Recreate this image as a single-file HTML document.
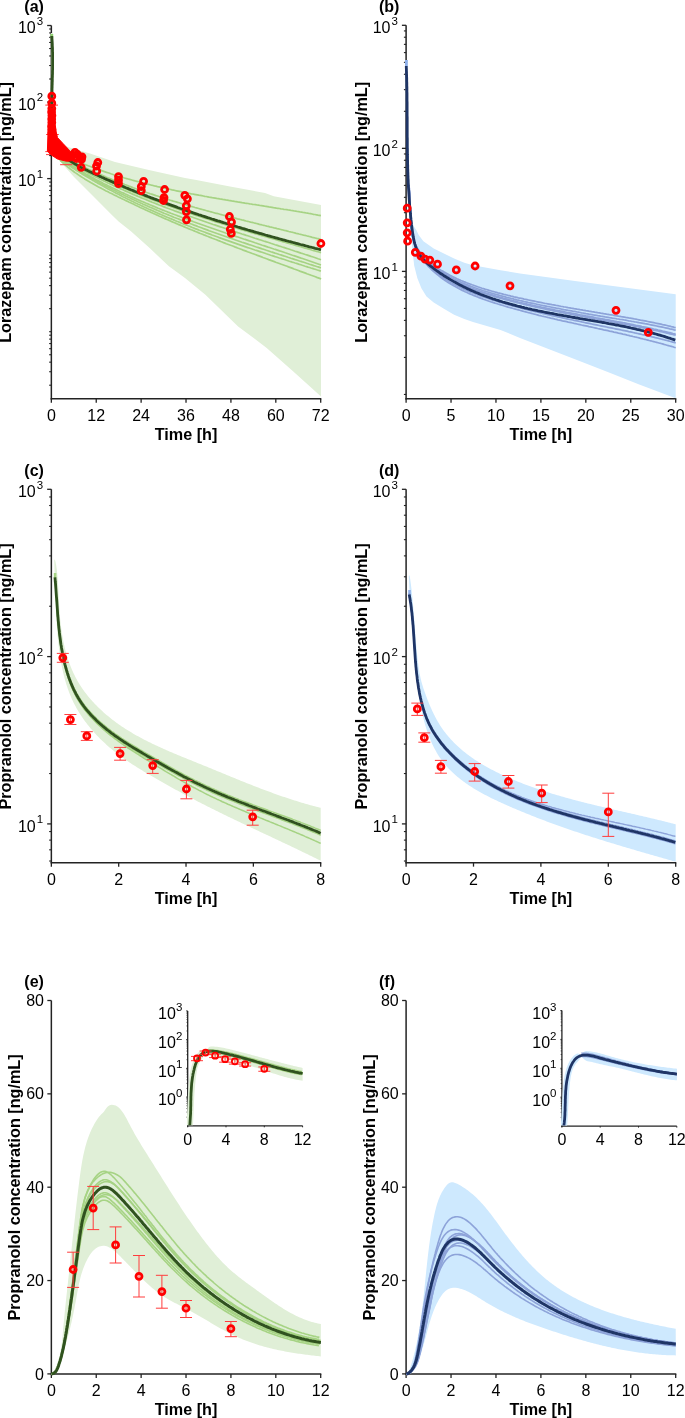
<!DOCTYPE html>
<html><head><meta charset="utf-8"><style>
html,body{margin:0;padding:0;background:#fff;}
svg{display:block;will-change:transform;}
text{font-family:"Liberation Sans", sans-serif;fill:#000;}
</style></head><body>
<svg width="685" height="1418" viewBox="0 0 685 1418">
<rect width="685" height="1418" fill="#fff"/>
<line x1="51.35" y1="25.50" x2="51.35" y2="399.50" stroke="#232323" stroke-width="1.5"/>
<line x1="50.65" y1="398.85" x2="321.30" y2="398.85" stroke="#232323" stroke-width="1.5"/>
<line x1="49.15" y1="385.21" x2="51.35" y2="385.21" stroke="#232323" stroke-width="1.1"/>
<line x1="49.15" y1="371.73" x2="51.35" y2="371.73" stroke="#232323" stroke-width="1.1"/>
<line x1="49.15" y1="362.16" x2="51.35" y2="362.16" stroke="#232323" stroke-width="1.1"/>
<line x1="49.15" y1="354.74" x2="51.35" y2="354.74" stroke="#232323" stroke-width="1.1"/>
<line x1="49.15" y1="348.68" x2="51.35" y2="348.68" stroke="#232323" stroke-width="1.1"/>
<line x1="49.15" y1="343.56" x2="51.35" y2="343.56" stroke="#232323" stroke-width="1.1"/>
<line x1="49.15" y1="339.12" x2="51.35" y2="339.12" stroke="#232323" stroke-width="1.1"/>
<line x1="49.15" y1="335.20" x2="51.35" y2="335.20" stroke="#232323" stroke-width="1.1"/>
<line x1="49.15" y1="331.70" x2="51.35" y2="331.70" stroke="#232323" stroke-width="1.1"/>
<line x1="49.15" y1="308.66" x2="51.35" y2="308.66" stroke="#232323" stroke-width="1.1"/>
<line x1="49.15" y1="295.18" x2="51.35" y2="295.18" stroke="#232323" stroke-width="1.1"/>
<line x1="49.15" y1="285.61" x2="51.35" y2="285.61" stroke="#232323" stroke-width="1.1"/>
<line x1="49.15" y1="278.19" x2="51.35" y2="278.19" stroke="#232323" stroke-width="1.1"/>
<line x1="49.15" y1="272.13" x2="51.35" y2="272.13" stroke="#232323" stroke-width="1.1"/>
<line x1="49.15" y1="267.01" x2="51.35" y2="267.01" stroke="#232323" stroke-width="1.1"/>
<line x1="49.15" y1="262.57" x2="51.35" y2="262.57" stroke="#232323" stroke-width="1.1"/>
<line x1="49.15" y1="258.65" x2="51.35" y2="258.65" stroke="#232323" stroke-width="1.1"/>
<line x1="49.15" y1="255.15" x2="51.35" y2="255.15" stroke="#232323" stroke-width="1.1"/>
<line x1="49.15" y1="232.11" x2="51.35" y2="232.11" stroke="#232323" stroke-width="1.1"/>
<line x1="49.15" y1="218.63" x2="51.35" y2="218.63" stroke="#232323" stroke-width="1.1"/>
<line x1="49.15" y1="209.06" x2="51.35" y2="209.06" stroke="#232323" stroke-width="1.1"/>
<line x1="49.15" y1="201.64" x2="51.35" y2="201.64" stroke="#232323" stroke-width="1.1"/>
<line x1="49.15" y1="195.58" x2="51.35" y2="195.58" stroke="#232323" stroke-width="1.1"/>
<line x1="49.15" y1="190.46" x2="51.35" y2="190.46" stroke="#232323" stroke-width="1.1"/>
<line x1="49.15" y1="186.02" x2="51.35" y2="186.02" stroke="#232323" stroke-width="1.1"/>
<line x1="49.15" y1="182.10" x2="51.35" y2="182.10" stroke="#232323" stroke-width="1.1"/>
<line x1="49.15" y1="155.56" x2="51.35" y2="155.56" stroke="#232323" stroke-width="1.1"/>
<line x1="49.15" y1="142.08" x2="51.35" y2="142.08" stroke="#232323" stroke-width="1.1"/>
<line x1="49.15" y1="132.51" x2="51.35" y2="132.51" stroke="#232323" stroke-width="1.1"/>
<line x1="49.15" y1="125.09" x2="51.35" y2="125.09" stroke="#232323" stroke-width="1.1"/>
<line x1="49.15" y1="119.03" x2="51.35" y2="119.03" stroke="#232323" stroke-width="1.1"/>
<line x1="49.15" y1="113.91" x2="51.35" y2="113.91" stroke="#232323" stroke-width="1.1"/>
<line x1="49.15" y1="109.47" x2="51.35" y2="109.47" stroke="#232323" stroke-width="1.1"/>
<line x1="49.15" y1="105.55" x2="51.35" y2="105.55" stroke="#232323" stroke-width="1.1"/>
<line x1="49.15" y1="79.01" x2="51.35" y2="79.01" stroke="#232323" stroke-width="1.1"/>
<line x1="49.15" y1="65.53" x2="51.35" y2="65.53" stroke="#232323" stroke-width="1.1"/>
<line x1="49.15" y1="55.96" x2="51.35" y2="55.96" stroke="#232323" stroke-width="1.1"/>
<line x1="49.15" y1="48.54" x2="51.35" y2="48.54" stroke="#232323" stroke-width="1.1"/>
<line x1="49.15" y1="42.48" x2="51.35" y2="42.48" stroke="#232323" stroke-width="1.1"/>
<line x1="49.15" y1="37.36" x2="51.35" y2="37.36" stroke="#232323" stroke-width="1.1"/>
<line x1="49.15" y1="32.92" x2="51.35" y2="32.92" stroke="#232323" stroke-width="1.1"/>
<line x1="49.15" y1="29.00" x2="51.35" y2="29.00" stroke="#232323" stroke-width="1.1"/>
<line x1="47.15" y1="178.60" x2="51.35" y2="178.60" stroke="#232323" stroke-width="1.3"/>
<text x="43.15" y="186.20" font-size="16" text-anchor="end">10<tspan font-size="11.5" dx="1" dy="-8.2">1</tspan></text>
<line x1="47.15" y1="102.05" x2="51.35" y2="102.05" stroke="#232323" stroke-width="1.3"/>
<text x="43.15" y="109.65" font-size="16" text-anchor="end">10<tspan font-size="11.5" dx="1" dy="-8.2">2</tspan></text>
<line x1="47.15" y1="25.50" x2="51.35" y2="25.50" stroke="#232323" stroke-width="1.3"/>
<text x="43.15" y="33.10" font-size="16" text-anchor="end">10<tspan font-size="11.5" dx="1" dy="-8.2">3</tspan></text>
<line x1="51.35" y1="398.85" x2="51.35" y2="402.85" stroke="#232323" stroke-width="1.3"/>
<text x="51.35" y="421.05" font-size="16" text-anchor="middle">0</text>
<line x1="96.24" y1="398.85" x2="96.24" y2="402.85" stroke="#232323" stroke-width="1.3"/>
<text x="96.24" y="421.05" font-size="16" text-anchor="middle">12</text>
<line x1="141.13" y1="398.85" x2="141.13" y2="402.85" stroke="#232323" stroke-width="1.3"/>
<text x="141.13" y="421.05" font-size="16" text-anchor="middle">24</text>
<line x1="186.02" y1="398.85" x2="186.02" y2="402.85" stroke="#232323" stroke-width="1.3"/>
<text x="186.02" y="421.05" font-size="16" text-anchor="middle">36</text>
<line x1="230.92" y1="398.85" x2="230.92" y2="402.85" stroke="#232323" stroke-width="1.3"/>
<text x="230.92" y="421.05" font-size="16" text-anchor="middle">48</text>
<line x1="275.81" y1="398.85" x2="275.81" y2="402.85" stroke="#232323" stroke-width="1.3"/>
<text x="275.81" y="421.05" font-size="16" text-anchor="middle">60</text>
<line x1="320.70" y1="398.85" x2="320.70" y2="402.85" stroke="#232323" stroke-width="1.3"/>
<text x="320.70" y="421.05" font-size="16" text-anchor="middle">72</text>
<line x1="406.10" y1="25.30" x2="406.10" y2="399.50" stroke="#232323" stroke-width="1.5"/>
<line x1="405.40" y1="398.85" x2="676.30" y2="398.85" stroke="#232323" stroke-width="1.5"/>
<line x1="403.90" y1="394.45" x2="406.10" y2="394.45" stroke="#232323" stroke-width="1.1"/>
<line x1="403.90" y1="357.41" x2="406.10" y2="357.41" stroke="#232323" stroke-width="1.1"/>
<line x1="403.90" y1="335.74" x2="406.10" y2="335.74" stroke="#232323" stroke-width="1.1"/>
<line x1="403.90" y1="320.37" x2="406.10" y2="320.37" stroke="#232323" stroke-width="1.1"/>
<line x1="403.90" y1="308.44" x2="406.10" y2="308.44" stroke="#232323" stroke-width="1.1"/>
<line x1="403.90" y1="298.70" x2="406.10" y2="298.70" stroke="#232323" stroke-width="1.1"/>
<line x1="403.90" y1="290.46" x2="406.10" y2="290.46" stroke="#232323" stroke-width="1.1"/>
<line x1="403.90" y1="283.32" x2="406.10" y2="283.32" stroke="#232323" stroke-width="1.1"/>
<line x1="403.90" y1="277.03" x2="406.10" y2="277.03" stroke="#232323" stroke-width="1.1"/>
<line x1="403.90" y1="234.36" x2="406.10" y2="234.36" stroke="#232323" stroke-width="1.1"/>
<line x1="403.90" y1="212.69" x2="406.10" y2="212.69" stroke="#232323" stroke-width="1.1"/>
<line x1="403.90" y1="197.32" x2="406.10" y2="197.32" stroke="#232323" stroke-width="1.1"/>
<line x1="403.90" y1="185.39" x2="406.10" y2="185.39" stroke="#232323" stroke-width="1.1"/>
<line x1="403.90" y1="175.65" x2="406.10" y2="175.65" stroke="#232323" stroke-width="1.1"/>
<line x1="403.90" y1="167.41" x2="406.10" y2="167.41" stroke="#232323" stroke-width="1.1"/>
<line x1="403.90" y1="160.27" x2="406.10" y2="160.27" stroke="#232323" stroke-width="1.1"/>
<line x1="403.90" y1="153.98" x2="406.10" y2="153.98" stroke="#232323" stroke-width="1.1"/>
<line x1="403.90" y1="111.31" x2="406.10" y2="111.31" stroke="#232323" stroke-width="1.1"/>
<line x1="403.90" y1="89.64" x2="406.10" y2="89.64" stroke="#232323" stroke-width="1.1"/>
<line x1="403.90" y1="74.27" x2="406.10" y2="74.27" stroke="#232323" stroke-width="1.1"/>
<line x1="403.90" y1="62.34" x2="406.10" y2="62.34" stroke="#232323" stroke-width="1.1"/>
<line x1="403.90" y1="52.60" x2="406.10" y2="52.60" stroke="#232323" stroke-width="1.1"/>
<line x1="403.90" y1="44.36" x2="406.10" y2="44.36" stroke="#232323" stroke-width="1.1"/>
<line x1="403.90" y1="37.22" x2="406.10" y2="37.22" stroke="#232323" stroke-width="1.1"/>
<line x1="403.90" y1="30.93" x2="406.10" y2="30.93" stroke="#232323" stroke-width="1.1"/>
<line x1="401.90" y1="271.40" x2="406.10" y2="271.40" stroke="#232323" stroke-width="1.3"/>
<text x="397.90" y="279.00" font-size="16" text-anchor="end">10<tspan font-size="11.5" dx="1" dy="-8.2">1</tspan></text>
<line x1="401.90" y1="148.35" x2="406.10" y2="148.35" stroke="#232323" stroke-width="1.3"/>
<text x="397.90" y="155.95" font-size="16" text-anchor="end">10<tspan font-size="11.5" dx="1" dy="-8.2">2</tspan></text>
<line x1="401.90" y1="25.30" x2="406.10" y2="25.30" stroke="#232323" stroke-width="1.3"/>
<text x="397.90" y="32.90" font-size="16" text-anchor="end">10<tspan font-size="11.5" dx="1" dy="-8.2">3</tspan></text>
<line x1="406.10" y1="398.85" x2="406.10" y2="402.85" stroke="#232323" stroke-width="1.3"/>
<text x="406.10" y="421.05" font-size="16" text-anchor="middle">0</text>
<line x1="451.03" y1="398.85" x2="451.03" y2="402.85" stroke="#232323" stroke-width="1.3"/>
<text x="451.03" y="421.05" font-size="16" text-anchor="middle">5</text>
<line x1="495.97" y1="398.85" x2="495.97" y2="402.85" stroke="#232323" stroke-width="1.3"/>
<text x="495.97" y="421.05" font-size="16" text-anchor="middle">10</text>
<line x1="540.90" y1="398.85" x2="540.90" y2="402.85" stroke="#232323" stroke-width="1.3"/>
<text x="540.90" y="421.05" font-size="16" text-anchor="middle">15</text>
<line x1="585.83" y1="398.85" x2="585.83" y2="402.85" stroke="#232323" stroke-width="1.3"/>
<text x="585.83" y="421.05" font-size="16" text-anchor="middle">20</text>
<line x1="630.77" y1="398.85" x2="630.77" y2="402.85" stroke="#232323" stroke-width="1.3"/>
<text x="630.77" y="421.05" font-size="16" text-anchor="middle">25</text>
<line x1="675.70" y1="398.85" x2="675.70" y2="402.85" stroke="#232323" stroke-width="1.3"/>
<text x="675.70" y="421.05" font-size="16" text-anchor="middle">30</text>
<line x1="51.35" y1="489.30" x2="51.35" y2="863.30" stroke="#232323" stroke-width="1.5"/>
<line x1="50.65" y1="862.65" x2="321.30" y2="862.65" stroke="#232323" stroke-width="1.5"/>
<line x1="49.15" y1="861.02" x2="51.35" y2="861.02" stroke="#232323" stroke-width="1.1"/>
<line x1="49.15" y1="849.82" x2="51.35" y2="849.82" stroke="#232323" stroke-width="1.1"/>
<line x1="49.15" y1="840.11" x2="51.35" y2="840.11" stroke="#232323" stroke-width="1.1"/>
<line x1="49.15" y1="831.56" x2="51.35" y2="831.56" stroke="#232323" stroke-width="1.1"/>
<line x1="49.15" y1="773.54" x2="51.35" y2="773.54" stroke="#232323" stroke-width="1.1"/>
<line x1="49.15" y1="744.08" x2="51.35" y2="744.08" stroke="#232323" stroke-width="1.1"/>
<line x1="49.15" y1="723.18" x2="51.35" y2="723.18" stroke="#232323" stroke-width="1.1"/>
<line x1="49.15" y1="706.96" x2="51.35" y2="706.96" stroke="#232323" stroke-width="1.1"/>
<line x1="49.15" y1="693.72" x2="51.35" y2="693.72" stroke="#232323" stroke-width="1.1"/>
<line x1="49.15" y1="682.52" x2="51.35" y2="682.52" stroke="#232323" stroke-width="1.1"/>
<line x1="49.15" y1="672.81" x2="51.35" y2="672.81" stroke="#232323" stroke-width="1.1"/>
<line x1="49.15" y1="664.26" x2="51.35" y2="664.26" stroke="#232323" stroke-width="1.1"/>
<line x1="49.15" y1="606.24" x2="51.35" y2="606.24" stroke="#232323" stroke-width="1.1"/>
<line x1="49.15" y1="576.78" x2="51.35" y2="576.78" stroke="#232323" stroke-width="1.1"/>
<line x1="49.15" y1="555.88" x2="51.35" y2="555.88" stroke="#232323" stroke-width="1.1"/>
<line x1="49.15" y1="539.66" x2="51.35" y2="539.66" stroke="#232323" stroke-width="1.1"/>
<line x1="49.15" y1="526.42" x2="51.35" y2="526.42" stroke="#232323" stroke-width="1.1"/>
<line x1="49.15" y1="515.22" x2="51.35" y2="515.22" stroke="#232323" stroke-width="1.1"/>
<line x1="49.15" y1="505.51" x2="51.35" y2="505.51" stroke="#232323" stroke-width="1.1"/>
<line x1="49.15" y1="496.96" x2="51.35" y2="496.96" stroke="#232323" stroke-width="1.1"/>
<line x1="47.15" y1="823.90" x2="51.35" y2="823.90" stroke="#232323" stroke-width="1.3"/>
<text x="43.15" y="831.50" font-size="16" text-anchor="end">10<tspan font-size="11.5" dx="1" dy="-8.2">1</tspan></text>
<line x1="47.15" y1="656.60" x2="51.35" y2="656.60" stroke="#232323" stroke-width="1.3"/>
<text x="43.15" y="664.20" font-size="16" text-anchor="end">10<tspan font-size="11.5" dx="1" dy="-8.2">2</tspan></text>
<line x1="47.15" y1="489.30" x2="51.35" y2="489.30" stroke="#232323" stroke-width="1.3"/>
<text x="43.15" y="496.90" font-size="16" text-anchor="end">10<tspan font-size="11.5" dx="1" dy="-8.2">3</tspan></text>
<line x1="51.35" y1="862.65" x2="51.35" y2="866.65" stroke="#232323" stroke-width="1.3"/>
<text x="51.35" y="884.85" font-size="16" text-anchor="middle">0</text>
<line x1="118.69" y1="862.65" x2="118.69" y2="866.65" stroke="#232323" stroke-width="1.3"/>
<text x="118.69" y="884.85" font-size="16" text-anchor="middle">2</text>
<line x1="186.02" y1="862.65" x2="186.02" y2="866.65" stroke="#232323" stroke-width="1.3"/>
<text x="186.02" y="884.85" font-size="16" text-anchor="middle">4</text>
<line x1="253.36" y1="862.65" x2="253.36" y2="866.65" stroke="#232323" stroke-width="1.3"/>
<text x="253.36" y="884.85" font-size="16" text-anchor="middle">6</text>
<line x1="320.70" y1="862.65" x2="320.70" y2="866.65" stroke="#232323" stroke-width="1.3"/>
<text x="320.70" y="884.85" font-size="16" text-anchor="middle">8</text>
<line x1="406.10" y1="489.30" x2="406.10" y2="863.30" stroke="#232323" stroke-width="1.5"/>
<line x1="405.40" y1="862.65" x2="676.30" y2="862.65" stroke="#232323" stroke-width="1.5"/>
<line x1="403.90" y1="861.02" x2="406.10" y2="861.02" stroke="#232323" stroke-width="1.1"/>
<line x1="403.90" y1="849.82" x2="406.10" y2="849.82" stroke="#232323" stroke-width="1.1"/>
<line x1="403.90" y1="840.11" x2="406.10" y2="840.11" stroke="#232323" stroke-width="1.1"/>
<line x1="403.90" y1="831.56" x2="406.10" y2="831.56" stroke="#232323" stroke-width="1.1"/>
<line x1="403.90" y1="773.54" x2="406.10" y2="773.54" stroke="#232323" stroke-width="1.1"/>
<line x1="403.90" y1="744.08" x2="406.10" y2="744.08" stroke="#232323" stroke-width="1.1"/>
<line x1="403.90" y1="723.18" x2="406.10" y2="723.18" stroke="#232323" stroke-width="1.1"/>
<line x1="403.90" y1="706.96" x2="406.10" y2="706.96" stroke="#232323" stroke-width="1.1"/>
<line x1="403.90" y1="693.72" x2="406.10" y2="693.72" stroke="#232323" stroke-width="1.1"/>
<line x1="403.90" y1="682.52" x2="406.10" y2="682.52" stroke="#232323" stroke-width="1.1"/>
<line x1="403.90" y1="672.81" x2="406.10" y2="672.81" stroke="#232323" stroke-width="1.1"/>
<line x1="403.90" y1="664.26" x2="406.10" y2="664.26" stroke="#232323" stroke-width="1.1"/>
<line x1="403.90" y1="606.24" x2="406.10" y2="606.24" stroke="#232323" stroke-width="1.1"/>
<line x1="403.90" y1="576.78" x2="406.10" y2="576.78" stroke="#232323" stroke-width="1.1"/>
<line x1="403.90" y1="555.88" x2="406.10" y2="555.88" stroke="#232323" stroke-width="1.1"/>
<line x1="403.90" y1="539.66" x2="406.10" y2="539.66" stroke="#232323" stroke-width="1.1"/>
<line x1="403.90" y1="526.42" x2="406.10" y2="526.42" stroke="#232323" stroke-width="1.1"/>
<line x1="403.90" y1="515.22" x2="406.10" y2="515.22" stroke="#232323" stroke-width="1.1"/>
<line x1="403.90" y1="505.51" x2="406.10" y2="505.51" stroke="#232323" stroke-width="1.1"/>
<line x1="403.90" y1="496.96" x2="406.10" y2="496.96" stroke="#232323" stroke-width="1.1"/>
<line x1="401.90" y1="823.90" x2="406.10" y2="823.90" stroke="#232323" stroke-width="1.3"/>
<text x="397.90" y="831.50" font-size="16" text-anchor="end">10<tspan font-size="11.5" dx="1" dy="-8.2">1</tspan></text>
<line x1="401.90" y1="656.60" x2="406.10" y2="656.60" stroke="#232323" stroke-width="1.3"/>
<text x="397.90" y="664.20" font-size="16" text-anchor="end">10<tspan font-size="11.5" dx="1" dy="-8.2">2</tspan></text>
<line x1="401.90" y1="489.30" x2="406.10" y2="489.30" stroke="#232323" stroke-width="1.3"/>
<text x="397.90" y="496.90" font-size="16" text-anchor="end">10<tspan font-size="11.5" dx="1" dy="-8.2">3</tspan></text>
<line x1="406.10" y1="862.65" x2="406.10" y2="866.65" stroke="#232323" stroke-width="1.3"/>
<text x="406.10" y="884.85" font-size="16" text-anchor="middle">0</text>
<line x1="473.50" y1="862.65" x2="473.50" y2="866.65" stroke="#232323" stroke-width="1.3"/>
<text x="473.50" y="884.85" font-size="16" text-anchor="middle">2</text>
<line x1="540.90" y1="862.65" x2="540.90" y2="866.65" stroke="#232323" stroke-width="1.3"/>
<text x="540.90" y="884.85" font-size="16" text-anchor="middle">4</text>
<line x1="608.30" y1="862.65" x2="608.30" y2="866.65" stroke="#232323" stroke-width="1.3"/>
<text x="608.30" y="884.85" font-size="16" text-anchor="middle">6</text>
<line x1="675.70" y1="862.65" x2="675.70" y2="866.65" stroke="#232323" stroke-width="1.3"/>
<text x="675.70" y="884.85" font-size="16" text-anchor="middle">8</text>
<line x1="51.35" y1="1000.50" x2="51.35" y2="1374.55" stroke="#232323" stroke-width="1.5"/>
<line x1="50.65" y1="1373.90" x2="321.30" y2="1373.90" stroke="#232323" stroke-width="1.5"/>
<line x1="47.35" y1="1373.90" x2="51.35" y2="1373.90" stroke="#232323" stroke-width="1.3"/>
<text x="43.95" y="1379.50" font-size="16" text-anchor="end">0</text>
<line x1="47.35" y1="1280.55" x2="51.35" y2="1280.55" stroke="#232323" stroke-width="1.3"/>
<text x="43.95" y="1286.15" font-size="16" text-anchor="end">20</text>
<line x1="47.35" y1="1187.20" x2="51.35" y2="1187.20" stroke="#232323" stroke-width="1.3"/>
<text x="43.95" y="1192.80" font-size="16" text-anchor="end">40</text>
<line x1="47.35" y1="1093.85" x2="51.35" y2="1093.85" stroke="#232323" stroke-width="1.3"/>
<text x="43.95" y="1099.45" font-size="16" text-anchor="end">60</text>
<line x1="47.35" y1="1000.50" x2="51.35" y2="1000.50" stroke="#232323" stroke-width="1.3"/>
<text x="43.95" y="1006.10" font-size="16" text-anchor="end">80</text>
<line x1="51.35" y1="1373.90" x2="51.35" y2="1377.90" stroke="#232323" stroke-width="1.3"/>
<text x="51.35" y="1396.10" font-size="16" text-anchor="middle">0</text>
<line x1="96.24" y1="1373.90" x2="96.24" y2="1377.90" stroke="#232323" stroke-width="1.3"/>
<text x="96.24" y="1396.10" font-size="16" text-anchor="middle">2</text>
<line x1="141.13" y1="1373.90" x2="141.13" y2="1377.90" stroke="#232323" stroke-width="1.3"/>
<text x="141.13" y="1396.10" font-size="16" text-anchor="middle">4</text>
<line x1="186.02" y1="1373.90" x2="186.02" y2="1377.90" stroke="#232323" stroke-width="1.3"/>
<text x="186.02" y="1396.10" font-size="16" text-anchor="middle">6</text>
<line x1="230.92" y1="1373.90" x2="230.92" y2="1377.90" stroke="#232323" stroke-width="1.3"/>
<text x="230.92" y="1396.10" font-size="16" text-anchor="middle">8</text>
<line x1="275.81" y1="1373.90" x2="275.81" y2="1377.90" stroke="#232323" stroke-width="1.3"/>
<text x="275.81" y="1396.10" font-size="16" text-anchor="middle">10</text>
<line x1="320.70" y1="1373.90" x2="320.70" y2="1377.90" stroke="#232323" stroke-width="1.3"/>
<text x="320.70" y="1396.10" font-size="16" text-anchor="middle">12</text>
<line x1="406.10" y1="1000.50" x2="406.10" y2="1374.55" stroke="#232323" stroke-width="1.5"/>
<line x1="405.40" y1="1373.90" x2="676.30" y2="1373.90" stroke="#232323" stroke-width="1.5"/>
<line x1="402.10" y1="1373.90" x2="406.10" y2="1373.90" stroke="#232323" stroke-width="1.3"/>
<text x="398.70" y="1379.50" font-size="16" text-anchor="end">0</text>
<line x1="402.10" y1="1280.55" x2="406.10" y2="1280.55" stroke="#232323" stroke-width="1.3"/>
<text x="398.70" y="1286.15" font-size="16" text-anchor="end">20</text>
<line x1="402.10" y1="1187.20" x2="406.10" y2="1187.20" stroke="#232323" stroke-width="1.3"/>
<text x="398.70" y="1192.80" font-size="16" text-anchor="end">40</text>
<line x1="402.10" y1="1093.85" x2="406.10" y2="1093.85" stroke="#232323" stroke-width="1.3"/>
<text x="398.70" y="1099.45" font-size="16" text-anchor="end">60</text>
<line x1="402.10" y1="1000.50" x2="406.10" y2="1000.50" stroke="#232323" stroke-width="1.3"/>
<text x="398.70" y="1006.10" font-size="16" text-anchor="end">80</text>
<line x1="406.10" y1="1373.90" x2="406.10" y2="1377.90" stroke="#232323" stroke-width="1.3"/>
<text x="406.10" y="1396.10" font-size="16" text-anchor="middle">0</text>
<line x1="451.03" y1="1373.90" x2="451.03" y2="1377.90" stroke="#232323" stroke-width="1.3"/>
<text x="451.03" y="1396.10" font-size="16" text-anchor="middle">2</text>
<line x1="495.97" y1="1373.90" x2="495.97" y2="1377.90" stroke="#232323" stroke-width="1.3"/>
<text x="495.97" y="1396.10" font-size="16" text-anchor="middle">4</text>
<line x1="540.90" y1="1373.90" x2="540.90" y2="1377.90" stroke="#232323" stroke-width="1.3"/>
<text x="540.90" y="1396.10" font-size="16" text-anchor="middle">6</text>
<line x1="585.83" y1="1373.90" x2="585.83" y2="1377.90" stroke="#232323" stroke-width="1.3"/>
<text x="585.83" y="1396.10" font-size="16" text-anchor="middle">8</text>
<line x1="630.77" y1="1373.90" x2="630.77" y2="1377.90" stroke="#232323" stroke-width="1.3"/>
<text x="630.77" y="1396.10" font-size="16" text-anchor="middle">10</text>
<line x1="675.70" y1="1373.90" x2="675.70" y2="1377.90" stroke="#232323" stroke-width="1.3"/>
<text x="675.70" y="1396.10" font-size="16" text-anchor="middle">12</text>
<path d="M51.00,33.00 L52.60,33.00 L52.90,60.00 L53.30,100.00 L54.50,125.00 L57.00,138.00 L62.00,145.00 L70.30,147.70 L90.00,153.50 L115.00,162.00 L150.00,170.20 L185.00,178.00 L195.00,179.70 L230.00,186.50 L265.00,193.00 L273.80,196.30 L321.00,205.10 L321.00,396.50 L293.30,371.40 L266.70,347.90 L238.10,326.40 L205.40,294.70 L185.00,278.00 L168.90,266.30 L149.90,248.30 L130.90,231.20 L118.60,221.50 L111.90,215.00 L93.00,196.10 L74.00,177.10 L60.70,161.90 L55.00,155.00 L52.50,148.00 L51.30,130.00 Z" fill="#e0efd7"/>
<path d="M57.7,152.6 59.0,153.3 60.4,154.0 61.8,154.6 63.1,155.2 64.5,155.9 65.9,156.5 67.3,157.1 68.6,157.7 70.0,158.3 71.4,158.9 72.8,159.5 74.2,160.1 75.6,160.7 77.0,161.3 78.4,161.9 79.8,162.5 81.2,163.0 82.6,163.6 84.0,164.1 85.4,164.7 86.8,165.2 88.2,165.8 89.6,166.3 91.0,166.8 92.4,167.4 93.8,167.9 95.2,168.4 96.6,168.9 98.1,169.4 99.5,169.9 100.9,170.4 102.3,170.9 103.7,171.4 105.2,171.9 106.6,172.4 108.0,172.8 109.5,173.3 110.9,173.8 112.3,174.2 113.7,174.7 115.2,175.1 116.6,175.6 118.1,176.0 119.5,176.5 120.9,176.9 122.4,177.3 123.8,177.8 125.3,178.2 126.7,178.6 128.2,179.0 129.6,179.4 131.1,179.8 132.5,180.2 134.0,180.6 135.4,181.0 136.9,181.4 138.3,181.8 139.8,182.2 141.2,182.6 142.7,183.0 144.2,183.3 145.6,183.7 147.1,184.1 148.6,184.4 150.0,184.8 151.5,185.2 153.0,185.5 154.4,185.9 155.9,186.2 157.4,186.6 158.8,186.9 160.3,187.2 161.8,187.6 163.2,187.9 164.7,188.2 166.2,188.6 167.7,188.9 169.1,189.2 170.6,189.5 172.1,189.9 173.6,190.2 175.1,190.5 176.5,190.8 178.0,191.1 179.5,191.4 181.0,191.7 182.5,192.0 183.9,192.3 185.4,192.6 186.9,192.9 188.4,193.2 189.9,193.5 191.4,193.8 192.9,194.0 194.3,194.3 195.8,194.6 197.3,194.9 198.8,195.2 200.3,195.4 201.8,195.7 203.3,196.0 204.8,196.3 206.3,196.5 207.7,196.8 209.2,197.1 210.7,197.3 212.2,197.6 213.7,197.8 215.2,198.1 216.7,198.4 218.2,198.6 219.7,198.9 221.2,199.1 222.7,199.4 224.2,199.6 225.7,199.9 227.2,200.1 228.7,200.4 230.1,200.6 231.6,200.9 233.1,201.1 234.6,201.4 236.1,201.6 237.6,201.9 239.1,202.1 240.6,202.3 242.1,202.6 243.6,202.8 245.1,203.1 246.6,203.3 248.1,203.5 249.6,203.8 251.1,204.0 252.6,204.3 254.1,204.5 255.6,204.7 257.1,205.0 258.5,205.2 260.0,205.5 261.5,205.7 263.0,205.9 264.5,206.2 266.0,206.4 267.5,206.6 269.0,206.9 270.5,207.1 272.0,207.3 273.5,207.6 275.0,207.8 276.5,208.1 277.9,208.3 279.4,208.5 280.9,208.8 282.4,209.0 283.9,209.3 285.4,209.5 286.9,209.7 288.4,210.0 289.9,210.2 291.3,210.5 292.8,210.7 294.3,211.0 295.8,211.2 297.3,211.5 298.8,211.7 300.2,212.0 301.7,212.2 303.2,212.5 304.7,212.7 306.2,213.0 307.6,213.2 309.1,213.5 310.6,213.7 312.1,214.0 313.5,214.3 315.0,214.5 316.5,214.8 318.0,215.1 319.4,215.3 320.9,215.6" fill="none" stroke="#a6d384" stroke-width="1.7"/>
<path d="M60.0,154.9 61.3,155.6 62.7,156.3 64.0,157.0 65.4,157.8 66.7,158.5 68.0,159.2 69.4,159.9 70.7,160.6 72.1,161.3 73.5,162.0 74.8,162.6 76.2,163.3 77.5,164.0 78.9,164.7 80.3,165.3 81.6,166.0 83.0,166.6 84.4,167.3 85.7,167.9 87.1,168.6 88.5,169.2 89.8,169.9 91.2,170.5 92.6,171.1 94.0,171.7 95.4,172.4 96.7,173.0 98.1,173.6 99.5,174.2 100.9,174.8 102.3,175.4 103.7,176.0 105.1,176.6 106.4,177.2 107.8,177.8 109.2,178.3 110.6,178.9 112.0,179.5 113.4,180.1 114.8,180.6 116.2,181.2 117.6,181.7 119.0,182.3 120.4,182.8 121.9,183.4 123.3,183.9 124.7,184.5 126.1,185.0 127.5,185.5 128.9,186.1 130.3,186.6 131.7,187.1 133.2,187.7 134.6,188.2 136.0,188.7 137.4,189.2 138.8,189.7 140.3,190.2 141.7,190.7 143.1,191.2 144.5,191.7 146.0,192.2 147.4,192.7 148.8,193.2 150.2,193.7 151.7,194.1 153.1,194.6 154.5,195.1 156.0,195.6 157.4,196.0 158.8,196.5 160.3,197.0 161.7,197.4 163.1,197.9 164.6,198.4 166.0,198.8 167.5,199.3 168.9,199.7 170.4,200.2 171.8,200.6 173.2,201.1 174.7,201.5 176.1,201.9 177.6,202.4 179.0,202.8 180.5,203.2 181.9,203.7 183.4,204.1 184.8,204.5 186.3,205.0 187.7,205.4 189.2,205.8 190.6,206.2 192.1,206.6 193.5,207.0 195.0,207.5 196.5,207.9 197.9,208.3 199.4,208.7 200.8,209.1 202.3,209.5 203.7,209.9 205.2,210.3 206.7,210.7 208.1,211.1 209.6,211.5 211.0,211.9 212.5,212.3 214.0,212.7 215.4,213.1 216.9,213.4 218.4,213.8 219.8,214.2 221.3,214.6 222.7,215.0 224.2,215.4 225.7,215.8 227.1,216.1 228.6,216.5 230.1,216.9 231.5,217.3 233.0,217.6 234.5,218.0 235.9,218.4 237.4,218.8 238.9,219.1 240.3,219.5 241.8,219.9 243.3,220.2 244.7,220.6 246.2,221.0 247.7,221.3 249.2,221.7 250.6,222.1 252.1,222.4 253.6,222.8 255.0,223.2 256.5,223.5 258.0,223.9 259.4,224.3 260.9,224.6 262.4,225.0 263.8,225.3 265.3,225.7 266.8,226.1 268.3,226.4 269.7,226.8 271.2,227.1 272.7,227.5 274.1,227.9 275.6,228.2 277.1,228.6 278.5,228.9 280.0,229.3 281.5,229.7 282.9,230.0 284.4,230.4 285.9,230.7 287.4,231.1 288.8,231.5 290.3,231.8 291.8,232.2 293.2,232.5 294.7,232.9 296.2,233.3 297.6,233.6 299.1,234.0 300.6,234.3 302.0,234.7 303.5,235.1 305.0,235.4 306.4,235.8 307.9,236.2 309.3,236.5 310.8,236.9 312.3,237.3 313.7,237.6 315.2,238.0 316.7,238.4 318.1,238.7 319.6,239.1 321.0,239.5" fill="none" stroke="#a6d384" stroke-width="1.7"/>
<path d="M60.0,156.0 61.3,156.7 62.6,157.5 63.9,158.2 65.2,159.0 66.5,159.7 67.9,160.5 69.2,161.2 70.5,162.0 71.8,162.7 73.2,163.4 74.5,164.2 75.8,164.9 77.1,165.6 78.5,166.3 79.8,167.0 81.2,167.7 82.5,168.4 83.8,169.1 85.2,169.8 86.5,170.5 87.9,171.2 89.2,171.9 90.6,172.6 91.9,173.3 93.3,173.9 94.6,174.6 96.0,175.3 97.3,175.9 98.7,176.6 100.0,177.3 101.4,177.9 102.7,178.6 104.1,179.2 105.5,179.8 106.8,180.5 108.2,181.1 109.6,181.8 110.9,182.4 112.3,183.0 113.7,183.6 115.1,184.3 116.4,184.9 117.8,185.5 119.2,186.1 120.6,186.7 122.0,187.3 123.3,187.9 124.7,188.5 126.1,189.1 127.5,189.7 128.9,190.3 130.3,190.9 131.7,191.4 133.0,192.0 134.4,192.6 135.8,193.2 137.2,193.7 138.6,194.3 140.0,194.9 141.4,195.4 142.8,196.0 144.2,196.6 145.6,197.1 147.0,197.7 148.4,198.2 149.8,198.8 151.2,199.3 152.6,199.9 154.0,200.4 155.4,200.9 156.9,201.5 158.3,202.0 159.7,202.5 161.1,203.1 162.5,203.6 163.9,204.1 165.3,204.6 166.7,205.1 168.2,205.7 169.6,206.2 171.0,206.7 172.4,207.2 173.8,207.7 175.3,208.2 176.7,208.7 178.1,209.2 179.5,209.7 180.9,210.2 182.4,210.7 183.8,211.2 185.2,211.7 186.7,212.2 188.1,212.7 189.5,213.2 190.9,213.6 192.4,214.1 193.8,214.6 195.2,215.1 196.7,215.6 198.1,216.0 199.5,216.5 201.0,217.0 202.4,217.4 203.8,217.9 205.3,218.4 206.7,218.8 208.1,219.3 209.6,219.8 211.0,220.2 212.5,220.7 213.9,221.1 215.3,221.6 216.8,222.1 218.2,222.5 219.7,223.0 221.1,223.4 222.5,223.9 224.0,224.3 225.4,224.7 226.9,225.2 228.3,225.6 229.8,226.1 231.2,226.5 232.6,227.0 234.1,227.4 235.5,227.8 237.0,228.3 238.4,228.7 239.9,229.1 241.3,229.6 242.8,230.0 244.2,230.4 245.7,230.9 247.1,231.3 248.6,231.7 250.0,232.2 251.5,232.6 252.9,233.0 254.4,233.4 255.8,233.9 257.3,234.3 258.7,234.7 260.2,235.1 261.6,235.6 263.1,236.0 264.5,236.4 266.0,236.8 267.4,237.3 268.9,237.7 270.3,238.1 271.8,238.5 273.2,238.9 274.7,239.3 276.1,239.8 277.6,240.2 279.0,240.6 280.5,241.0 281.9,241.4 283.4,241.9 284.8,242.3 286.3,242.7 287.7,243.1 289.2,243.5 290.6,243.9 292.1,244.3 293.5,244.8 295.0,245.2 296.4,245.6 297.9,246.0 299.3,246.4 300.8,246.8 302.2,247.3 303.7,247.7 305.1,248.1 306.6,248.5 308.0,248.9 309.5,249.3 310.9,249.7 312.3,250.2 313.8,250.6 315.2,251.0 316.7,251.4 318.1,251.8 319.6,252.2 321.0,252.7" fill="none" stroke="#a6d384" stroke-width="1.7"/>
<path d="M59.9,157.1 61.2,157.9 62.5,158.6 63.8,159.4 65.1,160.2 66.4,161.0 67.7,161.7 69.1,162.5 70.4,163.3 71.7,164.0 73.0,164.8 74.3,165.5 75.6,166.2 77.0,167.0 78.3,167.7 79.6,168.4 81.0,169.2 82.3,169.9 83.6,170.6 85.0,171.3 86.3,172.0 87.6,172.7 89.0,173.4 90.3,174.1 91.6,174.8 93.0,175.5 94.3,176.2 95.7,176.9 97.0,177.6 98.4,178.2 99.7,178.9 101.1,179.6 102.4,180.3 103.8,180.9 105.2,181.6 106.5,182.2 107.9,182.9 109.2,183.5 110.6,184.2 112.0,184.8 113.3,185.5 114.7,186.1 116.1,186.7 117.5,187.4 118.8,188.0 120.2,188.6 121.6,189.2 123.0,189.8 124.3,190.5 125.7,191.1 127.1,191.7 128.5,192.3 129.9,192.9 131.2,193.5 132.6,194.1 134.0,194.7 135.4,195.3 136.8,195.9 138.2,196.5 139.6,197.0 141.0,197.6 142.4,198.2 143.8,198.8 145.2,199.3 146.6,199.9 148.0,200.5 149.4,201.1 150.8,201.6 152.2,202.2 153.6,202.7 155.0,203.3 156.4,203.9 157.8,204.4 159.2,205.0 160.6,205.5 162.0,206.0 163.4,206.6 164.8,207.1 166.2,207.7 167.6,208.2 169.1,208.7 170.5,209.3 171.9,209.8 173.3,210.3 174.7,210.9 176.1,211.4 177.6,211.9 179.0,212.4 180.4,212.9 181.8,213.5 183.2,214.0 184.7,214.5 186.1,215.0 187.5,215.5 188.9,216.0 190.4,216.5 191.8,217.0 193.2,217.5 194.6,218.0 196.1,218.5 197.5,219.0 198.9,219.5 200.3,220.0 201.8,220.5 203.2,221.0 204.6,221.5 206.1,222.0 207.5,222.5 208.9,223.0 210.4,223.5 211.8,224.0 213.2,224.5 214.7,224.9 216.1,225.4 217.5,225.9 219.0,226.4 220.4,226.9 221.8,227.3 223.3,227.8 224.7,228.3 226.2,228.8 227.6,229.3 229.0,229.7 230.5,230.2 231.9,230.7 233.3,231.2 234.8,231.6 236.2,232.1 237.7,232.6 239.1,233.0 240.5,233.5 242.0,234.0 243.4,234.4 244.9,234.9 246.3,235.4 247.7,235.8 249.2,236.3 250.6,236.8 252.1,237.2 253.5,237.7 254.9,238.2 256.4,238.6 257.8,239.1 259.3,239.6 260.7,240.0 262.1,240.5 263.6,241.0 265.0,241.4 266.5,241.9 267.9,242.3 269.3,242.8 270.8,243.3 272.2,243.7 273.7,244.2 275.1,244.7 276.5,245.1 278.0,245.6 279.4,246.1 280.9,246.5 282.3,247.0 283.7,247.4 285.2,247.9 286.6,248.4 288.0,248.8 289.5,249.3 290.9,249.8 292.4,250.2 293.8,250.7 295.2,251.2 296.7,251.6 298.1,252.1 299.5,252.6 301.0,253.1 302.4,253.5 303.8,254.0 305.3,254.5 306.7,254.9 308.1,255.4 309.6,255.9 311.0,256.4 312.4,256.8 313.9,257.3 315.3,257.8 316.7,258.3 318.1,258.8 319.6,259.2 321.0,259.7" fill="none" stroke="#a6d384" stroke-width="1.7"/>
<path d="M59.9,158.1 61.1,159.0 62.4,159.8 63.7,160.6 65.0,161.4 66.3,162.2 67.6,163.0 68.9,163.8 70.1,164.6 71.4,165.4 72.7,166.2 74.0,167.0 75.3,167.8 76.6,168.6 78.0,169.3 79.3,170.1 80.6,170.9 81.9,171.6 83.2,172.4 84.5,173.1 85.8,173.9 87.2,174.6 88.5,175.3 89.8,176.1 91.1,176.8 92.5,177.5 93.8,178.2 95.1,179.0 96.4,179.7 97.8,180.4 99.1,181.1 100.5,181.8 101.8,182.5 103.1,183.2 104.5,183.9 105.8,184.5 107.2,185.2 108.5,185.9 109.9,186.6 111.2,187.3 112.6,187.9 113.9,188.6 115.3,189.2 116.7,189.9 118.0,190.6 119.4,191.2 120.8,191.9 122.1,192.5 123.5,193.1 124.9,193.8 126.2,194.4 127.6,195.0 129.0,195.7 130.4,196.3 131.7,196.9 133.1,197.5 134.5,198.1 135.9,198.8 137.2,199.4 138.6,200.0 140.0,200.6 141.4,201.2 142.8,201.8 144.2,202.4 145.6,203.0 147.0,203.5 148.4,204.1 149.7,204.7 151.1,205.3 152.5,205.9 153.9,206.4 155.3,207.0 156.7,207.6 158.1,208.2 159.5,208.7 160.9,209.3 162.3,209.9 163.7,210.4 165.2,211.0 166.6,211.5 168.0,212.1 169.4,212.6 170.8,213.2 172.2,213.7 173.6,214.3 175.0,214.8 176.4,215.3 177.9,215.9 179.3,216.4 180.7,216.9 182.1,217.5 183.5,218.0 184.9,218.5 186.4,219.1 187.8,219.6 189.2,220.1 190.6,220.6 192.0,221.1 193.5,221.7 194.9,222.2 196.3,222.7 197.7,223.2 199.2,223.7 200.6,224.2 202.0,224.7 203.5,225.2 204.9,225.7 206.3,226.2 207.7,226.7 209.2,227.2 210.6,227.7 212.0,228.2 213.5,228.7 214.9,229.2 216.3,229.7 217.8,230.2 219.2,230.7 220.6,231.2 222.1,231.7 223.5,232.2 224.9,232.7 226.4,233.2 227.8,233.6 229.2,234.1 230.7,234.6 232.1,235.1 233.6,235.6 235.0,236.1 236.4,236.6 237.9,237.0 239.3,237.5 240.7,238.0 242.2,238.5 243.6,239.0 245.1,239.4 246.5,239.9 247.9,240.4 249.4,240.9 250.8,241.3 252.2,241.8 253.7,242.3 255.1,242.8 256.6,243.2 258.0,243.7 259.4,244.2 260.9,244.7 262.3,245.2 263.8,245.6 265.2,246.1 266.6,246.6 268.1,247.1 269.5,247.5 270.9,248.0 272.4,248.5 273.8,249.0 275.3,249.4 276.7,249.9 278.1,250.4 279.6,250.9 281.0,251.3 282.4,251.8 283.9,252.3 285.3,252.8 286.7,253.2 288.2,253.7 289.6,254.2 291.0,254.7 292.5,255.2 293.9,255.6 295.3,256.1 296.8,256.6 298.2,257.1 299.6,257.6 301.1,258.1 302.5,258.5 303.9,259.0 305.3,259.5 306.8,260.0 308.2,260.5 309.6,261.0 311.1,261.5 312.5,262.0 313.9,262.5 315.3,263.0 316.8,263.5 318.2,264.0 319.6,264.5 321.0,265.0" fill="none" stroke="#a6d384" stroke-width="1.7"/>
<path d="M59.8,158.8 61.0,159.7 62.3,160.5 63.6,161.3 64.9,162.1 66.1,163.0 67.4,163.8 68.7,164.6 70.0,165.4 71.2,166.2 72.5,167.0 73.8,167.8 75.1,168.6 76.4,169.4 77.7,170.1 79.0,170.9 80.3,171.7 81.6,172.5 82.9,173.2 84.2,174.0 85.5,174.7 86.8,175.5 88.1,176.3 89.4,177.0 90.7,177.7 92.0,178.5 93.3,179.2 94.7,180.0 96.0,180.7 97.3,181.4 98.6,182.1 99.9,182.9 101.3,183.6 102.6,184.3 103.9,185.0 105.3,185.7 106.6,186.4 107.9,187.1 109.3,187.8 110.6,188.5 112.0,189.2 113.3,189.9 114.6,190.5 116.0,191.2 117.3,191.9 118.7,192.6 120.0,193.2 121.4,193.9 122.7,194.6 124.1,195.2 125.5,195.9 126.8,196.5 128.2,197.2 129.5,197.8 130.9,198.5 132.3,199.1 133.6,199.8 135.0,200.4 136.4,201.0 137.7,201.7 139.1,202.3 140.5,202.9 141.9,203.6 143.2,204.2 144.6,204.8 146.0,205.4 147.4,206.0 148.7,206.6 150.1,207.2 151.5,207.8 152.9,208.4 154.3,209.0 155.7,209.6 157.1,210.2 158.4,210.8 159.8,211.4 161.2,212.0 162.6,212.6 164.0,213.2 165.4,213.7 166.8,214.3 168.2,214.9 169.6,215.5 171.0,216.0 172.4,216.6 173.8,217.2 175.2,217.7 176.6,218.3 178.0,218.8 179.4,219.4 180.8,220.0 182.2,220.5 183.6,221.1 185.1,221.6 186.5,222.2 187.9,222.7 189.3,223.2 190.7,223.8 192.1,224.3 193.5,224.9 194.9,225.4 196.4,225.9 197.8,226.5 199.2,227.0 200.6,227.5 202.0,228.0 203.5,228.6 204.9,229.1 206.3,229.6 207.7,230.1 209.1,230.7 210.6,231.2 212.0,231.7 213.4,232.2 214.8,232.7 216.3,233.2 217.7,233.7 219.1,234.2 220.5,234.7 222.0,235.2 223.4,235.7 224.8,236.2 226.3,236.7 227.7,237.2 229.1,237.7 230.6,238.2 232.0,238.7 233.4,239.2 234.8,239.7 236.3,240.2 237.7,240.7 239.1,241.2 240.6,241.7 242.0,242.2 243.4,242.6 244.9,243.1 246.3,243.6 247.8,244.1 249.2,244.6 250.6,245.0 252.1,245.5 253.5,246.0 254.9,246.5 256.4,247.0 257.8,247.4 259.2,247.9 260.7,248.4 262.1,248.9 263.5,249.3 265.0,249.8 266.4,250.3 267.9,250.7 269.3,251.2 270.7,251.7 272.2,252.1 273.6,252.6 275.0,253.1 276.5,253.5 277.9,254.0 279.4,254.5 280.8,254.9 282.2,255.4 283.7,255.9 285.1,256.3 286.5,256.8 288.0,257.3 289.4,257.7 290.8,258.2 292.3,258.6 293.7,259.1 295.2,259.6 296.6,260.0 298.0,260.5 299.5,261.0 300.9,261.4 302.3,261.9 303.8,262.3 305.2,262.8 306.6,263.3 308.1,263.7 309.5,264.2 310.9,264.6 312.4,265.1 313.8,265.6 315.2,266.0 316.6,266.5 318.1,266.9 319.5,267.4 320.9,267.9" fill="none" stroke="#a6d384" stroke-width="1.7"/>
<path d="M59.7,159.4 61.0,160.2 62.2,161.1 63.5,161.9 64.7,162.8 66.0,163.6 67.3,164.5 68.5,165.3 69.8,166.1 71.0,166.9 72.3,167.8 73.6,168.6 74.9,169.4 76.1,170.2 77.4,171.0 78.7,171.8 80.0,172.6 81.2,173.4 82.5,174.2 83.8,175.0 85.1,175.7 86.4,176.5 87.7,177.3 89.0,178.1 90.3,178.8 91.6,179.6 92.9,180.4 94.2,181.1 95.5,181.9 96.8,182.6 98.1,183.4 99.4,184.1 100.7,184.8 102.0,185.6 103.4,186.3 104.7,187.0 106.0,187.8 107.3,188.5 108.6,189.2 110.0,189.9 111.3,190.6 112.6,191.3 114.0,192.0 115.3,192.7 116.6,193.4 118.0,194.1 119.3,194.8 120.6,195.5 122.0,196.2 123.3,196.9 124.7,197.6 126.0,198.2 127.4,198.9 128.7,199.6 130.1,200.2 131.4,200.9 132.8,201.6 134.1,202.2 135.5,202.9 136.8,203.5 138.2,204.2 139.6,204.8 140.9,205.5 142.3,206.1 143.7,206.8 145.0,207.4 146.4,208.0 147.8,208.7 149.1,209.3 150.5,209.9 151.9,210.5 153.3,211.1 154.6,211.8 156.0,212.4 157.4,213.0 158.8,213.6 160.2,214.2 161.5,214.8 162.9,215.4 164.3,216.0 165.7,216.6 167.1,217.2 168.5,217.8 169.9,218.4 171.3,218.9 172.7,219.5 174.1,220.1 175.4,220.7 176.8,221.3 178.2,221.8 179.6,222.4 181.0,223.0 182.4,223.5 183.8,224.1 185.2,224.7 186.7,225.2 188.1,225.8 189.5,226.3 190.9,226.9 192.3,227.5 193.7,228.0 195.1,228.6 196.5,229.1 197.9,229.6 199.3,230.2 200.7,230.7 202.2,231.3 203.6,231.8 205.0,232.3 206.4,232.9 207.8,233.4 209.2,233.9 210.7,234.4 212.1,235.0 213.5,235.5 214.9,236.0 216.3,236.5 217.8,237.0 219.2,237.6 220.6,238.1 222.0,238.6 223.5,239.1 224.9,239.6 226.3,240.1 227.7,240.6 229.2,241.1 230.6,241.6 232.0,242.1 233.4,242.6 234.9,243.1 236.3,243.6 237.7,244.1 239.2,244.6 240.6,245.1 242.0,245.6 243.5,246.1 244.9,246.6 246.3,247.1 247.7,247.6 249.2,248.0 250.6,248.5 252.0,249.0 253.5,249.5 254.9,250.0 256.4,250.4 257.8,250.9 259.2,251.4 260.7,251.9 262.1,252.3 263.5,252.8 265.0,253.3 266.4,253.8 267.8,254.2 269.3,254.7 270.7,255.2 272.1,255.6 273.6,256.1 275.0,256.6 276.4,257.0 277.9,257.5 279.3,258.0 280.8,258.4 282.2,258.9 283.6,259.3 285.1,259.8 286.5,260.3 287.9,260.7 289.4,261.2 290.8,261.6 292.2,262.1 293.7,262.5 295.1,263.0 296.6,263.4 298.0,263.9 299.4,264.4 300.9,264.8 302.3,265.3 303.7,265.7 305.2,266.2 306.6,266.6 308.0,267.1 309.5,267.5 310.9,268.0 312.3,268.4 313.8,268.9 315.2,269.3 316.6,269.8 318.1,270.2 319.5,270.6 320.9,271.1" fill="none" stroke="#a6d384" stroke-width="1.7"/>
<path d="M59.9,160.1 61.0,161.2 62.2,162.2 63.3,163.2 64.4,164.2 65.6,165.2 66.8,166.2 67.9,167.1 69.1,168.0 70.3,169.0 71.5,169.9 72.7,170.8 73.9,171.7 75.1,172.6 76.4,173.4 77.6,174.3 78.8,175.1 80.1,176.0 81.3,176.8 82.6,177.6 83.9,178.4 85.1,179.2 86.4,180.0 87.7,180.8 89.0,181.5 90.3,182.3 91.6,183.1 92.9,183.8 94.2,184.5 95.5,185.3 96.8,186.0 98.1,186.7 99.5,187.4 100.8,188.1 102.1,188.8 103.5,189.5 104.8,190.2 106.1,190.9 107.5,191.6 108.8,192.3 110.2,193.0 111.5,193.6 112.9,194.3 114.2,195.0 115.6,195.6 117.0,196.3 118.3,197.0 119.7,197.6 121.0,198.3 122.4,198.9 123.8,199.6 125.1,200.2 126.5,200.9 127.9,201.5 129.2,202.2 130.6,202.8 132.0,203.5 133.3,204.1 134.7,204.8 136.1,205.4 137.4,206.1 138.8,206.7 140.2,207.4 141.5,208.0 142.9,208.6 144.3,209.3 145.6,209.9 147.0,210.6 148.4,211.2 149.8,211.8 151.1,212.4 152.5,213.1 153.9,213.7 155.3,214.3 156.6,214.9 158.0,215.5 159.4,216.2 160.8,216.8 162.2,217.4 163.5,218.0 164.9,218.6 166.3,219.2 167.7,219.8 169.1,220.4 170.5,221.0 171.8,221.6 173.2,222.2 174.6,222.8 176.0,223.4 177.4,224.0 178.8,224.6 180.2,225.1 181.6,225.7 183.0,226.3 184.3,226.9 185.7,227.5 187.1,228.0 188.5,228.6 189.9,229.2 191.3,229.8 192.7,230.3 194.1,230.9 195.5,231.5 196.9,232.0 198.3,232.6 199.7,233.2 201.1,233.7 202.5,234.3 203.9,234.9 205.3,235.4 206.7,236.0 208.1,236.5 209.5,237.1 210.9,237.6 212.3,238.2 213.7,238.7 215.1,239.3 216.5,239.8 217.9,240.4 219.3,240.9 220.7,241.5 222.1,242.0 223.5,242.6 224.9,243.1 226.3,243.7 227.7,244.2 229.1,244.7 230.6,245.3 232.0,245.8 233.4,246.3 234.8,246.9 236.2,247.4 237.6,248.0 239.0,248.5 240.4,249.0 241.8,249.5 243.2,250.1 244.6,250.6 246.1,251.1 247.5,251.7 248.9,252.2 250.3,252.7 251.7,253.3 253.1,253.8 254.5,254.3 255.9,254.8 257.4,255.4 258.8,255.9 260.2,256.4 261.6,256.9 263.0,257.5 264.4,258.0 265.8,258.5 267.2,259.0 268.7,259.6 270.1,260.1 271.5,260.6 272.9,261.1 274.3,261.6 275.7,262.2 277.2,262.7 278.6,263.2 280.0,263.7 281.4,264.3 282.8,264.8 284.2,265.3 285.6,265.8 287.1,266.3 288.5,266.9 289.9,267.4 291.3,267.9 292.7,268.4 294.1,269.0 295.6,269.5 297.0,270.0 298.4,270.5 299.8,271.1 301.2,271.6 302.7,272.1 304.1,272.6 305.5,273.1 306.9,273.7 308.3,274.2 309.7,274.7 311.2,275.3 312.6,275.8 314.0,276.3 315.4,276.8 316.8,277.4 318.2,277.9 319.7,278.4 321.1,279.0" fill="none" stroke="#a6d384" stroke-width="1.7"/>
<path d="M51.8,34 V38" stroke="#8fd070" stroke-width="2.8"/>
<path d="M51.8,36.0 51.9,37.6 52.0,39.1 52.1,40.7 52.2,42.2 52.3,43.7 52.3,45.3 52.4,46.8 52.5,48.3 52.5,49.9 52.5,51.4 52.6,52.9 52.6,54.4 52.6,55.9 52.6,57.5 52.6,59.0 52.6,60.5 52.6,62.0 52.6,63.5 52.6,65.0 52.6,66.5 52.6,68.0 52.6,69.5 52.5,71.0 52.5,72.4 52.5,73.9 52.4,75.4 52.4,76.9 52.3,78.4 52.3,79.9 52.3,81.4 52.2,82.9 52.2,84.4 52.1,85.9 52.1,87.4 52.0,88.9 52.0,90.3 52.0,91.8 51.9,93.3 51.9,94.8 51.8,96.3 51.8,97.8 51.8,99.3 51.7,100.8 51.7,102.3 51.7,103.9 51.6,105.4 51.6,106.9 51.6,108.4 51.6,109.9 51.6,111.4 51.6,113.0 51.6,114.5 51.6,116.0 51.6,117.6 51.6,119.1 51.7,120.7 51.7,122.2 51.7,123.8 51.8,125.3 51.9,126.9 51.9,128.4 52.0,130.0 52.1,131.6 52.3,133.1 52.4,134.6 52.6,136.2 52.9,137.7 53.1,139.1 53.5,140.6 53.9,142.0 54.3,143.4 54.8,144.8 55.4,146.1 56.0,147.4 56.7,148.6 57.5,149.8 58.4,150.9 59.3,152.0 60.3,153.1 61.3,154.1 62.4,155.1 63.5,156.0 64.7,157.0 65.9,157.9 67.1,158.8 68.3,159.6 69.5,160.5 70.8,161.3 72.0,162.1 73.3,162.9 74.6,163.7 75.9,164.4 77.2,165.2 78.5,165.9 79.8,166.7 81.1,167.4 82.5,168.1 83.8,168.8 85.2,169.5 86.6,170.1 87.9,170.8 89.3,171.5 90.7,172.1 92.0,172.8 93.4,173.4 94.8,174.0 96.2,174.7 97.6,175.3 99.0,176.0 100.4,176.6 101.7,177.2 103.1,177.8 104.5,178.5 105.9,179.1 107.3,179.7 108.7,180.3 110.1,180.9 111.5,181.5 112.9,182.1 114.3,182.7 115.6,183.3 117.0,183.9 118.4,184.5 119.8,185.1 121.2,185.7 122.6,186.3 124.0,186.9 125.4,187.5 126.8,188.0 128.2,188.6 129.6,189.2 131.0,189.8 132.4,190.3 133.8,190.9 135.2,191.5 136.6,192.0 138.0,192.6 139.4,193.2 140.9,193.7 142.3,194.3 143.7,194.8 145.1,195.4 146.5,195.9 147.9,196.5 149.3,197.0 150.7,197.6 152.1,198.1 153.5,198.6 154.9,199.2 156.4,199.7 157.8,200.2 159.2,200.8 160.6,201.3 162.0,201.8 163.4,202.3 164.8,202.9 166.3,203.4 167.7,203.9 169.1,204.4 170.5,204.9 171.9,205.4 173.4,205.9 174.8,206.4 176.2,206.9 177.6,207.5 179.0,208.0 180.5,208.5 181.9,208.9 183.3,209.4 184.7,209.9 186.2,210.4 187.6,210.9 189.0,211.4 190.4,211.9 191.9,212.4 193.3,212.9 194.7,213.3 196.2,213.8 197.6,214.3 199.0,214.8 200.5,215.2 201.9,215.7 203.3,216.2 204.8,216.6 206.2,217.1 207.6,217.6 209.1,218.0 210.5,218.5 211.9,219.0 213.4,219.4 214.8,219.9 216.2,220.3 217.7,220.8 219.1,221.2 220.6,221.7 222.0,222.1 223.4,222.6 224.9,223.0 226.3,223.5 227.8,223.9 229.2,224.4 230.6,224.8 232.1,225.2 233.5,225.7 235.0,226.1 236.4,226.5 237.9,227.0 239.3,227.4 240.8,227.8 242.2,228.3 243.6,228.7 245.1,229.1 246.5,229.5 248.0,230.0 249.4,230.4 250.9,230.8 252.3,231.2 253.8,231.7 255.2,232.1 256.7,232.5 258.1,232.9 259.6,233.3 261.1,233.7 262.5,234.1 264.0,234.5 265.4,235.0 266.9,235.4 268.3,235.8 269.8,236.2 271.2,236.6 272.7,237.0 274.2,237.4 275.6,237.8 277.1,238.2 278.5,238.6 280.0,239.0 281.4,239.4 282.9,239.8 284.4,240.2 285.8,240.6 287.3,241.0 288.8,241.4 290.2,241.7 291.7,242.1 293.1,242.5 294.6,242.9 296.1,243.3 297.5,243.7 299.0,244.1 300.5,244.5 301.9,244.8 303.4,245.2 304.9,245.6 306.3,246.0 307.8,246.4 309.3,246.8 310.7,247.1 312.2,247.5 313.7,247.9 315.1,248.3 316.6,248.6 318.1,249.0 319.6,249.4 321.0,249.8" fill="none" stroke="#30521f" stroke-width="2.8"/>
<path d="M45.30,105.10 H58.00" stroke="#ff3c3c" stroke-width="1.0" fill="none"/>
<path d="M46.10,134.50 H58.80" stroke="#ff3c3c" stroke-width="1.0" fill="none"/>
<path d="M45.30,151.60 H52.00" stroke="#ff3c3c" stroke-width="1.0" fill="none"/>
<path d="M46.00,154.60 H50.00" stroke="#ff3c3c" stroke-width="1.0" fill="none"/>
<path d="M60.10,164.70 H72.40" stroke="#ff3c3c" stroke-width="1.0" fill="none"/>
<path d="M48.20,126.00 L55.40,126.00 L56.20,132.00 L57.50,137.60 L63.00,143.50 L68.90,149.80 L71.00,153.00 L73.30,160.50 L66.30,161.20 L57.50,159.00 L50.50,154.50 L47.40,151.00 Z" fill="#ff0000" stroke="#ff0000" stroke-width="1" stroke-linejoin="round"/>
<circle cx="51.80" cy="96.20" r="3.0" fill="none" stroke="#ff0000" stroke-width="2.8"/>
<circle cx="51.80" cy="103.20" r="3.0" fill="none" stroke="#ff0000" stroke-width="2.8"/>
<circle cx="51.80" cy="108.50" r="3.0" fill="none" stroke="#ff0000" stroke-width="2.8"/>
<circle cx="51.60" cy="112.00" r="3.0" fill="none" stroke="#ff0000" stroke-width="2.8"/>
<circle cx="51.90" cy="115.50" r="3.0" fill="none" stroke="#ff0000" stroke-width="2.8"/>
<circle cx="51.70" cy="119.00" r="3.0" fill="none" stroke="#ff0000" stroke-width="2.8"/>
<circle cx="51.80" cy="122.50" r="3.0" fill="none" stroke="#ff0000" stroke-width="2.8"/>
<circle cx="51.60" cy="126.00" r="3.0" fill="none" stroke="#ff0000" stroke-width="2.8"/>
<circle cx="51.90" cy="129.50" r="3.0" fill="none" stroke="#ff0000" stroke-width="2.8"/>
<circle cx="51.80" cy="133.00" r="3.0" fill="none" stroke="#ff0000" stroke-width="2.8"/>
<circle cx="75.00" cy="152.40" r="3.0" fill="none" stroke="#ff0000" stroke-width="2.8"/>
<circle cx="82.00" cy="156.80" r="3.0" fill="none" stroke="#ff0000" stroke-width="2.8"/>
<circle cx="81.20" cy="167.30" r="3.0" fill="none" stroke="#ff0000" stroke-width="2.8"/>
<circle cx="75.00" cy="157.50" r="3.0" fill="none" stroke="#ff0000" stroke-width="2.8"/>
<circle cx="68.00" cy="157.00" r="3.0" fill="none" stroke="#ff0000" stroke-width="2.8"/>
<circle cx="77.50" cy="154.50" r="3.0" fill="none" stroke="#ff0000" stroke-width="2.8"/>
<circle cx="79.50" cy="157.50" r="3.0" fill="none" stroke="#ff0000" stroke-width="2.8"/>
<circle cx="76.50" cy="158.50" r="3.0" fill="none" stroke="#ff0000" stroke-width="2.8"/>
<circle cx="72.50" cy="155.00" r="3.0" fill="none" stroke="#ff0000" stroke-width="2.8"/>
<circle cx="81.50" cy="159.50" r="3.0" fill="none" stroke="#ff0000" stroke-width="2.8"/>
<circle cx="97.80" cy="162.50" r="3.0" fill="none" stroke="#ff0000" stroke-width="2.8"/>
<circle cx="96.70" cy="171.20" r="3.0" fill="none" stroke="#ff0000" stroke-width="2.8"/>
<circle cx="96.50" cy="166.00" r="3.0" fill="none" stroke="#ff0000" stroke-width="2.8"/>
<circle cx="118.50" cy="176.60" r="3.0" fill="none" stroke="#ff0000" stroke-width="2.8"/>
<circle cx="118.50" cy="180.10" r="3.0" fill="none" stroke="#ff0000" stroke-width="2.8"/>
<circle cx="118.50" cy="183.60" r="3.0" fill="none" stroke="#ff0000" stroke-width="2.8"/>
<circle cx="143.60" cy="181.30" r="3.0" fill="none" stroke="#ff0000" stroke-width="2.8"/>
<circle cx="141.30" cy="186.50" r="3.0" fill="none" stroke="#ff0000" stroke-width="2.8"/>
<circle cx="141.30" cy="190.60" r="3.0" fill="none" stroke="#ff0000" stroke-width="2.8"/>
<circle cx="164.60" cy="189.50" r="3.0" fill="none" stroke="#ff0000" stroke-width="2.8"/>
<circle cx="164.00" cy="197.60" r="3.0" fill="none" stroke="#ff0000" stroke-width="2.8"/>
<circle cx="163.50" cy="200.50" r="3.0" fill="none" stroke="#ff0000" stroke-width="2.8"/>
<circle cx="184.80" cy="195.30" r="3.0" fill="none" stroke="#ff0000" stroke-width="2.8"/>
<circle cx="187.40" cy="198.80" r="3.0" fill="none" stroke="#ff0000" stroke-width="2.8"/>
<circle cx="186.30" cy="205.80" r="3.0" fill="none" stroke="#ff0000" stroke-width="2.8"/>
<circle cx="186.30" cy="211.60" r="3.0" fill="none" stroke="#ff0000" stroke-width="2.8"/>
<circle cx="186.50" cy="219.80" r="3.0" fill="none" stroke="#ff0000" stroke-width="2.8"/>
<circle cx="229.40" cy="216.50" r="3.0" fill="none" stroke="#ff0000" stroke-width="2.8"/>
<circle cx="231.50" cy="222.10" r="3.0" fill="none" stroke="#ff0000" stroke-width="2.8"/>
<circle cx="230.30" cy="229.30" r="3.0" fill="none" stroke="#ff0000" stroke-width="2.8"/>
<circle cx="231.30" cy="233.40" r="3.0" fill="none" stroke="#ff0000" stroke-width="2.8"/>
<circle cx="320.90" cy="243.50" r="3.0" fill="none" stroke="#ff0000" stroke-width="2.8"/>
<path d="M405.40,60.00 L407.50,60.00 L407.80,100.00 L408.20,140.00 L409.30,180.00 L410.50,200.00 L411.70,217.60 L413.50,226.00 L416.30,230.00 L418.70,235.10 L423.40,241.20 L433.70,248.40 L443.90,253.50 L454.10,258.60 L464.30,262.70 L473.00,265.30 L500.50,270.20 L520.00,273.40 L575.00,281.00 L630.00,288.20 L675.70,294.30 L675.70,398.20 L639.20,384.50 L607.10,371.70 L575.00,359.20 L520.00,338.00 L500.50,329.90 L473.00,322.00 L464.30,318.90 L454.10,314.80 L443.90,308.70 L433.70,302.60 L426.50,296.40 L421.40,288.20 L417.30,278.00 L414.20,265.80 L412.70,252.50 L411.00,235.00 L409.20,210.00 L407.30,170.00 L406.00,120.00 L405.40,60.00 Z" fill="#cee9fe"/>
<path d="M409.0,185.0 409.1,186.5 409.2,188.0 409.2,189.5 409.3,190.9 409.4,192.4 409.5,193.9 409.5,195.4 409.6,196.9 409.7,198.4 409.8,199.9 409.8,201.4 409.9,202.9 410.0,204.4 410.1,205.9 410.1,207.5 410.2,209.0 410.3,210.5 410.4,212.0 410.4,213.6 410.5,215.1 410.6,216.7 410.7,218.2 410.8,219.7 410.9,221.3 411.0,222.8 411.1,224.3 411.2,225.8 411.4,227.3 411.6,228.8 411.8,230.3 412.0,231.8 412.2,233.2 412.5,234.7 412.8,236.1 413.2,237.5 413.5,238.9 413.9,240.2 414.4,241.5 414.8,242.8 415.3,244.1 415.9,245.4 416.5,246.6 417.1,247.8 417.8,248.9 418.5,250.1 419.3,251.2 420.1,252.3 420.9,253.3 421.7,254.4 422.6,255.4 423.5,256.3 424.5,257.3 425.4,258.3 426.4,259.3 427.5,260.2 428.5,261.2 429.6,262.1 430.7,263.0 431.8,263.9 432.9,264.8 434.1,265.7 435.2,266.5 436.4,267.3 437.6,268.1 438.9,268.9 440.1,269.6 441.3,270.4 442.6,271.1 443.8,271.8 445.1,272.5 446.4,273.3 447.7,274.0 449.0,274.7 450.3,275.4 451.6,276.1 452.9,276.7 454.2,277.4 455.6,278.0 456.9,278.7 458.3,279.3 459.6,279.9 461.0,280.5 462.3,281.0 463.7,281.6 465.1,282.1 466.5,282.7 467.9,283.2 469.3,283.7 470.7,284.2 472.1,284.8 473.5,285.3 474.9,285.8 476.3,286.3 477.7,286.8 479.1,287.2 480.6,287.7 482.0,288.2 483.4,288.6 484.9,289.1 486.3,289.5 487.7,289.9 489.2,290.4 490.6,290.8 492.1,291.2 493.5,291.6 495.0,292.0 496.4,292.4 497.9,292.8 499.3,293.1 500.8,293.5 502.2,293.9 503.7,294.3 505.2,294.6 506.6,295.0 508.1,295.4 509.5,295.7 511.0,296.1 512.5,296.4 513.9,296.8 515.4,297.1 516.8,297.4 518.3,297.8 519.8,298.1 521.2,298.4 522.7,298.7 524.1,299.1 525.6,299.4 527.1,299.7 528.5,300.0 530.0,300.3 531.5,300.6 532.9,300.9 534.4,301.2 535.9,301.5 537.3,301.8 538.8,302.1 540.3,302.4 541.7,302.7 543.2,303.0 544.7,303.3 546.1,303.5 547.6,303.8 549.1,304.1 550.6,304.4 552.0,304.7 553.5,304.9 555.0,305.2 556.4,305.5 557.9,305.7 559.4,306.0 560.9,306.3 562.3,306.5 563.8,306.8 565.3,307.0 566.7,307.3 568.2,307.6 569.7,307.8 571.2,308.1 572.6,308.3 574.1,308.6 575.6,308.8 577.1,309.1 578.5,309.3 580.0,309.6 581.5,309.8 583.0,310.1 584.4,310.3 585.9,310.6 587.4,310.8 588.9,311.1 590.3,311.3 591.8,311.6 593.3,311.8 594.8,312.1 596.2,312.3 597.7,312.6 599.2,312.8 600.7,313.1 602.1,313.3 603.6,313.6 605.1,313.8 606.6,314.1 608.0,314.3 609.5,314.6 611.0,314.8 612.5,315.0 613.9,315.3 615.4,315.6 616.9,315.8 618.4,316.1 619.8,316.3 621.3,316.6 622.8,316.8 624.3,317.1 625.7,317.4 627.2,317.6 628.7,317.9 630.2,318.1 631.6,318.4 633.1,318.7 634.6,319.0 636.0,319.2 637.5,319.5 639.0,319.8 640.5,320.1 641.9,320.3 643.4,320.6 644.9,320.9 646.3,321.2 647.8,321.5 649.3,321.8 650.8,322.1 652.2,322.4 653.7,322.7 655.2,323.0 656.6,323.3 658.1,323.6 659.6,323.9 661.0,324.2 662.5,324.6 664.0,324.9 665.4,325.2 666.9,325.5 668.4,325.9 669.8,326.2 671.3,326.6 672.8,326.9 674.2,327.3 675.7,327.6" fill="none" stroke="#8da3d9" stroke-width="1.7"/>
<path d="M409.0,185.0 409.1,186.5 409.2,188.0 409.2,189.5 409.3,191.0 409.4,192.5 409.5,194.0 409.5,195.4 409.6,196.9 409.7,198.4 409.8,200.0 409.8,201.5 409.9,203.0 410.0,204.5 410.1,206.0 410.1,207.5 410.2,209.1 410.3,210.6 410.4,212.1 410.4,213.7 410.5,215.2 410.6,216.7 410.7,218.3 410.8,219.8 410.9,221.4 411.0,222.9 411.1,224.4 411.2,226.0 411.4,227.5 411.6,229.0 411.8,230.5 412.0,232.0 412.2,233.4 412.5,234.9 412.8,236.3 413.2,237.7 413.5,239.1 413.9,240.5 414.4,241.9 414.8,243.2 415.3,244.5 415.9,245.8 416.5,247.0 417.1,248.3 417.8,249.5 418.5,250.6 419.3,251.8 420.1,252.9 420.9,254.0 421.7,255.1 422.6,256.2 423.5,257.2 424.5,258.2 425.4,259.2 426.4,260.2 427.5,261.2 428.5,262.2 429.6,263.2 430.7,264.1 431.8,265.1 432.9,266.0 434.1,266.9 435.2,267.7 436.4,268.6 437.6,269.4 438.9,270.2 440.1,271.0 441.3,271.8 442.6,272.6 443.8,273.3 445.1,274.1 446.4,274.8 447.7,275.6 449.0,276.3 450.3,277.0 451.6,277.7 452.9,278.4 454.2,279.1 455.6,279.7 456.9,280.4 458.3,281.0 459.6,281.6 461.0,282.2 462.3,282.8 463.7,283.4 465.1,284.0 466.5,284.6 467.9,285.1 469.3,285.6 470.7,286.2 472.1,286.7 473.5,287.2 474.9,287.8 476.3,288.3 477.7,288.8 479.1,289.2 480.6,289.7 482.0,290.2 483.4,290.7 484.9,291.1 486.3,291.6 487.7,292.0 489.2,292.4 490.6,292.9 492.1,293.3 493.5,293.7 495.0,294.1 496.4,294.5 497.9,294.9 499.3,295.3 500.8,295.7 502.2,296.1 503.7,296.5 505.2,296.9 506.6,297.3 508.1,297.6 509.5,298.0 511.0,298.4 512.5,298.7 513.9,299.1 515.4,299.4 516.8,299.8 518.3,300.1 519.8,300.5 521.2,300.8 522.7,301.1 524.1,301.5 525.6,301.8 527.1,302.1 528.5,302.5 530.0,302.8 531.5,303.1 532.9,303.4 534.4,303.7 535.9,304.0 537.3,304.4 538.8,304.7 540.3,305.0 541.7,305.3 543.2,305.6 544.7,305.9 546.1,306.2 547.6,306.5 549.1,306.7 550.6,307.0 552.0,307.3 553.5,307.6 555.0,307.9 556.4,308.2 557.9,308.4 559.4,308.7 560.9,309.0 562.3,309.3 563.8,309.6 565.3,309.8 566.7,310.1 568.2,310.4 569.7,310.6 571.2,310.9 572.6,311.2 574.1,311.4 575.6,311.7 577.1,312.0 578.5,312.2 580.0,312.5 581.5,312.8 583.0,313.0 584.4,313.3 585.9,313.6 587.4,313.8 588.9,314.1 590.3,314.3 591.8,314.6 593.3,314.9 594.8,315.1 596.2,315.4 597.7,315.7 599.2,315.9 600.7,316.2 602.1,316.4 603.6,316.6 605.1,316.9 606.6,317.1 608.0,317.3 609.5,317.6 611.0,317.8 612.5,318.1 613.9,318.3 615.4,318.5 616.9,318.8 618.4,319.0 619.8,319.3 621.3,319.5 622.8,319.7 624.3,320.0 625.7,320.2 627.2,320.5 628.7,320.8 630.2,321.0 631.6,321.3 633.1,321.5 634.6,321.8 636.0,322.0 637.5,322.3 639.0,322.6 640.5,322.8 641.9,323.1 643.4,323.4 644.9,323.7 646.3,323.9 647.8,324.2 649.3,324.5 650.8,324.8 652.2,325.1 653.7,325.4 655.2,325.7 656.6,326.0 658.1,326.3 659.6,326.6 661.0,326.9 662.5,327.2 664.0,327.5 665.4,327.8 666.9,328.1 668.4,328.4 669.8,328.8 671.3,329.1 672.8,329.4 674.2,329.8 675.7,330.1" fill="none" stroke="#8da3d9" stroke-width="1.7"/>
<path d="M409.0,185.0 409.1,186.5 409.2,188.0 409.2,189.5 409.3,191.0 409.4,192.5 409.5,194.0 409.5,195.5 409.6,197.0 409.7,198.5 409.8,200.0 409.8,201.5 409.9,203.0 410.0,204.5 410.1,206.1 410.1,207.6 410.2,209.1 410.3,210.6 410.4,212.2 410.4,213.7 410.5,215.3 410.6,216.8 410.7,218.4 410.8,219.9 410.9,221.5 411.0,223.0 411.1,224.5 411.2,226.1 411.4,227.6 411.6,229.1 411.8,230.6 412.0,232.1 412.2,233.6 412.5,235.0 412.8,236.5 413.2,237.9 413.5,239.3 413.9,240.7 414.4,242.1 414.8,243.4 415.3,244.8 415.9,246.1 416.5,247.4 417.1,248.6 417.8,249.9 418.5,251.1 419.3,252.2 420.1,253.4 420.9,254.6 421.7,255.7 422.6,256.8 423.5,257.8 424.5,258.9 425.4,259.9 426.4,261.0 427.5,262.0 428.5,263.0 429.6,264.0 430.7,265.0 431.8,265.9 432.9,266.9 434.1,267.8 435.2,268.7 436.4,269.6 437.6,270.4 438.9,271.3 440.1,272.1 441.3,272.9 442.6,273.7 443.8,274.5 445.1,275.3 446.4,276.0 447.7,276.8 449.0,277.5 450.3,278.3 451.6,279.0 452.9,279.7 454.2,280.4 455.6,281.1 456.9,281.7 458.3,282.4 459.6,283.0 461.0,283.6 462.3,284.2 463.7,284.8 465.1,285.4 466.5,286.0 467.9,286.6 469.3,287.1 470.7,287.7 472.1,288.2 473.5,288.7 474.9,289.3 476.3,289.8 477.7,290.3 479.1,290.8 480.6,291.3 482.0,291.8 483.4,292.2 484.9,292.7 486.3,293.2 487.7,293.6 489.2,294.1 490.6,294.5 492.1,294.9 493.5,295.4 495.0,295.8 496.4,296.2 497.9,296.6 499.3,297.0 500.8,297.4 502.2,297.8 503.7,298.2 505.2,298.6 506.6,299.0 508.1,299.4 509.5,299.8 511.0,300.1 512.5,300.5 513.9,300.9 515.4,301.2 516.8,301.6 518.3,302.0 519.8,302.3 521.2,302.7 522.7,303.0 524.1,303.3 525.6,303.7 527.1,304.0 528.5,304.4 530.0,304.7 531.5,305.0 532.9,305.4 534.4,305.7 535.9,306.0 537.3,306.3 538.8,306.6 540.3,306.9 541.7,307.3 543.2,307.6 544.7,307.9 546.1,308.2 547.6,308.5 549.1,308.8 550.6,309.1 552.0,309.4 553.5,309.7 555.0,310.0 556.4,310.3 557.9,310.6 559.4,310.8 560.9,311.1 562.3,311.4 563.8,311.7 565.3,312.0 566.7,312.3 568.2,312.5 569.7,312.8 571.2,313.1 572.6,313.4 574.1,313.7 575.6,313.9 577.1,314.2 578.5,314.5 580.0,314.8 581.5,315.0 583.0,315.3 584.4,315.6 585.9,315.9 587.4,316.1 588.9,316.4 590.3,316.7 591.8,316.9 593.3,317.2 594.8,317.5 596.2,317.8 597.7,318.0 599.2,318.3 600.7,318.6 602.1,318.8 603.6,319.1 605.1,319.4 606.6,319.6 608.0,319.9 609.5,320.2 611.0,320.5 612.5,320.7 613.9,321.0 615.4,321.3 616.9,321.6 618.4,321.8 619.8,322.1 621.3,322.4 622.8,322.7 624.3,322.9 625.7,323.2 627.2,323.5 628.7,323.8 630.2,324.1 631.6,324.4 633.1,324.7 634.6,325.0 636.0,325.3 637.5,325.5 639.0,325.8 640.5,326.1 641.9,326.5 643.4,326.8 644.9,327.1 646.3,327.4 647.8,327.7 649.3,328.0 650.8,328.3 652.2,328.6 653.7,329.0 655.2,329.3 656.6,329.6 658.1,330.0 659.6,330.3 661.0,330.6 662.5,331.0 664.0,331.3 665.4,331.7 666.9,332.0 668.4,332.4 669.8,332.7 671.3,333.1 672.8,333.5 674.2,333.8 675.7,334.2" fill="none" stroke="#8da3d9" stroke-width="1.7"/>
<path d="M409.0,185.0 409.1,186.5 409.2,188.0 409.2,189.5 409.3,191.0 409.4,192.5 409.5,194.0 409.5,195.5 409.6,197.0 409.7,198.5 409.8,200.0 409.8,201.5 409.9,203.0 410.0,204.6 410.1,206.1 410.1,207.6 410.2,209.1 410.3,210.7 410.4,212.2 410.4,213.8 410.5,215.3 410.6,216.9 410.7,218.4 410.8,220.0 410.9,221.5 411.0,223.0 411.1,224.6 411.2,226.1 411.4,227.6 411.6,229.2 411.8,230.7 412.0,232.2 412.2,233.6 412.5,235.1 412.8,236.6 413.2,238.0 413.5,239.4 413.9,240.8 414.4,242.2 414.8,243.6 415.3,244.9 415.9,246.3 416.5,247.5 417.1,248.8 417.8,250.1 418.5,251.3 419.3,252.5 420.1,253.7 420.9,254.8 421.7,256.0 422.6,257.1 423.5,258.2 424.5,259.3 425.4,260.3 426.4,261.4 427.5,262.4 428.5,263.5 429.6,264.5 430.7,265.5 431.8,266.4 432.9,267.4 434.1,268.3 435.2,269.2 436.4,270.1 437.6,271.0 438.9,271.9 440.1,272.7 441.3,273.5 442.6,274.3 443.8,275.1 445.1,275.9 446.4,276.7 447.7,277.5 449.0,278.2 450.3,279.0 451.6,279.7 452.9,280.4 454.2,281.1 455.6,281.8 456.9,282.4 458.3,283.1 459.6,283.7 461.0,284.4 462.3,285.0 463.7,285.6 465.1,286.2 466.5,286.8 467.9,287.4 469.3,287.9 470.7,288.5 472.1,289.0 473.5,289.6 474.9,290.1 476.3,290.6 477.7,291.1 479.1,291.6 480.6,292.1 482.0,292.6 483.4,293.1 484.9,293.6 486.3,294.0 487.7,294.5 489.2,294.9 490.6,295.4 492.1,295.8 493.5,296.3 495.0,296.7 496.4,297.1 497.9,297.5 499.3,297.9 500.8,298.4 502.2,298.8 503.7,299.2 505.2,299.6 506.6,299.9 508.1,300.3 509.5,300.7 511.0,301.1 512.5,301.5 513.9,301.8 515.4,302.2 516.8,302.6 518.3,302.9 519.8,303.3 521.2,303.7 522.7,304.0 524.1,304.4 525.6,304.7 527.1,305.1 528.5,305.4 530.0,305.7 531.5,306.1 532.9,306.4 534.4,306.7 535.9,307.1 537.3,307.4 538.8,307.7 540.3,308.0 541.7,308.3 543.2,308.7 544.7,309.0 546.1,309.3 547.6,309.6 549.1,309.9 550.6,310.2 552.0,310.5 553.5,310.8 555.0,311.1 556.4,311.4 557.9,311.7 559.4,312.0 560.9,312.3 562.3,312.6 563.8,312.9 565.3,313.2 566.7,313.4 568.2,313.7 569.7,314.0 571.2,314.3 572.6,314.6 574.1,314.9 575.6,315.1 577.1,315.4 578.5,315.7 580.0,316.0 581.5,316.3 583.0,316.5 584.4,316.8 585.9,317.1 587.4,317.4 588.9,317.7 590.3,317.9 591.8,318.2 593.3,318.5 594.8,318.8 596.2,319.0 597.7,319.3 599.2,319.6 600.7,319.9 602.1,320.1 603.6,320.4 605.1,320.7 606.6,320.9 608.0,321.2 609.5,321.5 611.0,321.7 612.5,322.0 613.9,322.2 615.4,322.5 616.9,322.8 618.4,323.1 619.8,323.3 621.3,323.6 622.8,323.9 624.3,324.1 625.7,324.4 627.2,324.7 628.7,325.0 630.2,325.3 631.6,325.5 633.1,325.8 634.6,326.1 636.0,326.4 637.5,326.7 639.0,327.0 640.5,327.3 641.9,327.6 643.4,327.9 644.9,328.2 646.3,328.5 647.8,328.8 649.3,329.1 650.8,329.4 652.2,329.7 653.7,330.1 655.2,330.4 656.6,330.7 658.1,331.0 659.6,331.4 661.0,331.7 662.5,332.0 664.0,332.4 665.4,332.7 666.9,333.1 668.4,333.4 669.8,333.8 671.3,334.1 672.8,334.5 674.2,334.8 675.7,335.2" fill="none" stroke="#8da3d9" stroke-width="1.7"/>
<path d="M409.0,185.0 409.1,186.5 409.2,188.0 409.2,189.5 409.3,191.0 409.4,192.5 409.5,194.0 409.5,195.5 409.6,197.1 409.7,198.6 409.8,200.1 409.8,201.6 409.9,203.1 410.0,204.7 410.1,206.2 410.1,207.7 410.2,209.3 410.3,210.8 410.4,212.4 410.4,213.9 410.5,215.5 410.6,217.0 410.7,218.6 410.8,220.2 410.9,221.7 411.0,223.3 411.1,224.8 411.2,226.4 411.4,227.9 411.6,229.4 411.8,231.0 412.0,232.5 412.2,234.0 412.5,235.5 412.8,237.0 413.2,238.5 413.5,239.9 413.9,241.4 414.4,242.8 414.8,244.2 415.3,245.6 415.9,247.0 416.5,248.4 417.1,249.7 417.8,251.0 418.5,252.3 419.3,253.6 420.1,254.9 420.9,256.2 421.7,257.4 422.6,258.6 423.5,259.8 424.5,261.0 425.4,262.1 426.4,263.3 427.5,264.4 428.5,265.4 429.6,266.5 430.7,267.6 431.8,268.6 432.9,269.6 434.1,270.6 435.2,271.6 436.4,272.6 437.6,273.5 438.9,274.4 440.1,275.4 441.3,276.3 442.6,277.1 443.8,278.0 445.1,278.9 446.4,279.7 447.7,280.5 449.0,281.3 450.3,282.1 451.6,282.8 452.9,283.6 454.2,284.3 455.6,285.0 456.9,285.7 458.3,286.4 459.6,287.1 461.0,287.8 462.3,288.4 463.7,289.1 465.1,289.7 466.5,290.3 467.9,291.0 469.3,291.6 470.7,292.1 472.1,292.7 473.5,293.3 474.9,293.8 476.3,294.4 477.7,294.9 479.1,295.5 480.6,296.0 482.0,296.5 483.4,297.0 484.9,297.5 486.3,298.0 487.7,298.5 489.2,298.9 490.6,299.4 492.1,299.9 493.5,300.3 495.0,300.8 496.4,301.2 497.9,301.7 499.3,302.1 500.8,302.5 502.2,303.0 503.7,303.4 505.2,303.8 506.6,304.2 508.1,304.6 509.5,305.1 511.0,305.5 512.5,305.9 513.9,306.3 515.4,306.7 516.8,307.0 518.3,307.4 519.8,307.8 521.2,308.2 522.7,308.6 524.1,309.0 525.6,309.3 527.1,309.7 528.5,310.1 530.0,310.4 531.5,310.8 532.9,311.1 534.4,311.5 535.9,311.8 537.3,312.2 538.8,312.5 540.3,312.9 541.7,313.2 543.2,313.6 544.7,313.9 546.1,314.2 547.6,314.6 549.1,314.9 550.6,315.2 552.0,315.6 553.5,315.9 555.0,316.2 556.4,316.5 557.9,316.9 559.4,317.2 560.9,317.5 562.3,317.8 563.8,318.1 565.3,318.5 566.7,318.8 568.2,319.1 569.7,319.4 571.2,319.7 572.6,320.0 574.1,320.3 575.6,320.6 577.1,320.9 578.5,321.2 580.0,321.5 581.5,321.8 583.0,322.2 584.4,322.5 585.9,322.8 587.4,323.1 588.9,323.4 590.3,323.7 591.8,324.0 593.3,324.3 594.8,324.6 596.2,324.9 597.7,325.2 599.2,325.5 600.7,325.8 602.1,326.1 603.6,326.4 605.1,326.7 606.6,327.0 608.0,327.3 609.5,327.6 611.0,327.9 612.5,328.2 613.9,328.5 615.4,328.8 616.9,329.1 618.4,329.4 619.8,329.7 621.3,330.0 622.8,330.3 624.3,330.6 625.7,330.9 627.2,331.2 628.7,331.6 630.2,331.9 631.6,332.2 633.1,332.5 634.6,332.8 636.0,333.2 637.5,333.5 639.0,333.8 640.5,334.1 641.9,334.5 643.4,334.8 644.9,335.2 646.3,335.5 647.8,335.8 649.3,336.2 650.8,336.5 652.2,336.9 653.7,337.2 655.2,337.6 656.6,337.9 658.1,338.3 659.6,338.7 661.0,339.0 662.5,339.4 664.0,339.8 665.4,340.2 666.9,340.5 668.4,340.9 669.8,341.3 671.3,341.7 672.8,342.1 674.2,342.5 675.7,342.9" fill="none" stroke="#8da3d9" stroke-width="1.7"/>
<path d="M409.0,185.0 409.1,186.5 409.2,188.0 409.2,189.5 409.3,191.0 409.4,192.6 409.5,194.1 409.5,195.6 409.6,197.1 409.7,198.6 409.8,200.1 409.8,201.7 409.9,203.2 410.0,204.7 410.1,206.3 410.1,207.8 410.2,209.4 410.3,210.9 410.4,212.5 410.4,214.0 410.5,215.6 410.6,217.1 410.7,218.7 410.8,220.3 410.9,221.8 411.0,223.4 411.1,224.9 411.2,226.5 411.4,228.1 411.6,229.6 411.8,231.1 412.0,232.7 412.2,234.2 412.5,235.7 412.8,237.2 413.2,238.7 413.5,240.2 413.9,241.7 414.4,243.1 414.8,244.6 415.3,246.0 415.9,247.4 416.5,248.8 417.1,250.2 417.8,251.6 418.5,252.9 419.3,254.3 420.1,255.6 420.9,256.9 421.7,258.2 422.6,259.4 423.5,260.7 424.5,261.9 425.4,263.1 426.4,264.3 427.5,265.4 428.5,266.6 429.6,267.7 430.7,268.7 431.8,269.8 432.9,270.9 434.1,271.9 435.2,272.9 436.4,273.9 437.6,274.9 438.9,275.9 440.1,276.9 441.3,277.8 442.6,278.7 443.8,279.6 445.1,280.5 446.4,281.4 447.7,282.2 449.0,283.0 450.3,283.8 451.6,284.6 452.9,285.3 454.2,286.1 455.6,286.8 456.9,287.6 458.3,288.3 459.6,289.0 461.0,289.7 462.3,290.4 463.7,291.0 465.1,291.7 466.5,292.3 467.9,293.0 469.3,293.6 470.7,294.2 472.1,294.8 473.5,295.4 474.9,295.9 476.3,296.5 477.7,297.0 479.1,297.6 480.6,298.1 482.0,298.6 483.4,299.2 484.9,299.7 486.3,300.2 487.7,300.7 489.2,301.2 490.6,301.7 492.1,302.1 493.5,302.6 495.0,303.1 496.4,303.5 497.9,304.0 499.3,304.4 500.8,304.9 502.2,305.3 503.7,305.8 505.2,306.2 506.6,306.6 508.1,307.1 509.5,307.5 511.0,307.9 512.5,308.3 513.9,308.7 515.4,309.1 516.8,309.5 518.3,309.9 519.8,310.3 521.2,310.7 522.7,311.1 524.1,311.5 525.6,311.9 527.1,312.3 528.5,312.7 530.0,313.0 531.5,313.4 532.9,313.8 534.4,314.2 535.9,314.5 537.3,314.9 538.8,315.3 540.3,315.6 541.7,316.0 543.2,316.3 544.7,316.7 546.1,317.0 547.6,317.4 549.1,317.7 550.6,318.1 552.0,318.4 553.5,318.7 555.0,319.1 556.4,319.4 557.9,319.8 559.4,320.1 560.9,320.4 562.3,320.8 563.8,321.1 565.3,321.4 566.7,321.7 568.2,322.1 569.7,322.4 571.2,322.7 572.6,323.0 574.1,323.4 575.6,323.7 577.1,324.0 578.5,324.3 580.0,324.6 581.5,325.0 583.0,325.3 584.4,325.6 585.9,325.9 587.4,326.2 588.9,326.6 590.3,326.9 591.8,327.2 593.3,327.5 594.8,327.8 596.2,328.1 597.7,328.5 599.2,328.8 600.7,329.1 602.1,329.4 603.6,329.8 605.1,330.1 606.6,330.4 608.0,330.7 609.5,331.1 611.0,331.4 612.5,331.7 613.9,332.1 615.4,332.4 616.9,332.7 618.4,333.1 619.8,333.4 621.3,333.7 622.8,334.1 624.3,334.4 625.7,334.7 627.2,335.1 628.7,335.4 630.2,335.8 631.6,336.1 633.1,336.5 634.6,336.8 636.0,337.2 637.5,337.5 639.0,337.9 640.5,338.3 641.9,338.6 643.4,339.0 644.9,339.3 646.3,339.7 647.8,340.1 649.3,340.5 650.8,340.8 652.2,341.2 653.7,341.6 655.2,342.0 656.6,342.4 658.1,342.8 659.6,343.2 661.0,343.5 662.5,343.9 664.0,344.4 665.4,344.8 666.9,345.2 668.4,345.6 669.8,346.0 671.3,346.4 672.8,346.8 674.2,347.3 675.7,347.7" fill="none" stroke="#8da3d9" stroke-width="1.7"/>
<path d="M406.4,60 V66" stroke="#8fb0ea" stroke-width="2.8"/>
<path d="M406.3,66.0 406.3,67.5 406.4,69.0 406.4,70.5 406.5,72.0 406.5,73.6 406.6,75.1 406.6,76.6 406.7,78.1 406.7,79.6 406.7,81.1 406.8,82.6 406.8,84.1 406.8,85.6 406.9,87.1 406.9,88.6 406.9,90.1 406.9,91.6 407.0,93.1 407.0,94.6 407.0,96.1 407.0,97.7 407.0,99.2 407.0,100.7 407.1,102.2 407.1,103.7 407.1,105.2 407.1,106.7 407.1,108.2 407.1,109.7 407.1,111.2 407.1,112.7 407.1,114.2 407.1,115.7 407.2,117.2 407.2,118.7 407.2,120.2 407.2,121.7 407.2,123.2 407.2,124.7 407.2,126.3 407.2,127.8 407.2,129.3 407.2,130.8 407.2,132.3 407.2,133.8 407.2,135.3 407.2,136.8 407.3,138.3 407.3,139.8 407.3,141.3 407.3,142.8 407.3,144.3 407.3,145.8 407.3,147.3 407.4,148.8 407.4,150.3 407.4,151.8 407.4,153.4 407.4,154.9 407.5,156.4 407.5,157.9 407.5,159.4 407.6,160.9 407.6,162.4 407.6,163.9 407.7,165.4 407.7,166.9 407.7,168.4 407.8,169.9 407.8,171.4 407.9,173.0 407.9,174.5 408.0,176.0 408.0,177.5 408.1,179.0 408.2,180.5 408.2,182.0 408.3,183.5 408.4,185.0 408.4,186.5 408.5,188.1 408.6,189.6 408.7,191.1 408.8,192.6 408.9,194.1 409.0,195.6 409.1,197.1 409.2,198.6 409.3,200.2 409.4,201.7 409.5,203.2 409.6,204.7 409.7,206.2 409.9,207.7 410.0,209.3 410.1,210.8 410.3,212.3 410.4,213.8 410.6,215.3 410.7,216.8 410.9,218.4 411.0,219.9 411.2,221.4 411.4,222.9 411.5,224.4 411.7,226.0 411.9,227.5 412.1,229.0 412.3,230.5 412.5,232.0 412.7,233.6 413.0,235.1 413.2,236.6 413.5,238.1 413.8,239.6 414.1,241.0 414.4,242.5 414.8,243.9 415.3,245.4 415.7,246.8 416.2,248.1 416.8,249.5 417.4,250.8 418.0,252.1 418.8,253.3 419.5,254.6 420.4,255.8 421.2,256.9 422.2,258.1 423.1,259.2 424.2,260.3 425.2,261.3 426.3,262.4 427.4,263.4 428.5,264.4 429.7,265.3 430.9,266.3 432.1,267.2 433.3,268.2 434.5,269.1 435.7,270.0 436.9,270.9 438.2,271.7 439.4,272.6 440.6,273.5 441.9,274.3 443.2,275.1 444.4,276.0 445.7,276.8 446.9,277.6 448.2,278.3 449.5,279.1 450.8,279.9 452.1,280.6 453.4,281.4 454.7,282.1 456.0,282.8 457.3,283.5 458.6,284.2 459.9,284.9 461.2,285.6 462.6,286.3 463.9,286.9 465.2,287.6 466.6,288.2 467.9,288.9 469.3,289.5 470.6,290.1 472.0,290.7 473.4,291.3 474.7,291.9 476.1,292.5 477.5,293.0 478.9,293.6 480.2,294.2 481.6,294.7 483.0,295.2 484.4,295.8 485.8,296.3 487.2,296.8 488.6,297.3 490.0,297.8 491.4,298.3 492.9,298.8 494.3,299.2 495.7,299.7 497.1,300.2 498.6,300.6 500.0,301.1 501.4,301.5 502.9,302.0 504.3,302.4 505.7,302.8 507.2,303.2 508.6,303.6 510.1,304.0 511.5,304.4 513.0,304.8 514.5,305.2 515.9,305.6 517.4,306.0 518.8,306.3 520.3,306.7 521.8,307.1 523.3,307.4 524.7,307.8 526.2,308.1 527.7,308.5 529.2,308.8 530.6,309.1 532.1,309.5 533.6,309.8 535.1,310.1 536.6,310.4 538.1,310.8 539.6,311.1 541.1,311.4 542.6,311.7 544.1,312.0 545.6,312.3 547.1,312.6 548.6,312.9 550.1,313.2 551.6,313.4 553.1,313.7 554.6,314.0 556.1,314.3 557.6,314.6 559.1,314.8 560.6,315.1 562.1,315.4 563.6,315.7 565.1,315.9 566.6,316.2 568.1,316.5 569.6,316.7 571.1,317.0 572.6,317.3 574.2,317.5 575.7,317.8 577.2,318.0 578.7,318.3 580.2,318.6 581.7,318.8 583.2,319.1 584.7,319.3 586.2,319.6 587.7,319.9 589.2,320.1 590.8,320.4 592.3,320.6 593.8,320.9 595.3,321.2 596.8,321.4 598.3,321.7 599.8,321.9 601.3,322.2 602.8,322.5 604.3,322.7 605.8,323.0 607.3,323.3 608.8,323.6 610.3,323.8 611.8,324.1 613.3,324.4 614.7,324.7 616.2,325.0 617.7,325.2 619.2,325.5 620.7,325.8 622.2,326.1 623.7,326.4 625.1,326.7 626.6,327.0 628.1,327.3 629.6,327.6 631.0,328.0 632.5,328.3 634.0,328.6 635.4,328.9 636.9,329.3 638.3,329.6 639.8,329.9 641.3,330.3 642.7,330.6 644.2,331.0 645.6,331.3 647.1,331.7 648.5,332.1 649.9,332.4 651.4,332.8 652.8,333.2 654.2,333.6 655.7,334.0 657.1,334.4 658.5,334.8 659.9,335.2 661.3,335.6 662.7,336.0 664.1,336.4 665.5,336.9 666.9,337.3 668.3,337.8 669.7,338.2 671.1,338.7 672.5,339.2 673.9,339.6 675.3,340.1" fill="none" stroke="#1f3566" stroke-width="2.8"/>
<circle cx="407.20" cy="208.20" r="3.0" fill="none" stroke="#ff0000" stroke-width="2.8"/>
<circle cx="407.20" cy="222.80" r="3.0" fill="none" stroke="#ff0000" stroke-width="2.8"/>
<circle cx="407.20" cy="232.80" r="3.0" fill="none" stroke="#ff0000" stroke-width="2.8"/>
<circle cx="407.60" cy="241.20" r="3.0" fill="none" stroke="#ff0000" stroke-width="2.8"/>
<circle cx="415.30" cy="252.30" r="3.0" fill="none" stroke="#ff0000" stroke-width="2.8"/>
<circle cx="420.90" cy="256.10" r="3.0" fill="none" stroke="#ff0000" stroke-width="2.8"/>
<circle cx="425.00" cy="259.10" r="3.0" fill="none" stroke="#ff0000" stroke-width="2.8"/>
<circle cx="429.80" cy="260.10" r="3.0" fill="none" stroke="#ff0000" stroke-width="2.8"/>
<circle cx="437.50" cy="264.20" r="3.0" fill="none" stroke="#ff0000" stroke-width="2.8"/>
<circle cx="456.30" cy="269.90" r="3.0" fill="none" stroke="#ff0000" stroke-width="2.8"/>
<circle cx="475.10" cy="266.00" r="3.0" fill="none" stroke="#ff0000" stroke-width="2.8"/>
<circle cx="510.00" cy="285.80" r="3.0" fill="none" stroke="#ff0000" stroke-width="2.8"/>
<circle cx="616.00" cy="310.30" r="3.0" fill="none" stroke="#ff0000" stroke-width="2.8"/>
<circle cx="648.30" cy="332.40" r="3.0" fill="none" stroke="#ff0000" stroke-width="2.8"/>
<path d="M54.90,559.43 L55.23,560.72 L55.54,562.05 L55.82,563.42 L56.08,564.80 L56.32,566.22 L56.53,567.65 L56.73,569.11 L56.92,570.58 L57.08,572.06 L57.24,573.56 L57.38,575.07 L57.51,576.58 L57.63,578.10 L57.74,579.62 L57.85,581.14 L57.95,582.65 L58.05,584.17 L58.14,585.68 L58.22,587.19 L58.31,588.70 L58.39,590.21 L58.47,591.72 L58.54,593.23 L58.62,594.73 L58.70,596.24 L58.77,597.74 L58.85,599.25 L58.92,600.75 L59.00,602.25 L59.08,603.76 L59.17,605.26 L59.25,606.76 L59.34,608.26 L59.44,609.76 L59.54,611.26 L59.65,612.77 L59.76,614.27 L59.88,615.77 L60.01,617.28 L60.14,618.78 L60.29,620.28 L60.44,621.79 L60.60,623.30 L60.78,624.80 L60.96,626.31 L61.15,627.81 L61.35,629.32 L61.56,630.82 L61.79,632.33 L62.02,633.83 L62.27,635.33 L62.53,636.83 L62.80,638.33 L63.08,639.82 L63.37,641.31 L63.68,642.80 L64.00,644.29 L64.33,645.77 L64.67,647.25 L65.03,648.72 L65.41,650.19 L65.79,651.65 L66.19,653.11 L66.61,654.57 L67.04,656.02 L67.48,657.46 L67.94,658.90 L68.41,660.33 L68.90,661.76 L69.41,663.18 L69.93,664.59 L70.47,665.99 L71.02,667.39 L71.59,668.78 L72.18,670.16 L72.78,671.53 L73.41,672.90 L74.05,674.25 L74.70,675.60 L75.38,676.93 L76.07,678.26 L76.79,679.58 L77.52,680.88 L78.27,682.18 L79.04,683.46 L79.82,684.74 L80.63,686.00 L81.45,687.26 L82.29,688.50 L83.15,689.73 L84.03,690.95 L84.92,692.16 L85.82,693.36 L86.75,694.55 L87.68,695.73 L88.64,696.90 L89.60,698.06 L90.59,699.21 L91.58,700.34 L92.59,701.47 L93.62,702.59 L94.65,703.69 L95.70,704.78 L96.77,705.87 L97.84,706.94 L98.93,708.00 L100.02,709.05 L101.13,710.09 L102.25,711.12 L103.38,712.14 L104.53,713.15 L105.68,714.15 L106.84,715.13 L108.01,716.11 L109.19,717.08 L110.37,718.03 L111.57,718.97 L112.77,719.91 L113.98,720.83 L115.20,721.74 L116.43,722.64 L117.66,723.53 L118.90,724.41 L120.14,725.27 L121.39,726.13 L122.65,726.97 L123.91,727.81 L125.18,728.63 L126.45,729.45 L127.73,730.25 L129.01,731.05 L130.30,731.83 L131.59,732.61 L132.89,733.38 L134.19,734.14 L135.49,734.89 L136.81,735.63 L138.12,736.36 L139.44,737.08 L140.76,737.80 L142.09,738.51 L143.42,739.21 L144.76,739.90 L146.10,740.59 L147.44,741.27 L148.78,741.95 L150.13,742.61 L151.49,743.27 L152.84,743.93 L154.20,744.58 L155.56,745.22 L156.93,745.86 L158.29,746.49 L159.66,747.12 L161.04,747.74 L162.41,748.36 L163.79,748.97 L165.17,749.58 L166.55,750.18 L167.93,750.79 L169.32,751.38 L170.71,751.98 L172.10,752.57 L173.49,753.16 L174.88,753.74 L176.28,754.32 L177.67,754.90 L179.07,755.48 L180.46,756.06 L181.86,756.63 L183.26,757.20 L184.66,757.77 L186.06,758.34 L187.46,758.91 L188.87,759.48 L190.27,760.05 L191.67,760.61 L193.07,761.18 L194.48,761.75 L195.88,762.31 L197.28,762.88 L198.68,763.45 L200.09,764.01 L201.49,764.58 L202.89,765.15 L204.29,765.73 L205.69,766.30 L207.09,766.87 L208.49,767.44 L209.89,768.02 L211.29,768.59 L212.68,769.17 L214.08,769.74 L215.48,770.32 L216.88,770.90 L218.28,771.47 L219.67,772.05 L221.07,772.62 L222.47,773.20 L223.87,773.78 L225.26,774.35 L226.66,774.93 L228.06,775.50 L229.46,776.07 L230.86,776.65 L232.25,777.22 L233.65,777.79 L235.05,778.36 L236.45,778.93 L237.85,779.50 L239.25,780.07 L240.65,780.63 L242.05,781.20 L243.45,781.76 L244.85,782.33 L246.26,782.89 L247.66,783.44 L249.06,784.00 L250.47,784.56 L251.87,785.11 L253.28,785.66 L254.68,786.21 L256.09,786.76 L257.50,787.30 L258.90,787.85 L260.31,788.39 L261.72,788.92 L263.13,789.46 L264.55,789.99 L265.96,790.52 L267.37,791.05 L268.79,791.57 L270.20,792.09 L271.62,792.61 L273.04,793.13 L274.46,793.64 L275.88,794.15 L277.30,794.65 L278.73,795.15 L280.15,795.65 L281.58,796.14 L283.00,796.63 L284.43,797.12 L285.86,797.60 L287.29,798.08 L288.73,798.56 L290.16,799.03 L291.60,799.49 L293.04,799.95 L294.47,800.41 L295.92,800.86 L297.36,801.31 L298.80,801.76 L300.25,802.19 L301.70,802.63 L303.15,803.06 L304.60,803.48 L306.05,803.90 L307.51,804.31 L308.97,804.72 L310.43,805.13 L311.89,805.52 L313.35,805.92 L314.82,806.30 L316.29,806.68 L317.76,807.06 L319.23,807.43 L320.70,807.79 L320.71,860.79 L319.36,860.11 L318.01,859.44 L316.66,858.77 L315.31,858.10 L313.96,857.43 L312.60,856.77 L311.25,856.10 L309.90,855.44 L308.54,854.77 L307.18,854.11 L305.83,853.45 L304.47,852.80 L303.11,852.14 L301.76,851.48 L300.40,850.83 L299.04,850.17 L297.68,849.52 L296.32,848.87 L294.96,848.22 L293.60,847.57 L292.24,846.92 L290.88,846.27 L289.52,845.62 L288.16,844.98 L286.79,844.33 L285.43,843.68 L284.07,843.04 L282.71,842.39 L281.34,841.75 L279.98,841.11 L278.62,840.46 L277.25,839.82 L275.89,839.18 L274.52,838.54 L273.16,837.90 L271.80,837.25 L270.43,836.61 L269.07,835.97 L267.71,835.33 L266.34,834.69 L264.98,834.05 L263.61,833.41 L262.25,832.77 L260.89,832.13 L259.52,831.49 L258.16,830.85 L256.80,830.21 L255.43,829.56 L254.07,828.92 L252.71,828.28 L251.35,827.64 L249.98,826.99 L248.62,826.35 L247.26,825.71 L245.90,825.06 L244.54,824.42 L243.18,823.77 L241.82,823.13 L240.46,822.48 L239.10,821.83 L237.74,821.19 L236.38,820.54 L235.02,819.89 L233.67,819.24 L232.31,818.59 L230.95,817.93 L229.60,817.28 L228.24,816.63 L226.89,815.97 L225.54,815.31 L224.18,814.66 L222.83,814.00 L221.48,813.34 L220.13,812.67 L218.78,812.01 L217.43,811.35 L216.08,810.68 L214.73,810.02 L213.39,809.35 L212.04,808.68 L210.69,808.01 L209.35,807.33 L208.01,806.66 L206.66,805.98 L205.32,805.30 L203.98,804.62 L202.64,803.94 L201.30,803.26 L199.97,802.57 L198.63,801.89 L197.29,801.20 L195.96,800.50 L194.63,799.81 L193.29,799.12 L191.96,798.42 L190.63,797.72 L189.30,797.02 L187.97,796.32 L186.65,795.61 L185.32,794.91 L183.99,794.20 L182.67,793.49 L181.34,792.77 L180.02,792.06 L178.70,791.34 L177.38,790.62 L176.06,789.90 L174.74,789.18 L173.42,788.45 L172.10,787.72 L170.78,786.99 L169.47,786.26 L168.15,785.53 L166.84,784.79 L165.52,784.05 L164.21,783.31 L162.90,782.57 L161.58,781.82 L160.27,781.07 L158.96,780.32 L157.65,779.57 L156.34,778.82 L155.04,778.06 L153.73,777.30 L152.42,776.54 L151.12,775.77 L149.81,775.01 L148.50,774.24 L147.20,773.47 L145.90,772.69 L144.60,771.92 L143.30,771.13 L142.00,770.35 L140.70,769.56 L139.41,768.77 L138.12,767.97 L136.83,767.16 L135.55,766.35 L134.27,765.54 L132.99,764.72 L131.72,763.89 L130.45,763.06 L129.19,762.22 L127.93,761.37 L126.68,760.51 L125.43,759.65 L124.19,758.78 L122.95,757.90 L121.72,757.01 L120.50,756.12 L119.28,755.21 L118.07,754.30 L116.87,753.37 L115.67,752.44 L114.48,751.49 L113.30,750.54 L112.13,749.58 L110.96,748.61 L109.81,747.63 L108.66,746.64 L107.52,745.64 L106.39,744.63 L105.27,743.62 L104.16,742.59 L103.05,741.56 L101.96,740.51 L100.88,739.46 L99.81,738.40 L98.75,737.33 L97.70,736.25 L96.66,735.16 L95.63,734.06 L94.61,732.95 L93.61,731.84 L92.61,730.71 L91.63,729.58 L90.66,728.43 L89.71,727.28 L88.76,726.12 L87.83,724.95 L86.91,723.77 L86.01,722.59 L85.12,721.39 L84.24,720.19 L83.38,718.97 L82.53,717.75 L81.69,716.52 L80.87,715.28 L80.06,714.03 L79.27,712.77 L78.50,711.51 L77.74,710.23 L76.99,708.95 L76.26,707.66 L75.55,706.36 L74.85,705.05 L74.17,703.73 L73.51,702.41 L72.86,701.07 L72.23,699.73 L71.62,698.38 L71.03,697.02 L70.45,695.65 L69.88,694.27 L69.34,692.89 L68.81,691.50 L68.29,690.10 L67.79,688.70 L67.31,687.28 L66.84,685.87 L66.38,684.44 L65.94,683.01 L65.51,681.57 L65.09,680.13 L64.69,678.68 L64.30,677.23 L63.93,675.77 L63.56,674.31 L63.21,672.84 L62.87,671.36 L62.55,669.89 L62.23,668.40 L61.92,666.92 L61.63,665.43 L61.35,663.93 L61.07,662.44 L60.81,660.94 L60.56,659.43 L60.31,657.93 L60.08,656.42 L59.85,654.91 L59.63,653.40 L59.42,651.88 L59.22,650.37 L59.03,648.85 L58.84,647.33 L58.67,645.81 L58.49,644.29 L58.33,642.76 L58.17,641.24 L58.02,639.72 L57.88,638.19 L57.74,636.67 L57.60,635.15 L57.47,633.62 L57.35,632.10 L57.23,630.58 L57.11,629.06 L57.00,627.54 L56.89,626.03 L56.79,624.51 L56.68,623.00 L56.59,621.48 L56.49,619.97 L56.40,618.46 L56.31,616.96 L56.22,615.45 L56.14,613.95 L56.06,612.44 L55.98,610.94 L55.91,609.44 L55.83,607.94 L55.76,606.44 L55.69,604.94 L55.63,603.45 L55.56,601.95 L55.50,600.45 L55.44,598.96 L55.38,597.47 L55.32,595.97 L55.27,594.48 L55.21,592.99 L55.16,591.50 L55.11,590.00 L55.06,588.51 L55.01,587.02 L54.96,585.53 L54.92,584.04 L54.87,582.55 L54.83,581.05 L54.78,579.56 L54.74,578.07 L54.69,576.58 L54.65,575.08 L54.61,573.59 L54.57,572.10 L54.53,570.60 L54.49,569.11 L54.44,567.61 L54.40,566.11 L54.36,564.61 L54.32,563.12 L54.28,561.62 L54.24,560.11 Z" fill="#e0efd7"/>
<path d="M55.1,573 V578" stroke="#a6d384" stroke-width="2.6"/>
<path d="M54.9,579.6 55.1,581.1 55.2,582.5 55.3,584.0 55.5,585.5 55.6,586.9 55.7,588.4 55.8,589.9 55.9,591.4 56.0,592.8 56.1,594.3 56.2,595.8 56.3,597.3 56.4,598.8 56.6,600.3 56.7,601.8 56.8,603.3 56.9,604.7 57.0,606.2 57.1,607.7 57.2,609.2 57.3,610.7 57.4,612.2 57.5,613.7 57.6,615.2 57.7,616.7 57.8,618.2 58.0,619.8 58.1,621.3 58.2,622.8 58.4,624.3 58.5,625.8 58.6,627.3 58.8,628.8 58.9,630.3 59.1,631.8 59.3,633.3 59.4,634.9 59.6,636.4 59.8,637.9 60.0,639.4 60.2,640.9 60.4,642.4 60.6,643.9 60.8,645.5 61.0,647.0 61.3,648.5 61.5,650.0 61.8,651.5 62.1,653.0 62.3,654.5 62.6,656.0 62.9,657.5 63.2,659.0 63.5,660.5 63.9,662.0 64.2,663.5 64.6,665.0 64.9,666.5 65.3,668.0 65.7,669.4 66.1,670.9 66.5,672.4 67.0,673.8 67.4,675.3 67.9,676.7 68.3,678.1 68.8,679.6 69.3,681.0 69.9,682.4 70.4,683.8 70.9,685.2 71.5,686.6 72.1,688.0 72.7,689.3 73.3,690.7 73.9,692.0 74.6,693.4 75.3,694.7 75.9,696.0 76.6,697.3 77.4,698.6 78.1,699.9 78.9,701.1 79.7,702.4 80.5,703.6 81.3,704.9 82.1,706.1 83.0,707.3 83.8,708.5 84.7,709.7 85.6,710.8 86.6,712.0 87.5,713.1 88.5,714.2 89.5,715.4 90.4,716.5 91.5,717.6 92.5,718.7 93.5,719.8 94.6,720.9 95.6,722.0 96.7,723.1 97.8,724.2 98.9,725.2 100.0,726.3 101.1,727.3 102.3,728.3 103.4,729.4 104.6,730.4 105.8,731.4 106.9,732.4 108.1,733.3 109.3,734.3 110.5,735.3 111.7,736.2 113.0,737.2 114.2,738.1 115.4,739.1 116.7,740.0 117.9,740.9 119.2,741.8 120.4,742.7 121.7,743.6 123.0,744.5 124.2,745.4 125.5,746.2 126.8,747.1 128.1,748.0 129.4,748.8 130.7,749.7 132.0,750.5 133.3,751.4 134.6,752.2 135.9,753.0 137.2,753.9 138.5,754.7 139.8,755.5 141.1,756.3 142.4,757.1 143.7,758.0 145.0,758.8 146.3,759.6 147.7,760.4 149.0,761.2 150.3,762.0 151.6,762.8 152.9,763.6 154.2,764.4 155.5,765.2 156.8,766.0 158.2,766.8 159.5,767.6 160.8,768.4 162.1,769.2 163.4,770.0 164.7,770.8 166.0,771.6 167.3,772.3 168.6,773.1 169.9,773.9 171.3,774.7 172.6,775.5 173.9,776.2 175.2,777.0 176.5,777.8 177.8,778.6 179.1,779.3 180.5,780.1 181.8,780.8 183.1,781.6 184.4,782.3 185.8,783.1 187.1,783.8 188.4,784.6 189.7,785.3 191.1,786.0 192.4,786.8 193.7,787.5 195.1,788.2 196.4,788.9 197.8,789.6 199.1,790.3 200.5,791.0 201.8,791.7 203.2,792.4 204.5,793.1 205.9,793.8 207.2,794.5 208.6,795.1 210.0,795.8 211.3,796.5 212.7,797.1 214.1,797.8 215.4,798.4 216.8,799.1 218.2,799.7 219.6,800.4 221.0,801.0 222.3,801.7 223.7,802.3 225.1,802.9 226.5,803.5 227.9,804.2 229.3,804.8 230.7,805.4 232.1,806.0 233.5,806.6 234.9,807.2 236.3,807.8 237.7,808.4 239.1,809.0 240.5,809.6 241.9,810.2 243.3,810.8 244.7,811.4 246.1,812.0 247.5,812.6 248.9,813.2 250.3,813.8 251.7,814.4 253.2,814.9 254.6,815.5 256.0,816.1 257.4,816.7 258.8,817.3 260.2,817.9 261.6,818.4 263.1,819.0 264.5,819.6 265.9,820.2 267.3,820.7 268.7,821.3 270.1,821.9 271.6,822.5 273.0,823.0 274.4,823.6 275.8,824.2 277.2,824.8 278.6,825.4 280.0,825.9 281.5,826.5 282.9,827.1 284.3,827.7 285.7,828.3 287.1,828.8 288.5,829.4 289.9,830.0 291.4,830.6 292.8,831.2 294.2,831.8 295.6,832.4 297.0,833.0 298.4,833.5 299.8,834.1 301.2,834.7 302.6,835.3 304.0,835.9 305.4,836.6 306.8,837.2 308.2,837.8 309.6,838.4 311.0,839.0 312.4,839.6 313.8,840.2 315.2,840.9 316.6,841.5 318.0,842.1 319.3,842.8 320.7,843.4" fill="none" stroke="#a6d384" stroke-width="1.5"/>
<path d="M54.9,575.4 55.1,576.9 55.2,578.3 55.3,579.8 55.5,581.3 55.6,582.7 55.7,584.2 55.8,585.7 55.9,587.2 56.0,588.6 56.1,590.1 56.2,591.6 56.3,593.1 56.4,594.6 56.6,596.1 56.7,597.6 56.8,599.1 56.9,600.5 57.0,602.0 57.1,603.5 57.2,605.0 57.3,606.5 57.4,608.0 57.5,609.5 57.6,611.0 57.7,612.5 57.8,614.0 58.0,615.6 58.1,617.1 58.2,618.6 58.4,620.1 58.5,621.6 58.6,623.1 58.8,624.6 58.9,626.1 59.1,627.6 59.3,629.1 59.4,630.7 59.6,632.2 59.8,633.7 60.0,635.2 60.2,636.7 60.4,638.2 60.6,639.7 60.8,641.3 61.0,642.8 61.3,644.3 61.5,645.8 61.8,647.3 62.1,648.8 62.3,650.3 62.6,651.8 62.9,653.3 63.2,654.8 63.5,656.3 63.9,657.8 64.2,659.3 64.6,660.8 64.9,662.3 65.3,663.8 65.7,665.2 66.1,666.7 66.5,668.2 67.0,669.6 67.4,671.1 67.9,672.5 68.3,673.9 68.8,675.4 69.3,676.8 69.9,678.2 70.4,679.6 70.9,681.0 71.5,682.4 72.1,683.8 72.7,685.1 73.3,686.5 73.9,687.8 74.6,689.2 75.3,690.5 75.9,691.8 76.6,693.1 77.4,694.4 78.1,695.7 78.9,696.9 79.7,698.2 80.5,699.4 81.3,700.7 82.1,701.9 83.0,703.1 83.8,704.3 84.7,705.5 85.6,706.6 86.6,707.8 87.5,708.9 88.5,710.0 89.5,711.2 90.4,712.3 91.5,713.4 92.5,714.4 93.5,715.5 94.6,716.6 95.6,717.6 96.7,718.7 97.8,719.7 98.9,720.7 100.0,721.7 101.1,722.7 102.3,723.7 103.4,724.7 104.6,725.7 105.8,726.6 106.9,727.6 108.1,728.5 109.3,729.4 110.5,730.4 111.7,731.3 113.0,732.2 114.2,733.1 115.4,734.0 116.7,734.9 117.9,735.7 119.2,736.6 120.4,737.4 121.7,738.3 123.0,739.1 124.2,740.0 125.5,740.8 126.8,741.6 128.1,742.4 129.4,743.3 130.7,744.1 132.0,744.9 133.3,745.7 134.6,746.4 135.9,747.2 137.2,748.0 138.5,748.8 139.8,749.6 141.1,750.3 142.4,751.1 143.7,751.9 145.0,752.6 146.3,753.4 147.7,754.2 149.0,754.9 150.3,755.7 151.6,756.5 152.9,757.2 154.2,758.0 155.5,758.7 156.8,759.5 158.2,760.2 159.5,761.0 160.8,761.7 162.1,762.5 163.4,763.2 164.7,764.0 166.0,764.7 167.3,765.5 168.6,766.2 169.9,766.9 171.3,767.7 172.6,768.4 173.9,769.1 175.2,769.9 176.5,770.6 177.8,771.3 179.1,772.0 180.5,772.7 181.8,773.4 183.1,774.2 184.4,774.9 185.8,775.6 187.1,776.3 188.4,776.9 189.7,777.6 191.1,778.3 192.4,779.0 193.7,779.7 195.1,780.4 196.4,781.0 197.8,781.7 199.1,782.3 200.5,783.0 201.8,783.6 203.2,784.3 204.5,784.9 205.9,785.6 207.2,786.2 208.6,786.8 210.0,787.4 211.3,788.1 212.7,788.7 214.1,789.3 215.4,789.9 216.8,790.5 218.2,791.1 219.6,791.7 221.0,792.3 222.3,792.9 223.7,793.4 225.1,794.0 226.5,794.6 227.9,795.2 229.3,795.7 230.7,796.3 232.1,796.8 233.5,797.4 234.9,797.9 236.3,798.5 237.7,799.0 239.1,799.6 240.5,800.1 241.9,800.6 243.3,801.2 244.7,801.7 246.1,802.2 247.5,802.8 248.9,803.3 250.3,803.8 251.7,804.3 253.2,804.9 254.6,805.4 256.0,805.9 257.4,806.4 258.8,806.9 260.2,807.5 261.6,808.0 263.1,808.5 264.5,809.0 265.9,809.5 267.3,810.0 268.7,810.6 270.1,811.1 271.6,811.6 273.0,812.1 274.4,812.6 275.8,813.1 277.2,813.6 278.6,814.2 280.0,814.7 281.5,815.2 282.9,815.7 284.3,816.2 285.7,816.8 287.1,817.3 288.5,817.8 289.9,818.3 291.4,818.8 292.8,819.4 294.2,819.9 295.6,820.4 297.0,821.0 298.4,821.5 299.8,822.0 301.2,822.6 302.6,823.1 304.0,823.6 305.4,824.2 306.8,824.7 308.2,825.3 309.6,825.8 311.0,826.4 312.4,827.0 313.8,827.5 315.2,828.1 316.6,828.6 318.0,829.2 319.3,829.8 320.7,830.4" fill="none" stroke="#a6d384" stroke-width="1.5"/>
<path d="M54.9,579.4 55.1,580.9 55.2,582.3 55.3,583.8 55.5,585.3 55.6,586.7 55.7,588.2 55.8,589.7 55.9,591.2 56.0,592.6 56.1,594.1 56.2,595.6 56.3,597.1 56.4,598.6 56.6,600.1 56.7,601.6 56.8,603.1 56.9,604.5 57.0,606.0 57.1,607.5 57.2,609.0 57.3,610.5 57.4,612.0 57.5,613.5 57.6,615.0 57.7,616.5 57.8,618.0 58.0,619.6 58.1,621.1 58.2,622.6 58.4,624.1 58.5,625.6 58.6,627.1 58.8,628.6 58.9,630.1 59.1,631.6 59.3,633.1 59.4,634.7 59.6,636.2 59.8,637.7 60.0,639.2 60.2,640.7 60.4,642.2 60.6,643.7 60.8,645.3 61.0,646.8 61.3,648.3 61.5,649.8 61.8,651.3 62.1,652.8 62.3,654.3 62.6,655.8 62.9,657.3 63.2,658.8 63.5,660.3 63.9,661.8 64.2,663.3 64.6,664.8 64.9,666.3 65.3,667.8 65.7,669.2 66.1,670.7 66.5,672.2 67.0,673.6 67.4,675.1 67.9,676.5 68.3,677.9 68.8,679.4 69.3,680.8 69.9,682.2 70.4,683.6 70.9,685.0 71.5,686.4 72.1,687.8 72.7,689.1 73.3,690.5 73.9,691.8 74.6,693.2 75.3,694.5 75.9,695.8 76.6,697.1 77.4,698.4 78.1,699.7 78.9,700.9 79.7,702.2 80.5,703.4 81.3,704.7 82.1,705.9 83.0,707.1 83.8,708.3 84.7,709.5 85.6,710.6 86.6,711.8 87.5,712.9 88.5,714.0 89.5,715.2 90.4,716.3 91.5,717.4 92.5,718.4 93.5,719.5 94.6,720.6 95.6,721.6 96.7,722.7 97.8,723.7 98.9,724.7 100.0,725.7 101.1,726.7 102.3,727.7 103.4,728.7 104.6,729.7 105.8,730.6 106.9,731.6 108.1,732.5 109.3,733.4 110.5,734.4 111.7,735.3 113.0,736.2 114.2,737.1 115.4,738.0 116.7,738.9 117.9,739.7 119.2,740.6 120.4,741.4 121.7,742.3 123.0,743.1 124.2,744.0 125.5,744.8 126.8,745.6 128.1,746.4 129.4,747.3 130.7,748.1 132.0,748.9 133.3,749.7 134.6,750.4 135.9,751.2 137.2,752.0 138.5,752.8 139.8,753.6 141.1,754.3 142.4,755.1 143.7,755.9 145.0,756.6 146.3,757.4 147.7,758.2 149.0,758.9 150.3,759.7 151.6,760.5 152.9,761.2 154.2,762.0 155.5,762.7 156.8,763.5 158.2,764.2 159.5,765.0 160.8,765.7 162.1,766.5 163.4,767.2 164.7,768.0 166.0,768.7 167.3,769.5 168.6,770.2 169.9,770.9 171.3,771.7 172.6,772.4 173.9,773.1 175.2,773.9 176.5,774.6 177.8,775.3 179.1,776.0 180.5,776.7 181.8,777.4 183.1,778.2 184.4,778.9 185.8,779.6 187.1,780.3 188.4,780.9 189.7,781.6 191.1,782.3 192.4,783.0 193.7,783.7 195.1,784.4 196.4,785.0 197.8,785.7 199.1,786.3 200.5,787.0 201.8,787.6 203.2,788.3 204.5,788.9 205.9,789.6 207.2,790.2 208.6,790.8 210.0,791.4 211.3,792.1 212.7,792.7 214.1,793.3 215.4,793.9 216.8,794.5 218.2,795.1 219.6,795.7 221.0,796.3 222.3,796.9 223.7,797.4 225.1,798.0 226.5,798.6 227.9,799.2 229.3,799.7 230.7,800.3 232.1,800.9 233.5,801.4 234.9,802.0 236.3,802.5 237.7,803.1 239.1,803.7 240.5,804.2 241.9,804.8 243.3,805.3 244.7,805.8 246.1,806.4 247.5,806.9 248.9,807.5 250.3,808.0 251.7,808.5 253.2,809.1 254.6,809.6 256.0,810.1 257.4,810.7 258.8,811.2 260.2,811.7 261.6,812.3 263.1,812.8 264.5,813.3 265.9,813.8 267.3,814.4 268.7,814.9 270.1,815.4 271.6,816.0 273.0,816.5 274.4,817.0 275.8,817.5 277.2,818.1 278.6,818.6 280.0,819.1 281.5,819.7 282.9,820.2 284.3,820.7 285.7,821.2 287.1,821.8 288.5,822.3 289.9,822.9 291.4,823.4 292.8,823.9 294.2,824.5 295.6,825.0 297.0,825.6 298.4,826.1 299.8,826.6 301.2,827.2 302.6,827.7 304.0,828.3 305.4,828.9 306.8,829.4 308.2,830.0 309.6,830.5 311.0,831.1 312.4,831.7 313.8,832.3 315.2,832.8 316.6,833.4 318.0,834.0 319.3,834.6 320.7,835.2" fill="none" stroke="#a6d384" stroke-width="1.5"/>
<path d="M54.9,577.4 55.1,578.9 55.2,580.3 55.3,581.8 55.5,583.3 55.6,584.7 55.7,586.2 55.8,587.7 55.9,589.2 56.0,590.6 56.1,592.1 56.2,593.6 56.3,595.1 56.4,596.6 56.6,598.1 56.7,599.6 56.8,601.1 56.9,602.5 57.0,604.0 57.1,605.5 57.2,607.0 57.3,608.5 57.4,610.0 57.5,611.5 57.6,613.0 57.7,614.5 57.8,616.0 58.0,617.6 58.1,619.1 58.2,620.6 58.4,622.1 58.5,623.6 58.6,625.1 58.8,626.6 58.9,628.1 59.1,629.6 59.3,631.1 59.4,632.7 59.6,634.2 59.8,635.7 60.0,637.2 60.2,638.7 60.4,640.2 60.6,641.7 60.8,643.3 61.0,644.8 61.3,646.3 61.5,647.8 61.8,649.3 62.1,650.8 62.3,652.3 62.6,653.8 62.9,655.3 63.2,656.8 63.5,658.3 63.9,659.8 64.2,661.3 64.6,662.8 64.9,664.3 65.3,665.8 65.7,667.2 66.1,668.7 66.5,670.2 67.0,671.6 67.4,673.1 67.9,674.5 68.3,675.9 68.8,677.4 69.3,678.8 69.9,680.2 70.4,681.6 70.9,683.0 71.5,684.4 72.1,685.8 72.7,687.1 73.3,688.5 73.9,689.8 74.6,691.2 75.3,692.5 75.9,693.8 76.6,695.1 77.4,696.4 78.1,697.7 78.9,698.9 79.7,700.2 80.5,701.4 81.3,702.7 82.1,703.9 83.0,705.1 83.8,706.3 84.7,707.5 85.6,708.6 86.6,709.8 87.5,710.9 88.5,712.0 89.5,713.2 90.4,714.3 91.5,715.4 92.5,716.4 93.5,717.5 94.6,718.6 95.6,719.6 96.7,720.7 97.8,721.7 98.9,722.7 100.0,723.7 101.1,724.7 102.3,725.7 103.4,726.7 104.6,727.7 105.8,728.6 106.9,729.6 108.1,730.5 109.3,731.4 110.5,732.4 111.7,733.3 113.0,734.2 114.2,735.1 115.4,736.0 116.7,736.9 117.9,737.7 119.2,738.6 120.4,739.4 121.7,740.3 123.0,741.1 124.2,742.0 125.5,742.8 126.8,743.6 128.1,744.4 129.4,745.3 130.7,746.1 132.0,746.9 133.3,747.7 134.6,748.4 135.9,749.2 137.2,750.0 138.5,750.8 139.8,751.6 141.1,752.3 142.4,753.1 143.7,753.9 145.0,754.6 146.3,755.4 147.7,756.2 149.0,756.9 150.3,757.7 151.6,758.5 152.9,759.2 154.2,760.0 155.5,760.7 156.8,761.5 158.2,762.2 159.5,763.0 160.8,763.7 162.1,764.5 163.4,765.2 164.7,766.0 166.0,766.7 167.3,767.5 168.6,768.2 169.9,768.9 171.3,769.7 172.6,770.4 173.9,771.1 175.2,771.9 176.5,772.6 177.8,773.3 179.1,774.0 180.5,774.7 181.8,775.4 183.1,776.2 184.4,776.9 185.8,777.6 187.1,778.3 188.4,778.9 189.7,779.6 191.1,780.3 192.4,781.0 193.7,781.7 195.1,782.4 196.4,783.0 197.8,783.7 199.1,784.3 200.5,785.0 201.8,785.6 203.2,786.3 204.5,786.9 205.9,787.6 207.2,788.2 208.6,788.8 210.0,789.4 211.3,790.1 212.7,790.7 214.1,791.3 215.4,791.9 216.8,792.5 218.2,793.1 219.6,793.7 221.0,794.3 222.3,794.9 223.7,795.4 225.1,796.0 226.5,796.6 227.9,797.2 229.3,797.7 230.7,798.3 232.1,798.9 233.5,799.4 234.9,800.0 236.3,800.5 237.7,801.1 239.1,801.7 240.5,802.2 241.9,802.8 243.3,803.3 244.7,803.8 246.1,804.4 247.5,804.9 248.9,805.5 250.3,806.0 251.7,806.5 253.2,807.1 254.6,807.6 256.0,808.1 257.4,808.7 258.8,809.2 260.2,809.7 261.6,810.3 263.1,810.8 264.5,811.3 265.9,811.8 267.3,812.4 268.7,812.9 270.1,813.4 271.6,814.0 273.0,814.5 274.4,815.0 275.8,815.5 277.2,816.1 278.6,816.6 280.0,817.1 281.5,817.7 282.9,818.2 284.3,818.7 285.7,819.2 287.1,819.8 288.5,820.3 289.9,820.9 291.4,821.4 292.8,821.9 294.2,822.5 295.6,823.0 297.0,823.6 298.4,824.1 299.8,824.6 301.2,825.2 302.6,825.7 304.0,826.3 305.4,826.9 306.8,827.4 308.2,828.0 309.6,828.5 311.0,829.1 312.4,829.7 313.8,830.3 315.2,830.8 316.6,831.4 318.0,832.0 319.3,832.6 320.7,833.2" fill="none" stroke="#30521f" stroke-width="2.8"/>
<path d="M62.80,653.40 V662.30 M56.80,653.40 H68.80 M56.80,662.30 H68.80" stroke="#ff3c3c" stroke-width="1.0" fill="none"/>
<circle cx="62.80" cy="657.80" r="3.0" fill="none" stroke="#ff0000" stroke-width="2.8"/>
<path d="M70.40,714.50 V724.50 M64.40,714.50 H76.40 M64.40,724.50 H76.40" stroke="#ff3c3c" stroke-width="1.0" fill="none"/>
<circle cx="70.40" cy="719.60" r="3.0" fill="none" stroke="#ff0000" stroke-width="2.8"/>
<path d="M86.80,731.70 V740.40 M80.80,731.70 H92.80 M80.80,740.40 H92.80" stroke="#ff3c3c" stroke-width="1.0" fill="none"/>
<circle cx="86.80" cy="735.90" r="3.0" fill="none" stroke="#ff0000" stroke-width="2.8"/>
<path d="M120.10,747.40 V760.20 M114.10,747.40 H126.10 M114.10,760.20 H126.10" stroke="#ff3c3c" stroke-width="1.0" fill="none"/>
<circle cx="120.10" cy="753.60" r="3.0" fill="none" stroke="#ff0000" stroke-width="2.8"/>
<path d="M152.70,759.70 V773.40 M146.70,759.70 H158.70 M146.70,773.40 H158.70" stroke="#ff3c3c" stroke-width="1.0" fill="none"/>
<circle cx="152.70" cy="765.60" r="3.0" fill="none" stroke="#ff0000" stroke-width="2.8"/>
<path d="M186.40,780.40 V798.80 M180.40,780.40 H192.40 M180.40,798.80 H192.40" stroke="#ff3c3c" stroke-width="1.0" fill="none"/>
<circle cx="186.40" cy="789.00" r="3.0" fill="none" stroke="#ff0000" stroke-width="2.8"/>
<path d="M252.70,810.20 V825.20 M246.70,810.20 H258.70 M246.70,825.20 H258.70" stroke="#ff3c3c" stroke-width="1.0" fill="none"/>
<circle cx="252.70" cy="816.80" r="3.0" fill="none" stroke="#ff0000" stroke-width="2.8"/>
<path d="M409.61,575.34 L409.83,576.74 L410.04,578.15 L410.25,579.56 L410.45,580.98 L410.64,582.41 L410.83,583.84 L411.01,585.27 L411.19,586.72 L411.37,588.16 L411.54,589.61 L411.70,591.07 L411.86,592.53 L412.02,594.00 L412.17,595.47 L412.31,596.94 L412.46,598.42 L412.60,599.90 L412.74,601.39 L412.87,602.88 L413.00,604.37 L413.13,605.86 L413.26,607.36 L413.38,608.86 L413.51,610.37 L413.63,611.87 L413.75,613.38 L413.86,614.89 L413.98,616.40 L414.10,617.91 L414.21,619.43 L414.33,620.94 L414.44,622.46 L414.55,623.98 L414.67,625.49 L414.78,627.01 L414.90,628.53 L415.01,630.05 L415.13,631.57 L415.24,633.09 L415.36,634.61 L415.48,636.13 L415.60,637.64 L415.73,639.16 L415.85,640.68 L415.98,642.19 L416.11,643.70 L416.24,645.22 L416.37,646.72 L416.51,648.23 L416.65,649.74 L416.80,651.24 L416.95,652.74 L417.10,654.24 L417.26,655.74 L417.42,657.23 L417.58,658.72 L417.75,660.20 L417.93,661.68 L418.11,663.16 L418.30,664.64 L418.49,666.11 L418.70,667.57 L418.91,669.03 L419.14,670.49 L419.38,671.94 L419.64,673.39 L419.90,674.83 L420.19,676.26 L420.49,677.69 L420.81,679.11 L421.15,680.52 L421.51,681.93 L421.89,683.33 L422.30,684.72 L422.72,686.11 L423.17,687.49 L423.63,688.88 L424.10,690.26 L424.59,691.66 L425.08,693.06 L425.58,694.47 L426.10,695.88 L426.62,697.29 L427.16,698.71 L427.70,700.13 L428.26,701.55 L428.83,702.97 L429.42,704.38 L430.01,705.80 L430.62,707.21 L431.24,708.62 L431.87,710.03 L432.52,711.43 L433.18,712.82 L433.86,714.21 L434.55,715.58 L435.25,716.95 L435.98,718.31 L436.71,719.65 L437.46,720.99 L438.23,722.31 L439.02,723.62 L439.82,724.91 L440.64,726.18 L441.48,727.44 L442.33,728.69 L443.20,729.92 L444.08,731.13 L444.99,732.33 L445.90,733.51 L446.84,734.68 L447.79,735.83 L448.75,736.97 L449.73,738.09 L450.72,739.20 L451.73,740.29 L452.75,741.37 L453.78,742.44 L454.83,743.49 L455.89,744.53 L456.97,745.55 L458.06,746.56 L459.16,747.56 L460.27,748.55 L461.39,749.52 L462.53,750.48 L463.67,751.43 L464.83,752.36 L466.00,753.28 L467.18,754.19 L468.37,755.09 L469.57,755.98 L470.78,756.86 L472.00,757.72 L473.23,758.57 L474.47,759.41 L475.72,760.24 L476.98,761.06 L478.24,761.87 L479.51,762.67 L480.79,763.46 L482.08,764.24 L483.38,765.01 L484.68,765.77 L485.99,766.52 L487.30,767.26 L488.63,767.99 L489.95,768.71 L491.29,769.42 L492.63,770.12 L493.97,770.82 L495.32,771.50 L496.68,772.18 L498.04,772.85 L499.40,773.51 L500.77,774.16 L502.14,774.81 L503.52,775.45 L504.89,776.08 L506.28,776.70 L507.66,777.32 L509.05,777.92 L510.44,778.53 L511.83,779.12 L513.22,779.71 L514.61,780.29 L516.01,780.87 L517.41,781.44 L518.81,782.01 L520.21,782.56 L521.62,783.11 L523.02,783.66 L524.43,784.20 L525.84,784.73 L527.25,785.26 L528.66,785.78 L530.08,786.30 L531.50,786.81 L532.91,787.32 L534.33,787.82 L535.75,788.32 L537.18,788.81 L538.60,789.29 L540.03,789.77 L541.46,790.25 L542.88,790.72 L544.31,791.19 L545.75,791.65 L547.18,792.10 L548.61,792.56 L550.05,793.01 L551.49,793.45 L552.93,793.89 L554.37,794.32 L555.81,794.76 L557.25,795.18 L558.69,795.61 L560.14,796.03 L561.58,796.44 L563.03,796.86 L564.48,797.26 L565.92,797.67 L567.37,798.07 L568.83,798.47 L570.28,798.87 L571.73,799.26 L573.18,799.65 L574.64,800.04 L576.09,800.42 L577.55,800.80 L579.01,801.18 L580.47,801.55 L581.92,801.93 L583.38,802.30 L584.84,802.67 L586.30,803.03 L587.77,803.39 L589.23,803.76 L590.69,804.12 L592.15,804.47 L593.62,804.83 L595.08,805.18 L596.55,805.53 L598.01,805.89 L599.48,806.23 L600.94,806.58 L602.41,806.93 L603.88,807.27 L605.35,807.62 L606.81,807.96 L608.28,808.30 L609.75,808.64 L611.22,808.98 L612.69,809.32 L614.16,809.66 L615.63,810.00 L617.09,810.33 L618.56,810.67 L620.03,811.01 L621.50,811.34 L622.97,811.68 L624.44,812.01 L625.91,812.35 L627.38,812.68 L628.85,813.02 L630.32,813.36 L631.79,813.69 L633.26,814.03 L634.73,814.37 L636.20,814.70 L637.67,815.04 L639.14,815.38 L640.60,815.72 L642.07,816.06 L643.54,816.40 L645.01,816.75 L646.47,817.09 L647.94,817.43 L649.41,817.78 L650.87,818.13 L652.34,818.48 L653.80,818.83 L655.27,819.18 L656.73,819.53 L658.19,819.89 L659.66,820.25 L661.12,820.61 L662.58,820.97 L664.04,821.33 L665.50,821.70 L666.96,822.07 L668.42,822.44 L669.87,822.81 L671.33,823.19 L672.79,823.57 L674.24,823.95 L675.70,824.33 L675.70,861.76 L674.23,861.34 L672.75,860.92 L671.28,860.50 L669.80,860.09 L668.33,859.67 L666.86,859.25 L665.40,858.83 L663.93,858.41 L662.46,858.00 L661.00,857.58 L659.53,857.16 L658.07,856.74 L656.61,856.33 L655.15,855.91 L653.69,855.49 L652.23,855.07 L650.77,854.66 L649.32,854.24 L647.86,853.82 L646.41,853.40 L644.96,852.98 L643.50,852.56 L642.05,852.14 L640.60,851.72 L639.15,851.30 L637.71,850.88 L636.26,850.46 L634.81,850.04 L633.37,849.62 L631.93,849.19 L630.48,848.77 L629.04,848.35 L627.60,847.92 L626.16,847.50 L624.72,847.07 L623.28,846.64 L621.84,846.21 L620.41,845.78 L618.97,845.35 L617.54,844.92 L616.10,844.49 L614.67,844.06 L613.24,843.62 L611.81,843.19 L610.37,842.75 L608.94,842.32 L607.51,841.88 L606.09,841.44 L604.66,841.00 L603.23,840.55 L601.80,840.11 L600.38,839.67 L598.95,839.22 L597.53,838.77 L596.11,838.32 L594.68,837.87 L593.26,837.42 L591.84,836.96 L590.42,836.51 L589.00,836.05 L587.58,835.59 L586.16,835.13 L584.74,834.67 L583.32,834.20 L581.90,833.74 L580.49,833.27 L579.07,832.80 L577.66,832.33 L576.24,831.85 L574.83,831.38 L573.41,830.90 L572.00,830.42 L570.58,829.94 L569.17,829.45 L567.76,828.96 L566.35,828.48 L564.93,827.98 L563.52,827.49 L562.11,826.99 L560.70,826.50 L559.29,826.00 L557.88,825.49 L556.47,824.99 L555.07,824.48 L553.66,823.97 L552.25,823.46 L550.84,822.94 L549.43,822.42 L548.03,821.90 L546.62,821.38 L545.21,820.85 L543.81,820.32 L542.40,819.79 L540.99,819.25 L539.59,818.71 L538.18,818.17 L536.78,817.63 L535.37,817.08 L533.97,816.53 L532.56,815.98 L531.16,815.42 L529.76,814.86 L528.35,814.30 L526.95,813.74 L525.54,813.17 L524.14,812.60 L522.74,812.02 L521.33,811.44 L519.93,810.86 L518.53,810.27 L517.12,809.68 L515.72,809.09 L514.32,808.49 L512.91,807.89 L511.51,807.29 L510.11,806.68 L508.70,806.07 L507.30,805.46 L505.90,804.84 L504.50,804.22 L503.10,803.59 L501.70,802.96 L500.30,802.32 L498.91,801.68 L497.52,801.03 L496.13,800.37 L494.74,799.71 L493.36,799.05 L491.98,798.38 L490.61,797.70 L489.24,797.01 L487.88,796.32 L486.52,795.62 L485.17,794.91 L483.82,794.19 L482.49,793.47 L481.15,792.74 L479.83,791.99 L478.51,791.24 L477.20,790.49 L475.90,789.72 L474.61,788.94 L473.32,788.15 L472.05,787.36 L470.78,786.55 L469.53,785.73 L468.29,784.90 L467.05,784.06 L465.83,783.21 L464.62,782.35 L463.42,781.48 L462.23,780.59 L461.06,779.69 L459.89,778.78 L458.75,777.86 L457.61,776.93 L456.49,775.98 L455.38,775.02 L454.29,774.04 L453.21,773.05 L452.15,772.05 L451.10,771.03 L450.07,770.00 L449.06,768.96 L448.06,767.90 L447.08,766.82 L446.11,765.73 L445.17,764.62 L444.24,763.50 L443.33,762.36 L442.44,761.21 L441.57,760.03 L440.72,758.85 L439.88,757.64 L439.07,756.42 L438.28,755.18 L437.50,753.93 L436.75,752.66 L436.01,751.37 L435.29,750.07 L434.59,748.76 L433.91,747.43 L433.24,746.09 L432.60,744.74 L431.97,743.38 L431.35,742.00 L430.75,740.62 L430.17,739.22 L429.60,737.81 L429.05,736.40 L428.52,734.97 L427.99,733.54 L427.49,732.09 L427.00,730.64 L426.52,729.18 L426.05,727.72 L425.60,726.25 L425.16,724.77 L424.74,723.29 L424.33,721.80 L423.92,720.31 L423.54,718.81 L423.16,717.31 L422.79,715.81 L422.44,714.31 L422.10,712.80 L421.76,711.29 L421.44,709.78 L421.13,708.27 L420.83,706.76 L420.53,705.25 L420.25,703.73 L419.98,702.22 L419.71,700.71 L419.45,699.20 L419.20,697.69 L418.96,696.18 L418.73,694.67 L418.50,693.16 L418.28,691.65 L418.07,690.14 L417.86,688.63 L417.66,687.12 L417.47,685.61 L417.28,684.10 L417.10,682.59 L416.92,681.08 L416.75,679.57 L416.58,678.06 L416.42,676.55 L416.26,675.05 L416.11,673.54 L415.96,672.03 L415.81,670.53 L415.67,669.02 L415.52,667.52 L415.39,666.01 L415.25,664.51 L415.12,663.00 L414.99,661.50 L414.86,660.00 L414.73,658.50 L414.60,657.00 L414.48,655.50 L414.35,654.00 L414.23,652.50 L414.10,651.00 L413.98,649.51 L413.85,648.01 L413.72,646.51 L413.60,645.02 L413.47,643.53 L413.35,642.03 L413.22,640.54 L413.10,639.05 L412.97,637.56 L412.84,636.06 L412.72,634.57 L412.60,633.08 L412.47,631.59 L412.35,630.10 L412.22,628.61 L412.10,627.12 L411.98,625.63 L411.86,624.14 L411.74,622.64 L411.62,621.15 L411.50,619.66 L411.39,618.17 L411.27,616.68 L411.15,615.18 L411.04,613.69 L410.93,612.19 L410.82,610.70 L410.71,609.20 L410.60,607.71 L410.50,606.21 L410.39,604.71 L410.29,603.21 L410.19,601.71 L410.09,600.21 L409.99,598.71 L409.90,597.20 L409.80,595.70 L409.71,594.19 L409.63,592.68 L409.54,591.17 L409.46,589.66 L409.38,588.15 L409.30,586.63 L409.22,585.12 L409.15,583.60 L409.08,582.08 L409.01,580.56 L408.94,579.03 L408.88,577.51 L408.82,575.98 Z" fill="#cee9fe"/>
<path d="M409.5,590 V595" stroke="#8fb0ea" stroke-width="2.6"/>
<path d="M409.2,594.4 409.5,595.9 409.7,597.4 410.0,598.8 410.2,600.3 410.4,601.8 410.6,603.2 410.9,604.7 411.1,606.2 411.2,607.7 411.4,609.1 411.6,610.6 411.8,612.1 411.9,613.6 412.1,615.1 412.2,616.6 412.4,618.1 412.5,619.6 412.7,621.1 412.8,622.6 412.9,624.1 413.0,625.6 413.2,627.1 413.3,628.6 413.4,630.1 413.5,631.6 413.6,633.1 413.7,634.6 413.8,636.1 413.9,637.6 414.0,639.1 414.1,640.7 414.2,642.2 414.3,643.7 414.4,645.2 414.5,646.7 414.6,648.2 414.7,649.7 414.8,651.3 414.9,652.8 415.0,654.3 415.1,655.8 415.2,657.3 415.3,658.8 415.4,660.4 415.6,661.9 415.7,663.4 415.8,664.9 416.0,666.4 416.1,667.9 416.2,669.5 416.4,671.0 416.5,672.5 416.7,674.0 416.9,675.5 417.1,677.0 417.2,678.5 417.4,680.0 417.6,681.5 417.9,683.0 418.1,684.5 418.3,686.0 418.5,687.5 418.8,689.0 419.0,690.5 419.3,692.0 419.6,693.5 419.9,695.0 420.2,696.5 420.5,697.9 420.8,699.4 421.2,700.9 421.5,702.4 421.9,703.8 422.3,705.3 422.7,706.7 423.1,708.2 423.5,709.6 424.0,711.0 424.4,712.5 424.9,713.9 425.4,715.3 426.0,716.7 426.5,718.1 427.1,719.5 427.7,720.8 428.3,722.2 428.9,723.6 429.6,724.9 430.2,726.2 430.9,727.5 431.7,728.8 432.4,730.1 433.2,731.4 434.0,732.7 434.8,734.0 435.6,735.2 436.4,736.4 437.3,737.7 438.2,738.9 439.1,740.1 440.0,741.3 440.9,742.5 441.9,743.6 442.9,744.8 443.8,746.0 444.8,747.1 445.8,748.2 446.9,749.3 447.9,750.4 448.9,751.5 450.0,752.6 451.1,753.7 452.2,754.7 453.3,755.8 454.4,756.8 455.5,757.8 456.6,758.8 457.7,759.8 458.8,760.8 460.0,761.8 461.1,762.8 462.3,763.7 463.5,764.7 464.6,765.6 465.8,766.5 467.0,767.5 468.2,768.4 469.4,769.2 470.6,770.1 471.8,771.0 473.0,771.9 474.3,772.7 475.5,773.5 476.7,774.4 478.0,775.2 479.2,776.0 480.5,776.8 481.7,777.6 483.0,778.4 484.3,779.1 485.5,779.9 486.8,780.7 488.1,781.4 489.4,782.1 490.7,782.9 492.0,783.6 493.3,784.3 494.7,785.0 496.0,785.7 497.3,786.3 498.6,787.0 500.0,787.7 501.3,788.3 502.7,789.0 504.0,789.6 505.4,790.3 506.7,790.9 508.1,791.5 509.5,792.1 510.8,792.7 512.2,793.3 513.6,793.9 515.0,794.5 516.4,795.1 517.8,795.6 519.2,796.2 520.6,796.7 522.0,797.3 523.4,797.8 524.8,798.4 526.2,798.9 527.6,799.4 529.1,799.9 530.5,800.4 531.9,800.9 533.3,801.4 534.8,801.9 536.2,802.4 537.7,802.9 539.1,803.4 540.6,803.8 542.0,804.3 543.5,804.7 544.9,805.2 546.4,805.6 547.8,806.1 549.3,806.5 550.8,806.9 552.2,807.4 553.7,807.8 555.2,808.2 556.6,808.6 558.1,809.0 559.6,809.4 561.1,809.8 562.5,810.2 564.0,810.6 565.5,811.0 567.0,811.4 568.5,811.8 570.0,812.2 571.4,812.5 572.9,812.9 574.4,813.3 575.9,813.7 577.4,814.0 578.9,814.4 580.4,814.7 581.9,815.1 583.4,815.4 584.9,815.8 586.4,816.1 587.9,816.5 589.4,816.8 590.9,817.2 592.4,817.5 593.9,817.8 595.3,818.2 596.8,818.5 598.3,818.8 599.8,819.1 601.3,819.5 602.8,819.8 604.3,820.1 605.8,820.4 607.3,820.8 608.8,821.1 610.3,821.4 611.8,821.7 613.3,822.0 614.8,822.4 616.3,822.7 617.7,823.0 619.2,823.3 620.7,823.6 622.2,823.9 623.7,824.3 625.2,824.6 626.6,824.9 628.1,825.2 629.6,825.5 631.1,825.8 632.5,826.2 634.0,826.5 635.5,826.8 636.9,827.1 638.4,827.4 639.9,827.8 641.3,828.1 642.8,828.4 644.2,828.7 645.7,829.1 647.1,829.4 648.6,829.7 650.0,830.0 651.5,830.4 652.9,830.7 654.3,831.1 655.8,831.4 657.2,831.7 658.6,832.1 660.0,832.4 661.5,832.8 662.9,833.1 664.3,833.5 665.7,833.8 667.1,834.2 668.5,834.6 669.9,834.9 671.3,835.3 672.7,835.7 674.1,836.0 675.4,836.4" fill="none" stroke="#8da3d9" stroke-width="1.4"/>
<path d="M409.2,595.9 409.5,597.4 409.7,598.9 410.0,600.3 410.2,601.8 410.4,603.3 410.7,604.7 410.9,606.2 411.1,607.7 411.3,609.2 411.4,610.6 411.6,612.1 411.8,613.6 412.0,615.1 412.1,616.6 412.3,618.1 412.4,619.6 412.5,621.1 412.7,622.6 412.8,624.1 412.9,625.6 413.1,627.1 413.2,628.6 413.3,630.1 413.4,631.6 413.5,633.1 413.6,634.7 413.7,636.2 413.8,637.7 413.9,639.2 414.0,640.7 414.1,642.2 414.2,643.8 414.3,645.3 414.4,646.8 414.5,648.3 414.6,649.8 414.7,651.4 414.8,652.9 414.9,654.4 415.0,655.9 415.1,657.4 415.2,659.0 415.3,660.5 415.4,662.0 415.5,663.5 415.7,665.0 415.8,666.6 415.9,668.1 416.1,669.6 416.2,671.1 416.4,672.6 416.5,674.1 416.7,675.6 416.9,677.2 417.1,678.7 417.2,680.2 417.4,681.7 417.6,683.2 417.9,684.7 418.1,686.2 418.3,687.7 418.5,689.2 418.8,690.7 419.1,692.2 419.3,693.7 419.6,695.2 419.9,696.7 420.2,698.1 420.5,699.6 420.9,701.1 421.2,702.6 421.6,704.0 422.0,705.5 422.3,707.0 422.8,708.4 423.2,709.9 423.6,711.3 424.1,712.7 424.5,714.2 425.0,715.6 425.6,717.0 426.1,718.4 426.6,719.8 427.2,721.2 427.8,722.5 428.4,723.9 429.0,725.2 429.7,726.6 430.4,727.9 431.1,729.2 431.8,730.6 432.5,731.9 433.3,733.2 434.1,734.4 434.9,735.7 435.7,737.0 436.5,738.2 437.4,739.4 438.3,740.7 439.2,741.9 440.1,743.1 441.0,744.3 441.9,745.5 442.9,746.6 443.9,747.8 444.8,749.0 445.8,750.1 446.8,751.2 447.9,752.3 448.9,753.4 449.9,754.5 451.0,755.6 452.1,756.7 453.2,757.8 454.2,758.8 455.3,759.9 456.4,760.9 457.6,761.9 458.7,762.9 459.8,763.9 460.9,764.9 462.1,765.9 463.2,766.8 464.4,767.8 465.6,768.7 466.7,769.7 467.9,770.6 469.1,771.5 470.3,772.4 471.5,773.3 472.7,774.2 473.9,775.1 475.1,775.9 476.4,776.8 477.6,777.6 478.8,778.5 480.1,779.3 481.3,780.1 482.6,780.9 483.8,781.7 485.1,782.5 486.4,783.3 487.6,784.1 488.9,784.8 490.2,785.6 491.5,786.3 492.8,787.0 494.1,787.8 495.4,788.5 496.7,789.2 498.1,789.9 499.4,790.6 500.7,791.3 502.1,792.0 503.4,792.6 504.7,793.3 506.1,794.0 507.4,794.6 508.8,795.3 510.2,795.9 511.5,796.5 512.9,797.1 514.3,797.8 515.7,798.4 517.0,799.0 518.4,799.6 519.8,800.1 521.2,800.7 522.6,801.3 524.0,801.9 525.4,802.4 526.8,803.0 528.2,803.5 529.7,804.1 531.1,804.6 532.5,805.1 533.9,805.7 535.4,806.2 536.8,806.7 538.2,807.2 539.7,807.7 541.1,808.2 542.5,808.7 544.0,809.2 545.4,809.7 546.9,810.1 548.3,810.6 549.8,811.1 551.3,811.5 552.7,812.0 554.2,812.5 555.6,812.9 557.1,813.4 558.6,813.8 560.0,814.2 561.5,814.7 563.0,815.1 564.5,815.5 565.9,815.9 567.4,816.4 568.9,816.8 570.4,817.2 571.9,817.6 573.3,818.0 574.8,818.4 576.3,818.8 577.8,819.2 579.3,819.6 580.8,820.0 582.2,820.4 583.7,820.8 585.2,821.2 586.7,821.5 588.2,821.9 589.7,822.3 591.2,822.7 592.7,823.0 594.2,823.4 595.6,823.8 597.1,824.1 598.6,824.5 600.1,824.9 601.6,825.2 603.1,825.6 604.6,826.0 606.1,826.3 607.6,826.7 609.0,827.0 610.5,827.4 612.0,827.7 613.5,828.1 615.0,828.4 616.5,828.8 617.9,829.1 619.4,829.5 620.9,829.8 622.4,830.2 623.9,830.6 625.3,830.9 626.8,831.3 628.3,831.6 629.7,832.0 631.2,832.3 632.7,832.7 634.1,833.0 635.6,833.4 637.1,833.7 638.5,834.1 640.0,834.4 641.4,834.8 642.9,835.2 644.3,835.5 645.8,835.9 647.2,836.2 648.7,836.6 650.1,837.0 651.5,837.3 653.0,837.7 654.4,838.1 655.8,838.4 657.2,838.8 658.7,839.2 660.1,839.6 661.5,840.0 662.9,840.3 664.3,840.7 665.7,841.1 667.1,841.5 668.5,841.9 669.9,842.3 671.3,842.7 672.7,843.1 674.1,843.5 675.4,843.9" fill="none" stroke="#8da3d9" stroke-width="1.4"/>
<path d="M409.2,592.9 409.5,594.4 409.7,595.9 410.0,597.3 410.2,598.8 410.4,600.3 410.7,601.7 410.9,603.2 411.1,604.7 411.3,606.2 411.4,607.6 411.6,609.1 411.8,610.6 412.0,612.1 412.1,613.6 412.3,615.1 412.4,616.6 412.5,618.1 412.7,619.6 412.8,621.1 412.9,622.6 413.1,624.1 413.2,625.6 413.3,627.1 413.4,628.6 413.5,630.1 413.6,631.7 413.7,633.2 413.8,634.7 413.9,636.2 414.0,637.7 414.1,639.2 414.2,640.8 414.3,642.3 414.4,643.8 414.5,645.3 414.6,646.8 414.7,648.4 414.8,649.9 414.9,651.4 415.0,652.9 415.1,654.4 415.2,656.0 415.3,657.5 415.4,659.0 415.5,660.5 415.7,662.0 415.8,663.6 415.9,665.1 416.1,666.6 416.2,668.1 416.4,669.6 416.5,671.1 416.7,672.6 416.9,674.2 417.1,675.7 417.2,677.2 417.4,678.7 417.6,680.2 417.9,681.7 418.1,683.2 418.3,684.7 418.5,686.2 418.8,687.7 419.1,689.2 419.3,690.7 419.6,692.2 419.9,693.7 420.2,695.1 420.5,696.6 420.9,698.1 421.2,699.6 421.6,701.0 422.0,702.5 422.3,704.0 422.8,705.4 423.2,706.9 423.6,708.3 424.1,709.7 424.5,711.2 425.0,712.6 425.6,714.0 426.1,715.4 426.6,716.8 427.2,718.2 427.8,719.5 428.4,720.9 429.0,722.2 429.7,723.6 430.4,724.9 431.1,726.2 431.8,727.6 432.5,728.9 433.3,730.2 434.1,731.4 434.9,732.7 435.7,734.0 436.5,735.2 437.4,736.4 438.3,737.7 439.2,738.9 440.1,740.1 441.0,741.3 441.9,742.5 442.9,743.6 443.9,744.8 444.8,746.0 445.8,747.1 446.8,748.2 447.9,749.3 448.9,750.4 449.9,751.5 451.0,752.6 452.1,753.7 453.2,754.8 454.2,755.8 455.3,756.9 456.4,757.9 457.6,758.9 458.7,759.9 459.8,760.9 460.9,761.9 462.1,762.9 463.2,763.8 464.4,764.8 465.6,765.7 466.7,766.7 467.9,767.6 469.1,768.5 470.3,769.4 471.5,770.3 472.7,771.2 473.9,772.1 475.1,772.9 476.4,773.8 477.6,774.6 478.8,775.5 480.1,776.3 481.3,777.1 482.6,777.9 483.8,778.7 485.1,779.5 486.4,780.3 487.6,781.1 488.9,781.8 490.2,782.6 491.5,783.3 492.8,784.0 494.1,784.8 495.4,785.5 496.7,786.2 498.1,786.9 499.4,787.6 500.7,788.3 502.1,789.0 503.4,789.6 504.7,790.3 506.1,791.0 507.4,791.6 508.8,792.3 510.2,792.9 511.5,793.5 512.9,794.1 514.3,794.8 515.7,795.4 517.0,796.0 518.4,796.6 519.8,797.1 521.2,797.7 522.6,798.3 524.0,798.9 525.4,799.4 526.8,800.0 528.2,800.5 529.7,801.1 531.1,801.6 532.5,802.1 533.9,802.7 535.4,803.2 536.8,803.7 538.2,804.2 539.7,804.7 541.1,805.2 542.5,805.7 544.0,806.2 545.4,806.7 546.9,807.1 548.3,807.6 549.8,808.1 551.3,808.5 552.7,809.0 554.2,809.5 555.6,809.9 557.1,810.4 558.6,810.8 560.0,811.2 561.5,811.7 563.0,812.1 564.5,812.5 565.9,812.9 567.4,813.4 568.9,813.8 570.4,814.2 571.9,814.6 573.3,815.0 574.8,815.4 576.3,815.8 577.8,816.2 579.3,816.6 580.8,817.0 582.2,817.4 583.7,817.8 585.2,818.2 586.7,818.5 588.2,818.9 589.7,819.3 591.2,819.7 592.7,820.0 594.2,820.4 595.6,820.8 597.1,821.1 598.6,821.5 600.1,821.9 601.6,822.2 603.1,822.6 604.6,823.0 606.1,823.3 607.6,823.7 609.0,824.0 610.5,824.4 612.0,824.7 613.5,825.1 615.0,825.4 616.5,825.8 617.9,826.1 619.4,826.5 620.9,826.8 622.4,827.2 623.9,827.6 625.3,827.9 626.8,828.3 628.3,828.6 629.7,829.0 631.2,829.3 632.7,829.7 634.1,830.0 635.6,830.4 637.1,830.7 638.5,831.1 640.0,831.4 641.4,831.8 642.9,832.2 644.3,832.5 645.8,832.9 647.2,833.2 648.7,833.6 650.1,834.0 651.5,834.3 653.0,834.7 654.4,835.1 655.8,835.4 657.2,835.8 658.7,836.2 660.1,836.6 661.5,837.0 662.9,837.3 664.3,837.7 665.7,838.1 667.1,838.5 668.5,838.9 669.9,839.3 671.3,839.7 672.7,840.1 674.1,840.5 675.4,840.9" fill="none" stroke="#8da3d9" stroke-width="1.4"/>
<path d="M409.2,594.4 409.5,595.9 409.7,597.4 410.0,598.8 410.2,600.3 410.4,601.8 410.7,603.2 410.9,604.7 411.1,606.2 411.3,607.7 411.4,609.1 411.6,610.6 411.8,612.1 412.0,613.6 412.1,615.1 412.3,616.6 412.4,618.1 412.5,619.6 412.7,621.1 412.8,622.6 412.9,624.1 413.1,625.6 413.2,627.1 413.3,628.6 413.4,630.1 413.5,631.6 413.6,633.2 413.7,634.7 413.8,636.2 413.9,637.7 414.0,639.2 414.1,640.7 414.2,642.3 414.3,643.8 414.4,645.3 414.5,646.8 414.6,648.3 414.7,649.9 414.8,651.4 414.9,652.9 415.0,654.4 415.1,655.9 415.2,657.5 415.3,659.0 415.4,660.5 415.5,662.0 415.7,663.5 415.8,665.1 415.9,666.6 416.1,668.1 416.2,669.6 416.4,671.1 416.5,672.6 416.7,674.1 416.9,675.7 417.1,677.2 417.2,678.7 417.4,680.2 417.6,681.7 417.9,683.2 418.1,684.7 418.3,686.2 418.5,687.7 418.8,689.2 419.1,690.7 419.3,692.2 419.6,693.7 419.9,695.2 420.2,696.6 420.5,698.1 420.9,699.6 421.2,701.1 421.6,702.5 422.0,704.0 422.3,705.5 422.8,706.9 423.2,708.4 423.6,709.8 424.1,711.2 424.5,712.7 425.0,714.1 425.6,715.5 426.1,716.9 426.6,718.3 427.2,719.7 427.8,721.0 428.4,722.4 429.0,723.7 429.7,725.1 430.4,726.4 431.1,727.7 431.8,729.1 432.5,730.4 433.3,731.7 434.1,732.9 434.9,734.2 435.7,735.5 436.5,736.7 437.4,737.9 438.3,739.2 439.2,740.4 440.1,741.6 441.0,742.8 441.9,744.0 442.9,745.1 443.9,746.3 444.8,747.5 445.8,748.6 446.8,749.7 447.9,750.8 448.9,751.9 449.9,753.0 451.0,754.1 452.1,755.2 453.2,756.3 454.2,757.3 455.3,758.4 456.4,759.4 457.6,760.4 458.7,761.4 459.8,762.4 460.9,763.4 462.1,764.4 463.2,765.3 464.4,766.3 465.6,767.2 466.7,768.2 467.9,769.1 469.1,770.0 470.3,770.9 471.5,771.8 472.7,772.7 473.9,773.6 475.1,774.4 476.4,775.3 477.6,776.1 478.8,777.0 480.1,777.8 481.3,778.6 482.6,779.4 483.8,780.2 485.1,781.0 486.4,781.8 487.6,782.6 488.9,783.3 490.2,784.1 491.5,784.8 492.8,785.5 494.1,786.3 495.4,787.0 496.7,787.7 498.1,788.4 499.4,789.1 500.7,789.8 502.1,790.5 503.4,791.1 504.7,791.8 506.1,792.5 507.4,793.1 508.8,793.8 510.2,794.4 511.5,795.0 512.9,795.6 514.3,796.3 515.7,796.9 517.0,797.5 518.4,798.1 519.8,798.6 521.2,799.2 522.6,799.8 524.0,800.4 525.4,800.9 526.8,801.5 528.2,802.0 529.7,802.6 531.1,803.1 532.5,803.6 533.9,804.2 535.4,804.7 536.8,805.2 538.2,805.7 539.7,806.2 541.1,806.7 542.5,807.2 544.0,807.7 545.4,808.2 546.9,808.6 548.3,809.1 549.8,809.6 551.3,810.0 552.7,810.5 554.2,811.0 555.6,811.4 557.1,811.9 558.6,812.3 560.0,812.7 561.5,813.2 563.0,813.6 564.5,814.0 565.9,814.4 567.4,814.9 568.9,815.3 570.4,815.7 571.9,816.1 573.3,816.5 574.8,816.9 576.3,817.3 577.8,817.7 579.3,818.1 580.8,818.5 582.2,818.9 583.7,819.3 585.2,819.7 586.7,820.0 588.2,820.4 589.7,820.8 591.2,821.2 592.7,821.5 594.2,821.9 595.6,822.3 597.1,822.6 598.6,823.0 600.1,823.4 601.6,823.7 603.1,824.1 604.6,824.5 606.1,824.8 607.6,825.2 609.0,825.5 610.5,825.9 612.0,826.2 613.5,826.6 615.0,826.9 616.5,827.3 617.9,827.6 619.4,828.0 620.9,828.3 622.4,828.7 623.9,829.1 625.3,829.4 626.8,829.8 628.3,830.1 629.7,830.5 631.2,830.8 632.7,831.2 634.1,831.5 635.6,831.9 637.1,832.2 638.5,832.6 640.0,832.9 641.4,833.3 642.9,833.7 644.3,834.0 645.8,834.4 647.2,834.7 648.7,835.1 650.1,835.5 651.5,835.8 653.0,836.2 654.4,836.6 655.8,836.9 657.2,837.3 658.7,837.7 660.1,838.1 661.5,838.5 662.9,838.8 664.3,839.2 665.7,839.6 667.1,840.0 668.5,840.4 669.9,840.8 671.3,841.2 672.7,841.6 674.1,842.0 675.4,842.4" fill="none" stroke="#1f3566" stroke-width="2.8"/>
<path d="M417.30,703.10 V715.40 M411.30,703.10 H423.30 M411.30,715.40 H423.30" stroke="#ff3c3c" stroke-width="1.0" fill="none"/>
<circle cx="417.30" cy="708.90" r="3.0" fill="none" stroke="#ff0000" stroke-width="2.8"/>
<path d="M424.30,732.90 V742.20 M418.30,732.90 H430.30 M418.30,742.20 H430.30" stroke="#ff3c3c" stroke-width="1.0" fill="none"/>
<circle cx="424.30" cy="737.70" r="3.0" fill="none" stroke="#ff0000" stroke-width="2.8"/>
<path d="M440.90,760.40 V773.20 M434.90,760.40 H446.90 M434.90,773.20 H446.90" stroke="#ff3c3c" stroke-width="1.0" fill="none"/>
<circle cx="440.90" cy="766.70" r="3.0" fill="none" stroke="#ff0000" stroke-width="2.8"/>
<path d="M474.70,763.60 V781.10 M468.70,763.60 H480.70 M468.70,781.10 H480.70" stroke="#ff3c3c" stroke-width="1.0" fill="none"/>
<circle cx="474.70" cy="771.50" r="3.0" fill="none" stroke="#ff0000" stroke-width="2.8"/>
<path d="M508.40,775.50 V788.10 M502.40,775.50 H514.40 M502.40,788.10 H514.40" stroke="#ff3c3c" stroke-width="1.0" fill="none"/>
<circle cx="508.40" cy="781.50" r="3.0" fill="none" stroke="#ff0000" stroke-width="2.8"/>
<path d="M541.70,785.00 V802.60 M535.70,785.00 H547.70 M535.70,802.60 H547.70" stroke="#ff3c3c" stroke-width="1.0" fill="none"/>
<circle cx="541.70" cy="793.20" r="3.0" fill="none" stroke="#ff0000" stroke-width="2.8"/>
<path d="M608.30,793.20 V836.40 M602.30,793.20 H614.30 M602.30,836.40 H614.30" stroke="#ff3c3c" stroke-width="1.0" fill="none"/>
<circle cx="608.30" cy="811.90" r="3.0" fill="none" stroke="#ff0000" stroke-width="2.8"/>
<path d="M52.25,1373.78 L53.04,1372.47 L53.79,1371.14 L54.50,1369.80 L55.17,1368.45 L55.79,1367.09 L56.38,1365.72 L56.94,1364.33 L57.45,1362.94 L57.94,1361.53 L58.39,1360.12 L58.81,1358.69 L59.20,1357.26 L59.57,1355.82 L59.91,1354.37 L60.22,1352.91 L60.52,1351.45 L60.79,1349.98 L61.04,1348.50 L61.27,1347.02 L61.49,1345.53 L61.69,1344.04 L61.87,1342.54 L62.05,1341.04 L62.21,1339.54 L62.37,1338.03 L62.51,1336.52 L62.65,1335.01 L62.79,1333.50 L62.92,1331.99 L63.05,1330.47 L63.18,1328.96 L63.31,1327.45 L63.45,1325.93 L63.59,1324.42 L63.72,1322.91 L63.86,1321.40 L64.01,1319.89 L64.15,1318.38 L64.30,1316.87 L64.45,1315.37 L64.60,1313.86 L64.75,1312.35 L64.90,1310.85 L65.05,1309.34 L65.21,1307.84 L65.36,1306.33 L65.52,1304.83 L65.68,1303.32 L65.84,1301.82 L66.00,1300.32 L66.16,1298.82 L66.32,1297.32 L66.49,1295.82 L66.65,1294.32 L66.81,1292.82 L66.98,1291.32 L67.14,1289.82 L67.31,1288.32 L67.47,1286.82 L67.64,1285.32 L67.80,1283.83 L67.96,1282.33 L68.13,1280.83 L68.29,1279.34 L68.46,1277.84 L68.62,1276.35 L68.78,1274.85 L68.95,1273.36 L69.11,1271.86 L69.27,1270.37 L69.43,1268.88 L69.59,1267.38 L69.75,1265.89 L69.91,1264.40 L70.07,1262.91 L70.23,1261.41 L70.39,1259.92 L70.55,1258.43 L70.71,1256.94 L70.86,1255.45 L71.02,1253.96 L71.18,1252.46 L71.34,1250.97 L71.50,1249.48 L71.65,1247.99 L71.81,1246.50 L71.97,1245.01 L72.13,1243.52 L72.29,1242.02 L72.45,1240.53 L72.61,1239.04 L72.76,1237.55 L72.92,1236.06 L73.08,1234.57 L73.24,1233.07 L73.40,1231.58 L73.57,1230.09 L73.73,1228.60 L73.89,1227.11 L74.05,1225.61 L74.21,1224.12 L74.38,1222.63 L74.54,1221.13 L74.71,1219.64 L74.87,1218.14 L75.04,1216.65 L75.21,1215.15 L75.37,1213.66 L75.54,1212.16 L75.71,1210.67 L75.88,1209.17 L76.06,1207.67 L76.23,1206.17 L76.40,1204.68 L76.58,1203.18 L76.75,1201.68 L76.93,1200.18 L77.11,1198.68 L77.29,1197.18 L77.47,1195.67 L77.65,1194.17 L77.83,1192.67 L78.02,1191.17 L78.20,1189.66 L78.39,1188.16 L78.58,1186.65 L78.77,1185.15 L78.96,1183.64 L79.15,1182.13 L79.35,1180.62 L79.54,1179.11 L79.74,1177.60 L79.94,1176.09 L80.15,1174.58 L80.36,1173.07 L80.57,1171.56 L80.79,1170.05 L81.01,1168.55 L81.24,1167.04 L81.48,1165.54 L81.72,1164.04 L81.97,1162.54 L82.23,1161.04 L82.50,1159.55 L82.79,1158.07 L83.08,1156.58 L83.38,1155.10 L83.69,1153.63 L84.02,1152.16 L84.36,1150.69 L84.72,1149.23 L85.09,1147.78 L85.47,1146.34 L85.87,1144.90 L86.29,1143.46 L86.72,1142.04 L87.17,1140.62 L87.64,1139.21 L88.13,1137.81 L88.63,1136.42 L89.16,1135.04 L89.71,1133.66 L90.27,1132.30 L90.87,1130.94 L91.48,1129.60 L92.12,1128.27 L92.78,1126.94 L93.46,1125.63 L94.17,1124.33 L94.90,1123.05 L95.67,1121.77 L96.45,1120.51 L97.27,1119.26 L98.13,1118.04 L99.03,1116.84 L100.00,1115.69 L101.04,1114.59 L102.13,1113.51 L103.20,1112.38 L104.22,1111.14 L105.17,1109.83 L106.10,1108.53 L107.06,1107.31 L108.08,1106.26 L109.20,1105.47 L110.47,1104.99 L111.82,1104.81 L113.18,1104.88 L114.49,1105.16 L115.74,1105.62 L116.93,1106.25 L118.07,1107.04 L119.15,1107.96 L120.19,1109.00 L121.19,1110.15 L122.14,1111.38 L123.05,1112.70 L123.93,1114.07 L124.78,1115.48 L125.60,1116.92 L126.39,1118.36 L127.16,1119.81 L127.90,1121.23 L128.63,1122.63 L129.35,1124.00 L130.06,1125.34 L130.76,1126.67 L131.45,1127.98 L132.15,1129.28 L132.85,1130.56 L133.55,1131.85 L134.26,1133.13 L134.98,1134.41 L135.71,1135.69 L136.45,1136.97 L137.19,1138.25 L137.95,1139.53 L138.71,1140.81 L139.48,1142.09 L140.25,1143.37 L141.03,1144.64 L141.81,1145.92 L142.60,1147.20 L143.39,1148.48 L144.19,1149.75 L144.99,1151.03 L145.79,1152.31 L146.59,1153.59 L147.40,1154.86 L148.21,1156.14 L149.01,1157.42 L149.82,1158.70 L150.63,1159.98 L151.43,1161.26 L152.24,1162.54 L153.04,1163.82 L153.85,1165.10 L154.65,1166.38 L155.45,1167.66 L156.26,1168.94 L157.06,1170.22 L157.86,1171.50 L158.66,1172.78 L159.46,1174.06 L160.26,1175.34 L161.07,1176.62 L161.87,1177.90 L162.67,1179.18 L163.47,1180.46 L164.27,1181.74 L165.08,1183.01 L165.88,1184.29 L166.69,1185.57 L167.49,1186.84 L168.30,1188.12 L169.10,1189.39 L169.91,1190.67 L170.72,1191.94 L171.53,1193.21 L172.34,1194.48 L173.15,1195.75 L173.97,1197.02 L174.78,1198.29 L175.60,1199.56 L176.42,1200.82 L177.24,1202.09 L178.06,1203.35 L178.88,1204.61 L179.71,1205.87 L180.53,1207.13 L181.36,1208.39 L182.19,1209.64 L183.03,1210.89 L183.86,1212.15 L184.70,1213.40 L185.54,1214.64 L186.39,1215.89 L187.23,1217.14 L188.08,1218.38 L188.93,1219.62 L189.79,1220.86 L190.65,1222.09 L191.51,1223.33 L192.37,1224.56 L193.24,1225.79 L194.11,1227.02 L194.98,1228.24 L195.86,1229.46 L196.74,1230.68 L197.62,1231.90 L198.51,1233.12 L199.40,1234.33 L200.30,1235.54 L201.20,1236.74 L202.10,1237.95 L203.01,1239.15 L203.92,1240.35 L204.83,1241.54 L205.75,1242.73 L206.68,1243.92 L207.61,1245.10 L208.55,1246.28 L209.49,1247.46 L210.44,1248.62 L211.39,1249.79 L212.35,1250.95 L213.32,1252.10 L214.29,1253.24 L215.27,1254.38 L216.26,1255.51 L217.26,1256.64 L218.26,1257.75 L219.27,1258.86 L220.29,1259.96 L221.32,1261.05 L222.36,1262.13 L223.41,1263.21 L224.47,1264.27 L225.53,1265.32 L226.61,1266.37 L227.70,1267.40 L228.79,1268.42 L229.90,1269.43 L231.02,1270.43 L232.15,1271.42 L233.29,1272.40 L234.44,1273.37 L235.59,1274.33 L236.76,1275.28 L237.93,1276.22 L239.11,1277.16 L240.30,1278.08 L241.50,1279.01 L242.70,1279.92 L243.90,1280.83 L245.11,1281.73 L246.32,1282.63 L247.54,1283.53 L248.76,1284.42 L249.99,1285.31 L251.21,1286.20 L252.44,1287.09 L253.67,1287.97 L254.90,1288.86 L256.12,1289.74 L257.35,1290.63 L258.58,1291.51 L259.80,1292.40 L261.03,1293.29 L262.25,1294.17 L263.48,1295.06 L264.70,1295.95 L265.93,1296.83 L267.15,1297.71 L268.38,1298.59 L269.61,1299.46 L270.84,1300.33 L272.07,1301.20 L273.31,1302.06 L274.55,1302.91 L275.79,1303.75 L277.04,1304.59 L278.29,1305.42 L279.54,1306.25 L280.80,1307.06 L282.06,1307.86 L283.33,1308.66 L284.61,1309.44 L285.89,1310.21 L287.18,1310.97 L288.47,1311.72 L289.77,1312.45 L291.08,1313.17 L292.40,1313.87 L293.72,1314.56 L295.06,1315.24 L296.40,1315.90 L297.75,1316.54 L299.11,1317.16 L300.48,1317.77 L301.86,1318.35 L303.25,1318.92 L304.65,1319.47 L306.06,1320.00 L307.49,1320.51 L308.92,1320.99 L310.37,1321.45 L311.83,1321.89 L313.30,1322.31 L314.79,1322.70 L316.29,1323.07 L317.81,1323.42 L319.33,1323.73 L320.88,1324.02 L320.79,1356.40 L319.32,1356.25 L317.84,1356.09 L316.36,1355.93 L314.87,1355.76 L313.39,1355.59 L311.90,1355.42 L310.41,1355.24 L308.92,1355.06 L307.43,1354.87 L305.94,1354.68 L304.44,1354.49 L302.95,1354.28 L301.45,1354.08 L299.95,1353.86 L298.45,1353.64 L296.95,1353.42 L295.46,1353.19 L293.96,1352.95 L292.46,1352.71 L290.96,1352.46 L289.46,1352.20 L287.97,1351.94 L286.47,1351.67 L284.98,1351.39 L283.48,1351.10 L281.99,1350.81 L280.50,1350.51 L279.01,1350.20 L277.52,1349.88 L276.04,1349.56 L274.56,1349.23 L273.08,1348.88 L271.60,1348.53 L270.12,1348.17 L268.65,1347.80 L267.18,1347.43 L265.72,1347.04 L264.25,1346.64 L262.79,1346.23 L261.34,1345.82 L259.89,1345.39 L258.44,1344.95 L257.00,1344.50 L255.56,1344.05 L254.13,1343.58 L252.70,1343.10 L251.27,1342.61 L249.86,1342.10 L248.44,1341.59 L247.03,1341.06 L245.63,1340.53 L244.24,1339.98 L242.84,1339.42 L241.46,1338.84 L240.08,1338.26 L238.71,1337.66 L237.35,1337.05 L235.99,1336.42 L234.64,1335.79 L233.29,1335.14 L231.95,1334.48 L230.61,1333.81 L229.28,1333.13 L227.95,1332.45 L226.63,1331.75 L225.31,1331.04 L224.00,1330.33 L222.69,1329.61 L221.38,1328.88 L220.07,1328.15 L218.76,1327.41 L217.46,1326.66 L216.16,1325.92 L214.86,1325.16 L213.56,1324.40 L212.26,1323.64 L210.96,1322.88 L209.66,1322.11 L208.36,1321.34 L207.06,1320.58 L205.76,1319.81 L204.46,1319.04 L203.15,1318.27 L201.84,1317.50 L200.53,1316.73 L199.22,1315.96 L197.90,1315.20 L196.58,1314.44 L195.26,1313.68 L193.93,1312.93 L192.60,1312.18 L191.26,1311.43 L189.92,1310.69 L188.57,1309.96 L187.21,1309.23 L185.85,1308.51 L184.49,1307.80 L183.11,1307.09 L181.74,1306.39 L180.36,1305.70 L178.98,1305.00 L177.60,1304.30 L176.23,1303.60 L174.86,1302.90 L173.50,1302.19 L172.15,1301.47 L170.80,1300.75 L169.48,1300.01 L168.16,1299.26 L166.86,1298.49 L165.58,1297.71 L164.32,1296.92 L163.08,1296.10 L161.85,1295.28 L160.63,1294.43 L159.43,1293.58 L158.24,1292.71 L157.07,1291.82 L155.91,1290.93 L154.76,1290.02 L153.62,1289.09 L152.49,1288.16 L151.37,1287.21 L150.26,1286.25 L149.16,1285.28 L148.06,1284.30 L146.97,1283.31 L145.89,1282.31 L144.81,1281.30 L143.74,1280.27 L142.67,1279.24 L141.61,1278.21 L140.55,1277.16 L139.49,1276.10 L138.43,1275.04 L137.37,1273.97 L136.31,1272.89 L135.25,1271.81 L134.19,1270.72 L133.13,1269.62 L132.07,1268.52 L131.00,1267.41 L129.93,1266.30 L128.85,1265.18 L127.76,1264.06 L126.67,1262.94 L125.58,1261.81 L124.47,1260.68 L123.36,1259.54 L122.24,1258.40 L121.11,1257.26 L119.97,1256.12 L118.81,1254.99 L117.65,1253.86 L116.48,1252.76 L115.30,1251.70 L114.11,1250.69 L112.91,1249.74 L111.70,1248.86 L110.48,1248.07 L109.25,1247.38 L108.02,1246.79 L106.78,1246.33 L105.53,1245.99 L104.28,1245.80 L103.02,1245.77 L101.76,1245.89 L100.51,1246.16 L99.26,1246.57 L98.04,1247.11 L96.84,1247.78 L95.67,1248.56 L94.54,1249.46 L93.46,1250.46 L92.42,1251.56 L91.44,1252.74 L90.51,1253.99 L89.63,1255.31 L88.79,1256.67 L87.99,1258.06 L87.23,1259.47 L86.51,1260.90 L85.83,1262.33 L85.18,1263.76 L84.57,1265.19 L83.99,1266.63 L83.43,1268.07 L82.91,1269.52 L82.41,1270.97 L81.94,1272.42 L81.50,1273.87 L81.07,1275.33 L80.67,1276.79 L80.29,1278.25 L79.92,1279.72 L79.57,1281.18 L79.24,1282.65 L78.92,1284.12 L78.61,1285.60 L78.32,1287.07 L78.03,1288.55 L77.75,1290.03 L77.48,1291.50 L77.21,1292.98 L76.95,1294.47 L76.69,1295.95 L76.43,1297.43 L76.16,1298.91 L75.90,1300.40 L75.63,1301.88 L75.36,1303.37 L75.08,1304.85 L74.80,1306.34 L74.52,1307.82 L74.23,1309.31 L73.93,1310.79 L73.63,1312.28 L73.33,1313.76 L73.02,1315.24 L72.71,1316.72 L72.39,1318.20 L72.07,1319.68 L71.74,1321.16 L71.41,1322.64 L71.07,1324.11 L70.72,1325.59 L70.37,1327.06 L70.01,1328.53 L69.65,1330.00 L69.28,1331.47 L68.91,1332.93 L68.52,1334.39 L68.13,1335.85 L67.74,1337.31 L67.33,1338.77 L66.92,1340.22 L66.51,1341.67 L66.08,1343.11 L65.65,1344.56 L65.21,1345.99 L64.76,1347.43 L64.31,1348.86 L63.85,1350.29 L63.37,1351.72 L62.90,1353.14 L62.41,1354.56 L61.91,1355.97 L61.41,1357.38 L60.89,1358.78 L60.37,1360.18 L59.84,1361.58 L59.30,1362.97 L58.75,1364.36 L58.19,1365.74 L57.62,1367.12 L57.04,1368.49 L56.46,1369.85 L55.86,1371.21 L55.25,1372.57 L54.63,1373.92 Z" fill="#e0efd7"/>
<path d="M51.4,1374.0 53.0,1373.6 54.3,1372.9 55.4,1371.9 56.2,1370.7 56.9,1369.3 57.5,1367.9 58.1,1366.4 58.6,1364.8 59.0,1363.3 59.5,1361.7 60.0,1360.2 60.4,1358.6 60.8,1357.1 61.2,1355.5 61.6,1353.9 61.9,1352.3 62.3,1350.8 62.6,1349.2 63.0,1347.6 63.3,1346.0 63.6,1344.4 63.9,1342.8 64.2,1341.2 64.5,1339.6 64.8,1338.0 65.0,1336.4 65.3,1334.8 65.6,1333.2 65.8,1331.5 66.1,1329.9 66.3,1328.3 66.6,1326.7 66.8,1325.1 67.1,1323.5 67.3,1321.9 67.6,1320.3 67.8,1318.7 68.0,1317.0 68.3,1315.4 68.5,1313.8 68.7,1312.2 69.0,1310.6 69.2,1309.0 69.4,1307.4 69.6,1305.7 69.9,1304.1 70.1,1302.5 70.3,1300.9 70.5,1299.3 70.7,1297.7 70.9,1296.1 71.1,1294.4 71.4,1292.8 71.6,1291.2 71.8,1289.6 72.0,1288.0 72.2,1286.4 72.4,1284.8 72.6,1283.1 72.8,1281.5 73.0,1279.9 73.2,1278.3 73.4,1276.7 73.6,1275.1 73.8,1273.5 74.0,1271.8 74.2,1270.2 74.4,1268.6 74.6,1267.0 74.8,1265.4 75.0,1263.8 75.2,1262.2 75.4,1260.6 75.6,1258.9 75.8,1257.3 76.0,1255.7 76.2,1254.1 76.4,1252.5 76.6,1250.9 76.8,1249.3 77.0,1247.7 77.2,1246.0 77.4,1244.4 77.6,1242.8 77.8,1241.2 78.0,1239.6 78.2,1238.0 78.4,1236.4 78.6,1234.8 78.8,1233.2 79.0,1231.6 79.2,1229.9 79.4,1228.3 79.6,1226.7 79.8,1225.1 80.1,1223.5 80.3,1221.9 80.5,1220.3 80.7,1218.7 81.0,1217.1 81.2,1215.5 81.5,1213.9 81.7,1212.3 82.0,1210.7 82.3,1209.1 82.6,1207.5 83.0,1206.0 83.4,1204.4 83.8,1202.8 84.2,1201.2 84.6,1199.7 85.1,1198.1 85.6,1196.6 86.2,1195.0 86.8,1193.5 87.4,1192.0 88.1,1190.4 88.8,1188.9 89.5,1187.4 90.3,1185.9 91.2,1184.5 92.1,1183.0 93.3,1181.6 94.6,1180.2 95.8,1178.9 97.2,1177.7 98.5,1176.5 99.9,1175.5 101.3,1174.6 102.8,1173.8 104.2,1173.2 105.7,1172.7 107.1,1172.4 108.6,1172.3 110.1,1172.3 111.5,1172.6 113.0,1173.0 114.5,1173.5 115.9,1174.2 117.4,1175.0 118.8,1175.9 120.2,1176.9 121.3,1177.9 122.5,1179.0 123.6,1180.2 124.7,1181.4 125.8,1182.6 126.9,1183.9 128.0,1185.1 129.1,1186.4 130.2,1187.6 131.2,1188.8 132.3,1190.1 133.3,1191.3 134.4,1192.6 135.5,1193.8 136.5,1195.1 137.5,1196.3 138.6,1197.6 139.6,1198.8 140.6,1200.0 141.6,1201.3 142.6,1202.5 143.7,1203.8 144.7,1205.0 145.7,1206.3 146.7,1207.5 147.7,1208.8 148.6,1210.0 149.6,1211.3 150.6,1212.5 151.6,1213.7 152.6,1215.0 153.6,1216.2 154.6,1217.5 155.5,1218.7 156.5,1219.9 157.5,1221.2 158.5,1222.4 159.4,1223.6 160.4,1224.9 161.4,1226.1 162.4,1227.3 163.3,1228.5 164.3,1229.8 165.3,1231.0 166.3,1232.2 167.2,1233.4 168.2,1234.6 169.2,1235.8 170.2,1237.0 171.2,1238.2 172.1,1239.4 173.1,1240.6 174.1,1241.8 175.1,1243.0 176.1,1244.2 177.1,1245.4 178.1,1246.6 179.1,1247.7 180.1,1248.9 181.1,1250.1 182.2,1251.2 183.2,1252.4 184.2,1253.6 185.2,1254.7 186.3,1255.9 187.3,1257.0 188.4,1258.1 189.4,1259.3 190.5,1260.4 191.5,1261.5 192.6,1262.7 193.7,1263.8 194.8,1264.9 195.8,1266.0 196.9,1267.1 198.0,1268.2 199.1,1269.3 200.3,1270.4 201.4,1271.5 202.5,1272.5 203.6,1273.6 204.8,1274.7 205.9,1275.7 207.0,1276.8 208.2,1277.8 209.3,1278.9 210.5,1279.9 211.7,1280.9 212.9,1281.9 214.0,1283.0 215.2,1284.0 216.4,1285.0 217.6,1286.0 218.8,1287.0 220.0,1288.0 221.2,1288.9 222.4,1289.9 223.7,1290.9 224.9,1291.8 226.1,1292.8 227.3,1293.7 228.6,1294.7 229.8,1295.6 231.1,1296.5 232.3,1297.4 233.6,1298.3 234.9,1299.2 236.1,1300.1 237.4,1301.0 238.7,1301.9 240.0,1302.8 241.2,1303.6 242.5,1304.5 243.8,1305.4 245.1,1306.2 246.4,1307.0 247.8,1307.8 249.1,1308.7 250.4,1309.5 251.7,1310.3 253.0,1311.1 254.4,1311.8 255.7,1312.6 257.0,1313.4 258.4,1314.1 259.7,1314.9 261.1,1315.6 262.4,1316.4 263.8,1317.1 265.2,1317.8 266.5,1318.5 267.9,1319.2 269.3,1319.9 270.6,1320.6 272.0,1321.2 273.4,1321.9 274.8,1322.5 276.2,1323.2 277.6,1323.8 279.0,1324.4 280.4,1325.0 281.8,1325.6 283.2,1326.2 284.6,1326.8 286.0,1327.3 287.5,1327.9 288.9,1328.5 290.3,1329.0 291.7,1329.5 293.2,1330.0 294.6,1330.5 296.0,1331.0 297.5,1331.5 298.9,1332.0 300.4,1332.4 301.8,1332.9 303.3,1333.3 304.7,1333.8 306.2,1334.2 307.6,1334.6 309.1,1335.0 310.6,1335.4 312.0,1335.7 313.5,1336.1 315.0,1336.4 316.5,1336.8 317.9,1337.1 319.4,1337.4" fill="none" stroke="#a6d384" stroke-width="1.6"/>
<path d="M51.4,1374.0 53.0,1373.6 54.3,1372.9 55.4,1371.9 56.2,1370.7 56.9,1369.3 57.5,1367.9 58.1,1366.3 58.6,1364.8 59.0,1363.2 59.5,1361.7 60.0,1360.1 60.4,1358.6 60.8,1357.0 61.2,1355.4 61.6,1353.8 61.9,1352.2 62.3,1350.7 62.6,1349.1 63.0,1347.5 63.3,1345.9 63.6,1344.3 63.9,1342.7 64.2,1341.0 64.5,1339.4 64.8,1337.8 65.0,1336.2 65.3,1334.6 65.6,1333.0 65.8,1331.4 66.1,1329.7 66.3,1328.1 66.6,1326.5 66.8,1324.9 67.1,1323.3 67.3,1321.6 67.6,1320.0 67.8,1318.4 68.0,1316.8 68.3,1315.2 68.5,1313.5 68.7,1311.9 69.0,1310.3 69.2,1308.7 69.4,1307.1 69.6,1305.4 69.9,1303.8 70.1,1302.2 70.3,1300.6 70.5,1298.9 70.7,1297.3 70.9,1295.7 71.1,1294.1 71.4,1292.5 71.6,1290.8 71.8,1289.2 72.0,1287.6 72.2,1286.0 72.4,1284.3 72.6,1282.7 72.8,1281.1 73.0,1279.5 73.2,1277.9 73.4,1276.2 73.6,1274.6 73.8,1273.0 74.0,1271.4 74.2,1269.8 74.4,1268.1 74.6,1266.5 74.8,1264.9 75.0,1263.3 75.2,1261.6 75.4,1260.0 75.6,1258.4 75.8,1256.8 76.0,1255.2 76.2,1253.5 76.4,1251.9 76.6,1250.3 76.8,1248.7 77.0,1247.1 77.2,1245.5 77.4,1243.8 77.6,1242.2 77.8,1240.6 78.0,1239.0 78.2,1237.4 78.4,1235.7 78.6,1234.1 78.8,1232.5 79.0,1230.9 79.2,1229.3 79.4,1227.7 79.6,1226.1 79.8,1224.4 80.1,1222.8 80.3,1221.2 80.5,1219.6 80.7,1218.0 81.0,1216.4 81.2,1214.8 81.5,1213.2 81.7,1211.6 82.0,1210.0 82.3,1208.4 82.6,1206.8 83.0,1205.2 83.4,1203.6 83.8,1202.0 84.2,1200.4 84.6,1198.9 85.1,1197.3 85.6,1195.8 86.2,1194.2 86.8,1192.7 87.4,1191.1 88.1,1189.6 88.8,1188.1 89.5,1186.6 90.3,1185.1 91.2,1183.6 92.1,1182.1 92.9,1180.7 93.8,1179.3 94.7,1178.0 95.7,1176.8 96.7,1175.6 97.6,1174.6 98.7,1173.7 99.7,1172.9 100.7,1172.3 101.8,1171.8 102.8,1171.5 103.9,1171.3 104.9,1171.4 106.0,1171.6 107.0,1172.1 108.0,1172.6 109.1,1173.3 110.1,1174.1 111.2,1175.0 112.2,1176.0 113.3,1177.1 114.5,1178.3 115.6,1179.5 116.7,1180.7 117.8,1182.0 118.9,1183.2 120.0,1184.5 121.1,1185.8 122.2,1187.0 123.2,1188.3 124.3,1189.6 125.3,1190.8 126.4,1192.1 127.5,1193.4 128.5,1194.6 129.5,1195.9 130.6,1197.2 131.6,1198.4 132.6,1199.7 133.6,1201.0 134.6,1202.3 135.7,1203.5 136.7,1204.8 137.7,1206.1 138.7,1207.3 139.7,1208.6 140.6,1209.8 141.6,1211.1 142.6,1212.4 143.6,1213.6 144.6,1214.9 145.6,1216.1 146.6,1217.4 147.5,1218.7 148.5,1219.9 149.5,1221.2 150.5,1222.4 151.4,1223.6 152.4,1224.9 153.4,1226.1 154.4,1227.4 155.3,1228.6 156.3,1229.9 157.3,1231.1 158.3,1232.3 159.2,1233.5 160.2,1234.8 161.2,1236.0 162.2,1237.2 163.2,1238.4 164.1,1239.6 165.1,1240.8 166.1,1242.0 167.1,1243.3 168.1,1244.5 169.1,1245.6 170.1,1246.8 171.1,1248.0 172.1,1249.2 173.1,1250.4 174.2,1251.6 175.2,1252.7 176.2,1253.9 177.2,1255.1 178.3,1256.2 179.3,1257.4 180.4,1258.5 181.4,1259.7 182.5,1260.8 183.5,1262.0 184.6,1263.1 185.7,1264.2 186.8,1265.3 187.8,1266.4 188.9,1267.6 190.0,1268.7 191.1,1269.8 192.3,1270.8 193.4,1271.9 194.5,1273.0 195.6,1274.1 196.8,1275.2 197.9,1276.2 199.0,1277.3 200.2,1278.3 201.3,1279.4 202.5,1280.4 203.7,1281.5 204.9,1282.5 206.0,1283.5 207.2,1284.5 208.4,1285.5 209.6,1286.5 210.8,1287.5 212.0,1288.5 213.2,1289.5 214.4,1290.5 215.7,1291.5 216.9,1292.4 218.1,1293.4 219.3,1294.3 220.6,1295.3 221.8,1296.2 223.1,1297.1 224.3,1298.0 225.6,1299.0 226.9,1299.9 228.1,1300.8 229.4,1301.7 230.7,1302.5 232.0,1303.4 233.2,1304.3 234.5,1305.1 235.8,1306.0 237.1,1306.8 238.4,1307.7 239.8,1308.5 241.1,1309.3 242.4,1310.1 243.7,1310.9 245.0,1311.7 246.4,1312.5 247.7,1313.3 249.0,1314.0 250.4,1314.8 251.7,1315.5 253.1,1316.3 254.4,1317.0 255.8,1317.7 257.2,1318.4 258.5,1319.1 259.9,1319.8 261.3,1320.5 262.6,1321.2 264.0,1321.9 265.4,1322.5 266.8,1323.2 268.2,1323.8 269.6,1324.4 271.0,1325.0 272.4,1325.7 273.8,1326.2 275.2,1326.8 276.6,1327.4 278.0,1328.0 279.5,1328.5 280.9,1329.1 282.3,1329.6 283.7,1330.1 285.2,1330.7 286.6,1331.2 288.0,1331.7 289.5,1332.1 290.9,1332.6 292.4,1333.1 293.8,1333.5 295.3,1334.0 296.7,1334.4 298.2,1334.8 299.6,1335.2 301.1,1335.6 302.6,1336.0 304.0,1336.4 305.5,1336.7 307.0,1337.1 308.5,1337.4 309.9,1337.7 311.4,1338.0 312.9,1338.3 314.4,1338.6 315.9,1338.9 317.4,1339.2 318.9,1339.4" fill="none" stroke="#a6d384" stroke-width="1.6"/>
<path d="M51.4,1374.0 53.0,1373.6 54.3,1372.9 55.4,1371.9 56.2,1370.8 56.9,1369.5 57.5,1368.1 58.1,1366.6 58.6,1365.2 59.0,1363.7 59.5,1362.2 60.0,1360.7 60.4,1359.2 60.8,1357.7 61.2,1356.2 61.6,1354.7 61.9,1353.1 62.3,1351.6 62.6,1350.1 63.0,1348.6 63.3,1347.0 63.6,1345.5 63.9,1343.9 64.2,1342.4 64.5,1340.9 64.8,1339.3 65.0,1337.8 65.3,1336.2 65.6,1334.7 65.8,1333.1 66.1,1331.6 66.3,1330.0 66.6,1328.5 66.8,1326.9 67.1,1325.3 67.3,1323.8 67.6,1322.2 67.8,1320.7 68.0,1319.1 68.3,1317.6 68.5,1316.0 68.7,1314.5 69.0,1312.9 69.2,1311.4 69.4,1309.8 69.6,1308.3 69.9,1306.7 70.1,1305.1 70.3,1303.6 70.5,1302.0 70.7,1300.5 70.9,1298.9 71.1,1297.4 71.4,1295.8 71.6,1294.3 71.8,1292.7 72.0,1291.2 72.2,1289.6 72.4,1288.0 72.6,1286.5 72.8,1284.9 73.0,1283.4 73.2,1281.8 73.4,1280.3 73.6,1278.7 73.8,1277.2 74.0,1275.6 74.2,1274.1 74.4,1272.5 74.6,1271.0 74.8,1269.4 75.0,1267.8 75.2,1266.3 75.4,1264.7 75.6,1263.2 75.8,1261.6 76.0,1260.1 76.2,1258.5 76.4,1257.0 76.6,1255.4 76.8,1253.9 77.0,1252.3 77.2,1250.8 77.4,1249.2 77.6,1247.7 77.8,1246.1 78.0,1244.6 78.2,1243.0 78.4,1241.5 78.6,1239.9 78.8,1238.4 79.0,1236.8 79.2,1235.3 79.4,1233.7 79.6,1232.2 79.8,1230.6 80.1,1229.1 80.3,1227.5 80.5,1226.0 80.7,1224.4 81.0,1222.9 81.2,1221.4 81.5,1219.8 81.7,1218.3 82.0,1216.7 82.3,1215.2 82.6,1213.7 83.0,1212.2 83.4,1210.6 83.8,1209.1 84.2,1207.6 84.6,1206.1 85.1,1204.6 85.6,1203.1 86.2,1201.6 86.8,1200.2 87.4,1198.7 88.1,1197.2 88.8,1195.8 89.5,1194.3 90.3,1192.9 91.2,1191.5 92.1,1190.1 93.0,1188.7 94.0,1187.4 95.0,1186.1 96.1,1184.9 97.1,1183.8 98.2,1182.9 99.3,1182.0 100.4,1181.2 101.6,1180.6 102.7,1180.1 103.9,1179.8 105.0,1179.7 106.2,1179.8 107.3,1180.0 108.5,1180.4 109.6,1181.0 110.8,1181.6 111.9,1182.4 113.1,1183.2 114.2,1184.2 115.3,1185.2 116.5,1186.3 117.6,1187.5 118.7,1188.7 119.8,1189.9 120.9,1191.1 122.0,1192.3 123.1,1193.5 124.2,1194.7 125.2,1195.9 126.3,1197.1 127.3,1198.3 128.4,1199.5 129.5,1200.8 130.5,1202.0 131.5,1203.2 132.6,1204.4 133.6,1205.6 134.6,1206.8 135.6,1208.0 136.6,1209.2 137.7,1210.5 138.7,1211.7 139.7,1212.9 140.7,1214.1 141.7,1215.3 142.6,1216.5 143.6,1217.7 144.6,1218.9 145.6,1220.1 146.6,1221.3 147.6,1222.5 148.6,1223.7 149.5,1224.9 150.5,1226.1 151.5,1227.3 152.5,1228.5 153.4,1229.7 154.4,1230.9 155.4,1232.1 156.4,1233.3 157.3,1234.5 158.3,1235.6 159.3,1236.8 160.3,1238.0 161.2,1239.2 162.2,1240.3 163.2,1241.5 164.2,1242.7 165.2,1243.8 166.1,1245.0 167.1,1246.2 168.1,1247.3 169.1,1248.5 170.1,1249.6 171.1,1250.8 172.1,1251.9 173.1,1253.0 174.1,1254.2 175.1,1255.3 176.2,1256.4 177.2,1257.6 178.2,1258.7 179.2,1259.8 180.3,1260.9 181.3,1262.0 182.4,1263.1 183.4,1264.2 184.5,1265.3 185.5,1266.4 186.6,1267.5 187.7,1268.5 188.8,1269.6 189.8,1270.7 190.9,1271.7 192.0,1272.8 193.1,1273.8 194.3,1274.9 195.4,1275.9 196.5,1277.0 197.6,1278.0 198.8,1279.0 199.9,1280.1 201.0,1281.1 202.2,1282.1 203.3,1283.1 204.5,1284.1 205.7,1285.1 206.9,1286.1 208.0,1287.0 209.2,1288.0 210.4,1289.0 211.6,1289.9 212.8,1290.9 214.0,1291.8 215.2,1292.8 216.4,1293.7 217.7,1294.7 218.9,1295.6 220.1,1296.5 221.3,1297.4 222.6,1298.3 223.8,1299.2 225.1,1300.1 226.3,1301.0 227.6,1301.8 228.9,1302.7 230.1,1303.6 231.4,1304.4 232.7,1305.3 234.0,1306.1 235.2,1306.9 236.5,1307.8 237.8,1308.6 239.1,1309.4 240.4,1310.2 241.8,1311.0 243.1,1311.8 244.4,1312.5 245.7,1313.3 247.0,1314.1 248.4,1314.8 249.7,1315.6 251.0,1316.3 252.4,1317.0 253.7,1317.7 255.1,1318.4 256.4,1319.1 257.8,1319.8 259.2,1320.5 260.5,1321.2 261.9,1321.9 263.3,1322.5 264.6,1323.2 266.0,1323.8 267.4,1324.4 268.8,1325.1 270.2,1325.7 271.6,1326.3 273.0,1326.9 274.4,1327.4 275.8,1328.0 277.2,1328.6 278.6,1329.1 280.0,1329.7 281.5,1330.2 282.9,1330.7 284.3,1331.3 285.7,1331.8 287.2,1332.3 288.6,1332.7 290.0,1333.2 291.5,1333.7 292.9,1334.1 294.4,1334.6 295.8,1335.0 297.3,1335.4 298.7,1335.8 300.2,1336.2 301.6,1336.6 303.1,1337.0 304.6,1337.4 306.0,1337.7 307.5,1338.1 309.0,1338.4 310.5,1338.7 311.9,1339.0 313.4,1339.3 314.9,1339.6 316.4,1339.9 317.9,1340.2 319.4,1340.4 320.9,1340.6" fill="none" stroke="#a6d384" stroke-width="1.6"/>
<path d="M51.4,1374.0 53.0,1373.6 54.3,1372.9 55.4,1372.0 56.2,1370.9 56.9,1369.6 57.5,1368.3 58.1,1366.9 58.6,1365.5 59.0,1364.1 59.5,1362.6 60.0,1361.2 60.4,1359.7 60.8,1358.3 61.2,1356.8 61.6,1355.4 61.9,1353.9 62.3,1352.5 62.6,1351.0 63.0,1349.5 63.3,1348.0 63.6,1346.6 63.9,1345.1 64.2,1343.6 64.5,1342.1 64.8,1340.6 65.0,1339.1 65.3,1337.6 65.6,1336.2 65.8,1334.7 66.1,1333.2 66.3,1331.7 66.6,1330.2 66.8,1328.7 67.1,1327.2 67.3,1325.7 67.6,1324.2 67.8,1322.7 68.0,1321.2 68.3,1319.7 68.5,1318.2 68.7,1316.7 69.0,1315.3 69.2,1313.8 69.4,1312.3 69.6,1310.8 69.9,1309.3 70.1,1307.8 70.3,1306.3 70.5,1304.8 70.7,1303.3 70.9,1301.8 71.1,1300.3 71.4,1298.8 71.6,1297.3 71.8,1295.8 72.0,1294.3 72.2,1292.8 72.4,1291.3 72.6,1289.8 72.8,1288.4 73.0,1286.9 73.2,1285.4 73.4,1283.9 73.6,1282.4 73.8,1280.9 74.0,1279.4 74.2,1277.9 74.4,1276.4 74.6,1274.9 74.8,1273.4 75.0,1271.9 75.2,1270.4 75.4,1268.9 75.6,1267.4 75.8,1265.9 76.0,1264.4 76.2,1263.0 76.4,1261.5 76.6,1260.0 76.8,1258.5 77.0,1257.0 77.2,1255.5 77.4,1254.0 77.6,1252.5 77.8,1251.0 78.0,1249.5 78.2,1248.0 78.4,1246.5 78.6,1245.1 78.8,1243.6 79.0,1242.1 79.2,1240.6 79.4,1239.1 79.6,1237.6 79.8,1236.1 80.1,1234.6 80.3,1233.1 80.5,1231.7 80.7,1230.2 81.0,1228.7 81.2,1227.2 81.5,1225.7 81.7,1224.3 82.0,1222.8 82.3,1221.3 82.6,1219.8 83.0,1218.4 83.4,1216.9 83.8,1215.5 84.2,1214.0 84.6,1212.6 85.1,1211.1 85.6,1209.7 86.2,1208.3 86.8,1206.8 87.4,1205.4 88.1,1204.0 88.8,1202.6 89.5,1201.2 90.3,1199.8 91.2,1198.5 92.1,1197.1 93.1,1195.8 94.1,1194.5 95.1,1193.3 96.2,1192.2 97.2,1191.1 98.4,1190.2 99.5,1189.3 100.6,1188.6 101.8,1188.0 103.0,1187.6 104.2,1187.3 105.3,1187.2 106.5,1187.2 107.7,1187.5 108.9,1187.8 110.1,1188.4 111.2,1189.0 112.4,1189.8 113.6,1190.6 114.7,1191.6 115.8,1192.6 117.0,1193.7 118.1,1194.8 119.2,1195.9 120.3,1197.1 121.4,1198.3 122.5,1199.5 123.6,1200.6 124.7,1201.8 125.7,1203.0 126.8,1204.2 127.8,1205.3 128.9,1206.5 130.0,1207.7 131.0,1208.9 132.0,1210.1 133.1,1211.2 134.1,1212.4 135.1,1213.6 136.1,1214.8 137.1,1216.0 138.2,1217.1 139.2,1218.3 140.2,1219.5 141.2,1220.7 142.2,1221.8 143.1,1223.0 144.1,1224.2 145.1,1225.3 146.1,1226.5 147.1,1227.7 148.1,1228.8 149.1,1230.0 150.0,1231.2 151.0,1232.3 152.0,1233.5 153.0,1234.6 153.9,1235.8 154.9,1236.9 155.9,1238.1 156.9,1239.2 157.8,1240.4 158.8,1241.5 159.8,1242.7 160.8,1243.8 161.7,1244.9 162.7,1246.1 163.7,1247.2 164.7,1248.3 165.7,1249.5 166.6,1250.6 167.6,1251.7 168.6,1252.8 169.6,1253.9 170.6,1255.0 171.6,1256.1 172.6,1257.2 173.6,1258.3 174.6,1259.4 175.6,1260.5 176.7,1261.6 177.7,1262.7 178.7,1263.8 179.7,1264.9 180.8,1265.9 181.8,1267.0 182.9,1268.0 183.9,1269.1 185.0,1270.2 186.0,1271.2 187.1,1272.3 188.2,1273.3 189.3,1274.3 190.3,1275.4 191.4,1276.4 192.5,1277.4 193.6,1278.4 194.8,1279.4 195.9,1280.4 197.0,1281.4 198.1,1282.4 199.3,1283.4 200.4,1284.4 201.5,1285.4 202.7,1286.3 203.8,1287.3 205.0,1288.3 206.2,1289.2 207.4,1290.2 208.5,1291.1 209.7,1292.0 210.9,1293.0 212.1,1293.9 213.3,1294.8 214.5,1295.7 215.7,1296.6 216.9,1297.5 218.2,1298.4 219.4,1299.3 220.6,1300.2 221.8,1301.1 223.1,1301.9 224.3,1302.8 225.6,1303.7 226.8,1304.5 228.1,1305.3 229.4,1306.2 230.6,1307.0 231.9,1307.8 233.2,1308.6 234.5,1309.4 235.7,1310.2 237.0,1311.0 238.3,1311.8 239.6,1312.6 240.9,1313.3 242.3,1314.1 243.6,1314.9 244.9,1315.6 246.2,1316.3 247.5,1317.1 248.9,1317.8 250.2,1318.5 251.5,1319.2 252.9,1319.9 254.2,1320.6 255.6,1321.3 256.9,1321.9 258.3,1322.6 259.7,1323.3 261.0,1323.9 262.4,1324.5 263.8,1325.2 265.1,1325.8 266.5,1326.4 267.9,1327.0 269.3,1327.6 270.7,1328.2 272.1,1328.8 273.5,1329.3 274.9,1329.9 276.3,1330.4 277.7,1331.0 279.1,1331.5 280.5,1332.0 282.0,1332.5 283.4,1333.0 284.8,1333.5 286.2,1334.0 287.7,1334.5 289.1,1334.9 290.5,1335.4 292.0,1335.8 293.4,1336.3 294.9,1336.7 296.3,1337.1 297.8,1337.5 299.2,1337.9 300.7,1338.3 302.1,1338.7 303.6,1339.0 305.1,1339.4 306.5,1339.7 308.0,1340.0 309.5,1340.4 311.0,1340.7 312.4,1341.0 313.9,1341.2 315.4,1341.5 316.9,1341.8 318.4,1342.0 319.9,1342.3" fill="none" stroke="#a6d384" stroke-width="1.6"/>
<path d="M51.4,1374.0 53.0,1373.6 54.3,1372.9 55.4,1372.0 56.2,1371.0 56.9,1369.8 57.5,1368.5 58.1,1367.1 58.6,1365.7 59.0,1364.3 59.5,1362.9 60.0,1361.6 60.4,1360.2 60.8,1358.8 61.2,1357.3 61.6,1355.9 61.9,1354.5 62.3,1353.1 62.6,1351.7 63.0,1350.2 63.3,1348.8 63.6,1347.4 63.9,1345.9 64.2,1344.5 64.5,1343.1 64.8,1341.6 65.0,1340.2 65.3,1338.7 65.6,1337.3 65.8,1335.8 66.1,1334.4 66.3,1332.9 66.6,1331.5 66.8,1330.0 67.1,1328.6 67.3,1327.1 67.6,1325.7 67.8,1324.2 68.0,1322.8 68.3,1321.4 68.5,1319.9 68.7,1318.5 69.0,1317.0 69.2,1315.6 69.4,1314.1 69.6,1312.7 69.9,1311.2 70.1,1309.8 70.3,1308.3 70.5,1306.9 70.7,1305.4 70.9,1304.0 71.1,1302.5 71.4,1301.1 71.6,1299.6 71.8,1298.2 72.0,1296.7 72.2,1295.3 72.4,1293.8 72.6,1292.4 72.8,1290.9 73.0,1289.5 73.2,1288.0 73.4,1286.6 73.6,1285.1 73.8,1283.7 74.0,1282.2 74.2,1280.8 74.4,1279.3 74.6,1277.9 74.8,1276.4 75.0,1275.0 75.2,1273.5 75.4,1272.1 75.6,1270.6 75.8,1269.2 76.0,1267.7 76.2,1266.3 76.4,1264.8 76.6,1263.4 76.8,1261.9 77.0,1260.5 77.2,1259.0 77.4,1257.6 77.6,1256.1 77.8,1254.7 78.0,1253.2 78.2,1251.8 78.4,1250.4 78.6,1248.9 78.8,1247.5 79.0,1246.0 79.2,1244.6 79.4,1243.1 79.6,1241.7 79.8,1240.2 80.1,1238.8 80.3,1237.4 80.5,1235.9 80.7,1234.5 81.0,1233.0 81.2,1231.6 81.5,1230.2 81.7,1228.7 82.0,1227.3 82.3,1225.9 82.6,1224.4 83.0,1223.0 83.4,1221.6 83.8,1220.2 84.2,1218.8 84.6,1217.4 85.1,1216.0 85.6,1214.6 86.2,1213.2 86.8,1211.8 87.4,1210.5 88.1,1209.1 88.8,1207.7 89.5,1206.4 90.3,1205.1 91.2,1203.7 92.1,1202.4 93.0,1201.1 93.9,1199.9 94.9,1198.7 95.9,1197.6 96.9,1196.6 97.9,1195.7 99.0,1194.9 100.1,1194.2 101.2,1193.6 102.2,1193.2 103.3,1192.9 104.4,1192.8 105.6,1192.8 106.7,1193.1 107.8,1193.4 108.8,1193.9 109.9,1194.6 111.0,1195.3 112.1,1196.2 113.2,1197.1 114.3,1198.1 115.5,1199.2 116.6,1200.3 117.7,1201.4 118.8,1202.6 119.9,1203.7 121.0,1204.9 122.1,1206.0 123.2,1207.2 124.2,1208.4 125.3,1209.5 126.3,1210.7 127.4,1211.8 128.5,1213.0 129.5,1214.1 130.5,1215.3 131.6,1216.5 132.6,1217.6 133.6,1218.8 134.6,1219.9 135.6,1221.1 136.7,1222.2 137.7,1223.4 138.7,1224.5 139.7,1225.7 140.7,1226.8 141.6,1228.0 142.6,1229.1 143.6,1230.3 144.6,1231.4 145.6,1232.6 146.6,1233.7 147.6,1234.8 148.5,1236.0 149.5,1237.1 150.5,1238.2 151.5,1239.4 152.4,1240.5 153.4,1241.6 154.4,1242.7 155.4,1243.9 156.3,1245.0 157.3,1246.1 158.3,1247.2 159.3,1248.3 160.2,1249.4 161.2,1250.5 162.2,1251.6 163.2,1252.7 164.2,1253.8 165.1,1254.9 166.1,1256.0 167.1,1257.1 168.1,1258.2 169.1,1259.3 170.1,1260.4 171.1,1261.4 172.1,1262.5 173.1,1263.6 174.1,1264.6 175.2,1265.7 176.2,1266.7 177.2,1267.8 178.2,1268.8 179.3,1269.9 180.3,1270.9 181.4,1271.9 182.4,1273.0 183.5,1274.0 184.5,1275.0 185.6,1276.0 186.7,1277.0 187.8,1278.0 188.8,1279.0 189.9,1280.0 191.0,1281.0 192.1,1282.0 193.3,1283.0 194.4,1284.0 195.5,1284.9 196.6,1285.9 197.8,1286.9 198.9,1287.8 200.0,1288.8 201.2,1289.7 202.3,1290.7 203.5,1291.6 204.7,1292.5 205.9,1293.4 207.0,1294.4 208.2,1295.3 209.4,1296.2 210.6,1297.1 211.8,1298.0 213.0,1298.8 214.2,1299.7 215.4,1300.6 216.7,1301.5 217.9,1302.3 219.1,1303.2 220.3,1304.0 221.6,1304.9 222.8,1305.7 224.1,1306.5 225.3,1307.3 226.6,1308.1 227.9,1309.0 229.1,1309.8 230.4,1310.5 231.7,1311.3 233.0,1312.1 234.2,1312.9 235.5,1313.6 236.8,1314.4 238.1,1315.2 239.4,1315.9 240.8,1316.6 242.1,1317.4 243.4,1318.1 244.7,1318.8 246.0,1319.5 247.4,1320.2 248.7,1320.9 250.0,1321.6 251.4,1322.2 252.7,1322.9 254.1,1323.6 255.4,1324.2 256.8,1324.8 258.2,1325.5 259.5,1326.1 260.9,1326.7 262.3,1327.3 263.6,1327.9 265.0,1328.5 266.4,1329.1 267.8,1329.7 269.2,1330.2 270.6,1330.8 272.0,1331.3 273.4,1331.9 274.8,1332.4 276.2,1332.9 277.6,1333.4 279.0,1333.9 280.5,1334.4 281.9,1334.9 283.3,1335.4 284.7,1335.9 286.2,1336.3 287.6,1336.8 289.0,1337.2 290.5,1337.6 291.9,1338.0 293.4,1338.4 294.8,1338.8 296.3,1339.2 297.7,1339.6 299.2,1340.0 300.6,1340.3 302.1,1340.7 303.6,1341.0 305.0,1341.4 306.5,1341.7 308.0,1342.0 309.5,1342.3 310.9,1342.6 312.4,1342.8 313.9,1343.1 315.4,1343.4 316.9,1343.6 318.4,1343.8 319.9,1344.1" fill="none" stroke="#a6d384" stroke-width="1.6"/>
<path d="M51.4,1374.0 53.0,1373.6 54.3,1373.0 55.4,1372.1 56.2,1371.1 56.9,1369.9 57.5,1368.7 58.1,1367.4 58.6,1366.0 59.0,1364.7 59.5,1363.4 60.0,1362.1 60.4,1360.7 60.8,1359.4 61.2,1358.0 61.6,1356.7 61.9,1355.3 62.3,1353.9 62.6,1352.6 63.0,1351.2 63.3,1349.8 63.6,1348.5 63.9,1347.1 64.2,1345.7 64.5,1344.3 64.8,1342.9 65.0,1341.5 65.3,1340.2 65.6,1338.8 65.8,1337.4 66.1,1336.0 66.3,1334.6 66.6,1333.2 66.8,1331.8 67.1,1330.4 67.3,1329.1 67.6,1327.7 67.8,1326.3 68.0,1324.9 68.3,1323.5 68.5,1322.1 68.7,1320.7 69.0,1319.3 69.2,1317.9 69.4,1316.6 69.6,1315.2 69.9,1313.8 70.1,1312.4 70.3,1311.0 70.5,1309.6 70.7,1308.2 70.9,1306.8 71.1,1305.4 71.4,1304.0 71.6,1302.7 71.8,1301.3 72.0,1299.9 72.2,1298.5 72.4,1297.1 72.6,1295.7 72.8,1294.3 73.0,1292.9 73.2,1291.5 73.4,1290.1 73.6,1288.8 73.8,1287.4 74.0,1286.0 74.2,1284.6 74.4,1283.2 74.6,1281.8 74.8,1280.4 75.0,1279.0 75.2,1277.6 75.4,1276.3 75.6,1274.9 75.8,1273.5 76.0,1272.1 76.2,1270.7 76.4,1269.3 76.6,1267.9 76.8,1266.5 77.0,1265.1 77.2,1263.8 77.4,1262.4 77.6,1261.0 77.8,1259.6 78.0,1258.2 78.2,1256.8 78.4,1255.4 78.6,1254.1 78.8,1252.7 79.0,1251.3 79.2,1249.9 79.4,1248.5 79.6,1247.1 79.8,1245.7 80.1,1244.4 80.3,1243.0 80.5,1241.6 80.7,1240.2 81.0,1238.8 81.2,1237.5 81.5,1236.1 81.7,1234.7 82.0,1233.3 82.3,1232.0 82.6,1230.6 83.0,1229.2 83.4,1227.9 83.8,1226.5 84.2,1225.2 84.6,1223.8 85.1,1222.5 85.6,1221.2 86.2,1219.8 86.8,1218.5 87.4,1217.2 88.1,1215.9 88.8,1214.6 89.5,1213.3 90.3,1212.0 91.2,1210.7 92.1,1209.5 92.9,1208.2 93.8,1207.1 94.7,1205.9 95.7,1204.9 96.7,1203.9 97.6,1203.0 98.7,1202.2 99.7,1201.6 100.7,1201.0 101.8,1200.6 102.8,1200.3 103.9,1200.2 104.9,1200.3 106.0,1200.5 107.0,1200.8 108.0,1201.3 109.1,1202.0 110.1,1202.7 111.2,1203.5 112.2,1204.4 113.3,1205.4 114.5,1206.4 115.6,1207.5 116.7,1208.6 117.8,1209.7 118.9,1210.8 120.0,1211.9 121.1,1213.1 122.2,1214.2 123.2,1215.3 124.3,1216.4 125.3,1217.5 126.4,1218.7 127.5,1219.8 128.5,1220.9 129.5,1222.0 130.6,1223.1 131.6,1224.2 132.6,1225.4 133.6,1226.5 134.6,1227.6 135.7,1228.7 136.7,1229.8 137.7,1230.9 138.7,1232.0 139.7,1233.1 140.6,1234.2 141.6,1235.3 142.6,1236.4 143.6,1237.5 144.6,1238.6 145.6,1239.7 146.6,1240.8 147.5,1241.9 148.5,1243.0 149.5,1244.1 150.5,1245.2 151.4,1246.3 152.4,1247.4 153.4,1248.5 154.4,1249.5 155.3,1250.6 156.3,1251.7 157.3,1252.8 158.3,1253.8 159.2,1254.9 160.2,1256.0 161.2,1257.0 162.2,1258.1 163.2,1259.1 164.1,1260.2 165.1,1261.2 166.1,1262.3 167.1,1263.3 168.1,1264.4 169.1,1265.4 170.1,1266.4 171.1,1267.5 172.1,1268.5 173.1,1269.5 174.2,1270.5 175.2,1271.5 176.2,1272.5 177.2,1273.5 178.3,1274.5 179.3,1275.5 180.4,1276.5 181.4,1277.5 182.5,1278.5 183.5,1279.5 184.6,1280.5 185.7,1281.4 186.8,1282.4 187.8,1283.4 188.9,1284.3 190.0,1285.3 191.1,1286.2 192.3,1287.1 193.4,1288.1 194.5,1289.0 195.6,1289.9 196.8,1290.9 197.9,1291.8 199.0,1292.7 200.2,1293.6 201.3,1294.5 202.5,1295.4 203.7,1296.3 204.9,1297.2 206.0,1298.0 207.2,1298.9 208.4,1299.8 209.6,1300.6 210.8,1301.5 212.0,1302.3 213.2,1303.2 214.4,1304.0 215.7,1304.8 216.9,1305.7 218.1,1306.5 219.3,1307.3 220.6,1308.1 221.8,1308.9 223.1,1309.7 224.3,1310.5 225.6,1311.3 226.9,1312.0 228.1,1312.8 229.4,1313.6 230.7,1314.3 232.0,1315.1 233.2,1315.8 234.5,1316.5 235.8,1317.3 237.1,1318.0 238.4,1318.7 239.8,1319.4 241.1,1320.1 242.4,1320.8 243.7,1321.5 245.0,1322.1 246.4,1322.8 247.7,1323.5 249.0,1324.1 250.4,1324.7 251.7,1325.4 253.1,1326.0 254.4,1326.6 255.8,1327.2 257.2,1327.9 258.5,1328.4 259.9,1329.0 261.3,1329.6 262.6,1330.2 264.0,1330.8 265.4,1331.3 266.8,1331.9 268.2,1332.4 269.6,1332.9 271.0,1333.5 272.4,1334.0 273.8,1334.5 275.2,1335.0 276.6,1335.5 278.0,1335.9 279.5,1336.4 280.9,1336.9 282.3,1337.3 283.7,1337.8 285.2,1338.2 286.6,1338.6 288.0,1339.1 289.5,1339.5 290.9,1339.9 292.4,1340.2 293.8,1340.6 295.3,1341.0 296.7,1341.4 298.2,1341.7 299.6,1342.1 301.1,1342.4 302.6,1342.7 304.0,1343.0 305.5,1343.3 307.0,1343.6 308.5,1343.9 309.9,1344.2 311.4,1344.5 312.9,1344.7 314.4,1345.0 315.9,1345.2 317.4,1345.4 318.9,1345.6" fill="none" stroke="#a6d384" stroke-width="1.6"/>
<path d="M51.4,1374.0 53.0,1373.6 54.3,1372.9 55.4,1372.1 56.2,1371.0 56.9,1369.8 57.5,1368.5 58.1,1367.2 58.6,1365.8 59.0,1364.4 59.5,1363.1 60.0,1361.7 60.4,1360.3 60.8,1358.9 61.2,1357.5 61.6,1356.1 61.9,1354.7 62.3,1353.3 62.6,1351.9 63.0,1350.5 63.3,1349.1 63.6,1347.6 63.9,1346.2 64.2,1344.8 64.5,1343.4 64.8,1341.9 65.0,1340.5 65.3,1339.1 65.6,1337.7 65.8,1336.2 66.1,1334.8 66.3,1333.4 66.6,1331.9 66.8,1330.5 67.1,1329.1 67.3,1327.6 67.6,1326.2 67.8,1324.8 68.0,1323.3 68.3,1321.9 68.5,1320.5 68.7,1319.0 69.0,1317.6 69.2,1316.2 69.4,1314.7 69.6,1313.3 69.9,1311.8 70.1,1310.4 70.3,1309.0 70.5,1307.5 70.7,1306.1 70.9,1304.7 71.1,1303.2 71.4,1301.8 71.6,1300.4 71.8,1298.9 72.0,1297.5 72.2,1296.1 72.4,1294.6 72.6,1293.2 72.8,1291.8 73.0,1290.3 73.2,1288.9 73.4,1287.5 73.6,1286.0 73.8,1284.6 74.0,1283.2 74.2,1281.7 74.4,1280.3 74.6,1278.8 74.8,1277.4 75.0,1276.0 75.2,1274.5 75.4,1273.1 75.6,1271.7 75.8,1270.2 76.0,1268.8 76.2,1267.4 76.4,1265.9 76.6,1264.5 76.8,1263.1 77.0,1261.6 77.2,1260.2 77.4,1258.8 77.6,1257.4 77.8,1255.9 78.0,1254.5 78.2,1253.1 78.4,1251.6 78.6,1250.2 78.8,1248.8 79.0,1247.3 79.2,1245.9 79.4,1244.5 79.6,1243.0 79.8,1241.6 80.1,1240.2 80.3,1238.8 80.5,1237.3 80.7,1235.9 81.0,1234.5 81.2,1233.1 81.5,1231.6 81.7,1230.2 82.0,1228.8 82.3,1227.4 82.6,1226.0 83.0,1224.6 83.4,1223.2 83.8,1221.8 84.2,1220.4 84.6,1219.0 85.1,1217.6 85.6,1216.2 86.2,1214.9 86.8,1213.5 87.4,1212.1 88.1,1210.8 88.8,1209.5 89.5,1208.1 90.3,1206.8 91.2,1205.5 92.1,1204.2 93.1,1202.9 94.1,1201.7 95.2,1200.5 96.2,1199.5 97.4,1198.4 98.5,1197.5 99.7,1196.7 100.8,1196.0 102.0,1195.5 103.2,1195.0 104.4,1194.8 105.6,1194.6 106.8,1194.7 108.0,1194.9 109.3,1195.3 110.5,1195.8 111.6,1196.4 112.8,1197.1 114.0,1197.9 115.2,1198.8 116.3,1199.7 117.5,1200.7 118.6,1201.8 119.7,1202.9 120.8,1204.0 121.9,1205.1 123.0,1206.2 124.1,1207.3 125.2,1208.4 126.2,1209.6 127.3,1210.7 128.3,1211.8 129.4,1212.9 130.5,1214.0 131.5,1215.1 132.5,1216.3 133.6,1217.4 134.6,1218.5 135.6,1219.6 136.6,1220.7 137.6,1221.9 138.7,1223.0 139.7,1224.1 140.7,1225.2 141.7,1226.3 142.7,1227.4 143.6,1228.6 144.6,1229.7 145.6,1230.8 146.6,1231.9 147.6,1233.0 148.6,1234.1 149.6,1235.2 150.5,1236.3 151.5,1237.4 152.5,1238.5 153.5,1239.6 154.4,1240.7 155.4,1241.8 156.4,1242.9 157.4,1244.0 158.3,1245.1 159.3,1246.2 160.3,1247.3 161.3,1248.4 162.2,1249.5 163.2,1250.5 164.2,1251.6 165.2,1252.7 166.2,1253.8 167.1,1254.8 168.1,1255.9 169.1,1257.0 170.1,1258.0 171.1,1259.1 172.1,1260.2 173.1,1261.2 174.1,1262.3 175.1,1263.3 176.1,1264.3 177.2,1265.4 178.2,1266.4 179.2,1267.5 180.2,1268.5 181.3,1269.5 182.3,1270.5 183.4,1271.5 184.4,1272.6 185.5,1273.6 186.5,1274.6 187.6,1275.6 188.7,1276.6 189.8,1277.5 190.8,1278.5 191.9,1279.5 193.0,1280.5 194.1,1281.5 195.3,1282.4 196.4,1283.4 197.5,1284.3 198.6,1285.3 199.8,1286.2 200.9,1287.2 202.0,1288.1 203.2,1289.1 204.3,1290.0 205.5,1290.9 206.7,1291.8 207.9,1292.7 209.0,1293.6 210.2,1294.5 211.4,1295.4 212.6,1296.3 213.8,1297.2 215.0,1298.1 216.2,1298.9 217.4,1299.8 218.7,1300.7 219.9,1301.5 221.1,1302.4 222.3,1303.2 223.6,1304.0 224.8,1304.9 226.1,1305.7 227.3,1306.5 228.6,1307.3 229.9,1308.1 231.1,1308.9 232.4,1309.7 233.7,1310.5 235.0,1311.2 236.2,1312.0 237.5,1312.8 238.8,1313.5 240.1,1314.3 241.4,1315.0 242.8,1315.7 244.1,1316.5 245.4,1317.2 246.7,1317.9 248.0,1318.6 249.4,1319.3 250.7,1320.0 252.0,1320.6 253.4,1321.3 254.7,1322.0 256.1,1322.6 257.4,1323.3 258.8,1323.9 260.2,1324.6 261.5,1325.2 262.9,1325.8 264.3,1326.4 265.6,1327.0 267.0,1327.6 268.4,1328.2 269.8,1328.7 271.2,1329.3 272.6,1329.9 274.0,1330.4 275.4,1330.9 276.8,1331.5 278.2,1332.0 279.6,1332.5 281.0,1333.0 282.5,1333.5 283.9,1334.0 285.3,1334.5 286.7,1334.9 288.2,1335.4 289.6,1335.8 291.0,1336.3 292.5,1336.7 293.9,1337.1 295.4,1337.5 296.8,1337.9 298.3,1338.3 299.7,1338.7 301.2,1339.1 302.6,1339.4 304.1,1339.8 305.6,1340.1 307.0,1340.4 308.5,1340.7 310.0,1341.1 311.5,1341.4 312.9,1341.6 314.4,1341.9 315.9,1342.2 317.4,1342.4 318.9,1342.7 320.4,1342.9" fill="none" stroke="#a6d384" stroke-width="1.6"/>
<path d="M51.4,1374.0 53.0,1373.6 54.3,1372.9 55.4,1371.9 56.2,1370.8 56.9,1369.5 57.5,1368.1 58.1,1366.7 58.6,1365.2 59.0,1363.8 59.5,1362.3 60.0,1360.8 60.4,1359.3 60.8,1357.8 61.2,1356.3 61.6,1354.8 61.9,1353.3 62.3,1351.8 62.6,1350.3 63.0,1348.8 63.3,1347.3 63.6,1345.7 63.9,1344.2 64.2,1342.7 64.5,1341.2 64.8,1339.6 65.0,1338.1 65.3,1336.6 65.6,1335.0 65.8,1333.5 66.1,1332.0 66.3,1330.4 66.6,1328.9 66.8,1327.3 67.1,1325.8 67.3,1324.3 67.6,1322.7 67.8,1321.2 68.0,1319.7 68.3,1318.1 68.5,1316.6 68.7,1315.0 69.0,1313.5 69.2,1312.0 69.4,1310.4 69.6,1308.9 69.9,1307.3 70.1,1305.8 70.3,1304.3 70.5,1302.7 70.7,1301.2 70.9,1299.6 71.1,1298.1 71.4,1296.6 71.6,1295.0 71.8,1293.5 72.0,1292.0 72.2,1290.4 72.4,1288.9 72.6,1287.3 72.8,1285.8 73.0,1284.3 73.2,1282.7 73.4,1281.2 73.6,1279.6 73.8,1278.1 74.0,1276.6 74.2,1275.0 74.4,1273.5 74.6,1271.9 74.8,1270.4 75.0,1268.9 75.2,1267.3 75.4,1265.8 75.6,1264.2 75.8,1262.7 76.0,1261.2 76.2,1259.6 76.4,1258.1 76.6,1256.6 76.8,1255.0 77.0,1253.5 77.2,1251.9 77.4,1250.4 77.6,1248.9 77.8,1247.3 78.0,1245.8 78.2,1244.3 78.4,1242.7 78.6,1241.2 78.8,1239.7 79.0,1238.1 79.2,1236.6 79.4,1235.1 79.6,1233.5 79.8,1232.0 80.1,1230.5 80.3,1228.9 80.5,1227.4 80.7,1225.9 81.0,1224.3 81.2,1222.8 81.5,1221.3 81.7,1219.8 82.0,1218.3 82.3,1216.7 82.6,1215.2 83.0,1213.7 83.4,1212.2 83.8,1210.7 84.2,1209.2 84.6,1207.7 85.1,1206.2 85.6,1204.8 86.2,1203.3 86.8,1201.8 87.4,1200.4 88.1,1198.9 88.8,1197.5 89.5,1196.0 90.3,1194.6 91.2,1193.2 92.1,1191.8 93.1,1190.5 94.2,1189.2 95.3,1187.9 96.4,1186.8 97.6,1185.7 98.8,1184.7 100.0,1183.8 101.2,1183.1 102.5,1182.5 103.7,1182.0 105.0,1181.7 106.2,1181.6 107.5,1181.7 108.7,1181.9 110.0,1182.3 111.3,1182.8 112.5,1183.5 113.8,1184.2 115.0,1185.1 116.2,1186.1 117.3,1187.1 118.5,1188.2 119.6,1189.3 120.7,1190.5 121.8,1191.7 122.9,1192.9 124.0,1194.1 125.1,1195.3 126.2,1196.5 127.2,1197.7 128.3,1199.0 129.3,1200.2 130.4,1201.4 131.5,1202.6 132.5,1203.8 133.5,1205.0 134.6,1206.2 135.6,1207.4 136.6,1208.6 137.6,1209.8 138.6,1211.0 139.7,1212.2 140.7,1213.4 141.7,1214.6 142.7,1215.8 143.7,1217.0 144.6,1218.2 145.6,1219.4 146.6,1220.6 147.6,1221.8 148.6,1223.0 149.6,1224.2 150.6,1225.4 151.5,1226.6 152.5,1227.8 153.5,1229.0 154.5,1230.2 155.4,1231.4 156.4,1232.6 157.4,1233.7 158.4,1234.9 159.3,1236.1 160.3,1237.3 161.3,1238.4 162.3,1239.6 163.2,1240.8 164.2,1241.9 165.2,1243.1 166.2,1244.3 167.2,1245.4 168.1,1246.6 169.1,1247.7 170.1,1248.9 171.1,1250.0 172.1,1251.1 173.1,1252.3 174.1,1253.4 175.1,1254.5 176.1,1255.7 177.1,1256.8 178.2,1257.9 179.2,1259.0 180.2,1260.1 181.2,1261.2 182.3,1262.3 183.3,1263.4 184.4,1264.5 185.4,1265.6 186.5,1266.7 187.5,1267.8 188.6,1268.8 189.7,1269.9 190.8,1271.0 191.8,1272.0 192.9,1273.1 194.0,1274.1 195.1,1275.2 196.3,1276.2 197.4,1277.2 198.5,1278.3 199.6,1279.3 200.8,1280.3 201.9,1281.3 203.0,1282.3 204.2,1283.3 205.3,1284.3 206.5,1285.3 207.7,1286.3 208.9,1287.3 210.0,1288.2 211.2,1289.2 212.4,1290.2 213.6,1291.1 214.8,1292.1 216.0,1293.0 217.2,1293.9 218.4,1294.9 219.7,1295.8 220.9,1296.7 222.1,1297.6 223.3,1298.5 224.6,1299.4 225.8,1300.3 227.1,1301.2 228.3,1302.0 229.6,1302.9 230.9,1303.8 232.1,1304.6 233.4,1305.5 234.7,1306.3 236.0,1307.1 237.2,1307.9 238.5,1308.8 239.8,1309.6 241.1,1310.4 242.4,1311.2 243.8,1311.9 245.1,1312.7 246.4,1313.5 247.7,1314.2 249.0,1315.0 250.4,1315.7 251.7,1316.5 253.0,1317.2 254.4,1317.9 255.7,1318.6 257.1,1319.3 258.4,1320.0 259.8,1320.7 261.2,1321.4 262.5,1322.1 263.9,1322.7 265.3,1323.4 266.6,1324.0 268.0,1324.6 269.4,1325.3 270.8,1325.9 272.2,1326.5 273.6,1327.1 275.0,1327.7 276.4,1328.2 277.8,1328.8 279.2,1329.4 280.6,1329.9 282.0,1330.4 283.5,1331.0 284.9,1331.5 286.3,1332.0 287.7,1332.5 289.2,1333.0 290.6,1333.5 292.0,1333.9 293.5,1334.4 294.9,1334.8 296.4,1335.3 297.8,1335.7 299.3,1336.1 300.7,1336.5 302.2,1336.9 303.6,1337.3 305.1,1337.7 306.6,1338.0 308.0,1338.4 309.5,1338.7 311.0,1339.0 312.5,1339.4 313.9,1339.7 315.4,1340.0 316.9,1340.2 318.4,1340.5 319.9,1340.8" fill="none" stroke="#a6d384" stroke-width="1.6"/>
<path d="M51.4,1374.0 53.0,1373.6 54.3,1372.9 55.4,1372.1 56.2,1371.0 56.9,1369.8 57.5,1368.6 58.1,1367.2 58.6,1365.9 59.0,1364.5 59.5,1363.2 60.0,1361.8 60.4,1360.4 60.8,1359.1 61.2,1357.7 61.6,1356.3 61.9,1354.9 62.3,1353.5 62.6,1352.1 63.0,1350.7 63.3,1349.3 63.6,1347.9 63.9,1346.5 64.2,1345.1 64.5,1343.7 64.8,1342.3 65.0,1340.9 65.3,1339.4 65.6,1338.0 65.8,1336.6 66.1,1335.2 66.3,1333.8 66.6,1332.4 66.8,1330.9 67.1,1329.5 67.3,1328.1 67.6,1326.7 67.8,1325.3 68.0,1323.8 68.3,1322.4 68.5,1321.0 68.7,1319.6 69.0,1318.2 69.2,1316.8 69.4,1315.3 69.6,1313.9 69.9,1312.5 70.1,1311.1 70.3,1309.7 70.5,1308.2 70.7,1306.8 70.9,1305.4 71.1,1304.0 71.4,1302.6 71.6,1301.1 71.8,1299.7 72.0,1298.3 72.2,1296.9 72.4,1295.5 72.6,1294.0 72.8,1292.6 73.0,1291.2 73.2,1289.8 73.4,1288.4 73.6,1286.9 73.8,1285.5 74.0,1284.1 74.2,1282.7 74.4,1281.3 74.6,1279.8 74.8,1278.4 75.0,1277.0 75.2,1275.6 75.4,1274.2 75.6,1272.7 75.8,1271.3 76.0,1269.9 76.2,1268.5 76.4,1267.1 76.6,1265.6 76.8,1264.2 77.0,1262.8 77.2,1261.4 77.4,1260.0 77.6,1258.6 77.8,1257.1 78.0,1255.7 78.2,1254.3 78.4,1252.9 78.6,1251.5 78.8,1250.1 79.0,1248.7 79.2,1247.2 79.4,1245.8 79.6,1244.4 79.8,1243.0 80.1,1241.6 80.3,1240.2 80.5,1238.8 80.7,1237.3 81.0,1235.9 81.2,1234.5 81.5,1233.1 81.7,1231.7 82.0,1230.3 82.3,1228.9 82.6,1227.5 83.0,1226.1 83.4,1224.7 83.8,1223.4 84.2,1222.0 84.6,1220.6 85.1,1219.2 85.6,1217.9 86.2,1216.5 86.8,1215.2 87.4,1213.8 88.1,1212.5 88.8,1211.2 89.5,1209.8 90.3,1208.5 91.2,1207.2 92.1,1205.9 92.9,1204.7 93.7,1203.5 94.6,1202.3 95.5,1201.3 96.4,1200.3 97.4,1199.4 98.3,1198.6 99.3,1197.9 100.3,1197.3 101.3,1196.9 102.3,1196.6 103.3,1196.5 104.3,1196.6 105.3,1196.8 106.3,1197.1 107.2,1197.6 108.2,1198.2 109.2,1198.9 110.2,1199.7 111.2,1200.6 112.3,1201.6 113.5,1202.6 114.6,1203.6 115.7,1204.7 116.8,1205.8 117.9,1206.9 119.0,1208.1 120.1,1209.2 121.2,1210.3 122.2,1211.4 123.3,1212.5 124.3,1213.6 125.4,1214.7 126.5,1215.8 127.5,1217.0 128.5,1218.1 129.6,1219.2 130.6,1220.3 131.6,1221.4 132.6,1222.5 133.6,1223.6 134.7,1224.7 135.7,1225.9 136.7,1227.0 137.7,1228.1 138.7,1229.2 139.6,1230.3 140.6,1231.4 141.6,1232.5 142.6,1233.6 143.6,1234.7 144.6,1235.8 145.6,1236.9 146.5,1238.0 147.5,1239.1 148.5,1240.2 149.5,1241.3 150.4,1242.4 151.4,1243.5 152.4,1244.6 153.4,1245.7 154.3,1246.7 155.3,1247.8 156.3,1248.9 157.3,1250.0 158.2,1251.1 159.2,1252.1 160.2,1253.2 161.2,1254.3 162.2,1255.3 163.1,1256.4 164.1,1257.5 165.1,1258.5 166.1,1259.6 167.1,1260.6 168.1,1261.7 169.1,1262.7 170.1,1263.8 171.1,1264.8 172.1,1265.8 173.2,1266.9 174.2,1267.9 175.2,1268.9 176.2,1269.9 177.3,1270.9 178.3,1272.0 179.4,1273.0 180.4,1274.0 181.5,1275.0 182.5,1276.0 183.6,1276.9 184.7,1277.9 185.8,1278.9 186.8,1279.9 187.9,1280.9 189.0,1281.8 190.1,1282.8 191.3,1283.8 192.4,1284.7 193.5,1285.7 194.6,1286.6 195.8,1287.5 196.9,1288.5 198.0,1289.4 199.2,1290.3 200.3,1291.2 201.5,1292.1 202.7,1293.0 203.9,1294.0 205.0,1294.8 206.2,1295.7 207.4,1296.6 208.6,1297.5 209.8,1298.4 211.0,1299.2 212.2,1300.1 213.4,1301.0 214.7,1301.8 215.9,1302.6 217.1,1303.5 218.3,1304.3 219.6,1305.1 220.8,1306.0 222.1,1306.8 223.3,1307.6 224.6,1308.4 225.9,1309.2 227.1,1309.9 228.4,1310.7 229.7,1311.5 231.0,1312.3 232.2,1313.0 233.5,1313.8 234.8,1314.5 236.1,1315.2 237.4,1316.0 238.8,1316.7 240.1,1317.4 241.4,1318.1 242.7,1318.8 244.0,1319.5 245.4,1320.2 246.7,1320.9 248.0,1321.6 249.4,1322.2 250.7,1322.9 252.1,1323.5 253.4,1324.2 254.8,1324.8 256.2,1325.4 257.5,1326.0 258.9,1326.6 260.3,1327.2 261.6,1327.8 263.0,1328.4 264.4,1329.0 265.8,1329.5 267.2,1330.1 268.6,1330.7 270.0,1331.2 271.4,1331.7 272.8,1332.2 274.2,1332.8 275.6,1333.3 277.0,1333.8 278.5,1334.2 279.9,1334.7 281.3,1335.2 282.7,1335.7 284.2,1336.1 285.6,1336.5 287.0,1337.0 288.5,1337.4 289.9,1337.8 291.4,1338.2 292.8,1338.6 294.3,1339.0 295.7,1339.4 297.2,1339.7 298.6,1340.1 300.1,1340.4 301.6,1340.8 303.0,1341.1 304.5,1341.4 306.0,1341.7 307.5,1342.0 308.9,1342.3 310.4,1342.6 311.9,1342.8 313.4,1343.1 314.9,1343.3 316.4,1343.5 317.9,1343.8" fill="none" stroke="#a6d384" stroke-width="1.6"/>
<path d="M51.4,1374.0 53.0,1373.6 54.3,1372.9 55.4,1372.0 56.2,1370.9 56.9,1369.6 57.5,1368.3 58.1,1366.9 58.6,1365.5 59.0,1364.1 59.5,1362.6 60.0,1361.2 60.4,1359.7 60.8,1358.3 61.2,1356.8 61.6,1355.4 61.9,1353.9 62.3,1352.5 62.6,1351.0 63.0,1349.5 63.3,1348.0 63.6,1346.6 63.9,1345.1 64.2,1343.6 64.5,1342.1 64.8,1340.6 65.0,1339.1 65.3,1337.6 65.6,1336.2 65.8,1334.7 66.1,1333.2 66.3,1331.7 66.6,1330.2 66.8,1328.7 67.1,1327.2 67.3,1325.7 67.6,1324.2 67.8,1322.7 68.0,1321.2 68.3,1319.7 68.5,1318.2 68.7,1316.7 69.0,1315.3 69.2,1313.8 69.4,1312.3 69.6,1310.8 69.9,1309.3 70.1,1307.8 70.3,1306.3 70.5,1304.8 70.7,1303.3 70.9,1301.8 71.1,1300.3 71.4,1298.8 71.6,1297.3 71.8,1295.8 72.0,1294.3 72.2,1292.8 72.4,1291.3 72.6,1289.8 72.8,1288.4 73.0,1286.9 73.2,1285.4 73.4,1283.9 73.6,1282.4 73.8,1280.9 74.0,1279.4 74.2,1277.9 74.4,1276.4 74.6,1274.9 74.8,1273.4 75.0,1271.9 75.2,1270.4 75.4,1268.9 75.6,1267.4 75.8,1265.9 76.0,1264.4 76.2,1263.0 76.4,1261.5 76.6,1260.0 76.8,1258.5 77.0,1257.0 77.2,1255.5 77.4,1254.0 77.6,1252.5 77.8,1251.0 78.0,1249.5 78.2,1248.0 78.4,1246.5 78.6,1245.1 78.8,1243.6 79.0,1242.1 79.2,1240.6 79.4,1239.1 79.6,1237.6 79.8,1236.1 80.1,1234.6 80.3,1233.1 80.5,1231.7 80.7,1230.2 81.0,1228.7 81.2,1227.2 81.5,1225.7 81.7,1224.3 82.0,1222.8 82.3,1221.3 82.6,1219.8 83.0,1218.4 83.4,1216.9 83.8,1215.5 84.2,1214.0 84.6,1212.6 85.1,1211.1 85.6,1209.7 86.2,1208.3 86.8,1206.8 87.4,1205.4 88.1,1204.0 88.8,1202.6 89.5,1201.2 90.3,1199.8 91.2,1198.5 92.1,1197.1 93.0,1195.8 94.0,1194.5 95.0,1193.3 96.1,1192.2 97.1,1191.1 98.2,1190.2 99.3,1189.3 100.4,1188.6 101.6,1188.0 102.7,1187.6 103.9,1187.3 105.0,1187.2 106.2,1187.2 107.3,1187.5 108.5,1187.8 109.6,1188.4 110.8,1189.0 111.9,1189.8 113.1,1190.6 114.2,1191.6 115.3,1192.6 116.5,1193.7 117.6,1194.8 118.7,1195.9 119.8,1197.1 120.9,1198.3 122.0,1199.5 123.1,1200.6 124.2,1201.8 125.2,1203.0 126.3,1204.2 127.3,1205.3 128.4,1206.5 129.5,1207.7 130.5,1208.9 131.5,1210.1 132.6,1211.2 133.6,1212.4 134.6,1213.6 135.6,1214.8 136.6,1216.0 137.7,1217.1 138.7,1218.3 139.7,1219.5 140.7,1220.7 141.7,1221.8 142.6,1223.0 143.6,1224.2 144.6,1225.3 145.6,1226.5 146.6,1227.7 147.6,1228.8 148.6,1230.0 149.5,1231.2 150.5,1232.3 151.5,1233.5 152.5,1234.6 153.4,1235.8 154.4,1236.9 155.4,1238.1 156.4,1239.2 157.3,1240.4 158.3,1241.5 159.3,1242.7 160.3,1243.8 161.2,1244.9 162.2,1246.1 163.2,1247.2 164.2,1248.3 165.2,1249.5 166.1,1250.6 167.1,1251.7 168.1,1252.8 169.1,1253.9 170.1,1255.0 171.1,1256.1 172.1,1257.2 173.1,1258.3 174.1,1259.4 175.1,1260.5 176.2,1261.6 177.2,1262.7 178.2,1263.8 179.2,1264.9 180.3,1265.9 181.3,1267.0 182.4,1268.0 183.4,1269.1 184.5,1270.2 185.5,1271.2 186.6,1272.3 187.7,1273.3 188.8,1274.3 189.8,1275.4 190.9,1276.4 192.0,1277.4 193.1,1278.4 194.3,1279.4 195.4,1280.4 196.5,1281.4 197.6,1282.4 198.8,1283.4 199.9,1284.4 201.0,1285.4 202.2,1286.3 203.3,1287.3 204.5,1288.3 205.7,1289.2 206.9,1290.2 208.0,1291.1 209.2,1292.0 210.4,1293.0 211.6,1293.9 212.8,1294.8 214.0,1295.7 215.2,1296.6 216.4,1297.5 217.7,1298.4 218.9,1299.3 220.1,1300.2 221.3,1301.1 222.6,1301.9 223.8,1302.8 225.1,1303.7 226.3,1304.5 227.6,1305.3 228.9,1306.2 230.1,1307.0 231.4,1307.8 232.7,1308.6 234.0,1309.4 235.2,1310.2 236.5,1311.0 237.8,1311.8 239.1,1312.6 240.4,1313.3 241.8,1314.1 243.1,1314.9 244.4,1315.6 245.7,1316.3 247.0,1317.1 248.4,1317.8 249.7,1318.5 251.0,1319.2 252.4,1319.9 253.7,1320.6 255.1,1321.3 256.4,1321.9 257.8,1322.6 259.2,1323.3 260.5,1323.9 261.9,1324.5 263.3,1325.2 264.6,1325.8 266.0,1326.4 267.4,1327.0 268.8,1327.6 270.2,1328.2 271.6,1328.8 273.0,1329.3 274.4,1329.9 275.8,1330.4 277.2,1331.0 278.6,1331.5 280.0,1332.0 281.5,1332.5 282.9,1333.0 284.3,1333.5 285.7,1334.0 287.2,1334.5 288.6,1334.9 290.0,1335.4 291.5,1335.8 292.9,1336.3 294.4,1336.7 295.8,1337.1 297.3,1337.5 298.7,1337.9 300.2,1338.3 301.6,1338.7 303.1,1339.0 304.6,1339.4 306.0,1339.7 307.5,1340.0 309.0,1340.4 310.5,1340.7 311.9,1341.0 313.4,1341.2 314.9,1341.5 316.4,1341.8 317.9,1342.0 319.4,1342.3 320.9,1342.5" fill="none" stroke="#30521f" stroke-width="3"/>
<path d="M73.10,1252.20 V1287.40 M67.10,1252.20 H79.10 M67.10,1287.40 H79.10" stroke="#ff3c3c" stroke-width="1.0" fill="none"/>
<circle cx="73.10" cy="1269.50" r="3.0" fill="none" stroke="#ff0000" stroke-width="2.8"/>
<path d="M93.20,1186.40 V1229.60 M87.20,1186.40 H99.20 M87.20,1229.60 H99.20" stroke="#ff3c3c" stroke-width="1.0" fill="none"/>
<circle cx="93.20" cy="1208.10" r="3.0" fill="none" stroke="#ff0000" stroke-width="2.8"/>
<path d="M115.60,1226.90 V1263.00 M109.60,1226.90 H121.60 M109.60,1263.00 H121.60" stroke="#ff3c3c" stroke-width="1.0" fill="none"/>
<circle cx="115.60" cy="1244.90" r="3.0" fill="none" stroke="#ff0000" stroke-width="2.8"/>
<path d="M139.00,1255.50 V1297.00 M133.00,1255.50 H145.00 M133.00,1297.00 H145.00" stroke="#ff3c3c" stroke-width="1.0" fill="none"/>
<circle cx="139.00" cy="1276.30" r="3.0" fill="none" stroke="#ff0000" stroke-width="2.8"/>
<path d="M161.90,1275.30 V1308.20 M155.90,1275.30 H167.90 M155.90,1308.20 H167.90" stroke="#ff3c3c" stroke-width="1.0" fill="none"/>
<circle cx="161.90" cy="1291.60" r="3.0" fill="none" stroke="#ff0000" stroke-width="2.8"/>
<path d="M186.00,1300.50 V1317.50 M180.00,1300.50 H192.00 M180.00,1317.50 H192.00" stroke="#ff3c3c" stroke-width="1.0" fill="none"/>
<circle cx="186.00" cy="1308.20" r="3.0" fill="none" stroke="#ff0000" stroke-width="2.8"/>
<path d="M230.90,1321.50 V1336.70 M224.90,1321.50 H236.90 M224.90,1336.70 H236.90" stroke="#ff3c3c" stroke-width="1.0" fill="none"/>
<circle cx="230.90" cy="1328.70" r="3.0" fill="none" stroke="#ff0000" stroke-width="2.8"/>
<path d="M408.10,1374.07 L408.60,1372.66 L409.08,1371.25 L409.56,1369.83 L410.02,1368.41 L410.48,1366.99 L410.92,1365.57 L411.36,1364.14 L411.78,1362.71 L412.20,1361.28 L412.61,1359.84 L413.00,1358.41 L413.39,1356.97 L413.77,1355.52 L414.14,1354.08 L414.50,1352.63 L414.86,1351.18 L415.20,1349.73 L415.54,1348.28 L415.87,1346.82 L416.19,1345.36 L416.51,1343.90 L416.81,1342.44 L417.11,1340.98 L417.41,1339.51 L417.69,1338.04 L417.97,1336.57 L418.24,1335.10 L418.51,1333.63 L418.77,1332.15 L419.03,1330.67 L419.27,1329.19 L419.52,1327.71 L419.75,1326.23 L419.99,1324.75 L420.21,1323.26 L420.44,1321.78 L420.65,1320.29 L420.87,1318.80 L421.07,1317.31 L421.28,1315.82 L421.48,1314.33 L421.67,1312.83 L421.87,1311.34 L422.06,1309.84 L422.24,1308.35 L422.42,1306.85 L422.60,1305.35 L422.78,1303.85 L422.95,1302.35 L423.12,1300.85 L423.29,1299.35 L423.46,1297.85 L423.62,1296.34 L423.78,1294.84 L423.94,1293.33 L424.10,1291.83 L424.26,1290.32 L424.42,1288.82 L424.57,1287.31 L424.73,1285.81 L424.88,1284.30 L425.03,1282.79 L425.19,1281.29 L425.34,1279.78 L425.49,1278.27 L425.65,1276.76 L425.80,1275.26 L425.95,1273.75 L426.11,1272.24 L426.26,1270.74 L426.42,1269.23 L426.58,1267.72 L426.74,1266.22 L426.90,1264.71 L427.06,1263.21 L427.23,1261.70 L427.39,1260.20 L427.56,1258.69 L427.73,1257.19 L427.91,1255.68 L428.08,1254.18 L428.26,1252.68 L428.44,1251.18 L428.63,1249.68 L428.82,1248.18 L429.01,1246.68 L429.21,1245.18 L429.41,1243.69 L429.61,1242.19 L429.82,1240.70 L430.03,1239.20 L430.25,1237.71 L430.48,1236.22 L430.70,1234.73 L430.94,1233.24 L431.17,1231.75 L431.42,1230.27 L431.67,1228.78 L431.92,1227.30 L432.18,1225.82 L432.45,1224.34 L432.72,1222.86 L433.00,1221.38 L433.29,1219.91 L433.59,1218.43 L433.89,1216.96 L434.19,1215.49 L434.51,1214.02 L434.83,1212.56 L435.17,1211.10 L435.52,1209.64 L435.89,1208.18 L436.27,1206.73 L436.68,1205.28 L437.11,1203.84 L437.57,1202.41 L438.05,1200.98 L438.57,1199.56 L439.12,1198.15 L439.71,1196.75 L440.34,1195.36 L441.01,1193.97 L441.72,1192.60 L442.48,1191.24 L443.29,1189.89 L444.15,1188.55 L445.07,1187.23 L446.04,1185.96 L447.06,1184.81 L448.15,1183.80 L449.30,1183.01 L450.51,1182.48 L451.78,1182.26 L453.10,1182.34 L454.47,1182.66 L455.85,1183.18 L457.25,1183.83 L458.63,1184.56 L460.00,1185.32 L461.33,1186.10 L462.65,1186.91 L463.94,1187.73 L465.21,1188.58 L466.45,1189.45 L467.68,1190.34 L468.88,1191.25 L470.07,1192.18 L471.23,1193.13 L472.38,1194.09 L473.51,1195.07 L474.62,1196.07 L475.72,1197.09 L476.80,1198.12 L477.86,1199.16 L478.91,1200.22 L479.95,1201.30 L480.97,1202.38 L481.98,1203.48 L482.98,1204.59 L483.96,1205.72 L484.94,1206.85 L485.90,1208.00 L486.85,1209.15 L487.80,1210.31 L488.74,1211.49 L489.67,1212.67 L490.59,1213.85 L491.51,1215.05 L492.42,1216.25 L493.33,1217.46 L494.23,1218.67 L495.13,1219.89 L496.02,1221.11 L496.91,1222.33 L497.80,1223.56 L498.69,1224.79 L499.58,1226.02 L500.47,1227.25 L501.36,1228.49 L502.25,1229.72 L503.15,1230.95 L504.04,1232.18 L504.94,1233.41 L505.85,1234.64 L506.76,1235.87 L507.67,1237.09 L508.58,1238.31 L509.50,1239.53 L510.43,1240.74 L511.35,1241.95 L512.29,1243.16 L513.22,1244.36 L514.17,1245.56 L515.11,1246.76 L516.06,1247.95 L517.02,1249.13 L517.98,1250.31 L518.95,1251.49 L519.93,1252.66 L520.91,1253.82 L521.89,1254.98 L522.88,1256.13 L523.88,1257.27 L524.88,1258.41 L525.89,1259.54 L526.90,1260.66 L527.93,1261.78 L528.95,1262.89 L529.99,1263.99 L531.03,1265.08 L532.08,1266.16 L533.14,1267.24 L534.20,1268.31 L535.27,1269.36 L536.35,1270.41 L537.43,1271.45 L538.53,1272.48 L539.63,1273.49 L540.74,1274.50 L541.85,1275.50 L542.98,1276.48 L544.11,1277.46 L545.26,1278.42 L546.41,1279.38 L547.56,1280.32 L548.73,1281.25 L549.91,1282.16 L551.09,1283.07 L552.29,1283.96 L553.49,1284.84 L554.70,1285.71 L555.92,1286.57 L557.15,1287.41 L558.38,1288.25 L559.62,1289.07 L560.87,1289.88 L562.13,1290.69 L563.40,1291.48 L564.67,1292.26 L565.95,1293.02 L567.23,1293.78 L568.53,1294.53 L569.83,1295.27 L571.13,1296.00 L572.45,1296.71 L573.77,1297.42 L575.09,1298.12 L576.42,1298.81 L577.76,1299.48 L579.11,1300.15 L580.45,1300.81 L581.81,1301.46 L583.17,1302.10 L584.54,1302.73 L585.91,1303.35 L587.28,1303.97 L588.66,1304.57 L590.05,1305.17 L591.44,1305.75 L592.84,1306.33 L594.23,1306.90 L595.64,1307.46 L597.05,1308.02 L598.46,1308.56 L599.87,1309.10 L601.29,1309.63 L602.72,1310.15 L604.15,1310.67 L605.58,1311.18 L607.01,1311.67 L608.45,1312.17 L609.89,1312.65 L611.33,1313.13 L612.77,1313.60 L614.22,1314.07 L615.67,1314.52 L617.13,1314.97 L618.58,1315.42 L620.04,1315.86 L621.50,1316.29 L622.96,1316.71 L624.42,1317.13 L625.89,1317.55 L627.35,1317.95 L628.82,1318.36 L630.29,1318.75 L631.76,1319.14 L633.23,1319.53 L634.70,1319.91 L636.17,1320.28 L637.65,1320.65 L639.12,1321.02 L640.59,1321.38 L642.07,1321.73 L643.54,1322.08 L645.02,1322.43 L646.49,1322.77 L647.96,1323.11 L649.44,1323.44 L650.91,1323.77 L652.38,1324.09 L653.85,1324.41 L655.32,1324.73 L656.79,1325.04 L658.26,1325.35 L659.73,1325.66 L661.19,1325.96 L662.65,1326.26 L664.11,1326.56 L665.57,1326.85 L667.03,1327.14 L668.49,1327.43 L669.94,1327.71 L671.39,1328.00 L672.84,1328.28 L674.29,1328.56 L675.73,1328.83 L675.82,1355.38 L674.31,1355.36 L672.80,1355.33 L671.29,1355.29 L669.77,1355.25 L668.26,1355.19 L666.76,1355.13 L665.25,1355.06 L663.74,1354.98 L662.23,1354.89 L660.73,1354.80 L659.22,1354.70 L657.72,1354.59 L656.21,1354.47 L654.71,1354.34 L653.21,1354.21 L651.70,1354.06 L650.20,1353.91 L648.70,1353.76 L647.20,1353.59 L645.71,1353.42 L644.21,1353.24 L642.71,1353.06 L641.22,1352.87 L639.72,1352.67 L638.23,1352.46 L636.73,1352.25 L635.24,1352.03 L633.75,1351.80 L632.26,1351.57 L630.77,1351.33 L629.28,1351.08 L627.80,1350.83 L626.31,1350.57 L624.83,1350.30 L623.34,1350.03 L621.86,1349.75 L620.38,1349.47 L618.89,1349.18 L617.41,1348.89 L615.93,1348.59 L614.46,1348.28 L612.98,1347.97 L611.50,1347.65 L610.03,1347.33 L608.55,1347.00 L607.08,1346.67 L605.61,1346.33 L604.14,1345.99 L602.67,1345.64 L601.20,1345.29 L599.74,1344.93 L598.27,1344.57 L596.80,1344.20 L595.34,1343.83 L593.88,1343.45 L592.42,1343.07 L590.96,1342.69 L589.50,1342.30 L588.04,1341.90 L586.58,1341.51 L585.13,1341.10 L583.68,1340.70 L582.22,1340.29 L580.77,1339.87 L579.32,1339.46 L577.87,1339.04 L576.42,1338.61 L574.98,1338.18 L573.53,1337.75 L572.09,1337.32 L570.65,1336.88 L569.21,1336.44 L567.77,1335.99 L566.33,1335.55 L564.89,1335.10 L563.46,1334.64 L562.02,1334.19 L560.59,1333.73 L559.16,1333.27 L557.73,1332.80 L556.30,1332.34 L554.87,1331.87 L553.45,1331.40 L552.03,1330.92 L550.60,1330.45 L549.18,1329.97 L547.76,1329.49 L546.34,1329.01 L544.93,1328.52 L543.51,1328.04 L542.10,1327.55 L540.69,1327.06 L539.28,1326.56 L537.87,1326.06 L536.46,1325.56 L535.06,1325.05 L533.65,1324.54 L532.25,1324.03 L530.85,1323.51 L529.45,1322.98 L528.05,1322.45 L526.66,1321.92 L525.27,1321.38 L523.88,1320.83 L522.49,1320.28 L521.10,1319.72 L519.71,1319.15 L518.33,1318.58 L516.95,1318.00 L515.57,1317.41 L514.19,1316.82 L512.81,1316.22 L511.44,1315.61 L510.07,1314.99 L508.70,1314.36 L507.33,1313.73 L505.96,1313.08 L504.60,1312.43 L503.24,1311.77 L501.88,1311.09 L500.52,1310.41 L499.17,1309.72 L497.82,1309.02 L496.47,1308.30 L495.12,1307.58 L493.77,1306.84 L492.43,1306.10 L491.09,1305.34 L489.75,1304.57 L488.41,1303.79 L487.08,1302.99 L485.74,1302.19 L484.42,1301.37 L483.09,1300.54 L481.76,1299.70 L480.44,1298.86 L479.11,1298.01 L477.79,1297.18 L476.46,1296.35 L475.13,1295.54 L473.80,1294.74 L472.47,1293.96 L471.13,1293.21 L469.78,1292.49 L468.43,1291.81 L467.07,1291.16 L465.71,1290.55 L464.34,1290.00 L462.96,1289.49 L461.57,1289.04 L460.17,1288.64 L458.76,1288.31 L457.33,1288.05 L455.90,1287.86 L454.48,1287.77 L453.08,1287.78 L451.71,1287.92 L450.40,1288.21 L449.15,1288.64 L447.95,1289.22 L446.82,1289.92 L445.73,1290.74 L444.70,1291.66 L443.71,1292.67 L442.77,1293.77 L441.88,1294.93 L441.02,1296.16 L440.20,1297.42 L439.41,1298.73 L438.65,1300.05 L437.93,1301.39 L437.23,1302.74 L436.55,1304.10 L435.91,1305.48 L435.28,1306.86 L434.68,1308.25 L434.11,1309.66 L433.55,1311.07 L433.01,1312.49 L432.49,1313.91 L431.99,1315.35 L431.50,1316.79 L431.03,1318.24 L430.57,1319.69 L430.12,1321.15 L429.68,1322.61 L429.25,1324.08 L428.84,1325.55 L428.42,1327.02 L428.02,1328.49 L427.62,1329.97 L427.22,1331.45 L426.83,1332.92 L426.44,1334.40 L426.04,1335.88 L425.65,1337.35 L425.25,1338.83 L424.85,1340.30 L424.45,1341.77 L424.04,1343.24 L423.62,1344.70 L423.20,1346.15 L422.76,1347.61 L422.32,1349.05 L421.86,1350.49 L421.39,1351.93 L420.90,1353.35 L420.40,1354.77 L419.89,1356.18 L419.35,1357.59 L418.80,1358.98 L418.22,1360.36 L417.63,1361.73 L417.01,1363.09 L416.36,1364.44 L415.70,1365.78 L415.00,1367.10 L414.28,1368.41 L413.53,1369.71 L412.75,1370.99 L411.94,1372.26 L411.10,1373.51 Z" fill="#cee9fe"/>
<path d="M406.5,1374.3 407.7,1373.6 408.9,1372.7 410.0,1371.6 411.0,1370.5 411.9,1369.2 412.7,1367.9 413.4,1366.5 414.1,1365.0 414.7,1363.4 415.2,1361.8 415.7,1360.1 416.2,1358.4 416.6,1356.6 417.0,1354.8 417.3,1353.0 417.7,1351.2 418.0,1349.4 418.3,1347.6 418.6,1345.8 418.9,1344.0 419.2,1342.2 419.5,1340.4 419.8,1338.6 420.1,1336.9 420.4,1335.1 420.6,1333.4 420.9,1331.6 421.2,1329.9 421.5,1328.2 421.7,1326.4 422.0,1324.7 422.2,1323.0 422.5,1321.3 422.7,1319.6 423.0,1317.9 423.3,1316.2 423.5,1314.5 423.8,1312.8 424.0,1311.1 424.3,1309.5 424.5,1307.8 424.8,1306.1 425.1,1304.4 425.3,1302.7 425.6,1301.1 425.8,1299.4 426.1,1297.7 426.4,1296.0 426.7,1294.4 426.9,1292.7 427.2,1291.0 427.5,1289.4 427.8,1287.7 428.1,1286.0 428.4,1284.3 428.7,1282.6 429.0,1281.0 429.3,1279.3 429.7,1277.6 430.0,1275.9 430.4,1274.2 430.7,1272.5 431.1,1270.8 431.4,1269.1 431.8,1267.4 432.2,1265.7 432.6,1263.9 433.0,1262.2 433.4,1260.5 433.8,1258.7 434.3,1257.0 434.7,1255.2 435.2,1253.5 435.6,1251.7 436.1,1249.9 436.6,1248.1 437.1,1246.4 437.6,1244.6 438.1,1242.8 438.7,1240.9 439.3,1239.1 439.8,1237.3 440.4,1235.5 441.1,1233.8 441.7,1232.1 442.4,1230.4 443.1,1228.8 443.9,1227.3 444.7,1225.8 445.5,1224.4 446.4,1223.1 447.3,1221.9 448.2,1220.8 449.2,1219.8 450.3,1218.9 451.4,1218.2 452.6,1217.6 453.8,1217.2 455.1,1216.9 456.4,1216.8 457.8,1216.8 459.1,1217.0 460.5,1217.3 461.9,1217.8 463.3,1218.4 464.6,1219.1 466.0,1220.0 467.4,1221.0 468.8,1222.1 470.1,1223.2 471.4,1224.4 472.7,1225.6 474.0,1226.9 475.3,1228.1 476.5,1229.4 477.6,1230.7 478.8,1232.0 479.9,1233.3 481.0,1234.6 482.1,1235.9 483.2,1237.2 484.2,1238.5 485.3,1239.8 486.3,1241.1 487.4,1242.4 488.4,1243.7 489.5,1245.0 490.5,1246.3 491.5,1247.6 492.6,1248.9 493.7,1250.2 494.7,1251.4 495.8,1252.7 496.9,1253.9 498.0,1255.2 499.1,1256.4 500.2,1257.7 501.3,1258.9 502.5,1260.1 503.6,1261.3 504.7,1262.5 505.9,1263.7 507.0,1264.9 508.2,1266.1 509.3,1267.2 510.5,1268.4 511.7,1269.6 512.8,1270.7 514.0,1271.8 515.2,1273.0 516.4,1274.1 517.6,1275.2 518.8,1276.3 520.0,1277.4 521.2,1278.5 522.4,1279.5 523.7,1280.6 524.9,1281.7 526.1,1282.7 527.4,1283.7 528.6,1284.8 529.9,1285.8 531.1,1286.8 532.4,1287.8 533.7,1288.8 534.9,1289.8 536.2,1290.7 537.5,1291.7 538.8,1292.6 540.1,1293.6 541.4,1294.5 542.7,1295.4 544.0,1296.3 545.3,1297.2 546.6,1298.1 547.9,1299.0 549.2,1299.8 550.5,1300.7 551.9,1301.5 553.2,1302.4 554.5,1303.2 555.9,1304.0 557.2,1304.8 558.6,1305.6 559.9,1306.4 561.3,1307.2 562.6,1307.9 564.0,1308.7 565.4,1309.5 566.7,1310.2 568.1,1310.9 569.5,1311.7 570.9,1312.4 572.2,1313.1 573.6,1313.8 575.0,1314.5 576.4,1315.1 577.8,1315.8 579.2,1316.5 580.6,1317.1 582.0,1317.8 583.4,1318.4 584.8,1319.0 586.2,1319.6 587.6,1320.3 589.1,1320.9 590.5,1321.5 591.9,1322.0 593.3,1322.6 594.8,1323.2 596.2,1323.7 597.6,1324.3 599.1,1324.8 600.5,1325.4 601.9,1325.9 603.4,1326.4 604.8,1326.9 606.3,1327.4 607.7,1327.9 609.2,1328.4 610.6,1328.9 612.1,1329.4 613.5,1329.8 615.0,1330.3 616.4,1330.8 617.9,1331.2 619.4,1331.6 620.8,1332.1 622.3,1332.5 623.8,1332.9 625.2,1333.3 626.7,1333.7 628.2,1334.1 629.7,1334.5 631.1,1334.9 632.6,1335.2 634.1,1335.6 635.6,1336.0 637.1,1336.3 638.5,1336.7 640.0,1337.0 641.5,1337.3 643.0,1337.7 644.5,1338.0 646.0,1338.3 647.4,1338.6 648.9,1338.9 650.4,1339.2 651.9,1339.5 653.4,1339.8 654.9,1340.0 656.4,1340.3 657.9,1340.6 659.4,1340.8 660.9,1341.1 662.3,1341.3 663.8,1341.5 665.3,1341.8 666.8,1342.0 668.3,1342.2 669.8,1342.4 671.3,1342.7 672.8,1342.9 674.3,1343.1 675.8,1343.2" fill="none" stroke="#8da3d9" stroke-width="1.6"/>
<path d="M406.4,1374.3 407.6,1373.6 408.6,1372.7 409.6,1371.8 410.5,1370.7 411.3,1369.6 412.0,1368.4 412.7,1367.0 413.3,1365.7 413.8,1364.2 414.3,1362.7 414.7,1361.2 415.1,1359.6 415.5,1358.0 415.9,1356.3 416.2,1354.7 416.5,1353.0 416.8,1351.3 417.1,1349.7 417.4,1348.0 417.6,1346.4 417.9,1344.7 418.2,1343.1 418.4,1341.5 418.7,1339.9 418.9,1338.3 419.2,1336.7 419.4,1335.1 419.7,1333.5 419.9,1331.9 420.1,1330.3 420.4,1328.7 420.6,1327.1 420.8,1325.6 421.1,1324.0 421.3,1322.4 421.5,1320.9 421.8,1319.3 422.0,1317.8 422.2,1316.2 422.5,1314.7 422.7,1313.1 422.9,1311.6 423.1,1310.1 423.4,1308.5 423.6,1307.0 423.9,1305.4 424.1,1303.9 424.4,1302.4 424.7,1300.8 424.9,1299.3 425.2,1297.8 425.5,1296.2 425.8,1294.7 426.1,1293.1 426.4,1291.6 426.7,1290.1 427.0,1288.5 427.3,1287.0 427.7,1285.4 428.0,1283.9 428.4,1282.3 428.7,1280.7 429.1,1279.2 429.4,1277.6 429.8,1276.0 430.2,1274.5 430.6,1272.9 431.0,1271.3 431.4,1269.7 431.8,1268.1 432.3,1266.5 432.7,1264.9 433.2,1263.3 433.6,1261.6 434.1,1260.0 434.6,1258.4 435.1,1256.7 435.6,1255.1 436.1,1253.4 436.7,1251.8 437.3,1250.1 437.8,1248.4 438.4,1246.8 439.1,1245.2 439.7,1243.6 440.4,1242.1 441.1,1240.6 441.9,1239.2 442.7,1237.8 443.5,1236.5 444.4,1235.3 445.3,1234.2 446.2,1233.2 447.2,1232.3 448.3,1231.5 449.4,1230.9 450.6,1230.3 451.8,1229.9 453.1,1229.7 454.4,1229.5 455.8,1229.6 457.1,1229.8 458.5,1230.1 459.9,1230.5 461.3,1231.0 462.6,1231.7 464.0,1232.4 465.4,1233.3 466.8,1234.2 468.1,1235.1 469.4,1236.1 470.7,1237.2 472.0,1238.3 473.3,1239.4 474.5,1240.5 475.6,1241.6 476.8,1242.7 477.9,1243.8 479.0,1245.0 480.1,1246.1 481.2,1247.3 482.2,1248.4 483.3,1249.6 484.3,1250.7 485.4,1251.9 486.4,1253.0 487.5,1254.2 488.5,1255.3 489.5,1256.4 490.6,1257.6 491.7,1258.7 492.7,1259.8 493.8,1260.9 494.9,1262.0 496.0,1263.1 497.1,1264.2 498.2,1265.3 499.3,1266.4 500.5,1267.5 501.6,1268.6 502.7,1269.7 503.9,1270.7 505.0,1271.8 506.2,1272.8 507.3,1273.9 508.5,1274.9 509.7,1275.9 510.8,1276.9 512.0,1278.0 513.2,1279.0 514.4,1280.0 515.6,1281.0 516.8,1281.9 518.0,1282.9 519.2,1283.9 520.4,1284.8 521.7,1285.8 522.9,1286.7 524.1,1287.7 525.4,1288.6 526.6,1289.5 527.9,1290.4 529.1,1291.3 530.4,1292.2 531.7,1293.1 532.9,1294.0 534.2,1294.9 535.5,1295.7 536.8,1296.6 538.1,1297.4 539.4,1298.3 540.7,1299.1 542.0,1299.9 543.3,1300.7 544.6,1301.5 545.9,1302.3 547.2,1303.1 548.5,1303.8 549.9,1304.6 551.2,1305.4 552.5,1306.1 553.9,1306.8 555.2,1307.6 556.6,1308.3 557.9,1309.0 559.3,1309.7 560.6,1310.4 562.0,1311.1 563.4,1311.8 564.7,1312.5 566.1,1313.1 567.5,1313.8 568.9,1314.4 570.2,1315.1 571.6,1315.7 573.0,1316.3 574.4,1317.0 575.8,1317.6 577.2,1318.2 578.6,1318.8 580.0,1319.4 581.4,1319.9 582.8,1320.5 584.2,1321.1 585.6,1321.6 587.1,1322.2 588.5,1322.7 589.9,1323.3 591.3,1323.8 592.8,1324.3 594.2,1324.8 595.6,1325.3 597.1,1325.8 598.5,1326.3 599.9,1326.8 601.4,1327.3 602.8,1327.7 604.3,1328.2 605.7,1328.7 607.2,1329.1 608.6,1329.5 610.1,1330.0 611.5,1330.4 613.0,1330.8 614.4,1331.2 615.9,1331.7 617.4,1332.1 618.8,1332.4 620.3,1332.8 621.8,1333.2 623.2,1333.6 624.7,1334.0 626.2,1334.3 627.7,1334.7 629.1,1335.0 630.6,1335.4 632.1,1335.7 633.6,1336.0 635.1,1336.3 636.5,1336.7 638.0,1337.0 639.5,1337.3 641.0,1337.6 642.5,1337.9 644.0,1338.2 645.4,1338.4 646.9,1338.7 648.4,1339.0 649.9,1339.2 651.4,1339.5 652.9,1339.7 654.4,1340.0 655.9,1340.2 657.4,1340.5 658.9,1340.7 660.3,1340.9 661.8,1341.1 663.3,1341.3 664.8,1341.5 666.3,1341.7 667.8,1341.9 669.3,1342.1 670.8,1342.3 672.3,1342.5 673.8,1342.6" fill="none" stroke="#8da3d9" stroke-width="1.6"/>
<path d="M406.5,1374.3 407.9,1373.6 409.2,1372.8 410.4,1371.8 411.5,1370.8 412.4,1369.7 413.3,1368.5 414.1,1367.2 414.9,1365.9 415.5,1364.5 416.1,1363.0 416.7,1361.5 417.2,1360.0 417.6,1358.4 418.1,1356.8 418.5,1355.2 418.8,1353.6 419.2,1352.0 419.5,1350.3 419.9,1348.7 420.2,1347.1 420.5,1345.6 420.9,1344.0 421.2,1342.4 421.5,1340.8 421.8,1339.2 422.1,1337.7 422.4,1336.1 422.7,1334.6 423.0,1333.0 423.3,1331.5 423.6,1330.0 423.9,1328.4 424.1,1326.9 424.4,1325.4 424.7,1323.9 425.0,1322.4 425.3,1320.9 425.5,1319.3 425.8,1317.8 426.1,1316.3 426.4,1314.8 426.7,1313.3 427.0,1311.8 427.2,1310.3 427.5,1308.9 427.8,1307.4 428.1,1305.9 428.4,1304.4 428.7,1302.9 428.9,1301.4 429.2,1299.9 429.5,1298.4 429.8,1296.9 430.1,1295.4 430.4,1293.9 430.7,1292.4 431.0,1290.9 431.3,1289.4 431.7,1287.9 432.0,1286.4 432.4,1284.9 432.7,1283.3 433.1,1281.8 433.4,1280.3 433.8,1278.8 434.2,1277.2 434.6,1275.7 435.0,1274.2 435.4,1272.6 435.8,1271.1 436.3,1269.5 436.7,1267.9 437.2,1266.4 437.6,1264.8 438.1,1263.2 438.6,1261.6 439.1,1260.0 439.6,1258.4 440.1,1256.8 440.7,1255.2 441.3,1253.6 441.8,1251.9 442.4,1250.4 443.1,1248.8 443.7,1247.3 444.4,1245.8 445.1,1244.3 445.9,1243.0 446.7,1241.6 447.5,1240.4 448.4,1239.2 449.3,1238.1 450.2,1237.2 451.2,1236.3 452.3,1235.5 453.4,1234.9 454.6,1234.3 455.8,1233.9 457.1,1233.7 458.4,1233.6 459.8,1233.6 461.1,1233.8 462.5,1234.1 463.9,1234.5 465.3,1235.0 466.6,1235.7 468.0,1236.4 469.4,1237.2 470.8,1238.1 472.1,1239.0 473.4,1240.0 474.7,1241.0 476.0,1242.0 477.3,1243.1 478.5,1244.1 479.6,1245.2 480.8,1246.3 481.9,1247.4 483.0,1248.5 484.1,1249.6 485.2,1250.7 486.2,1251.8 487.3,1252.9 488.3,1254.0 489.4,1255.2 490.4,1256.3 491.5,1257.4 492.5,1258.5 493.5,1259.6 494.6,1260.7 495.7,1261.8 496.7,1262.9 497.8,1263.9 498.9,1265.0 500.0,1266.1 501.1,1267.2 502.2,1268.2 503.3,1269.3 504.5,1270.3 505.6,1271.4 506.7,1272.4 507.9,1273.4 509.0,1274.4 510.2,1275.5 511.3,1276.5 512.5,1277.5 513.7,1278.5 514.8,1279.5 516.0,1280.4 517.2,1281.4 518.4,1282.4 519.6,1283.3 520.8,1284.3 522.0,1285.2 523.2,1286.2 524.4,1287.1 525.7,1288.0 526.9,1289.0 528.1,1289.9 529.4,1290.8 530.6,1291.7 531.9,1292.5 533.1,1293.4 534.4,1294.3 535.7,1295.1 536.9,1296.0 538.2,1296.8 539.5,1297.7 540.8,1298.5 542.1,1299.3 543.4,1300.1 544.7,1300.9 546.0,1301.7 547.3,1302.5 548.6,1303.3 549.9,1304.0 551.2,1304.8 552.5,1305.5 553.9,1306.3 555.2,1307.0 556.5,1307.7 557.9,1308.5 559.2,1309.2 560.6,1309.9 561.9,1310.6 563.3,1311.2 564.6,1311.9 566.0,1312.6 567.4,1313.3 568.7,1313.9 570.1,1314.6 571.5,1315.2 572.9,1315.8 574.2,1316.5 575.6,1317.1 577.0,1317.7 578.4,1318.3 579.8,1318.9 581.2,1319.5 582.6,1320.0 584.0,1320.6 585.4,1321.2 586.8,1321.7 588.2,1322.3 589.6,1322.8 591.1,1323.3 592.5,1323.9 593.9,1324.4 595.3,1324.9 596.8,1325.4 598.2,1325.9 599.6,1326.4 601.1,1326.9 602.5,1327.4 603.9,1327.8 605.4,1328.3 606.8,1328.7 608.3,1329.2 609.7,1329.6 611.2,1330.1 612.6,1330.5 614.1,1330.9 615.5,1331.3 617.0,1331.8 618.4,1332.2 619.9,1332.6 621.4,1332.9 622.8,1333.3 624.3,1333.7 625.8,1334.1 627.2,1334.4 628.7,1334.8 630.2,1335.1 631.7,1335.5 633.1,1335.8 634.6,1336.2 636.1,1336.5 637.6,1336.8 639.1,1337.1 640.5,1337.4 642.0,1337.7 643.5,1338.0 645.0,1338.3 646.5,1338.6 648.0,1338.9 649.4,1339.1 650.9,1339.4 652.4,1339.7 653.9,1339.9 655.4,1340.2 656.9,1340.4 658.4,1340.7 659.9,1340.9 661.4,1341.1 662.9,1341.3 664.3,1341.5 665.8,1341.8 667.3,1342.0 668.8,1342.2 670.3,1342.3 671.8,1342.5 673.3,1342.7 674.8,1342.9" fill="none" stroke="#8da3d9" stroke-width="1.6"/>
<path d="M406.6,1374.3 408.1,1373.6 409.5,1372.8 410.8,1371.8 412.0,1370.8 413.0,1369.7 414.0,1368.6 414.9,1367.3 415.7,1366.0 416.4,1364.6 417.1,1363.1 417.7,1361.6 418.2,1360.1 418.7,1358.6 419.2,1357.0 419.6,1355.4 420.0,1353.8 420.4,1352.2 420.8,1350.6 421.1,1349.0 421.5,1347.4 421.9,1345.8 422.2,1344.3 422.6,1342.7 422.9,1341.1 423.2,1339.6 423.6,1338.0 423.9,1336.5 424.2,1335.0 424.5,1333.4 424.9,1331.9 425.2,1330.4 425.5,1328.9 425.8,1327.4 426.1,1325.9 426.4,1324.4 426.7,1322.9 427.0,1321.4 427.3,1319.9 427.6,1318.4 427.9,1316.9 428.2,1315.4 428.6,1313.9 428.9,1312.4 429.2,1311.0 429.5,1309.5 429.8,1308.0 430.1,1306.5 430.4,1305.0 430.7,1303.6 430.9,1302.1 431.2,1300.6 431.5,1299.1 431.8,1297.6 432.1,1296.2 432.4,1294.7 432.7,1293.2 433.0,1291.7 433.3,1290.2 433.7,1288.7 434.0,1287.2 434.4,1285.7 434.7,1284.2 435.1,1282.7 435.4,1281.2 435.8,1279.7 436.2,1278.2 436.6,1276.6 437.0,1275.1 437.4,1273.6 437.8,1272.0 438.3,1270.5 438.7,1268.9 439.2,1267.4 439.6,1265.8 440.1,1264.3 440.6,1262.7 441.1,1261.1 441.6,1259.5 442.1,1257.9 442.7,1256.3 443.3,1254.7 443.8,1253.1 444.4,1251.5 445.1,1250.0 445.7,1248.5 446.4,1247.0 447.1,1245.6 447.9,1244.2 448.7,1242.9 449.5,1241.7 450.4,1240.5 451.3,1239.4 452.2,1238.5 453.2,1237.6 454.3,1236.8 455.4,1236.2 456.6,1235.7 457.8,1235.3 459.1,1235.0 460.4,1234.9 461.8,1235.0 463.1,1235.1 464.5,1235.4 465.9,1235.8 467.3,1236.4 468.6,1237.0 470.0,1237.7 471.4,1238.5 472.8,1239.4 474.1,1240.3 475.4,1241.3 476.7,1242.3 478.0,1243.4 479.3,1244.4 480.5,1245.5 481.6,1246.6 482.8,1247.7 483.9,1248.8 485.0,1249.9 486.1,1251.0 487.2,1252.1 488.2,1253.2 489.3,1254.3 490.3,1255.4 491.4,1256.5 492.4,1257.7 493.5,1258.8 494.5,1259.9 495.5,1261.0 496.6,1262.1 497.7,1263.1 498.7,1264.2 499.8,1265.3 500.9,1266.4 502.0,1267.5 503.1,1268.5 504.2,1269.6 505.3,1270.6 506.5,1271.7 507.6,1272.7 508.7,1273.7 509.9,1274.8 511.0,1275.8 512.2,1276.8 513.3,1277.8 514.5,1278.8 515.7,1279.8 516.8,1280.8 518.0,1281.8 519.2,1282.7 520.4,1283.7 521.6,1284.7 522.8,1285.6 524.0,1286.5 525.2,1287.5 526.4,1288.4 527.7,1289.3 528.9,1290.2 530.1,1291.1 531.4,1292.0 532.6,1292.9 533.9,1293.8 535.1,1294.7 536.4,1295.5 537.7,1296.4 538.9,1297.2 540.2,1298.1 541.5,1298.9 542.8,1299.7 544.1,1300.5 545.4,1301.3 546.7,1302.1 548.0,1302.9 549.3,1303.7 550.6,1304.5 551.9,1305.2 553.2,1306.0 554.5,1306.7 555.9,1307.5 557.2,1308.2 558.5,1308.9 559.9,1309.6 561.2,1310.3 562.6,1311.0 563.9,1311.7 565.3,1312.4 566.6,1313.1 568.0,1313.7 569.4,1314.4 570.7,1315.0 572.1,1315.7 573.5,1316.3 574.9,1316.9 576.2,1317.6 577.6,1318.2 579.0,1318.8 580.4,1319.4 581.8,1320.0 583.2,1320.5 584.6,1321.1 586.0,1321.7 587.4,1322.2 588.8,1322.8 590.2,1323.3 591.6,1323.9 593.1,1324.4 594.5,1324.9 595.9,1325.4 597.3,1326.0 598.8,1326.5 600.2,1326.9 601.6,1327.4 603.1,1327.9 604.5,1328.4 605.9,1328.9 607.4,1329.3 608.8,1329.8 610.3,1330.2 611.7,1330.6 613.2,1331.1 614.6,1331.5 616.1,1331.9 617.5,1332.3 619.0,1332.7 620.4,1333.1 621.9,1333.5 623.4,1333.9 624.8,1334.3 626.3,1334.7 627.8,1335.0 629.2,1335.4 630.7,1335.7 632.2,1336.1 633.7,1336.4 635.1,1336.8 636.6,1337.1 638.1,1337.4 639.6,1337.7 641.1,1338.1 642.5,1338.4 644.0,1338.7 645.5,1338.9 647.0,1339.2 648.5,1339.5 650.0,1339.8 651.4,1340.1 652.9,1340.3 654.4,1340.6 655.9,1340.8 657.4,1341.1 658.9,1341.3 660.4,1341.6 661.9,1341.8 663.4,1342.0 664.9,1342.2 666.3,1342.4 667.8,1342.6 669.3,1342.9 670.8,1343.0 672.3,1343.2 673.8,1343.4 675.3,1343.6" fill="none" stroke="#8da3d9" stroke-width="1.6"/>
<path d="M406.5,1374.2 407.8,1373.6 409.1,1372.8 410.2,1371.9 411.2,1370.9 412.1,1369.9 413.0,1368.7 413.8,1367.5 414.5,1366.3 415.1,1364.9 415.7,1363.5 416.2,1362.1 416.7,1360.6 417.1,1359.1 417.5,1357.6 417.9,1356.1 418.2,1354.5 418.6,1353.0 418.9,1351.5 419.2,1349.9 419.6,1348.4 419.9,1346.9 420.2,1345.4 420.5,1343.9 420.8,1342.4 421.1,1340.9 421.4,1339.4 421.7,1337.9 421.9,1336.5 422.2,1335.0 422.5,1333.5 422.8,1332.1 423.0,1330.6 423.3,1329.2 423.6,1327.7 423.9,1326.3 424.1,1324.8 424.4,1323.4 424.7,1322.0 424.9,1320.5 425.2,1319.1 425.5,1317.7 425.7,1316.2 426.0,1314.8 426.3,1313.4 426.6,1312.0 426.8,1310.5 427.1,1309.1 427.4,1307.7 427.7,1306.3 427.9,1304.9 428.2,1303.4 428.5,1302.0 428.8,1300.6 429.1,1299.2 429.4,1297.7 429.7,1296.3 430.0,1294.9 430.3,1293.4 430.7,1292.0 431.0,1290.6 431.4,1289.1 431.7,1287.7 432.1,1286.2 432.4,1284.8 432.8,1283.3 433.2,1281.9 433.6,1280.4 434.0,1278.9 434.4,1277.5 434.8,1276.0 435.3,1274.5 435.7,1273.0 436.2,1271.5 436.6,1270.0 437.1,1268.5 437.6,1267.0 438.1,1265.5 438.6,1263.9 439.1,1262.4 439.7,1260.9 440.3,1259.3 440.8,1257.8 441.4,1256.3 442.1,1254.8 442.7,1253.3 443.4,1251.9 444.1,1250.6 444.9,1249.2 445.7,1248.0 446.5,1246.8 447.4,1245.7 448.3,1244.7 449.2,1243.7 450.2,1242.9 451.3,1242.2 452.4,1241.5 453.6,1241.0 454.8,1240.7 456.1,1240.4 457.4,1240.3 458.8,1240.3 460.1,1240.5 461.5,1240.8 462.9,1241.2 464.3,1241.7 465.6,1242.3 467.0,1243.0 468.4,1243.7 469.8,1244.6 471.1,1245.5 472.4,1246.4 473.7,1247.3 475.0,1248.3 476.3,1249.3 477.5,1250.4 478.6,1251.4 479.8,1252.4 480.9,1253.5 482.0,1254.5 483.1,1255.6 484.2,1256.6 485.2,1257.7 486.3,1258.7 487.3,1259.8 488.4,1260.9 489.4,1261.9 490.5,1263.0 491.5,1264.0 492.5,1265.1 493.6,1266.1 494.7,1267.2 495.7,1268.2 496.8,1269.2 497.9,1270.2 499.0,1271.3 500.1,1272.3 501.2,1273.3 502.3,1274.3 503.5,1275.3 504.6,1276.3 505.7,1277.3 506.9,1278.2 508.0,1279.2 509.2,1280.2 510.3,1281.1 511.5,1282.1 512.7,1283.1 513.8,1284.0 515.0,1284.9 516.2,1285.9 517.4,1286.8 518.6,1287.7 519.8,1288.6 521.0,1289.5 522.2,1290.4 523.4,1291.3 524.7,1292.2 525.9,1293.0 527.1,1293.9 528.4,1294.8 529.6,1295.6 530.9,1296.5 532.1,1297.3 533.4,1298.1 534.7,1298.9 535.9,1299.7 537.2,1300.5 538.5,1301.3 539.8,1302.1 541.1,1302.9 542.4,1303.7 543.7,1304.4 545.0,1305.2 546.3,1305.9 547.6,1306.7 548.9,1307.4 550.2,1308.1 551.5,1308.8 552.9,1309.5 554.2,1310.2 555.5,1310.9 556.9,1311.6 558.2,1312.3 559.6,1312.9 560.9,1313.6 562.3,1314.3 563.6,1314.9 565.0,1315.5 566.4,1316.2 567.7,1316.8 569.1,1317.4 570.5,1318.0 571.9,1318.6 573.2,1319.2 574.6,1319.8 576.0,1320.4 577.4,1320.9 578.8,1321.5 580.2,1322.1 581.6,1322.6 583.0,1323.2 584.4,1323.7 585.8,1324.2 587.2,1324.8 588.6,1325.3 590.1,1325.8 591.5,1326.3 592.9,1326.8 594.3,1327.3 595.8,1327.7 597.2,1328.2 598.6,1328.7 600.1,1329.1 601.5,1329.6 602.9,1330.0 604.4,1330.5 605.8,1330.9 607.3,1331.3 608.7,1331.8 610.2,1332.2 611.6,1332.6 613.1,1333.0 614.5,1333.4 616.0,1333.8 617.4,1334.2 618.9,1334.5 620.4,1334.9 621.8,1335.3 623.3,1335.6 624.8,1336.0 626.2,1336.3 627.7,1336.7 629.2,1337.0 630.7,1337.3 632.1,1337.7 633.6,1338.0 635.1,1338.3 636.6,1338.6 638.1,1338.9 639.5,1339.2 641.0,1339.5 642.5,1339.7 644.0,1340.0 645.5,1340.3 647.0,1340.6 648.4,1340.8 649.9,1341.1 651.4,1341.3 652.9,1341.6 654.4,1341.8 655.9,1342.0 657.4,1342.3 658.9,1342.5 660.4,1342.7 661.9,1342.9 663.3,1343.1 664.8,1343.3 666.3,1343.5 667.8,1343.7 669.3,1343.9 670.8,1344.0 672.3,1344.2 673.8,1344.4 675.3,1344.5" fill="none" stroke="#8da3d9" stroke-width="1.6"/>
<path d="M406.5,1374.2 408.0,1373.6 409.4,1372.8 410.6,1372.0 411.7,1371.0 412.7,1370.0 413.7,1368.8 414.5,1367.7 415.3,1366.4 416.0,1365.1 416.6,1363.7 417.2,1362.3 417.7,1360.9 418.2,1359.4 418.6,1357.9 419.0,1356.4 419.4,1354.9 419.8,1353.4 420.1,1351.9 420.5,1350.4 420.9,1348.9 421.2,1347.4 421.5,1346.0 421.9,1344.5 422.2,1343.0 422.5,1341.6 422.8,1340.1 423.2,1338.7 423.5,1337.2 423.8,1335.8 424.1,1334.3 424.4,1332.9 424.7,1331.5 425.0,1330.1 425.3,1328.6 425.6,1327.2 425.8,1325.8 426.1,1324.4 426.4,1323.0 426.7,1321.6 427.0,1320.2 427.3,1318.8 427.6,1317.4 427.9,1316.0 428.2,1314.6 428.5,1313.2 428.8,1311.8 429.1,1310.4 429.4,1309.0 429.7,1307.6 429.9,1306.2 430.2,1304.8 430.5,1303.5 430.8,1302.1 431.1,1300.7 431.4,1299.3 431.7,1297.9 432.0,1296.5 432.3,1295.1 432.7,1293.7 433.0,1292.2 433.4,1290.8 433.7,1289.4 434.1,1288.0 434.4,1286.6 434.8,1285.2 435.2,1283.7 435.6,1282.3 436.0,1280.9 436.4,1279.4 436.8,1278.0 437.3,1276.5 437.7,1275.0 438.2,1273.6 438.6,1272.1 439.1,1270.6 439.6,1269.1 440.1,1267.7 440.6,1266.2 441.1,1264.7 441.7,1263.1 442.3,1261.6 442.8,1260.1 443.4,1258.7 444.1,1257.2 444.7,1255.8 445.4,1254.4 446.1,1253.0 446.9,1251.8 447.7,1250.5 448.5,1249.4 449.4,1248.3 450.3,1247.3 451.2,1246.3 452.2,1245.5 453.3,1244.8 454.4,1244.2 455.6,1243.7 456.8,1243.3 458.1,1243.1 459.4,1243.0 460.8,1243.0 462.1,1243.2 463.5,1243.5 464.9,1243.9 466.3,1244.4 467.6,1244.9 469.0,1245.6 470.4,1246.4 471.8,1247.2 473.1,1248.0 474.4,1249.0 475.7,1249.9 477.0,1250.9 478.3,1251.9 479.5,1252.8 480.6,1253.9 481.8,1254.9 482.9,1255.9 484.0,1256.9 485.1,1257.9 486.2,1259.0 487.2,1260.0 488.3,1261.1 489.3,1262.1 490.4,1263.1 491.4,1264.2 492.5,1265.2 493.5,1266.2 494.5,1267.3 495.6,1268.3 496.7,1269.3 497.7,1270.3 498.8,1271.3 499.9,1272.3 501.0,1273.3 502.1,1274.3 503.2,1275.3 504.3,1276.3 505.5,1277.3 506.6,1278.3 507.7,1279.2 508.9,1280.2 510.0,1281.1 511.2,1282.1 512.3,1283.0 513.5,1284.0 514.7,1284.9 515.8,1285.8 517.0,1286.7 518.2,1287.6 519.4,1288.5 520.6,1289.4 521.8,1290.3 523.0,1291.2 524.2,1292.1 525.4,1293.0 526.7,1293.8 527.9,1294.7 529.1,1295.5 530.4,1296.4 531.6,1297.2 532.9,1298.0 534.1,1298.8 535.4,1299.6 536.7,1300.4 537.9,1301.2 539.2,1302.0 540.5,1302.8 541.8,1303.6 543.1,1304.3 544.4,1305.1 545.7,1305.8 547.0,1306.6 548.3,1307.3 549.6,1308.0 550.9,1308.7 552.2,1309.4 553.5,1310.1 554.9,1310.8 556.2,1311.5 557.5,1312.2 558.9,1312.9 560.2,1313.5 561.6,1314.2 562.9,1314.8 564.3,1315.5 565.6,1316.1 567.0,1316.7 568.4,1317.3 569.7,1317.9 571.1,1318.6 572.5,1319.1 573.9,1319.7 575.2,1320.3 576.6,1320.9 578.0,1321.5 579.4,1322.0 580.8,1322.6 582.2,1323.1 583.6,1323.7 585.0,1324.2 586.4,1324.7 587.8,1325.2 589.2,1325.7 590.6,1326.2 592.1,1326.7 593.5,1327.2 594.9,1327.7 596.3,1328.2 597.8,1328.7 599.2,1329.1 600.6,1329.6 602.1,1330.0 603.5,1330.5 604.9,1330.9 606.4,1331.4 607.8,1331.8 609.3,1332.2 610.7,1332.6 612.2,1333.0 613.6,1333.4 615.1,1333.8 616.5,1334.2 618.0,1334.6 619.4,1335.0 620.9,1335.3 622.4,1335.7 623.8,1336.1 625.3,1336.4 626.8,1336.8 628.2,1337.1 629.7,1337.4 631.2,1337.8 632.7,1338.1 634.1,1338.4 635.6,1338.7 637.1,1339.0 638.6,1339.3 640.1,1339.6 641.5,1339.9 643.0,1340.2 644.5,1340.4 646.0,1340.7 647.5,1341.0 649.0,1341.2 650.4,1341.5 651.9,1341.7 653.4,1342.0 654.9,1342.2 656.4,1342.4 657.9,1342.7 659.4,1342.9 660.9,1343.1 662.4,1343.3 663.9,1343.5 665.3,1343.7 666.8,1343.9 668.3,1344.1 669.8,1344.3 671.3,1344.5 672.8,1344.6 674.3,1344.8 675.8,1345.0" fill="none" stroke="#8da3d9" stroke-width="1.6"/>
<path d="M406.5,1374.2 407.7,1373.6 408.9,1372.8 410.0,1372.0 411.0,1371.1 411.9,1370.0 412.7,1368.9 413.4,1367.8 414.1,1366.6 414.7,1365.3 415.2,1363.9 415.7,1362.6 416.2,1361.2 416.6,1359.7 417.0,1358.3 417.3,1356.8 417.7,1355.3 418.0,1353.8 418.3,1352.4 418.6,1350.9 418.9,1349.4 419.2,1348.0 419.5,1346.5 419.8,1345.1 420.1,1343.7 420.4,1342.2 420.6,1340.8 420.9,1339.4 421.2,1338.0 421.5,1336.6 421.7,1335.1 422.0,1333.7 422.2,1332.4 422.5,1331.0 422.7,1329.6 423.0,1328.2 423.3,1326.8 423.5,1325.4 423.8,1324.0 424.0,1322.7 424.3,1321.3 424.5,1319.9 424.8,1318.6 425.1,1317.2 425.3,1315.8 425.6,1314.5 425.8,1313.1 426.1,1311.7 426.4,1310.4 426.7,1309.0 426.9,1307.6 427.2,1306.3 427.5,1304.9 427.8,1303.5 428.1,1302.2 428.4,1300.8 428.7,1299.4 429.0,1298.1 429.3,1296.7 429.7,1295.3 430.0,1293.9 430.4,1292.5 430.7,1291.2 431.1,1289.8 431.4,1288.4 431.8,1287.0 432.2,1285.6 432.6,1284.2 433.0,1282.8 433.4,1281.3 433.8,1279.9 434.3,1278.5 434.7,1277.1 435.2,1275.6 435.6,1274.2 436.1,1272.8 436.6,1271.3 437.1,1269.8 437.6,1268.4 438.1,1266.9 438.7,1265.4 439.3,1263.9 439.8,1262.5 440.4,1261.0 441.1,1259.6 441.7,1258.2 442.4,1256.8 443.1,1255.5 443.9,1254.3 444.7,1253.1 445.5,1251.9 446.4,1250.9 447.3,1249.9 448.2,1249.0 449.2,1248.2 450.3,1247.5 451.4,1246.9 452.6,1246.4 453.8,1246.0 455.1,1245.8 456.4,1245.7 457.8,1245.7 459.1,1245.9 460.5,1246.2 461.9,1246.5 463.3,1247.0 464.6,1247.6 466.0,1248.3 467.4,1249.0 468.8,1249.8 470.1,1250.6 471.4,1251.5 472.7,1252.4 474.0,1253.3 475.3,1254.3 476.5,1255.3 477.6,1256.2 478.8,1257.2 479.9,1258.2 481.0,1259.2 482.1,1260.2 483.2,1261.2 484.2,1262.3 485.3,1263.3 486.3,1264.3 487.4,1265.3 488.4,1266.3 489.5,1267.3 490.5,1268.3 491.5,1269.3 492.6,1270.3 493.7,1271.3 494.7,1272.3 495.8,1273.3 496.9,1274.3 498.0,1275.2 499.1,1276.2 500.2,1277.2 501.3,1278.1 502.5,1279.1 503.6,1280.0 504.7,1281.0 505.9,1281.9 507.0,1282.8 508.2,1283.8 509.3,1284.7 510.5,1285.6 511.7,1286.5 512.8,1287.4 514.0,1288.3 515.2,1289.2 516.4,1290.1 517.6,1291.0 518.8,1291.8 520.0,1292.7 521.2,1293.5 522.4,1294.4 523.7,1295.2 524.9,1296.1 526.1,1296.9 527.4,1297.7 528.6,1298.5 529.9,1299.3 531.1,1300.1 532.4,1300.9 533.7,1301.7 534.9,1302.5 536.2,1303.3 537.5,1304.0 538.8,1304.8 540.1,1305.5 541.4,1306.2 542.7,1307.0 544.0,1307.7 545.3,1308.4 546.6,1309.1 547.9,1309.8 549.2,1310.5 550.5,1311.2 551.9,1311.9 553.2,1312.5 554.5,1313.2 555.9,1313.8 557.2,1314.5 558.6,1315.1 559.9,1315.8 561.3,1316.4 562.6,1317.0 564.0,1317.6 565.4,1318.2 566.7,1318.8 568.1,1319.4 569.5,1320.0 570.9,1320.6 572.2,1321.1 573.6,1321.7 575.0,1322.3 576.4,1322.8 577.8,1323.3 579.2,1323.9 580.6,1324.4 582.0,1324.9 583.4,1325.4 584.8,1325.9 586.2,1326.5 587.6,1326.9 589.1,1327.4 590.5,1327.9 591.9,1328.4 593.3,1328.9 594.8,1329.3 596.2,1329.8 597.6,1330.2 599.1,1330.7 600.5,1331.1 601.9,1331.5 603.4,1332.0 604.8,1332.4 606.3,1332.8 607.7,1333.2 609.2,1333.6 610.6,1334.0 612.1,1334.4 613.5,1334.7 615.0,1335.1 616.4,1335.5 617.9,1335.8 619.4,1336.2 620.8,1336.5 622.3,1336.9 623.8,1337.2 625.2,1337.6 626.7,1337.9 628.2,1338.2 629.7,1338.5 631.1,1338.8 632.6,1339.1 634.1,1339.4 635.6,1339.7 637.1,1340.0 638.5,1340.3 640.0,1340.6 641.5,1340.8 643.0,1341.1 644.5,1341.4 646.0,1341.6 647.4,1341.9 648.9,1342.1 650.4,1342.3 651.9,1342.6 653.4,1342.8 654.9,1343.0 656.4,1343.2 657.9,1343.4 659.4,1343.7 660.9,1343.9 662.3,1344.1 663.8,1344.2 665.3,1344.4 666.8,1344.6 668.3,1344.8 669.8,1345.0 671.3,1345.1 672.8,1345.3 674.3,1345.4 675.8,1345.6" fill="none" stroke="#8da3d9" stroke-width="1.6"/>
<path d="M406.5,1374.2 407.7,1373.6 408.9,1372.9 410.0,1372.1 411.0,1371.2 411.9,1370.3 412.7,1369.3 413.4,1368.2 414.1,1367.0 414.7,1365.8 415.2,1364.6 415.7,1363.3 416.2,1362.0 416.6,1360.7 417.0,1359.3 417.3,1357.9 417.7,1356.6 418.0,1355.2 418.3,1353.8 418.6,1352.4 418.9,1351.1 419.2,1349.7 419.5,1348.4 419.8,1347.0 420.1,1345.7 420.4,1344.4 420.6,1343.0 420.9,1341.7 421.2,1340.4 421.5,1339.1 421.7,1337.8 422.0,1336.5 422.2,1335.2 422.5,1333.9 422.7,1332.6 423.0,1331.3 423.3,1330.0 423.5,1328.7 423.8,1327.4 424.0,1326.2 424.3,1324.9 424.5,1323.6 424.8,1322.3 425.1,1321.0 425.3,1319.8 425.6,1318.5 425.8,1317.2 426.1,1316.0 426.4,1314.7 426.7,1313.4 426.9,1312.1 427.2,1310.9 427.5,1309.6 427.8,1308.3 428.1,1307.1 428.4,1305.8 428.7,1304.5 429.0,1303.2 429.3,1301.9 429.7,1300.7 430.0,1299.4 430.4,1298.1 430.7,1296.8 431.1,1295.5 431.4,1294.2 431.8,1292.9 432.2,1291.6 432.6,1290.3 433.0,1289.0 433.4,1287.7 433.8,1286.3 434.3,1285.0 434.7,1283.7 435.2,1282.3 435.6,1281.0 436.1,1279.7 436.6,1278.3 437.1,1276.9 437.6,1275.6 438.1,1274.2 438.7,1272.8 439.3,1271.4 439.8,1270.1 440.4,1268.7 441.1,1267.4 441.7,1266.1 442.4,1264.8 443.1,1263.6 443.9,1262.4 444.7,1261.3 445.5,1260.2 446.4,1259.3 447.3,1258.3 448.2,1257.5 449.2,1256.7 450.3,1256.1 451.4,1255.5 452.6,1255.1 453.8,1254.8 455.1,1254.5 456.4,1254.5 457.8,1254.5 459.1,1254.6 460.5,1254.9 461.9,1255.2 463.3,1255.7 464.6,1256.2 466.0,1256.8 467.4,1257.4 468.8,1258.1 470.1,1258.8 471.4,1259.6 472.7,1260.4 474.0,1261.3 475.3,1262.1 476.5,1263.0 477.6,1263.9 478.8,1264.8 479.9,1265.6 481.0,1266.5 482.1,1267.5 483.2,1268.4 484.2,1269.3 485.3,1270.2 486.3,1271.1 487.4,1272.0 488.4,1273.0 489.5,1273.9 490.5,1274.8 491.5,1275.7 492.6,1276.6 493.7,1277.5 494.7,1278.4 495.8,1279.3 496.9,1280.2 498.0,1281.1 499.1,1282.0 500.2,1282.8 501.3,1283.7 502.5,1284.6 503.6,1285.4 504.7,1286.3 505.9,1287.2 507.0,1288.0 508.2,1288.9 509.3,1289.7 510.5,1290.5 511.7,1291.4 512.8,1292.2 514.0,1293.0 515.2,1293.8 516.4,1294.6 517.6,1295.4 518.8,1296.2 520.0,1297.0 521.2,1297.8 522.4,1298.6 523.7,1299.3 524.9,1300.1 526.1,1300.9 527.4,1301.6 528.6,1302.4 529.9,1303.1 531.1,1303.8 532.4,1304.5 533.7,1305.3 534.9,1306.0 536.2,1306.7 537.5,1307.4 538.8,1308.1 540.1,1308.8 541.4,1309.4 542.7,1310.1 544.0,1310.8 545.3,1311.4 546.6,1312.1 547.9,1312.7 549.2,1313.4 550.5,1314.0 551.9,1314.6 553.2,1315.2 554.5,1315.8 555.9,1316.4 557.2,1317.0 558.6,1317.6 559.9,1318.2 561.3,1318.8 562.6,1319.4 564.0,1319.9 565.4,1320.5 566.7,1321.0 568.1,1321.6 569.5,1322.1 570.9,1322.7 572.2,1323.2 573.6,1323.7 575.0,1324.2 576.4,1324.7 577.8,1325.2 579.2,1325.7 580.6,1326.2 582.0,1326.7 583.4,1327.2 584.8,1327.6 586.2,1328.1 587.6,1328.6 589.1,1329.0 590.5,1329.5 591.9,1329.9 593.3,1330.3 594.8,1330.8 596.2,1331.2 597.6,1331.6 599.1,1332.0 600.5,1332.4 601.9,1332.8 603.4,1333.2 604.8,1333.6 606.3,1334.0 607.7,1334.4 609.2,1334.7 610.6,1335.1 612.1,1335.5 613.5,1335.8 615.0,1336.2 616.4,1336.5 617.9,1336.8 619.4,1337.2 620.8,1337.5 622.3,1337.8 623.8,1338.1 625.2,1338.4 626.7,1338.7 628.2,1339.0 629.7,1339.3 631.1,1339.6 632.6,1339.9 634.1,1340.2 635.6,1340.5 637.1,1340.7 638.5,1341.0 640.0,1341.2 641.5,1341.5 643.0,1341.7 644.5,1342.0 646.0,1342.2 647.4,1342.4 648.9,1342.7 650.4,1342.9 651.9,1343.1 653.4,1343.3 654.9,1343.5 656.4,1343.7 657.9,1343.9 659.4,1344.1 660.9,1344.3 662.3,1344.5 663.8,1344.6 665.3,1344.8 666.8,1345.0 668.3,1345.1 669.8,1345.3 671.3,1345.4 672.8,1345.6 674.3,1345.7 675.8,1345.9" fill="none" stroke="#8da3d9" stroke-width="1.6"/>
<path d="M406.5,1374.2 407.7,1373.6 408.9,1372.8 410.0,1371.9 411.0,1370.9 411.9,1369.9 412.7,1368.7 413.4,1367.5 414.1,1366.2 414.7,1364.8 415.2,1363.4 415.7,1362.0 416.2,1360.5 416.6,1359.0 417.0,1357.5 417.3,1355.9 417.7,1354.4 418.0,1352.8 418.3,1351.2 418.6,1349.7 418.9,1348.2 419.2,1346.6 419.5,1345.1 419.8,1343.6 420.1,1342.1 420.4,1340.6 420.6,1339.1 420.9,1337.6 421.2,1336.1 421.5,1334.6 421.7,1333.1 422.0,1331.7 422.2,1330.2 422.5,1328.7 422.7,1327.3 423.0,1325.8 423.3,1324.3 423.5,1322.9 423.8,1321.4 424.0,1320.0 424.3,1318.5 424.5,1317.1 424.8,1315.7 425.1,1314.2 425.3,1312.8 425.6,1311.3 425.8,1309.9 426.1,1308.5 426.4,1307.0 426.7,1305.6 426.9,1304.2 427.2,1302.7 427.5,1301.3 427.8,1299.8 428.1,1298.4 428.4,1297.0 428.7,1295.5 429.0,1294.1 429.3,1292.6 429.7,1291.2 430.0,1289.7 430.4,1288.3 430.7,1286.8 431.1,1285.4 431.4,1283.9 431.8,1282.4 432.2,1280.9 432.6,1279.5 433.0,1278.0 433.4,1276.5 433.8,1275.0 434.3,1273.5 434.7,1272.0 435.2,1270.5 435.6,1269.0 436.1,1267.4 436.6,1265.9 437.1,1264.4 437.6,1262.8 438.1,1261.3 438.7,1259.7 439.3,1258.2 439.8,1256.6 440.4,1255.1 441.1,1253.6 441.7,1252.1 442.4,1250.7 443.1,1249.3 443.9,1248.0 444.7,1246.7 445.5,1245.5 446.4,1244.4 447.3,1243.4 448.2,1242.4 449.2,1241.6 450.3,1240.8 451.4,1240.2 452.6,1239.7 453.8,1239.3 455.1,1239.1 456.4,1239.0 457.8,1239.0 459.1,1239.2 460.5,1239.5 461.9,1239.9 463.3,1240.4 464.6,1241.0 466.0,1241.7 467.4,1242.4 468.8,1243.2 470.1,1244.1 471.4,1245.1 472.7,1246.0 474.0,1247.0 475.3,1248.0 476.5,1249.0 477.6,1250.1 478.8,1251.1 479.9,1252.2 481.0,1253.2 482.1,1254.3 483.2,1255.3 484.2,1256.4 485.3,1257.5 486.3,1258.5 487.4,1259.6 488.4,1260.7 489.5,1261.7 490.5,1262.8 491.5,1263.8 492.6,1264.9 493.7,1265.9 494.7,1267.0 495.8,1268.0 496.9,1269.0 498.0,1270.1 499.1,1271.1 500.2,1272.1 501.3,1273.1 502.5,1274.1 503.6,1275.1 504.7,1276.1 505.9,1277.1 507.0,1278.1 508.2,1279.0 509.3,1280.0 510.5,1281.0 511.7,1281.9 512.8,1282.9 514.0,1283.8 515.2,1284.8 516.4,1285.7 517.6,1286.6 518.8,1287.5 520.0,1288.4 521.2,1289.3 522.4,1290.2 523.7,1291.1 524.9,1292.0 526.1,1292.9 527.4,1293.7 528.6,1294.6 529.9,1295.4 531.1,1296.3 532.4,1297.1 533.7,1297.9 534.9,1298.7 536.2,1299.5 537.5,1300.3 538.8,1301.1 540.1,1301.9 541.4,1302.7 542.7,1303.5 544.0,1304.2 545.3,1305.0 546.6,1305.7 547.9,1306.5 549.2,1307.2 550.5,1307.9 551.9,1308.6 553.2,1309.3 554.5,1310.0 555.9,1310.7 557.2,1311.4 558.6,1312.1 559.9,1312.7 561.3,1313.4 562.6,1314.0 564.0,1314.7 565.4,1315.3 566.7,1315.9 568.1,1316.6 569.5,1317.2 570.9,1317.8 572.2,1318.4 573.6,1319.0 575.0,1319.6 576.4,1320.1 577.8,1320.7 579.2,1321.3 580.6,1321.8 582.0,1322.4 583.4,1322.9 584.8,1323.4 586.2,1324.0 587.6,1324.5 589.1,1325.0 590.5,1325.5 591.9,1326.0 593.3,1326.5 594.8,1327.0 596.2,1327.5 597.6,1327.9 599.1,1328.4 600.5,1328.9 601.9,1329.3 603.4,1329.8 604.8,1330.2 606.3,1330.6 607.7,1331.1 609.2,1331.5 610.6,1331.9 612.1,1332.3 613.5,1332.7 615.0,1333.1 616.4,1333.5 617.9,1333.9 619.4,1334.2 620.8,1334.6 622.3,1335.0 623.8,1335.3 625.2,1335.7 626.7,1336.0 628.2,1336.3 629.7,1336.7 631.1,1337.0 632.6,1337.3 634.1,1337.6 635.6,1337.9 637.1,1338.2 638.5,1338.5 640.0,1338.8 641.5,1339.1 643.0,1339.4 644.5,1339.7 646.0,1339.9 647.4,1340.2 648.9,1340.4 650.4,1340.7 651.9,1340.9 653.4,1341.2 654.9,1341.4 656.4,1341.6 657.9,1341.9 659.4,1342.1 660.9,1342.3 662.3,1342.5 663.8,1342.7 665.3,1342.9 666.8,1343.1 668.3,1343.3 669.8,1343.4 671.3,1343.6 672.8,1343.8 674.3,1344.0 675.8,1344.1" fill="none" stroke="#1f3566" stroke-width="3"/>
<line x1="187.70" y1="1010.90" x2="187.70" y2="1126.45" stroke="#232323" stroke-width="1.3"/>
<line x1="187.05" y1="1125.80" x2="302.60" y2="1125.80" stroke="#232323" stroke-width="1.3"/>
<line x1="186.50" y1="1117.15" x2="187.70" y2="1117.15" stroke="#232323" stroke-width="0.8"/>
<line x1="186.50" y1="1112.09" x2="187.70" y2="1112.09" stroke="#232323" stroke-width="0.8"/>
<line x1="186.50" y1="1108.51" x2="187.70" y2="1108.51" stroke="#232323" stroke-width="0.8"/>
<line x1="186.50" y1="1105.72" x2="187.70" y2="1105.72" stroke="#232323" stroke-width="0.8"/>
<line x1="186.50" y1="1103.45" x2="187.70" y2="1103.45" stroke="#232323" stroke-width="0.8"/>
<line x1="186.50" y1="1101.52" x2="187.70" y2="1101.52" stroke="#232323" stroke-width="0.8"/>
<line x1="186.50" y1="1099.86" x2="187.70" y2="1099.86" stroke="#232323" stroke-width="0.8"/>
<line x1="186.50" y1="1098.39" x2="187.70" y2="1098.39" stroke="#232323" stroke-width="0.8"/>
<line x1="186.50" y1="1088.43" x2="187.70" y2="1088.43" stroke="#232323" stroke-width="0.8"/>
<line x1="186.50" y1="1083.37" x2="187.70" y2="1083.37" stroke="#232323" stroke-width="0.8"/>
<line x1="186.50" y1="1079.78" x2="187.70" y2="1079.78" stroke="#232323" stroke-width="0.8"/>
<line x1="186.50" y1="1077.00" x2="187.70" y2="1077.00" stroke="#232323" stroke-width="0.8"/>
<line x1="186.50" y1="1074.72" x2="187.70" y2="1074.72" stroke="#232323" stroke-width="0.8"/>
<line x1="186.50" y1="1072.80" x2="187.70" y2="1072.80" stroke="#232323" stroke-width="0.8"/>
<line x1="186.50" y1="1071.13" x2="187.70" y2="1071.13" stroke="#232323" stroke-width="0.8"/>
<line x1="186.50" y1="1069.66" x2="187.70" y2="1069.66" stroke="#232323" stroke-width="0.8"/>
<line x1="186.50" y1="1059.70" x2="187.70" y2="1059.70" stroke="#232323" stroke-width="0.8"/>
<line x1="186.50" y1="1054.64" x2="187.70" y2="1054.64" stroke="#232323" stroke-width="0.8"/>
<line x1="186.50" y1="1051.06" x2="187.70" y2="1051.06" stroke="#232323" stroke-width="0.8"/>
<line x1="186.50" y1="1048.27" x2="187.70" y2="1048.27" stroke="#232323" stroke-width="0.8"/>
<line x1="186.50" y1="1046.00" x2="187.70" y2="1046.00" stroke="#232323" stroke-width="0.8"/>
<line x1="186.50" y1="1044.07" x2="187.70" y2="1044.07" stroke="#232323" stroke-width="0.8"/>
<line x1="186.50" y1="1042.41" x2="187.70" y2="1042.41" stroke="#232323" stroke-width="0.8"/>
<line x1="186.50" y1="1040.94" x2="187.70" y2="1040.94" stroke="#232323" stroke-width="0.8"/>
<line x1="186.50" y1="1030.98" x2="187.70" y2="1030.98" stroke="#232323" stroke-width="0.8"/>
<line x1="186.50" y1="1025.92" x2="187.70" y2="1025.92" stroke="#232323" stroke-width="0.8"/>
<line x1="186.50" y1="1022.33" x2="187.70" y2="1022.33" stroke="#232323" stroke-width="0.8"/>
<line x1="186.50" y1="1019.55" x2="187.70" y2="1019.55" stroke="#232323" stroke-width="0.8"/>
<line x1="186.50" y1="1017.27" x2="187.70" y2="1017.27" stroke="#232323" stroke-width="0.8"/>
<line x1="186.50" y1="1015.35" x2="187.70" y2="1015.35" stroke="#232323" stroke-width="0.8"/>
<line x1="186.50" y1="1013.68" x2="187.70" y2="1013.68" stroke="#232323" stroke-width="0.8"/>
<line x1="186.50" y1="1012.21" x2="187.70" y2="1012.21" stroke="#232323" stroke-width="0.8"/>
<line x1="186.20" y1="1097.08" x2="187.70" y2="1097.08" stroke="#232323" stroke-width="1.0"/>
<text x="182.30" y="1105.48" font-size="16" text-anchor="end">10<tspan font-size="11.5" dy="-8.3">0</tspan></text>
<line x1="186.20" y1="1068.35" x2="187.70" y2="1068.35" stroke="#232323" stroke-width="1.0"/>
<text x="182.30" y="1076.75" font-size="16" text-anchor="end">10<tspan font-size="11.5" dy="-8.3">1</tspan></text>
<line x1="186.20" y1="1039.62" x2="187.70" y2="1039.62" stroke="#232323" stroke-width="1.0"/>
<text x="182.30" y="1048.03" font-size="16" text-anchor="end">10<tspan font-size="11.5" dy="-8.3">2</tspan></text>
<line x1="186.20" y1="1010.90" x2="187.70" y2="1010.90" stroke="#232323" stroke-width="1.0"/>
<text x="182.30" y="1019.30" font-size="16" text-anchor="end">10<tspan font-size="11.5" dy="-8.3">3</tspan></text>
<line x1="187.70" y1="1125.80" x2="187.70" y2="1127.30" stroke="#232323" stroke-width="1.0"/>
<text x="187.70" y="1144.80" font-size="16" text-anchor="middle">0</text>
<line x1="226.00" y1="1125.80" x2="226.00" y2="1127.30" stroke="#232323" stroke-width="1.0"/>
<text x="226.00" y="1144.80" font-size="16" text-anchor="middle">4</text>
<line x1="264.30" y1="1125.80" x2="264.30" y2="1127.30" stroke="#232323" stroke-width="1.0"/>
<text x="264.30" y="1144.80" font-size="16" text-anchor="middle">8</text>
<line x1="302.60" y1="1125.80" x2="302.60" y2="1127.30" stroke="#232323" stroke-width="1.0"/>
<text x="302.60" y="1144.80" font-size="16" text-anchor="middle">12</text>
<line x1="561.90" y1="1010.50" x2="561.90" y2="1126.75" stroke="#232323" stroke-width="1.3"/>
<line x1="561.25" y1="1126.10" x2="676.80" y2="1126.10" stroke="#232323" stroke-width="1.3"/>
<line x1="560.70" y1="1117.40" x2="561.90" y2="1117.40" stroke="#232323" stroke-width="0.8"/>
<line x1="560.70" y1="1112.31" x2="561.90" y2="1112.31" stroke="#232323" stroke-width="0.8"/>
<line x1="560.70" y1="1108.70" x2="561.90" y2="1108.70" stroke="#232323" stroke-width="0.8"/>
<line x1="560.70" y1="1105.90" x2="561.90" y2="1105.90" stroke="#232323" stroke-width="0.8"/>
<line x1="560.70" y1="1103.61" x2="561.90" y2="1103.61" stroke="#232323" stroke-width="0.8"/>
<line x1="560.70" y1="1101.68" x2="561.90" y2="1101.68" stroke="#232323" stroke-width="0.8"/>
<line x1="560.70" y1="1100.00" x2="561.90" y2="1100.00" stroke="#232323" stroke-width="0.8"/>
<line x1="560.70" y1="1098.52" x2="561.90" y2="1098.52" stroke="#232323" stroke-width="0.8"/>
<line x1="560.70" y1="1088.50" x2="561.90" y2="1088.50" stroke="#232323" stroke-width="0.8"/>
<line x1="560.70" y1="1083.41" x2="561.90" y2="1083.41" stroke="#232323" stroke-width="0.8"/>
<line x1="560.70" y1="1079.80" x2="561.90" y2="1079.80" stroke="#232323" stroke-width="0.8"/>
<line x1="560.70" y1="1077.00" x2="561.90" y2="1077.00" stroke="#232323" stroke-width="0.8"/>
<line x1="560.70" y1="1074.71" x2="561.90" y2="1074.71" stroke="#232323" stroke-width="0.8"/>
<line x1="560.70" y1="1072.78" x2="561.90" y2="1072.78" stroke="#232323" stroke-width="0.8"/>
<line x1="560.70" y1="1071.10" x2="561.90" y2="1071.10" stroke="#232323" stroke-width="0.8"/>
<line x1="560.70" y1="1069.62" x2="561.90" y2="1069.62" stroke="#232323" stroke-width="0.8"/>
<line x1="560.70" y1="1059.60" x2="561.90" y2="1059.60" stroke="#232323" stroke-width="0.8"/>
<line x1="560.70" y1="1054.51" x2="561.90" y2="1054.51" stroke="#232323" stroke-width="0.8"/>
<line x1="560.70" y1="1050.90" x2="561.90" y2="1050.90" stroke="#232323" stroke-width="0.8"/>
<line x1="560.70" y1="1048.10" x2="561.90" y2="1048.10" stroke="#232323" stroke-width="0.8"/>
<line x1="560.70" y1="1045.81" x2="561.90" y2="1045.81" stroke="#232323" stroke-width="0.8"/>
<line x1="560.70" y1="1043.88" x2="561.90" y2="1043.88" stroke="#232323" stroke-width="0.8"/>
<line x1="560.70" y1="1042.20" x2="561.90" y2="1042.20" stroke="#232323" stroke-width="0.8"/>
<line x1="560.70" y1="1040.72" x2="561.90" y2="1040.72" stroke="#232323" stroke-width="0.8"/>
<line x1="560.70" y1="1030.70" x2="561.90" y2="1030.70" stroke="#232323" stroke-width="0.8"/>
<line x1="560.70" y1="1025.61" x2="561.90" y2="1025.61" stroke="#232323" stroke-width="0.8"/>
<line x1="560.70" y1="1022.00" x2="561.90" y2="1022.00" stroke="#232323" stroke-width="0.8"/>
<line x1="560.70" y1="1019.20" x2="561.90" y2="1019.20" stroke="#232323" stroke-width="0.8"/>
<line x1="560.70" y1="1016.91" x2="561.90" y2="1016.91" stroke="#232323" stroke-width="0.8"/>
<line x1="560.70" y1="1014.98" x2="561.90" y2="1014.98" stroke="#232323" stroke-width="0.8"/>
<line x1="560.70" y1="1013.30" x2="561.90" y2="1013.30" stroke="#232323" stroke-width="0.8"/>
<line x1="560.70" y1="1011.82" x2="561.90" y2="1011.82" stroke="#232323" stroke-width="0.8"/>
<line x1="560.40" y1="1097.20" x2="561.90" y2="1097.20" stroke="#232323" stroke-width="1.0"/>
<text x="556.50" y="1105.60" font-size="16" text-anchor="end">10<tspan font-size="11.5" dy="-8.3">0</tspan></text>
<line x1="560.40" y1="1068.30" x2="561.90" y2="1068.30" stroke="#232323" stroke-width="1.0"/>
<text x="556.50" y="1076.70" font-size="16" text-anchor="end">10<tspan font-size="11.5" dy="-8.3">1</tspan></text>
<line x1="560.40" y1="1039.40" x2="561.90" y2="1039.40" stroke="#232323" stroke-width="1.0"/>
<text x="556.50" y="1047.80" font-size="16" text-anchor="end">10<tspan font-size="11.5" dy="-8.3">2</tspan></text>
<line x1="560.40" y1="1010.50" x2="561.90" y2="1010.50" stroke="#232323" stroke-width="1.0"/>
<text x="556.50" y="1018.90" font-size="16" text-anchor="end">10<tspan font-size="11.5" dy="-8.3">3</tspan></text>
<line x1="561.90" y1="1126.10" x2="561.90" y2="1127.60" stroke="#232323" stroke-width="1.0"/>
<text x="561.90" y="1145.10" font-size="16" text-anchor="middle">0</text>
<line x1="600.20" y1="1126.10" x2="600.20" y2="1127.60" stroke="#232323" stroke-width="1.0"/>
<text x="600.20" y="1145.10" font-size="16" text-anchor="middle">4</text>
<line x1="638.50" y1="1126.10" x2="638.50" y2="1127.60" stroke="#232323" stroke-width="1.0"/>
<text x="638.50" y="1145.10" font-size="16" text-anchor="middle">8</text>
<line x1="676.80" y1="1126.10" x2="676.80" y2="1127.60" stroke="#232323" stroke-width="1.0"/>
<text x="676.80" y="1145.10" font-size="16" text-anchor="middle">12</text>
<clipPath id="ce"><rect x="186.7" y="1008.9" width="117.90000000000003" height="116.39999999999998"/></clipPath>
<g clip-path="url(#ce)">
<path d="M192.90,1127.16 L192.98,1125.63 L193.06,1124.11 L193.13,1122.58 L193.20,1121.06 L193.27,1119.53 L193.33,1118.01 L193.39,1116.49 L193.45,1114.97 L193.51,1113.45 L193.57,1111.93 L193.63,1110.42 L193.69,1108.90 L193.75,1107.38 L193.82,1105.87 L193.88,1104.35 L193.95,1102.84 L194.02,1101.33 L194.09,1099.81 L194.17,1098.30 L194.25,1096.78 L194.34,1095.27 L194.43,1093.76 L194.53,1092.24 L194.64,1090.73 L194.75,1089.22 L194.87,1087.70 L195.00,1086.19 L195.14,1084.67 L195.29,1083.16 L195.44,1081.64 L195.61,1080.12 L195.78,1078.60 L195.97,1077.08 L196.17,1075.56 L196.38,1074.04 L196.61,1072.52 L196.87,1071.01 L197.17,1069.52 L197.52,1068.04 L197.93,1066.59 L198.41,1065.17 L198.97,1063.79 L199.63,1062.45 L200.38,1061.15 L201.21,1059.89 L202.07,1058.65 L202.94,1057.41 L203.80,1056.15 L204.59,1054.87 L205.31,1053.54 L205.93,1052.18 L206.51,1050.83 L207.11,1049.55 L207.80,1048.42 L208.62,1047.49 L209.66,1046.83 L210.93,1046.47 L212.36,1046.38 L213.88,1046.46 L215.44,1046.63 L217.00,1046.83 L218.54,1047.05 L220.07,1047.29 L221.59,1047.55 L223.10,1047.83 L224.60,1048.12 L226.09,1048.43 L227.58,1048.75 L229.07,1049.08 L230.54,1049.42 L232.02,1049.78 L233.49,1050.14 L234.96,1050.51 L236.42,1050.88 L237.89,1051.26 L239.35,1051.64 L240.82,1052.02 L242.28,1052.41 L243.75,1052.80 L245.21,1053.19 L246.68,1053.58 L248.15,1053.97 L249.61,1054.36 L251.08,1054.76 L252.55,1055.15 L254.02,1055.55 L255.48,1055.95 L256.95,1056.34 L258.42,1056.74 L259.89,1057.14 L261.36,1057.54 L262.82,1057.93 L264.29,1058.33 L265.76,1058.72 L267.23,1059.12 L268.70,1059.51 L270.17,1059.91 L271.64,1060.30 L273.11,1060.69 L274.58,1061.08 L276.06,1061.46 L277.53,1061.85 L279.00,1062.23 L280.47,1062.61 L281.94,1062.98 L283.42,1063.36 L284.89,1063.73 L286.36,1064.10 L287.84,1064.46 L289.31,1064.82 L290.79,1065.18 L292.26,1065.53 L293.73,1065.88 L295.21,1066.23 L296.69,1066.57 L298.16,1066.91 L299.64,1067.24 L301.11,1067.56 L302.59,1067.89 L302.66,1080.76 L301.15,1080.53 L299.64,1080.28 L298.14,1080.02 L296.65,1079.74 L295.15,1079.44 L293.67,1079.12 L292.19,1078.79 L290.71,1078.44 L289.23,1078.08 L287.76,1077.70 L286.30,1077.32 L284.83,1076.92 L283.37,1076.51 L281.91,1076.09 L280.46,1075.65 L279.01,1075.22 L277.56,1074.77 L276.11,1074.31 L274.66,1073.85 L273.22,1073.38 L271.78,1072.91 L270.33,1072.43 L268.89,1071.95 L267.45,1071.47 L266.01,1070.99 L264.57,1070.50 L263.14,1070.01 L261.70,1069.53 L260.26,1069.04 L258.82,1068.56 L257.38,1068.08 L255.94,1067.60 L254.49,1067.13 L253.05,1066.66 L251.60,1066.20 L250.16,1065.74 L248.71,1065.29 L247.25,1064.85 L245.80,1064.42 L244.34,1064.00 L242.88,1063.58 L241.42,1063.18 L239.96,1062.79 L238.49,1062.42 L237.01,1062.05 L235.54,1061.70 L234.06,1061.36 L232.57,1061.03 L231.09,1060.70 L229.61,1060.36 L228.13,1060.02 L226.65,1059.67 L225.17,1059.29 L223.70,1058.89 L222.24,1058.47 L220.78,1058.03 L219.32,1057.59 L217.86,1057.16 L216.40,1056.75 L214.93,1056.39 L213.46,1056.08 L211.98,1055.83 L210.49,1055.67 L208.98,1055.59 L207.59,1055.23 L206.40,1054.39 L205.35,1053.25 L204.39,1052.06 L203.45,1051.02 L202.48,1050.37 L201.43,1050.31 L200.31,1050.83 L199.20,1051.68 L198.17,1052.68 L197.22,1053.79 L196.34,1055.00 L195.53,1056.29 L194.78,1057.64 L194.10,1059.04 L193.47,1060.48 L192.90,1061.93 L192.39,1063.39 L191.91,1064.85 L191.49,1066.32 L191.10,1067.79 L190.76,1069.27 L190.44,1070.76 L190.17,1072.24 L189.92,1073.73 L189.69,1075.23 L189.49,1076.73 L189.31,1078.23 L189.15,1079.73 L189.00,1081.24 L188.86,1082.74 L188.73,1084.25 L188.61,1085.76 L188.49,1087.28 L188.38,1088.79 L188.27,1090.31 L188.17,1091.82 L188.07,1093.34 L187.98,1094.86 L187.89,1096.37 L187.81,1097.89 L187.73,1099.41 L187.65,1100.93 L187.57,1102.45 L187.50,1103.97 L187.43,1105.49 L187.37,1107.01 L187.30,1108.53 L187.24,1110.05 L187.17,1111.57 L187.11,1113.09 L187.05,1114.61 L186.99,1116.13 L186.93,1117.64 L186.86,1119.16 L186.80,1120.67 L186.74,1122.19 L186.67,1123.70 L186.60,1125.21 L186.54,1126.72 Z" fill="#e0efd7"/>
<path d="M204.7,1050.9 205.1,1050.8 205.6,1050.7 206.2,1050.6 206.7,1050.5 207.3,1050.4 207.8,1050.4 208.4,1050.3 209.0,1050.3 209.6,1050.2 210.3,1050.2 210.9,1050.1 211.5,1050.1 212.1,1050.1 212.8,1050.1 213.4,1050.1 214.0,1050.1 214.6,1050.2 215.3,1050.2 215.9,1050.3 216.5,1050.3 217.1,1050.4 217.6,1050.5 218.1,1050.5 218.5,1050.6 219.0,1050.7 219.5,1050.8 219.9,1050.8 220.4,1050.9 220.9,1051.0 221.3,1051.1 221.8,1051.2 222.2,1051.3 222.7,1051.3 223.1,1051.4 223.6,1051.5 224.0,1051.6 224.5,1051.7 224.9,1051.8 225.4,1051.9 225.8,1052.0 226.2,1052.0 226.7,1052.1 227.1,1052.2 227.5,1052.3 227.9,1052.4 228.4,1052.5 228.8,1052.6 229.2,1052.7 229.6,1052.8 230.1,1052.9 230.5,1053.0 230.9,1053.1 231.3,1053.2 231.7,1053.3 232.2,1053.4 232.6,1053.5 233.0,1053.6 233.4,1053.7 233.8,1053.8 234.2,1053.9 234.7,1054.0 235.1,1054.1 235.5,1054.2 235.9,1054.3 236.3,1054.4 236.7,1054.5 237.1,1054.6 237.6,1054.7 238.0,1054.8 238.4,1054.9 238.8,1055.1 239.2,1055.2 239.7,1055.3 240.1,1055.4 240.5,1055.5 240.9,1055.6 241.4,1055.7 241.8,1055.8 242.2,1056.0 242.6,1056.1 243.1,1056.2 243.5,1056.3 243.9,1056.4 244.4,1056.6 244.8,1056.7 245.3,1056.8 245.7,1056.9 246.2,1057.0 246.6,1057.2 247.1,1057.3 247.5,1057.4 248.0,1057.5 248.4,1057.7 248.9,1057.8 249.3,1057.9 249.8,1058.0 250.3,1058.2 250.8,1058.3 251.2,1058.4 251.7,1058.6 252.2,1058.7 252.7,1058.8 253.1,1059.0 253.6,1059.1 254.1,1059.2 254.6,1059.4 255.1,1059.5 255.6,1059.6 256.1,1059.8 256.6,1059.9 257.1,1060.1 257.6,1060.2 258.1,1060.3 258.6,1060.5 259.1,1060.6 259.7,1060.8 260.2,1060.9 260.7,1061.1 261.2,1061.2 261.7,1061.3 262.3,1061.5 262.8,1061.6 263.3,1061.8 263.8,1061.9 264.4,1062.1 264.9,1062.2 265.4,1062.4 266.0,1062.5 266.5,1062.7 267.1,1062.8 267.6,1063.0 268.2,1063.1 268.7,1063.3 269.3,1063.4 269.8,1063.6 270.4,1063.8 270.9,1063.9 271.5,1064.1 272.0,1064.2 272.6,1064.4 273.2,1064.5 273.7,1064.7 274.3,1064.8 274.9,1065.0 275.4,1065.2 276.0,1065.3 276.6,1065.5 277.2,1065.6 277.8,1065.8 278.3,1066.0 278.9,1066.1 279.5,1066.3 280.1,1066.4 280.7,1066.6 281.3,1066.7 281.8,1066.9 282.4,1067.1 283.0,1067.2 283.6,1067.4 284.2,1067.5 284.8,1067.7 285.4,1067.8 286.0,1068.0 286.6,1068.1 287.2,1068.3 287.8,1068.5 288.4,1068.6 289.0,1068.8 289.6,1068.9 290.2,1069.1 290.9,1069.2 291.5,1069.3 292.1,1069.5 292.7,1069.6 293.3,1069.8 293.9,1069.9 294.5,1070.0 295.2,1070.2 295.8,1070.3 296.4,1070.4 297.0,1070.6 297.7,1070.7 298.3,1070.8 298.9,1070.9 299.5,1071.1 300.2,1071.2 300.8,1071.3 301.4,1071.4 302.1,1071.5" fill="none" stroke="#a6d384" stroke-width="1.3"/>
<path d="M204.7,1050.8 205.1,1050.7 205.5,1050.6 205.8,1050.5 206.2,1050.5 206.6,1050.4 207.0,1050.3 207.5,1050.3 207.9,1050.2 208.3,1050.1 208.8,1050.1 209.2,1050.1 209.7,1050.1 210.1,1050.0 210.6,1050.1 211.0,1050.1 211.5,1050.1 211.9,1050.1 212.3,1050.2 212.8,1050.2 213.2,1050.3 213.7,1050.3 214.2,1050.4 214.6,1050.5 215.1,1050.6 215.6,1050.6 216.1,1050.7 216.5,1050.8 217.0,1050.9 217.5,1051.0 217.9,1051.1 218.4,1051.1 218.8,1051.2 219.3,1051.3 219.7,1051.4 220.2,1051.5 220.6,1051.6 221.1,1051.7 221.5,1051.8 221.9,1051.8 222.4,1051.9 222.8,1052.0 223.2,1052.1 223.7,1052.2 224.1,1052.3 224.5,1052.4 225.0,1052.5 225.4,1052.6 225.8,1052.7 226.2,1052.8 226.7,1052.9 227.1,1053.0 227.5,1053.1 227.9,1053.2 228.3,1053.3 228.7,1053.4 229.2,1053.5 229.6,1053.6 230.0,1053.7 230.4,1053.8 230.8,1053.9 231.2,1054.0 231.7,1054.1 232.1,1054.2 232.5,1054.3 232.9,1054.4 233.3,1054.5 233.7,1054.6 234.2,1054.7 234.6,1054.9 235.0,1055.0 235.4,1055.1 235.8,1055.2 236.2,1055.3 236.7,1055.4 237.1,1055.5 237.5,1055.6 237.9,1055.8 238.4,1055.9 238.8,1056.0 239.2,1056.1 239.7,1056.2 240.1,1056.4 240.5,1056.5 241.0,1056.6 241.4,1056.7 241.9,1056.8 242.3,1057.0 242.7,1057.1 243.2,1057.2 243.6,1057.3 244.1,1057.5 244.6,1057.6 245.0,1057.7 245.5,1057.8 245.9,1058.0 246.4,1058.1 246.9,1058.2 247.3,1058.4 247.8,1058.5 248.3,1058.6 248.8,1058.8 249.3,1058.9 249.7,1059.0 250.2,1059.2 250.7,1059.3 251.2,1059.4 251.7,1059.6 252.2,1059.7 252.7,1059.9 253.2,1060.0 253.7,1060.1 254.2,1060.3 254.7,1060.4 255.2,1060.6 255.7,1060.7 256.2,1060.9 256.8,1061.0 257.3,1061.1 257.8,1061.3 258.3,1061.4 258.8,1061.6 259.4,1061.7 259.9,1061.9 260.4,1062.0 261.0,1062.2 261.5,1062.3 262.0,1062.5 262.6,1062.6 263.1,1062.8 263.7,1062.9 264.2,1063.1 264.8,1063.2 265.3,1063.4 265.9,1063.6 266.4,1063.7 267.0,1063.9 267.5,1064.0 268.1,1064.2 268.6,1064.3 269.2,1064.5 269.8,1064.7 270.3,1064.8 270.9,1065.0 271.5,1065.1 272.0,1065.3 272.6,1065.5 273.2,1065.6 273.8,1065.8 274.3,1065.9 274.9,1066.1 275.5,1066.3 276.1,1066.4 276.7,1066.6 277.3,1066.7 277.8,1066.9 278.4,1067.1 279.0,1067.2 279.6,1067.4 280.2,1067.5 280.8,1067.7 281.4,1067.8 282.0,1068.0 282.6,1068.2 283.2,1068.3 283.8,1068.5 284.4,1068.6 285.0,1068.8 285.6,1068.9 286.2,1069.1 286.8,1069.2 287.4,1069.4 288.1,1069.5 288.7,1069.7 289.3,1069.8 289.9,1070.0 290.5,1070.1 291.1,1070.2 291.8,1070.4 292.4,1070.5 293.0,1070.6 293.6,1070.8 294.2,1070.9 294.9,1071.0 295.5,1071.2 296.1,1071.3 296.8,1071.4 297.4,1071.5 298.0,1071.6 298.6,1071.7 299.3,1071.8 299.9,1071.9 300.5,1072.0 301.2,1072.1 301.8,1072.2" fill="none" stroke="#a6d384" stroke-width="1.3"/>
<path d="M204.7,1051.4 205.1,1051.3 205.5,1051.2 205.9,1051.1 206.3,1051.0 206.8,1050.9 207.2,1050.8 207.7,1050.8 208.2,1050.7 208.7,1050.7 209.1,1050.6 209.6,1050.6 210.1,1050.6 210.6,1050.6 211.1,1050.6 211.6,1050.6 212.1,1050.6 212.6,1050.7 213.1,1050.7 213.6,1050.7 214.0,1050.8 214.5,1050.9 215.0,1050.9 215.5,1051.0 216.0,1051.1 216.4,1051.2 216.9,1051.2 217.4,1051.3 217.8,1051.4 218.3,1051.5 218.8,1051.6 219.2,1051.7 219.7,1051.7 220.1,1051.8 220.6,1051.9 221.0,1052.0 221.5,1052.1 221.9,1052.2 222.4,1052.3 222.8,1052.4 223.2,1052.5 223.7,1052.5 224.1,1052.6 224.5,1052.7 225.0,1052.8 225.4,1052.9 225.8,1053.0 226.2,1053.1 226.7,1053.2 227.1,1053.3 227.5,1053.4 227.9,1053.5 228.3,1053.6 228.8,1053.7 229.2,1053.8 229.6,1053.9 230.0,1054.0 230.4,1054.1 230.8,1054.2 231.3,1054.3 231.7,1054.4 232.1,1054.5 232.5,1054.6 232.9,1054.7 233.3,1054.8 233.8,1054.9 234.2,1055.0 234.6,1055.1 235.0,1055.3 235.4,1055.4 235.8,1055.5 236.3,1055.6 236.7,1055.7 237.1,1055.8 237.5,1055.9 237.9,1056.0 238.4,1056.2 238.8,1056.3 239.2,1056.4 239.7,1056.5 240.1,1056.6 240.5,1056.7 240.9,1056.9 241.4,1057.0 241.8,1057.1 242.3,1057.2 242.7,1057.3 243.1,1057.5 243.6,1057.6 244.0,1057.7 244.5,1057.8 244.9,1058.0 245.4,1058.1 245.9,1058.2 246.3,1058.3 246.8,1058.5 247.3,1058.6 247.7,1058.7 248.2,1058.9 248.7,1059.0 249.1,1059.1 249.6,1059.3 250.1,1059.4 250.6,1059.5 251.1,1059.7 251.6,1059.8 252.1,1059.9 252.5,1060.1 253.0,1060.2 253.5,1060.4 254.0,1060.5 254.5,1060.6 255.1,1060.8 255.6,1060.9 256.1,1061.1 256.6,1061.2 257.1,1061.3 257.6,1061.5 258.1,1061.6 258.6,1061.8 259.2,1061.9 259.7,1062.1 260.2,1062.2 260.8,1062.4 261.3,1062.5 261.8,1062.7 262.4,1062.8 262.9,1063.0 263.4,1063.1 264.0,1063.3 264.5,1063.4 265.1,1063.6 265.6,1063.7 266.2,1063.9 266.7,1064.0 267.3,1064.2 267.8,1064.4 268.4,1064.5 268.9,1064.7 269.5,1064.8 270.1,1065.0 270.6,1065.1 271.2,1065.3 271.7,1065.5 272.3,1065.6 272.9,1065.8 273.5,1065.9 274.0,1066.1 274.6,1066.3 275.2,1066.4 275.8,1066.6 276.4,1066.7 276.9,1066.9 277.5,1067.1 278.1,1067.2 278.7,1067.4 279.3,1067.5 279.9,1067.7 280.5,1067.9 281.1,1068.0 281.7,1068.2 282.3,1068.3 282.8,1068.5 283.4,1068.6 284.1,1068.8 284.7,1068.9 285.3,1069.1 285.9,1069.3 286.5,1069.4 287.1,1069.6 287.7,1069.7 288.3,1069.9 288.9,1070.0 289.5,1070.1 290.1,1070.3 290.8,1070.4 291.4,1070.6 292.0,1070.7 292.6,1070.8 293.2,1071.0 293.9,1071.1 294.5,1071.2 295.1,1071.4 295.7,1071.5 296.3,1071.6 297.0,1071.7 297.6,1071.9 298.2,1072.0 298.9,1072.1 299.5,1072.2 300.1,1072.3 300.8,1072.4 301.4,1072.5 302.0,1072.6 302.7,1072.7" fill="none" stroke="#a6d384" stroke-width="1.3"/>
<path d="M204.7,1051.8 205.1,1051.7 205.5,1051.7 205.9,1051.6 206.4,1051.5 206.8,1051.4 207.3,1051.3 207.8,1051.3 208.3,1051.2 208.7,1051.2 209.2,1051.1 209.7,1051.1 210.2,1051.1 210.7,1051.1 211.3,1051.1 211.8,1051.1 212.3,1051.1 212.8,1051.1 213.3,1051.2 213.8,1051.2 214.3,1051.3 214.7,1051.4 215.2,1051.4 215.7,1051.5 216.2,1051.6 216.7,1051.7 217.1,1051.7 217.6,1051.8 218.1,1051.9 218.5,1052.0 219.0,1052.1 219.4,1052.2 219.9,1052.3 220.3,1052.3 220.8,1052.4 221.2,1052.5 221.7,1052.6 222.1,1052.7 222.6,1052.8 223.0,1052.9 223.4,1053.0 223.9,1053.1 224.3,1053.2 224.7,1053.2 225.2,1053.3 225.6,1053.4 226.0,1053.5 226.5,1053.6 226.9,1053.7 227.3,1053.8 227.7,1053.9 228.1,1054.0 228.6,1054.1 229.0,1054.2 229.4,1054.3 229.8,1054.4 230.2,1054.5 230.6,1054.6 231.1,1054.7 231.5,1054.8 231.9,1054.9 232.3,1055.0 232.7,1055.2 233.1,1055.3 233.6,1055.4 234.0,1055.5 234.4,1055.6 234.8,1055.7 235.2,1055.8 235.6,1055.9 236.1,1056.0 236.5,1056.1 236.9,1056.3 237.3,1056.4 237.7,1056.5 238.2,1056.6 238.6,1056.7 239.0,1056.8 239.4,1056.9 239.9,1057.1 240.3,1057.2 240.7,1057.3 241.2,1057.4 241.6,1057.5 242.0,1057.7 242.5,1057.8 242.9,1057.9 243.4,1058.0 243.8,1058.2 244.3,1058.3 244.7,1058.4 245.2,1058.5 245.6,1058.7 246.1,1058.8 246.5,1058.9 247.0,1059.1 247.5,1059.2 247.9,1059.3 248.4,1059.4 248.9,1059.6 249.4,1059.7 249.8,1059.9 250.3,1060.0 250.8,1060.1 251.3,1060.3 251.8,1060.4 252.3,1060.5 252.8,1060.7 253.3,1060.8 253.8,1061.0 254.3,1061.1 254.8,1061.2 255.3,1061.4 255.8,1061.5 256.3,1061.7 256.8,1061.8 257.3,1062.0 257.8,1062.1 258.3,1062.2 258.9,1062.4 259.4,1062.5 259.9,1062.7 260.4,1062.8 261.0,1063.0 261.5,1063.1 262.0,1063.3 262.6,1063.4 263.1,1063.6 263.6,1063.8 264.2,1063.9 264.7,1064.1 265.3,1064.2 265.8,1064.4 266.4,1064.5 266.9,1064.7 267.5,1064.8 268.0,1065.0 268.6,1065.2 269.1,1065.3 269.7,1065.5 270.3,1065.6 270.8,1065.8 271.4,1065.9 272.0,1066.1 272.5,1066.3 273.1,1066.4 273.7,1066.6 274.3,1066.8 274.8,1066.9 275.4,1067.1 276.0,1067.2 276.6,1067.4 277.1,1067.6 277.7,1067.7 278.3,1067.9 278.9,1068.0 279.5,1068.2 280.1,1068.4 280.7,1068.5 281.3,1068.7 281.9,1068.8 282.5,1069.0 283.1,1069.2 283.7,1069.3 284.3,1069.5 284.9,1069.6 285.5,1069.8 286.1,1069.9 286.7,1070.1 287.3,1070.2 287.9,1070.4 288.5,1070.5 289.1,1070.7 289.7,1070.8 290.4,1071.0 291.0,1071.1 291.6,1071.3 292.2,1071.4 292.8,1071.5 293.4,1071.7 294.1,1071.8 294.7,1072.0 295.3,1072.1 295.9,1072.2 296.6,1072.3 297.2,1072.5 297.8,1072.6 298.4,1072.7 299.1,1072.8 299.7,1072.9 300.3,1073.0 301.0,1073.1 301.6,1073.2 302.2,1073.3" fill="none" stroke="#a6d384" stroke-width="1.3"/>
<path d="M204.7,1052.2 205.1,1052.1 205.5,1052.0 205.9,1051.9 206.3,1051.9 206.7,1051.8 207.1,1051.7 207.6,1051.6 208.0,1051.6 208.5,1051.5 209.0,1051.5 209.4,1051.5 209.9,1051.5 210.4,1051.4 210.8,1051.4 211.3,1051.5 211.8,1051.5 212.2,1051.5 212.7,1051.6 213.2,1051.6 213.6,1051.7 214.1,1051.7 214.6,1051.8 215.1,1051.9 215.5,1052.0 216.0,1052.1 216.5,1052.1 217.0,1052.2 217.4,1052.3 217.9,1052.4 218.3,1052.5 218.8,1052.6 219.3,1052.7 219.7,1052.7 220.2,1052.8 220.6,1052.9 221.0,1053.0 221.5,1053.1 221.9,1053.2 222.4,1053.3 222.8,1053.4 223.2,1053.5 223.7,1053.6 224.1,1053.7 224.5,1053.8 225.0,1053.9 225.4,1054.0 225.8,1054.0 226.2,1054.1 226.7,1054.2 227.1,1054.3 227.5,1054.4 227.9,1054.5 228.3,1054.6 228.8,1054.7 229.2,1054.8 229.6,1055.0 230.0,1055.1 230.4,1055.2 230.8,1055.3 231.3,1055.4 231.7,1055.5 232.1,1055.6 232.5,1055.7 232.9,1055.8 233.3,1055.9 233.7,1056.0 234.2,1056.1 234.6,1056.2 235.0,1056.4 235.4,1056.5 235.8,1056.6 236.3,1056.7 236.7,1056.8 237.1,1056.9 237.5,1057.0 237.9,1057.2 238.4,1057.3 238.8,1057.4 239.2,1057.5 239.7,1057.6 240.1,1057.8 240.5,1057.9 241.0,1058.0 241.4,1058.1 241.8,1058.3 242.3,1058.4 242.7,1058.5 243.2,1058.6 243.6,1058.8 244.1,1058.9 244.5,1059.0 245.0,1059.1 245.4,1059.3 245.9,1059.4 246.4,1059.5 246.8,1059.7 247.3,1059.8 247.8,1059.9 248.2,1060.1 248.7,1060.2 249.2,1060.3 249.7,1060.5 250.2,1060.6 250.6,1060.7 251.1,1060.9 251.6,1061.0 252.1,1061.2 252.6,1061.3 253.1,1061.5 253.6,1061.6 254.1,1061.7 254.6,1061.9 255.1,1062.0 255.6,1062.2 256.2,1062.3 256.7,1062.5 257.2,1062.6 257.7,1062.8 258.2,1062.9 258.7,1063.1 259.3,1063.2 259.8,1063.4 260.3,1063.5 260.9,1063.7 261.4,1063.8 261.9,1064.0 262.5,1064.1 263.0,1064.3 263.5,1064.4 264.1,1064.6 264.6,1064.7 265.2,1064.9 265.7,1065.1 266.3,1065.2 266.8,1065.4 267.4,1065.5 267.9,1065.7 268.5,1065.9 269.1,1066.0 269.6,1066.2 270.2,1066.3 270.8,1066.5 271.3,1066.7 271.9,1066.8 272.5,1067.0 273.0,1067.1 273.6,1067.3 274.2,1067.5 274.8,1067.6 275.3,1067.8 275.9,1068.0 276.5,1068.1 277.1,1068.3 277.7,1068.4 278.3,1068.6 278.9,1068.8 279.4,1068.9 280.0,1069.1 280.6,1069.3 281.2,1069.4 281.8,1069.6 282.4,1069.7 283.0,1069.9 283.6,1070.1 284.2,1070.2 284.8,1070.4 285.4,1070.5 286.0,1070.7 286.7,1070.8 287.3,1071.0 287.9,1071.1 288.5,1071.3 289.1,1071.4 289.7,1071.6 290.3,1071.7 290.9,1071.9 291.6,1072.0 292.2,1072.2 292.8,1072.3 293.4,1072.4 294.0,1072.6 294.7,1072.7 295.3,1072.8 295.9,1073.0 296.5,1073.1 297.2,1073.2 297.8,1073.3 298.4,1073.4 299.1,1073.5 299.7,1073.7 300.3,1073.8 301.0,1073.9 301.6,1074.0 302.2,1074.1" fill="none" stroke="#a6d384" stroke-width="1.3"/>
<path d="M204.7,1052.7 205.1,1052.7 205.5,1052.6 205.8,1052.5 206.2,1052.4 206.6,1052.3 207.0,1052.2 207.5,1052.2 207.9,1052.1 208.3,1052.1 208.8,1052.0 209.2,1052.0 209.7,1052.0 210.1,1052.0 210.6,1052.0 211.0,1052.0 211.5,1052.0 211.9,1052.0 212.3,1052.1 212.8,1052.1 213.2,1052.2 213.7,1052.3 214.2,1052.3 214.6,1052.4 215.1,1052.5 215.6,1052.6 216.1,1052.7 216.5,1052.8 217.0,1052.8 217.5,1052.9 217.9,1053.0 218.4,1053.1 218.8,1053.2 219.3,1053.3 219.7,1053.4 220.2,1053.5 220.6,1053.6 221.1,1053.6 221.5,1053.7 221.9,1053.8 222.4,1053.9 222.8,1054.0 223.2,1054.1 223.7,1054.2 224.1,1054.3 224.5,1054.4 225.0,1054.5 225.4,1054.6 225.8,1054.7 226.2,1054.8 226.7,1054.9 227.1,1055.0 227.5,1055.1 227.9,1055.2 228.3,1055.3 228.7,1055.4 229.2,1055.5 229.6,1055.6 230.0,1055.7 230.4,1055.8 230.8,1055.9 231.2,1056.0 231.7,1056.1 232.1,1056.3 232.5,1056.4 232.9,1056.5 233.3,1056.6 233.7,1056.7 234.2,1056.8 234.6,1056.9 235.0,1057.0 235.4,1057.1 235.8,1057.3 236.2,1057.4 236.7,1057.5 237.1,1057.6 237.5,1057.7 237.9,1057.9 238.4,1058.0 238.8,1058.1 239.2,1058.2 239.7,1058.3 240.1,1058.5 240.5,1058.6 241.0,1058.7 241.4,1058.8 241.9,1059.0 242.3,1059.1 242.7,1059.2 243.2,1059.3 243.6,1059.5 244.1,1059.6 244.6,1059.7 245.0,1059.9 245.5,1060.0 245.9,1060.1 246.4,1060.2 246.9,1060.4 247.3,1060.5 247.8,1060.7 248.3,1060.8 248.8,1060.9 249.3,1061.1 249.7,1061.2 250.2,1061.3 250.7,1061.5 251.2,1061.6 251.7,1061.8 252.2,1061.9 252.7,1062.0 253.2,1062.2 253.7,1062.3 254.2,1062.5 254.7,1062.6 255.2,1062.8 255.7,1062.9 256.2,1063.1 256.8,1063.2 257.3,1063.4 257.8,1063.5 258.3,1063.7 258.8,1063.8 259.4,1064.0 259.9,1064.1 260.4,1064.3 261.0,1064.4 261.5,1064.6 262.0,1064.7 262.6,1064.9 263.1,1065.0 263.7,1065.2 264.2,1065.4 264.8,1065.5 265.3,1065.7 265.9,1065.8 266.4,1066.0 267.0,1066.2 267.5,1066.3 268.1,1066.5 268.6,1066.6 269.2,1066.8 269.8,1067.0 270.3,1067.1 270.9,1067.3 271.5,1067.4 272.0,1067.6 272.6,1067.8 273.2,1067.9 273.8,1068.1 274.3,1068.3 274.9,1068.4 275.5,1068.6 276.1,1068.8 276.7,1068.9 277.3,1069.1 277.8,1069.2 278.4,1069.4 279.0,1069.6 279.6,1069.7 280.2,1069.9 280.8,1070.1 281.4,1070.2 282.0,1070.4 282.6,1070.5 283.2,1070.7 283.8,1070.9 284.4,1071.0 285.0,1071.2 285.6,1071.3 286.2,1071.5 286.8,1071.6 287.4,1071.8 288.1,1071.9 288.7,1072.1 289.3,1072.2 289.9,1072.4 290.5,1072.5 291.1,1072.7 291.8,1072.8 292.4,1073.0 293.0,1073.1 293.6,1073.2 294.2,1073.4 294.9,1073.5 295.5,1073.6 296.1,1073.7 296.8,1073.9 297.4,1074.0 298.0,1074.1 298.6,1074.2 299.3,1074.3 299.9,1074.4 300.5,1074.5 301.2,1074.6 301.8,1074.7" fill="none" stroke="#a6d384" stroke-width="1.3"/>
<path d="M204.7,1052.4 205.1,1052.3 205.5,1052.2 206.0,1052.1 206.4,1052.0 206.9,1051.9 207.3,1051.8 207.8,1051.8 208.3,1051.7 208.8,1051.7 209.3,1051.6 209.8,1051.6 210.4,1051.6 210.9,1051.6 211.4,1051.6 211.9,1051.6 212.4,1051.6 212.9,1051.7 213.4,1051.7 213.9,1051.7 214.5,1051.8 215.0,1051.9 215.4,1051.9 215.9,1052.0 216.4,1052.1 216.9,1052.2 217.3,1052.2 217.8,1052.3 218.3,1052.4 218.7,1052.5 219.2,1052.6 219.7,1052.7 220.1,1052.7 220.6,1052.8 221.0,1052.9 221.5,1053.0 221.9,1053.1 222.3,1053.2 222.8,1053.3 223.2,1053.4 223.7,1053.4 224.1,1053.5 224.5,1053.6 225.0,1053.7 225.4,1053.8 225.8,1053.9 226.2,1054.0 226.7,1054.1 227.1,1054.2 227.5,1054.3 227.9,1054.4 228.4,1054.5 228.8,1054.6 229.2,1054.7 229.6,1054.8 230.0,1054.9 230.4,1055.0 230.9,1055.1 231.3,1055.2 231.7,1055.3 232.1,1055.4 232.5,1055.5 232.9,1055.6 233.4,1055.7 233.8,1055.8 234.2,1055.9 234.6,1056.0 235.0,1056.1 235.4,1056.2 235.8,1056.4 236.3,1056.5 236.7,1056.6 237.1,1056.7 237.5,1056.8 238.0,1056.9 238.4,1057.0 238.8,1057.1 239.2,1057.3 239.7,1057.4 240.1,1057.5 240.5,1057.6 240.9,1057.7 241.4,1057.8 241.8,1058.0 242.2,1058.1 242.7,1058.2 243.1,1058.3 243.6,1058.5 244.0,1058.6 244.5,1058.7 244.9,1058.8 245.4,1059.0 245.8,1059.1 246.3,1059.2 246.8,1059.3 247.2,1059.5 247.7,1059.6 248.1,1059.7 248.6,1059.9 249.1,1060.0 249.6,1060.1 250.1,1060.3 250.5,1060.4 251.0,1060.5 251.5,1060.7 252.0,1060.8 252.5,1060.9 253.0,1061.1 253.5,1061.2 254.0,1061.3 254.5,1061.5 255.0,1061.6 255.5,1061.8 256.0,1061.9 256.5,1062.0 257.0,1062.2 257.5,1062.3 258.0,1062.5 258.6,1062.6 259.1,1062.8 259.6,1062.9 260.1,1063.1 260.6,1063.2 261.2,1063.4 261.7,1063.5 262.2,1063.7 262.8,1063.8 263.3,1064.0 263.9,1064.1 264.4,1064.3 264.9,1064.4 265.5,1064.6 266.0,1064.7 266.6,1064.9 267.1,1065.0 267.7,1065.2 268.2,1065.3 268.8,1065.5 269.4,1065.7 269.9,1065.8 270.5,1066.0 271.0,1066.1 271.6,1066.3 272.2,1066.4 272.7,1066.6 273.3,1066.8 273.9,1066.9 274.5,1067.1 275.0,1067.2 275.6,1067.4 276.2,1067.6 276.8,1067.7 277.4,1067.9 277.9,1068.0 278.5,1068.2 279.1,1068.4 279.7,1068.5 280.3,1068.7 280.9,1068.8 281.5,1069.0 282.1,1069.2 282.7,1069.3 283.3,1069.5 283.9,1069.6 284.5,1069.8 285.1,1069.9 285.7,1070.1 286.3,1070.2 286.9,1070.4 287.5,1070.5 288.1,1070.7 288.7,1070.8 289.3,1071.0 289.9,1071.1 290.6,1071.3 291.2,1071.4 291.8,1071.6 292.4,1071.7 293.0,1071.8 293.7,1072.0 294.3,1072.1 294.9,1072.2 295.5,1072.4 296.1,1072.5 296.8,1072.6 297.4,1072.7 298.0,1072.8 298.7,1073.0 299.3,1073.1 299.9,1073.2 300.6,1073.3 301.2,1073.4 301.8,1073.5 302.5,1073.6" fill="none" stroke="#a6d384" stroke-width="1.3"/>
<path d="M204.7,1051.5 205.1,1051.4 205.5,1051.3 206.0,1051.2 206.5,1051.1 206.9,1051.0 207.4,1051.0 208.0,1050.9 208.5,1050.8 209.0,1050.8 209.5,1050.8 210.1,1050.7 210.6,1050.7 211.1,1050.7 211.7,1050.7 212.2,1050.7 212.7,1050.7 213.3,1050.8 213.8,1050.8 214.3,1050.9 214.9,1050.9 215.4,1051.0 215.9,1051.1 216.3,1051.1 216.8,1051.2 217.3,1051.3 217.8,1051.4 218.2,1051.5 218.7,1051.5 219.2,1051.6 219.6,1051.7 220.1,1051.8 220.5,1051.9 221.0,1052.0 221.4,1052.1 221.9,1052.1 222.3,1052.2 222.8,1052.3 223.2,1052.4 223.6,1052.5 224.1,1052.6 224.5,1052.7 225.0,1052.8 225.4,1052.9 225.8,1053.0 226.2,1053.1 226.7,1053.1 227.1,1053.2 227.5,1053.3 227.9,1053.4 228.4,1053.5 228.8,1053.6 229.2,1053.7 229.6,1053.8 230.0,1053.9 230.5,1054.0 230.9,1054.1 231.3,1054.2 231.7,1054.3 232.1,1054.4 232.5,1054.5 232.9,1054.6 233.4,1054.8 233.8,1054.9 234.2,1055.0 234.6,1055.1 235.0,1055.2 235.4,1055.3 235.9,1055.4 236.3,1055.5 236.7,1055.6 237.1,1055.7 237.5,1055.8 238.0,1056.0 238.4,1056.1 238.8,1056.2 239.2,1056.3 239.7,1056.4 240.1,1056.5 240.5,1056.7 240.9,1056.8 241.4,1056.9 241.8,1057.0 242.2,1057.1 242.7,1057.3 243.1,1057.4 243.6,1057.5 244.0,1057.6 244.4,1057.8 244.9,1057.9 245.3,1058.0 245.8,1058.1 246.3,1058.3 246.7,1058.4 247.2,1058.5 247.6,1058.6 248.1,1058.8 248.6,1058.9 249.0,1059.0 249.5,1059.2 250.0,1059.3 250.5,1059.4 251.0,1059.6 251.4,1059.7 251.9,1059.8 252.4,1060.0 252.9,1060.1 253.4,1060.3 253.9,1060.4 254.4,1060.5 254.9,1060.7 255.4,1060.8 255.9,1061.0 256.4,1061.1 256.9,1061.2 257.4,1061.4 257.9,1061.5 258.5,1061.7 259.0,1061.8 259.5,1062.0 260.0,1062.1 260.5,1062.3 261.1,1062.4 261.6,1062.6 262.1,1062.7 262.7,1062.9 263.2,1063.0 263.7,1063.2 264.3,1063.3 264.8,1063.5 265.4,1063.6 265.9,1063.8 266.5,1063.9 267.0,1064.1 267.6,1064.2 268.1,1064.4 268.7,1064.6 269.2,1064.7 269.8,1064.9 270.3,1065.0 270.9,1065.2 271.5,1065.3 272.0,1065.5 272.6,1065.7 273.2,1065.8 273.7,1066.0 274.3,1066.1 274.9,1066.3 275.5,1066.5 276.0,1066.6 276.6,1066.8 277.2,1066.9 277.8,1067.1 278.4,1067.3 279.0,1067.4 279.5,1067.6 280.1,1067.7 280.7,1067.9 281.3,1068.1 281.9,1068.2 282.5,1068.4 283.1,1068.5 283.7,1068.7 284.3,1068.8 284.9,1069.0 285.5,1069.2 286.1,1069.3 286.7,1069.5 287.3,1069.6 287.9,1069.8 288.5,1069.9 289.2,1070.1 289.8,1070.2 290.4,1070.4 291.0,1070.5 291.6,1070.7 292.2,1070.8 292.8,1070.9 293.5,1071.1 294.1,1071.2 294.7,1071.3 295.3,1071.5 296.0,1071.6 296.6,1071.7 297.2,1071.9 297.8,1072.0 298.5,1072.1 299.1,1072.2 299.7,1072.3 300.3,1072.4 301.0,1072.5 301.6,1072.6 302.3,1072.7" fill="none" stroke="#a6d384" stroke-width="1.3"/>
<path d="M204.7,1052.5 205.1,1052.4 205.4,1052.3 205.8,1052.2 206.2,1052.1 206.6,1052.0 206.9,1052.0 207.3,1051.9 207.8,1051.9 208.2,1051.8 208.6,1051.8 209.0,1051.7 209.4,1051.7 209.9,1051.7 210.3,1051.7 210.7,1051.7 211.1,1051.7 211.6,1051.8 212.0,1051.8 212.4,1051.9 212.8,1051.9 213.3,1052.0 213.7,1052.1 214.2,1052.1 214.7,1052.2 215.2,1052.3 215.6,1052.4 216.1,1052.5 216.6,1052.5 217.0,1052.6 217.5,1052.7 217.9,1052.8 218.4,1052.9 218.9,1053.0 219.3,1053.1 219.8,1053.1 220.2,1053.2 220.6,1053.3 221.1,1053.4 221.5,1053.5 222.0,1053.6 222.4,1053.7 222.8,1053.8 223.3,1053.9 223.7,1054.0 224.1,1054.1 224.5,1054.2 225.0,1054.2 225.4,1054.3 225.8,1054.4 226.2,1054.5 226.6,1054.6 227.1,1054.7 227.5,1054.8 227.9,1054.9 228.3,1055.0 228.7,1055.1 229.2,1055.2 229.6,1055.3 230.0,1055.4 230.4,1055.6 230.8,1055.7 231.2,1055.8 231.6,1055.9 232.1,1056.0 232.5,1056.1 232.9,1056.2 233.3,1056.3 233.7,1056.4 234.1,1056.5 234.6,1056.6 235.0,1056.7 235.4,1056.9 235.8,1057.0 236.2,1057.1 236.7,1057.2 237.1,1057.3 237.5,1057.4 237.9,1057.5 238.4,1057.7 238.8,1057.8 239.2,1057.9 239.7,1058.0 240.1,1058.1 240.5,1058.3 241.0,1058.4 241.4,1058.5 241.9,1058.6 242.3,1058.8 242.8,1058.9 243.2,1059.0 243.7,1059.1 244.1,1059.3 244.6,1059.4 245.0,1059.5 245.5,1059.6 246.0,1059.8 246.4,1059.9 246.9,1060.0 247.4,1060.2 247.9,1060.3 248.3,1060.4 248.8,1060.6 249.3,1060.7 249.8,1060.8 250.3,1061.0 250.8,1061.1 251.3,1061.3 251.8,1061.4 252.3,1061.5 252.8,1061.7 253.3,1061.8 253.8,1062.0 254.3,1062.1 254.8,1062.2 255.3,1062.4 255.8,1062.5 256.3,1062.7 256.8,1062.8 257.4,1063.0 257.9,1063.1 258.4,1063.3 258.9,1063.4 259.5,1063.6 260.0,1063.7 260.5,1063.9 261.1,1064.0 261.6,1064.2 262.1,1064.3 262.7,1064.5 263.2,1064.6 263.8,1064.8 264.3,1064.9 264.9,1065.1 265.4,1065.2 266.0,1065.4 266.5,1065.6 267.1,1065.7 267.6,1065.9 268.2,1066.0 268.8,1066.2 269.3,1066.3 269.9,1066.5 270.5,1066.7 271.0,1066.8 271.6,1067.0 272.2,1067.1 272.8,1067.3 273.3,1067.5 273.9,1067.6 274.5,1067.8 275.1,1067.9 275.7,1068.1 276.2,1068.3 276.8,1068.4 277.4,1068.6 278.0,1068.7 278.6,1068.9 279.2,1069.1 279.8,1069.2 280.4,1069.4 281.0,1069.5 281.6,1069.7 282.2,1069.9 282.8,1070.0 283.4,1070.2 284.0,1070.3 284.6,1070.5 285.2,1070.6 285.8,1070.8 286.4,1070.9 287.0,1071.1 287.6,1071.2 288.2,1071.4 288.9,1071.5 289.5,1071.7 290.1,1071.8 290.7,1071.9 291.3,1072.1 291.9,1072.2 292.6,1072.3 293.2,1072.5 293.8,1072.6 294.4,1072.7 295.1,1072.8 295.7,1073.0 296.3,1073.1 297.0,1073.2 297.6,1073.3 298.2,1073.4 298.8,1073.5 299.5,1073.6 300.1,1073.7 300.8,1073.8 301.4,1073.9" fill="none" stroke="#a6d384" stroke-width="1.3"/>
<path d="M189.5,1127.0 189.7,1125.5 189.9,1124.0 190.0,1122.4 190.1,1120.9 190.2,1119.4 190.3,1117.9 190.4,1116.4 190.5,1114.9 190.6,1113.4 190.6,1111.9 190.7,1110.4 190.7,1108.8 190.7,1107.3 190.8,1105.8 190.8,1104.3 190.8,1102.8 190.8,1101.3 190.9,1099.8 190.9,1098.3 190.9,1096.8 191.0,1095.3 191.0,1093.8 191.1,1092.3 191.2,1090.8 191.3,1089.3 191.4,1087.7 191.5,1086.2 191.6,1084.7 191.7,1083.2 191.9,1081.7 192.1,1080.2 192.3,1078.7 192.5,1077.2 192.8,1075.7 193.0,1074.1 193.4,1072.6 193.7,1071.1 194.1,1069.6 194.4,1068.1 194.9,1066.5 195.3,1065.0 195.9,1063.6 196.4,1062.1 197.0,1060.7 197.7,1059.3 198.4,1058.1 199.2,1056.8 200.1,1055.7 201.0,1054.7 202.0,1053.8 203.1,1053.0 204.4,1052.3 205.6,1051.8 207.0,1051.5 208.5,1051.2 210.0,1051.1 211.5,1051.1 213.1,1051.2 214.6,1051.3 216.1,1051.5 217.6,1051.7 219.1,1052.0 220.6,1052.3 222.1,1052.7 223.6,1053.0 225.1,1053.4 226.5,1053.7 228.0,1054.1 229.5,1054.5 231.0,1054.8 232.4,1055.2 233.9,1055.6 235.4,1055.9 236.8,1056.3 238.3,1056.7 239.7,1057.1 241.2,1057.5 242.6,1057.9 244.1,1058.3 245.5,1058.7 247.0,1059.1 248.5,1059.5 249.9,1059.9 251.4,1060.3 252.8,1060.7 254.3,1061.1 255.7,1061.5 257.2,1062.0 258.6,1062.4 260.1,1062.8 261.5,1063.2 263.0,1063.7 264.5,1064.1 265.9,1064.5 267.4,1064.9 268.8,1065.3 270.3,1065.7 271.7,1066.2 273.2,1066.6 274.7,1067.0 276.1,1067.4 277.6,1067.8 279.1,1068.2 280.5,1068.5 282.0,1068.9 283.5,1069.3 284.9,1069.7 286.4,1070.0 287.9,1070.4 289.3,1070.7 290.8,1071.1 292.3,1071.4 293.7,1071.7 295.2,1072.1 296.7,1072.4 298.2,1072.7 299.7,1073.0 301.1,1073.2 302.6,1073.5" fill="none" stroke="#30521f" stroke-width="2.8"/>
</g>
<path d="M191.00,1056.42 H203.00 M191.00,1060.69 H203.00 M197.00,1056.42 V1060.69" stroke="#ff3c3c" stroke-width="1" fill="none"/>
<circle cx="197.00" cy="1058.33" r="3.0" fill="none" stroke="#ff0000" stroke-width="1.8"/>
<path d="M199.57,1051.01 H211.57 M199.57,1054.29 H211.57 M205.57,1051.01 V1054.29" stroke="#ff3c3c" stroke-width="1" fill="none"/>
<circle cx="205.57" cy="1052.55" r="3.0" fill="none" stroke="#ff0000" stroke-width="1.8"/>
<path d="M209.12,1054.05 H221.12 M209.12,1057.58 H221.12 M215.12,1054.05 V1057.58" stroke="#ff3c3c" stroke-width="1" fill="none"/>
<circle cx="215.12" cy="1055.69" r="3.0" fill="none" stroke="#ff0000" stroke-width="1.8"/>
<path d="M219.10,1056.76 H231.10 M219.10,1062.16 H231.10 M225.10,1056.76 V1062.16" stroke="#ff3c3c" stroke-width="1" fill="none"/>
<circle cx="225.10" cy="1059.18" r="3.0" fill="none" stroke="#ff0000" stroke-width="1.8"/>
<path d="M228.87,1059.05 H240.87 M228.87,1064.13 H240.87 M234.87,1059.05 V1064.13" stroke="#ff3c3c" stroke-width="1" fill="none"/>
<circle cx="234.87" cy="1061.31" r="3.0" fill="none" stroke="#ff0000" stroke-width="1.8"/>
<path d="M239.15,1062.74 H251.15 M239.15,1066.05 H251.15 M245.15,1062.74 V1066.05" stroke="#ff3c3c" stroke-width="1" fill="none"/>
<circle cx="245.15" cy="1064.13" r="3.0" fill="none" stroke="#ff0000" stroke-width="1.8"/>
<path d="M258.30,1066.97 H270.30 M258.30,1071.27 H270.30 M264.30,1066.97 V1071.27" stroke="#ff3c3c" stroke-width="1" fill="none"/>
<circle cx="264.30" cy="1068.82" r="3.0" fill="none" stroke="#ff0000" stroke-width="1.8"/>
<clipPath id="cf"><rect x="560.9" y="1008.5" width="117.89999999999998" height="117.09999999999991"/></clipPath>
<g clip-path="url(#cf)">
<path d="M566.98,1127.32 L567.11,1125.79 L567.24,1124.26 L567.36,1122.73 L567.47,1121.21 L567.57,1119.69 L567.67,1118.17 L567.76,1116.66 L567.85,1115.14 L567.93,1113.64 L568.01,1112.13 L568.09,1110.62 L568.17,1109.12 L568.24,1107.61 L568.31,1106.11 L568.39,1104.61 L568.47,1103.10 L568.54,1101.60 L568.62,1100.10 L568.71,1098.60 L568.80,1097.09 L568.89,1095.59 L568.99,1094.08 L569.09,1092.57 L569.21,1091.07 L569.33,1089.55 L569.46,1088.04 L569.60,1086.52 L569.75,1085.00 L569.91,1083.48 L570.08,1081.95 L570.27,1080.42 L570.48,1078.90 L570.72,1077.38 L570.99,1075.88 L571.30,1074.39 L571.66,1072.92 L572.08,1071.47 L572.55,1070.06 L573.09,1068.68 L573.71,1067.33 L574.40,1066.03 L575.18,1064.78 L576.05,1063.57 L577.02,1062.42 L578.04,1061.30 L579.03,1060.13 L579.90,1058.88 L580.62,1057.52 L581.25,1056.12 L581.84,1054.76 L582.48,1053.51 L583.21,1052.44 L584.12,1051.65 L585.25,1051.20 L586.60,1051.06 L588.07,1051.13 L589.56,1051.27 L591.05,1051.46 L592.53,1051.68 L594.00,1051.94 L595.47,1052.24 L596.94,1052.57 L598.41,1052.92 L599.87,1053.29 L601.33,1053.69 L602.79,1054.10 L604.25,1054.52 L605.70,1054.95 L607.16,1055.39 L608.62,1055.83 L610.08,1056.26 L611.53,1056.70 L612.99,1057.12 L614.46,1057.53 L615.92,1057.94 L617.38,1058.33 L618.85,1058.72 L620.32,1059.10 L621.79,1059.47 L623.26,1059.83 L624.73,1060.18 L626.20,1060.53 L627.67,1060.86 L629.15,1061.19 L630.63,1061.52 L632.10,1061.83 L633.58,1062.14 L635.07,1062.44 L636.55,1062.74 L638.03,1063.03 L639.51,1063.31 L641.00,1063.59 L642.49,1063.86 L643.98,1064.12 L645.46,1064.38 L646.95,1064.63 L648.45,1064.88 L649.94,1065.12 L651.43,1065.36 L652.93,1065.59 L654.42,1065.82 L655.92,1066.04 L657.42,1066.26 L658.91,1066.47 L660.41,1066.68 L661.92,1066.89 L663.42,1067.09 L664.92,1067.29 L666.42,1067.49 L667.93,1067.68 L669.43,1067.87 L670.94,1068.06 L672.44,1068.24 L673.95,1068.43 L675.46,1068.60 L676.97,1068.78 L676.96,1080.36 L675.44,1080.22 L673.92,1080.06 L672.40,1079.89 L670.89,1079.70 L669.38,1079.50 L667.88,1079.28 L666.37,1079.05 L664.87,1078.81 L663.37,1078.56 L661.87,1078.29 L660.38,1078.01 L658.88,1077.72 L657.39,1077.42 L655.90,1077.11 L654.41,1076.79 L652.92,1076.47 L651.44,1076.14 L649.95,1075.79 L648.47,1075.45 L646.99,1075.10 L645.51,1074.74 L644.02,1074.38 L642.54,1074.01 L641.06,1073.64 L639.59,1073.27 L638.11,1072.89 L636.63,1072.52 L635.15,1072.14 L633.67,1071.76 L632.19,1071.39 L630.72,1071.01 L629.24,1070.64 L627.76,1070.27 L626.28,1069.90 L624.80,1069.53 L623.32,1069.17 L621.84,1068.81 L620.35,1068.46 L618.87,1068.11 L617.38,1067.77 L615.90,1067.44 L614.41,1067.12 L612.92,1066.80 L611.43,1066.49 L609.94,1066.18 L608.45,1065.88 L606.96,1065.57 L605.47,1065.26 L603.98,1064.94 L602.49,1064.62 L601.00,1064.28 L599.52,1063.92 L598.04,1063.55 L596.55,1063.17 L595.07,1062.79 L593.58,1062.44 L592.08,1062.11 L590.57,1061.81 L589.07,1061.51 L587.62,1061.14 L586.25,1060.65 L585.00,1059.97 L583.88,1059.06 L582.87,1057.98 L581.95,1056.83 L581.07,1055.72 L580.20,1054.75 L579.30,1054.01 L578.33,1053.60 L577.29,1053.58 L576.19,1053.94 L575.04,1054.64 L573.88,1055.60 L572.77,1056.74 L571.73,1057.97 L570.79,1059.26 L569.94,1060.58 L569.18,1061.94 L568.48,1063.33 L567.85,1064.74 L567.28,1066.17 L566.76,1067.61 L566.28,1069.06 L565.84,1070.52 L565.44,1071.99 L565.08,1073.46 L564.76,1074.94 L564.47,1076.43 L564.20,1077.93 L563.96,1079.43 L563.75,1080.93 L563.56,1082.44 L563.39,1083.95 L563.23,1085.46 L563.08,1086.98 L562.95,1088.50 L562.83,1090.02 L562.71,1091.53 L562.61,1093.06 L562.51,1094.58 L562.42,1096.10 L562.33,1097.62 L562.25,1099.14 L562.17,1100.67 L562.10,1102.19 L562.03,1103.72 L561.96,1105.24 L561.89,1106.76 L561.82,1108.29 L561.74,1109.81 L561.67,1111.34 L561.59,1112.86 L561.51,1114.38 L561.42,1115.90 L561.33,1117.42 L561.23,1118.94 L561.12,1120.46 L561.00,1121.98 L560.87,1123.49 L560.74,1125.00 L560.59,1126.52 Z" fill="#cee9fe"/>
<path d="M581.3,1053.2 581.8,1053.1 582.3,1053.1 582.9,1053.1 583.4,1053.1 584.0,1053.1 584.6,1053.1 585.1,1053.1 585.7,1053.2 586.3,1053.2 586.9,1053.3 587.5,1053.3 588.1,1053.4 588.7,1053.5 589.2,1053.6 589.8,1053.7 590.4,1053.8 590.9,1053.9 591.4,1054.0 592.0,1054.1 592.5,1054.2 592.9,1054.4 593.4,1054.5 593.9,1054.6 594.4,1054.7 594.8,1054.8 595.3,1055.0 595.7,1055.1 596.2,1055.2 596.6,1055.3 597.0,1055.4 597.5,1055.6 597.9,1055.7 598.4,1055.8 598.8,1056.0 599.3,1056.1 599.8,1056.2 600.2,1056.3 600.7,1056.5 601.1,1056.6 601.6,1056.7 602.1,1056.9 602.6,1057.0 603.0,1057.1 603.5,1057.3 604.0,1057.4 604.5,1057.5 605.0,1057.7 605.5,1057.8 606.0,1058.0 606.5,1058.1 607.0,1058.2 607.5,1058.4 608.0,1058.5 608.5,1058.6 609.0,1058.8 609.5,1058.9 610.0,1059.1 610.5,1059.2 611.0,1059.4 611.6,1059.5 612.1,1059.6 612.6,1059.8 613.1,1059.9 613.7,1060.1 614.2,1060.2 614.7,1060.4 615.3,1060.5 615.8,1060.6 616.4,1060.8 616.9,1060.9 617.4,1061.1 618.0,1061.2 618.5,1061.4 619.1,1061.5 619.6,1061.7 620.2,1061.8 620.7,1062.0 621.3,1062.1 621.9,1062.3 622.4,1062.4 623.0,1062.5 623.5,1062.7 624.1,1062.8 624.7,1063.0 625.3,1063.1 625.8,1063.3 626.4,1063.4 627.0,1063.6 627.5,1063.7 628.1,1063.9 628.7,1064.0 629.3,1064.2 629.9,1064.3 630.5,1064.4 631.0,1064.6 631.6,1064.7 632.2,1064.9 632.8,1065.0 633.4,1065.2 634.0,1065.3 634.6,1065.5 635.2,1065.6 635.8,1065.8 636.4,1065.9 637.0,1066.0 637.6,1066.2 638.2,1066.3 638.8,1066.5 639.4,1066.6 640.0,1066.8 640.6,1066.9 641.2,1067.0 641.8,1067.2 642.4,1067.3 643.0,1067.5 643.6,1067.6 644.2,1067.7 644.9,1067.9 645.5,1068.0 646.1,1068.2 646.7,1068.3 647.3,1068.4 647.9,1068.6 648.5,1068.7 649.2,1068.8 649.8,1069.0 650.4,1069.1 651.0,1069.2 651.7,1069.4 652.3,1069.5 652.9,1069.6 653.5,1069.8 654.2,1069.9 654.8,1070.0 655.4,1070.1 656.0,1070.3 656.7,1070.4 657.3,1070.5 657.9,1070.6 658.6,1070.8 659.2,1070.9 659.8,1071.0 660.4,1071.1 661.1,1071.2 661.7,1071.3 662.3,1071.5 663.0,1071.6 663.6,1071.7 664.2,1071.8 664.9,1071.9 665.5,1072.0 666.1,1072.1 666.8,1072.2 667.4,1072.3 668.1,1072.4 668.7,1072.5 669.3,1072.6 670.0,1072.7 670.6,1072.8 671.2,1072.9 671.9,1073.0 672.5,1073.1 673.1,1073.2 673.8,1073.3 674.4,1073.4 675.1,1073.4 675.7,1073.5 676.3,1073.6 677.0,1073.7" fill="none" stroke="#8da3d9" stroke-width="1.3"/>
<path d="M581.5,1054.2 582.0,1054.2 582.6,1054.1 583.1,1054.1 583.7,1054.2 584.3,1054.2 584.9,1054.2 585.5,1054.3 586.1,1054.3 586.7,1054.4 587.2,1054.5 587.8,1054.6 588.4,1054.6 589.0,1054.7 589.5,1054.8 590.1,1054.9 590.6,1055.0 591.1,1055.1 591.6,1055.2 592.1,1055.3 592.6,1055.5 593.0,1055.6 593.5,1055.7 594.0,1055.8 594.4,1055.9 594.9,1056.0 595.3,1056.1 595.8,1056.3 596.2,1056.4 596.6,1056.5 597.1,1056.6 597.5,1056.7 598.0,1056.9 598.4,1057.0 598.9,1057.1 599.4,1057.2 599.8,1057.4 600.3,1057.5 600.8,1057.6 601.2,1057.7 601.7,1057.9 602.2,1058.0 602.7,1058.1 603.2,1058.2 603.6,1058.4 604.1,1058.5 604.6,1058.6 605.1,1058.8 605.6,1058.9 606.1,1059.0 606.6,1059.2 607.1,1059.3 607.6,1059.4 608.1,1059.6 608.6,1059.7 609.2,1059.8 609.7,1060.0 610.2,1060.1 610.7,1060.2 611.2,1060.4 611.8,1060.5 612.3,1060.6 612.8,1060.8 613.4,1060.9 613.9,1061.0 614.4,1061.2 615.0,1061.3 615.5,1061.5 616.0,1061.6 616.6,1061.7 617.1,1061.9 617.7,1062.0 618.2,1062.1 618.8,1062.3 619.3,1062.4 619.9,1062.6 620.4,1062.7 621.0,1062.8 621.6,1063.0 622.1,1063.1 622.7,1063.2 623.3,1063.4 623.8,1063.5 624.4,1063.7 625.0,1063.8 625.5,1063.9 626.1,1064.1 626.7,1064.2 627.3,1064.4 627.9,1064.5 628.4,1064.6 629.0,1064.8 629.6,1064.9 630.2,1065.0 630.8,1065.2 631.4,1065.3 631.9,1065.5 632.5,1065.6 633.1,1065.7 633.7,1065.9 634.3,1066.0 634.9,1066.1 635.5,1066.3 636.1,1066.4 636.7,1066.5 637.3,1066.7 637.9,1066.8 638.5,1066.9 639.1,1067.1 639.7,1067.2 640.3,1067.3 640.9,1067.5 641.6,1067.6 642.2,1067.7 642.8,1067.9 643.4,1068.0 644.0,1068.1 644.6,1068.3 645.2,1068.4 645.8,1068.5 646.5,1068.6 647.1,1068.8 647.7,1068.9 648.3,1069.0 648.9,1069.1 649.6,1069.3 650.2,1069.4 650.8,1069.5 651.4,1069.6 652.1,1069.8 652.7,1069.9 653.3,1070.0 653.9,1070.1 654.6,1070.2 655.2,1070.3 655.8,1070.5 656.4,1070.6 657.1,1070.7 657.7,1070.8 658.3,1070.9 659.0,1071.0 659.6,1071.1 660.2,1071.2 660.9,1071.3 661.5,1071.4 662.1,1071.5 662.8,1071.6 663.4,1071.7 664.0,1071.8 664.7,1071.9 665.3,1072.0 665.9,1072.1 666.6,1072.2 667.2,1072.3 667.8,1072.4 668.5,1072.5 669.1,1072.6 669.7,1072.7 670.4,1072.8 671.0,1072.8 671.7,1072.9 672.3,1073.0 672.9,1073.1 673.6,1073.2 674.2,1073.2 674.8,1073.3 675.5,1073.4 676.1,1073.4" fill="none" stroke="#8da3d9" stroke-width="1.3"/>
<path d="M581.2,1054.7 581.7,1054.7 582.1,1054.6 582.6,1054.6 583.2,1054.5 583.7,1054.5 584.3,1054.5 584.8,1054.5 585.4,1054.5 586.0,1054.5 586.6,1054.6 587.2,1054.6 587.8,1054.7 588.4,1054.8 588.9,1054.8 589.5,1054.9 590.1,1055.0 590.7,1055.1 591.2,1055.2 591.8,1055.3 592.3,1055.4 592.8,1055.5 593.3,1055.6 593.8,1055.7 594.3,1055.8 594.8,1055.9 595.2,1056.0 595.7,1056.1 596.1,1056.3 596.6,1056.4 597.0,1056.5 597.5,1056.6 597.9,1056.7 598.3,1056.8 598.8,1057.0 599.2,1057.1 599.7,1057.2 600.1,1057.3 600.6,1057.4 601.1,1057.6 601.5,1057.7 602.0,1057.8 602.5,1057.9 602.9,1058.1 603.4,1058.2 603.9,1058.3 604.4,1058.4 604.9,1058.6 605.3,1058.7 605.8,1058.8 606.3,1059.0 606.8,1059.1 607.3,1059.2 607.8,1059.4 608.3,1059.5 608.8,1059.6 609.3,1059.7 609.8,1059.9 610.3,1060.0 610.9,1060.1 611.4,1060.3 611.9,1060.4 612.4,1060.5 612.9,1060.7 613.5,1060.8 614.0,1061.0 614.5,1061.1 615.1,1061.2 615.6,1061.4 616.1,1061.5 616.7,1061.6 617.2,1061.8 617.7,1061.9 618.3,1062.0 618.8,1062.2 619.4,1062.3 619.9,1062.5 620.5,1062.6 621.0,1062.7 621.6,1062.9 622.2,1063.0 622.7,1063.1 623.3,1063.3 623.8,1063.4 624.4,1063.6 625.0,1063.7 625.5,1063.8 626.1,1064.0 626.7,1064.1 627.3,1064.2 627.8,1064.4 628.4,1064.5 629.0,1064.7 629.6,1064.8 630.1,1064.9 630.7,1065.1 631.3,1065.2 631.9,1065.3 632.5,1065.5 633.1,1065.6 633.7,1065.7 634.2,1065.9 634.8,1066.0 635.4,1066.2 636.0,1066.3 636.6,1066.4 637.2,1066.6 637.8,1066.7 638.4,1066.8 639.0,1067.0 639.6,1067.1 640.2,1067.2 640.8,1067.4 641.4,1067.5 642.0,1067.6 642.6,1067.8 643.3,1067.9 643.9,1068.0 644.5,1068.1 645.1,1068.3 645.7,1068.4 646.3,1068.5 646.9,1068.7 647.5,1068.8 648.2,1068.9 648.8,1069.0 649.4,1069.2 650.0,1069.3 650.6,1069.4 651.3,1069.5 651.9,1069.7 652.5,1069.8 653.1,1069.9 653.8,1070.0 654.4,1070.1 655.0,1070.3 655.6,1070.4 656.3,1070.5 656.9,1070.6 657.5,1070.7 658.1,1070.8 658.8,1070.9 659.4,1071.1 660.0,1071.2 660.7,1071.3 661.3,1071.4 661.9,1071.5 662.6,1071.6 663.2,1071.7 663.8,1071.8 664.5,1071.9 665.1,1072.0 665.7,1072.1 666.4,1072.2 667.0,1072.3 667.6,1072.4 668.3,1072.5 668.9,1072.6 669.5,1072.7 670.2,1072.8 670.8,1072.8 671.4,1072.9 672.1,1073.0 672.7,1073.1 673.4,1073.2 674.0,1073.2 674.6,1073.3 675.3,1073.4 675.9,1073.5 676.5,1073.5" fill="none" stroke="#8da3d9" stroke-width="1.3"/>
<path d="M581.2,1055.0 581.6,1054.9 582.1,1054.9 582.5,1054.8 583.0,1054.7 583.5,1054.7 584.0,1054.7 584.6,1054.6 585.1,1054.6 585.7,1054.6 586.3,1054.6 586.9,1054.7 587.4,1054.7 588.0,1054.8 588.6,1054.8 589.2,1054.9 589.8,1055.0 590.4,1055.0 591.0,1055.1 591.5,1055.2 592.1,1055.3 592.6,1055.4 593.1,1055.5 593.7,1055.6 594.2,1055.7 594.7,1055.8 595.1,1055.9 595.6,1056.1 596.1,1056.2 596.5,1056.3 597.0,1056.4 597.4,1056.5 597.9,1056.6 598.3,1056.7 598.8,1056.9 599.2,1057.0 599.6,1057.1 600.1,1057.2 600.5,1057.4 601.0,1057.5 601.5,1057.6 601.9,1057.7 602.4,1057.9 602.8,1058.0 603.3,1058.1 603.8,1058.2 604.3,1058.4 604.7,1058.5 605.2,1058.6 605.7,1058.7 606.2,1058.9 606.7,1059.0 607.2,1059.1 607.7,1059.3 608.2,1059.4 608.7,1059.5 609.2,1059.7 609.7,1059.8 610.2,1059.9 610.7,1060.1 611.2,1060.2 611.7,1060.3 612.2,1060.5 612.8,1060.6 613.3,1060.7 613.8,1060.9 614.3,1061.0 614.8,1061.1 615.4,1061.3 615.9,1061.4 616.4,1061.6 617.0,1061.7 617.5,1061.8 618.1,1062.0 618.6,1062.1 619.1,1062.3 619.7,1062.4 620.2,1062.5 620.8,1062.7 621.3,1062.8 621.9,1062.9 622.5,1063.1 623.0,1063.2 623.6,1063.4 624.1,1063.5 624.7,1063.6 625.3,1063.8 625.8,1063.9 626.4,1064.1 627.0,1064.2 627.5,1064.3 628.1,1064.5 628.7,1064.6 629.3,1064.8 629.8,1064.9 630.4,1065.0 631.0,1065.2 631.6,1065.3 632.2,1065.4 632.7,1065.6 633.3,1065.7 633.9,1065.9 634.5,1066.0 635.1,1066.1 635.7,1066.3 636.3,1066.4 636.9,1066.5 637.5,1066.7 638.1,1066.8 638.7,1067.0 639.3,1067.1 639.9,1067.2 640.5,1067.4 641.1,1067.5 641.7,1067.6 642.3,1067.8 642.9,1067.9 643.5,1068.0 644.1,1068.2 644.7,1068.3 645.3,1068.4 645.9,1068.6 646.6,1068.7 647.2,1068.8 647.8,1068.9 648.4,1069.1 649.0,1069.2 649.6,1069.3 650.3,1069.5 650.9,1069.6 651.5,1069.7 652.1,1069.8 652.7,1070.0 653.4,1070.1 654.0,1070.2 654.6,1070.3 655.2,1070.4 655.9,1070.6 656.5,1070.7 657.1,1070.8 657.7,1070.9 658.4,1071.0 659.0,1071.2 659.6,1071.3 660.3,1071.4 660.9,1071.5 661.5,1071.6 662.2,1071.7 662.8,1071.8 663.4,1071.9 664.0,1072.0 664.7,1072.1 665.3,1072.2 665.9,1072.3 666.6,1072.4 667.2,1072.5 667.9,1072.6 668.5,1072.7 669.1,1072.8 669.8,1072.9 670.4,1073.0 671.0,1073.1 671.7,1073.2 672.3,1073.3 672.9,1073.4 673.6,1073.4 674.2,1073.5 674.8,1073.6 675.5,1073.7 676.1,1073.8 676.8,1073.8" fill="none" stroke="#8da3d9" stroke-width="1.3"/>
<path d="M581.2,1055.3 581.7,1055.2 582.2,1055.2 582.7,1055.2 583.3,1055.1 583.8,1055.1 584.4,1055.1 585.0,1055.1 585.6,1055.2 586.2,1055.2 586.7,1055.3 587.3,1055.3 587.9,1055.4 588.5,1055.4 589.1,1055.5 589.7,1055.6 590.2,1055.7 590.8,1055.8 591.3,1055.9 591.9,1056.0 592.4,1056.1 592.9,1056.2 593.4,1056.3 593.9,1056.4 594.3,1056.5 594.8,1056.6 595.2,1056.8 595.7,1056.9 596.1,1057.0 596.6,1057.1 597.0,1057.2 597.5,1057.3 597.9,1057.5 598.4,1057.6 598.8,1057.7 599.3,1057.8 599.7,1057.9 600.2,1058.1 600.6,1058.2 601.1,1058.3 601.6,1058.4 602.0,1058.6 602.5,1058.7 603.0,1058.8 603.5,1058.9 603.9,1059.1 604.4,1059.2 604.9,1059.3 605.4,1059.5 605.9,1059.6 606.4,1059.7 606.9,1059.8 607.4,1060.0 607.9,1060.1 608.4,1060.2 608.9,1060.4 609.4,1060.5 609.9,1060.6 610.4,1060.8 611.0,1060.9 611.5,1061.0 612.0,1061.2 612.5,1061.3 613.0,1061.4 613.6,1061.6 614.1,1061.7 614.6,1061.8 615.2,1062.0 615.7,1062.1 616.2,1062.3 616.8,1062.4 617.3,1062.5 617.9,1062.7 618.4,1062.8 619.0,1062.9 619.5,1063.1 620.1,1063.2 620.6,1063.4 621.2,1063.5 621.7,1063.6 622.3,1063.8 622.8,1063.9 623.4,1064.0 624.0,1064.2 624.5,1064.3 625.1,1064.5 625.7,1064.6 626.3,1064.7 626.8,1064.9 627.4,1065.0 628.0,1065.1 628.6,1065.3 629.1,1065.4 629.7,1065.6 630.3,1065.7 630.9,1065.8 631.5,1066.0 632.0,1066.1 632.6,1066.2 633.2,1066.4 633.8,1066.5 634.4,1066.6 635.0,1066.8 635.6,1066.9 636.2,1067.0 636.8,1067.2 637.4,1067.3 638.0,1067.5 638.6,1067.6 639.2,1067.7 639.8,1067.9 640.4,1068.0 641.0,1068.1 641.6,1068.2 642.2,1068.4 642.8,1068.5 643.4,1068.6 644.1,1068.8 644.7,1068.9 645.3,1069.0 645.9,1069.2 646.5,1069.3 647.1,1069.4 647.7,1069.5 648.4,1069.7 649.0,1069.8 649.6,1069.9 650.2,1070.0 650.8,1070.2 651.5,1070.3 652.1,1070.4 652.7,1070.5 653.3,1070.6 654.0,1070.8 654.6,1070.9 655.2,1071.0 655.8,1071.1 656.5,1071.2 657.1,1071.3 657.7,1071.5 658.3,1071.6 659.0,1071.7 659.6,1071.8 660.2,1071.9 660.9,1072.0 661.5,1072.1 662.1,1072.2 662.8,1072.3 663.4,1072.4 664.0,1072.5 664.7,1072.6 665.3,1072.7 665.9,1072.8 666.6,1072.9 667.2,1073.0 667.8,1073.1 668.5,1073.2 669.1,1073.3 669.8,1073.4 670.4,1073.5 671.0,1073.5 671.7,1073.6 672.3,1073.7 672.9,1073.8 673.6,1073.9 674.2,1073.9 674.8,1074.0 675.5,1074.1 676.1,1074.2 676.8,1074.2" fill="none" stroke="#8da3d9" stroke-width="1.3"/>
<path d="M581.2,1055.7 581.6,1055.6 582.1,1055.6 582.6,1055.5 583.1,1055.4 583.6,1055.4 584.1,1055.4 584.7,1055.4 585.3,1055.4 585.8,1055.4 586.4,1055.4 587.0,1055.5 587.6,1055.5 588.2,1055.6 588.8,1055.6 589.4,1055.7 590.0,1055.8 590.5,1055.9 591.1,1056.0 591.6,1056.1 592.2,1056.2 592.7,1056.3 593.2,1056.4 593.7,1056.5 594.2,1056.6 594.7,1056.7 595.2,1056.8 595.6,1056.9 596.1,1057.0 596.6,1057.1 597.0,1057.2 597.4,1057.4 597.9,1057.5 598.3,1057.6 598.8,1057.7 599.2,1057.8 599.7,1058.0 600.1,1058.1 600.6,1058.2 601.0,1058.3 601.5,1058.4 602.0,1058.6 602.4,1058.7 602.9,1058.8 603.4,1058.9 603.8,1059.1 604.3,1059.2 604.8,1059.3 605.3,1059.5 605.8,1059.6 606.3,1059.7 606.7,1059.8 607.2,1060.0 607.7,1060.1 608.2,1060.2 608.7,1060.4 609.2,1060.5 609.8,1060.6 610.3,1060.8 610.8,1060.9 611.3,1061.0 611.8,1061.2 612.3,1061.3 612.8,1061.4 613.4,1061.6 613.9,1061.7 614.4,1061.8 615.0,1062.0 615.5,1062.1 616.0,1062.2 616.6,1062.4 617.1,1062.5 617.6,1062.6 618.2,1062.8 618.7,1062.9 619.3,1063.1 619.8,1063.2 620.4,1063.3 620.9,1063.5 621.5,1063.6 622.0,1063.7 622.6,1063.9 623.1,1064.0 623.7,1064.2 624.3,1064.3 624.8,1064.4 625.4,1064.6 626.0,1064.7 626.5,1064.8 627.1,1065.0 627.7,1065.1 628.3,1065.3 628.8,1065.4 629.4,1065.5 630.0,1065.7 630.6,1065.8 631.1,1065.9 631.7,1066.1 632.3,1066.2 632.9,1066.4 633.5,1066.5 634.1,1066.6 634.7,1066.8 635.3,1066.9 635.9,1067.0 636.5,1067.2 637.0,1067.3 637.6,1067.4 638.2,1067.6 638.8,1067.7 639.4,1067.8 640.0,1068.0 640.6,1068.1 641.3,1068.2 641.9,1068.4 642.5,1068.5 643.1,1068.6 643.7,1068.8 644.3,1068.9 644.9,1069.0 645.5,1069.2 646.1,1069.3 646.7,1069.4 647.4,1069.5 648.0,1069.7 648.6,1069.8 649.2,1069.9 649.8,1070.0 650.4,1070.2 651.1,1070.3 651.7,1070.4 652.3,1070.5 652.9,1070.7 653.6,1070.8 654.2,1070.9 654.8,1071.0 655.4,1071.1 656.1,1071.3 656.7,1071.4 657.3,1071.5 657.9,1071.6 658.6,1071.7 659.2,1071.8 659.8,1071.9 660.5,1072.0 661.1,1072.2 661.7,1072.3 662.4,1072.4 663.0,1072.5 663.6,1072.6 664.3,1072.7 664.9,1072.8 665.5,1072.9 666.2,1073.0 666.8,1073.1 667.4,1073.2 668.1,1073.3 668.7,1073.4 669.3,1073.5 670.0,1073.5 670.6,1073.6 671.2,1073.7 671.9,1073.8 672.5,1073.9 673.1,1074.0 673.8,1074.1 674.4,1074.1 675.1,1074.2 675.7,1074.3 676.3,1074.4 677.0,1074.4" fill="none" stroke="#8da3d9" stroke-width="1.3"/>
<path d="M581.3,1055.8 581.8,1055.7 582.3,1055.7 582.9,1055.6 583.4,1055.6 584.0,1055.6 584.6,1055.7 585.1,1055.7 585.7,1055.7 586.3,1055.8 586.9,1055.8 587.5,1055.9 588.1,1056.0 588.7,1056.0 589.2,1056.1 589.8,1056.2 590.4,1056.3 590.9,1056.4 591.4,1056.5 592.0,1056.6 592.5,1056.7 592.9,1056.8 593.4,1056.9 593.9,1057.0 594.4,1057.2 594.8,1057.3 595.3,1057.4 595.7,1057.5 596.2,1057.6 596.6,1057.7 597.0,1057.8 597.5,1058.0 597.9,1058.1 598.4,1058.2 598.8,1058.3 599.3,1058.4 599.8,1058.6 600.2,1058.7 600.7,1058.8 601.1,1058.9 601.6,1059.1 602.1,1059.2 602.6,1059.3 603.0,1059.4 603.5,1059.6 604.0,1059.7 604.5,1059.8 605.0,1059.9 605.5,1060.1 606.0,1060.2 606.5,1060.3 607.0,1060.5 607.5,1060.6 608.0,1060.7 608.5,1060.9 609.0,1061.0 609.5,1061.1 610.0,1061.3 610.5,1061.4 611.0,1061.5 611.6,1061.7 612.1,1061.8 612.6,1061.9 613.1,1062.1 613.7,1062.2 614.2,1062.3 614.7,1062.5 615.3,1062.6 615.8,1062.7 616.4,1062.9 616.9,1063.0 617.4,1063.1 618.0,1063.3 618.5,1063.4 619.1,1063.5 619.6,1063.7 620.2,1063.8 620.7,1064.0 621.3,1064.1 621.9,1064.2 622.4,1064.4 623.0,1064.5 623.5,1064.6 624.1,1064.8 624.7,1064.9 625.3,1065.1 625.8,1065.2 626.4,1065.3 627.0,1065.5 627.5,1065.6 628.1,1065.7 628.7,1065.9 629.3,1066.0 629.9,1066.1 630.5,1066.3 631.0,1066.4 631.6,1066.6 632.2,1066.7 632.8,1066.8 633.4,1067.0 634.0,1067.1 634.6,1067.2 635.2,1067.4 635.8,1067.5 636.4,1067.6 637.0,1067.8 637.6,1067.9 638.2,1068.0 638.8,1068.2 639.4,1068.3 640.0,1068.4 640.6,1068.6 641.2,1068.7 641.8,1068.8 642.4,1069.0 643.0,1069.1 643.6,1069.2 644.2,1069.3 644.9,1069.5 645.5,1069.6 646.1,1069.7 646.7,1069.8 647.3,1070.0 647.9,1070.1 648.5,1070.2 649.2,1070.3 649.8,1070.5 650.4,1070.6 651.0,1070.7 651.7,1070.8 652.3,1071.0 652.9,1071.1 653.5,1071.2 654.2,1071.3 654.8,1071.4 655.4,1071.5 656.0,1071.6 656.7,1071.8 657.3,1071.9 657.9,1072.0 658.6,1072.1 659.2,1072.2 659.8,1072.3 660.4,1072.4 661.1,1072.5 661.7,1072.6 662.3,1072.7 663.0,1072.8 663.6,1072.9 664.2,1073.0 664.9,1073.1 665.5,1073.2 666.1,1073.3 666.8,1073.4 667.4,1073.5 668.1,1073.6 668.7,1073.7 669.3,1073.8 670.0,1073.9 670.6,1073.9 671.2,1074.0 671.9,1074.1 672.5,1074.2 673.1,1074.3 673.8,1074.3 674.4,1074.4 675.1,1074.5 675.7,1074.6 676.3,1074.6 677.0,1074.7" fill="none" stroke="#8da3d9" stroke-width="1.3"/>
<path d="M581.3,1056.6 581.8,1056.6 582.3,1056.6 582.9,1056.5 583.4,1056.5 584.0,1056.5 584.6,1056.5 585.1,1056.6 585.7,1056.6 586.3,1056.7 586.9,1056.7 587.5,1056.8 588.1,1056.8 588.7,1056.9 589.2,1057.0 589.8,1057.1 590.4,1057.2 590.9,1057.3 591.4,1057.4 592.0,1057.5 592.5,1057.6 592.9,1057.7 593.4,1057.8 593.9,1057.9 594.4,1058.0 594.8,1058.1 595.3,1058.2 595.7,1058.3 596.2,1058.4 596.6,1058.5 597.0,1058.6 597.5,1058.8 597.9,1058.9 598.4,1059.0 598.8,1059.1 599.3,1059.2 599.8,1059.3 600.2,1059.5 600.7,1059.6 601.1,1059.7 601.6,1059.8 602.1,1059.9 602.6,1060.1 603.0,1060.2 603.5,1060.3 604.0,1060.4 604.5,1060.6 605.0,1060.7 605.5,1060.8 606.0,1060.9 606.5,1061.1 607.0,1061.2 607.5,1061.3 608.0,1061.4 608.5,1061.6 609.0,1061.7 609.5,1061.8 610.0,1061.9 610.5,1062.1 611.0,1062.2 611.6,1062.3 612.1,1062.5 612.6,1062.6 613.1,1062.7 613.7,1062.9 614.2,1063.0 614.7,1063.1 615.3,1063.2 615.8,1063.4 616.4,1063.5 616.9,1063.6 617.4,1063.8 618.0,1063.9 618.5,1064.0 619.1,1064.2 619.6,1064.3 620.2,1064.4 620.7,1064.6 621.3,1064.7 621.9,1064.8 622.4,1065.0 623.0,1065.1 623.5,1065.2 624.1,1065.4 624.7,1065.5 625.3,1065.6 625.8,1065.7 626.4,1065.9 627.0,1066.0 627.5,1066.1 628.1,1066.3 628.7,1066.4 629.3,1066.5 629.9,1066.7 630.5,1066.8 631.0,1066.9 631.6,1067.1 632.2,1067.2 632.8,1067.3 633.4,1067.5 634.0,1067.6 634.6,1067.7 635.2,1067.8 635.8,1068.0 636.4,1068.1 637.0,1068.2 637.6,1068.4 638.2,1068.5 638.8,1068.6 639.4,1068.7 640.0,1068.9 640.6,1069.0 641.2,1069.1 641.8,1069.2 642.4,1069.4 643.0,1069.5 643.6,1069.6 644.2,1069.7 644.9,1069.9 645.5,1070.0 646.1,1070.1 646.7,1070.2 647.3,1070.3 647.9,1070.5 648.5,1070.6 649.2,1070.7 649.8,1070.8 650.4,1070.9 651.0,1071.1 651.7,1071.2 652.3,1071.3 652.9,1071.4 653.5,1071.5 654.2,1071.6 654.8,1071.7 655.4,1071.8 656.0,1072.0 656.7,1072.1 657.3,1072.2 657.9,1072.3 658.6,1072.4 659.2,1072.5 659.8,1072.6 660.4,1072.7 661.1,1072.8 661.7,1072.9 662.3,1073.0 663.0,1073.1 663.6,1073.2 664.2,1073.3 664.9,1073.4 665.5,1073.5 666.1,1073.5 666.8,1073.6 667.4,1073.7 668.1,1073.8 668.7,1073.9 669.3,1074.0 670.0,1074.0 670.6,1074.1 671.2,1074.2 671.9,1074.3 672.5,1074.4 673.1,1074.4 673.8,1074.5 674.4,1074.6 675.1,1074.6 675.7,1074.7 676.3,1074.8 677.0,1074.8" fill="none" stroke="#8da3d9" stroke-width="1.3"/>
<path d="M563.6,1127.0 563.9,1125.5 564.1,1123.9 564.3,1122.4 564.4,1120.9 564.6,1119.3 564.7,1117.8 564.8,1116.3 564.9,1114.7 564.9,1113.2 565.0,1111.7 565.1,1110.2 565.1,1108.7 565.1,1107.2 565.2,1105.7 565.2,1104.2 565.3,1102.7 565.3,1101.2 565.3,1099.7 565.4,1098.2 565.4,1096.7 565.5,1095.2 565.6,1093.7 565.6,1092.2 565.7,1090.7 565.9,1089.1 566.0,1087.6 566.1,1086.1 566.3,1084.6 566.5,1083.1 566.7,1081.5 567.0,1080.0 567.3,1078.4 567.6,1076.9 567.9,1075.3 568.3,1073.8 568.7,1072.2 569.2,1070.7 569.7,1069.1 570.2,1067.7 570.8,1066.2 571.5,1064.8 572.2,1063.4 572.9,1062.2 573.8,1061.0 574.6,1059.8 575.6,1058.8 576.6,1057.9 577.7,1057.1 578.9,1056.4 580.2,1055.9 581.5,1055.5 582.9,1055.2 584.4,1055.1 586.0,1055.1 587.5,1055.2 589.1,1055.4 590.6,1055.6 592.1,1055.9 593.6,1056.2 595.1,1056.6 596.6,1057.0 598.1,1057.4 599.5,1057.9 601.0,1058.3 602.5,1058.7 604.0,1059.1 605.4,1059.5 606.9,1059.8 608.4,1060.2 609.8,1060.6 611.3,1061.0 612.8,1061.3 614.3,1061.7 615.7,1062.1 617.2,1062.4 618.7,1062.8 620.2,1063.2 621.6,1063.5 623.1,1063.9 624.6,1064.2 626.1,1064.6 627.6,1064.9 629.0,1065.3 630.5,1065.6 632.0,1066.0 633.5,1066.3 635.0,1066.7 636.5,1067.0 637.9,1067.3 639.4,1067.7 640.9,1068.0 642.4,1068.3 643.9,1068.6 645.4,1068.9 646.9,1069.2 648.4,1069.6 649.9,1069.8 651.4,1070.1 652.9,1070.4 654.4,1070.7 655.9,1071.0 657.4,1071.3 658.9,1071.5 660.4,1071.8 661.9,1072.0 663.4,1072.3 664.9,1072.5 666.4,1072.7 667.9,1072.9 669.4,1073.1 670.9,1073.3 672.4,1073.5 673.9,1073.7 675.4,1073.9 676.9,1074.1" fill="none" stroke="#1f3566" stroke-width="2.8"/>
</g>
<text transform="translate(11.40,212.45) rotate(-90)" x="0" y="0" font-size="16.2" font-weight="bold" text-anchor="middle">Lorazepam concentration [ng/mL]</text>
<text transform="translate(366.60,212.30) rotate(-90)" x="0" y="0" font-size="16.2" font-weight="bold" text-anchor="middle">Lorazepam concentration [ng/mL]</text>
<text transform="translate(11.40,676.45) rotate(-90)" x="0" y="0" font-size="16.2" font-weight="bold" text-anchor="middle">Propranolol concentration [ng/mL]</text>
<text transform="translate(366.60,676.45) rotate(-90)" x="0" y="0" font-size="16.2" font-weight="bold" text-anchor="middle">Propranolol concentration [ng/mL]</text>
<text transform="translate(19.70,1187.50) rotate(-90)" x="0" y="0" font-size="16.2" font-weight="bold" text-anchor="middle">Propranolol concentration [ng/mL]</text>
<text transform="translate(374.70,1187.50) rotate(-90)" x="0" y="0" font-size="16.2" font-weight="bold" text-anchor="middle">Propranolol concentration [ng/mL]</text>
<text x="186.03" y="439.85" font-size="16.2" font-weight="bold" text-anchor="middle">Time [h]</text>
<text x="540.90" y="439.85" font-size="16.2" font-weight="bold" text-anchor="middle">Time [h]</text>
<text x="186.03" y="903.65" font-size="16.2" font-weight="bold" text-anchor="middle">Time [h]</text>
<text x="540.90" y="903.65" font-size="16.2" font-weight="bold" text-anchor="middle">Time [h]</text>
<text x="186.03" y="1414.90" font-size="16.2" font-weight="bold" text-anchor="middle">Time [h]</text>
<text x="540.90" y="1414.90" font-size="16.2" font-weight="bold" text-anchor="middle">Time [h]</text>
<text x="24.30" y="11.60" font-size="16" font-weight="bold" text-anchor="start">(a)</text>
<text x="379.00" y="11.60" font-size="16" font-weight="bold" text-anchor="start">(b)</text>
<text x="24.30" y="475.60" font-size="16" font-weight="bold" text-anchor="start">(c)</text>
<text x="379.00" y="475.60" font-size="16" font-weight="bold" text-anchor="start">(d)</text>
<text x="24.30" y="987.00" font-size="16" font-weight="bold" text-anchor="start">(e)</text>
<text x="379.00" y="987.00" font-size="16" font-weight="bold" text-anchor="start">(f)</text>
</svg></body></html>
